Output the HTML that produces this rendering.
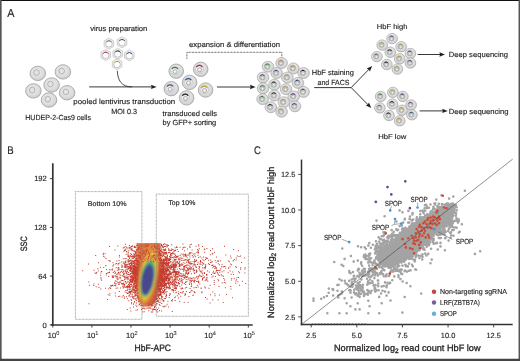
<!DOCTYPE html><html><head><meta charset="utf-8"><style>html,body{margin:0;padding:0;background:#fff;}svg{display:block;} text{stroke:#231f20;stroke-width:0.15px;paint-order:stroke;} text.big{stroke-width:0.3px;} svg{will-change:transform;text-rendering:geometricPrecision;}</style></head><body><svg width="520" height="361" viewBox="0 0 520 361" font-family='"Liberation Sans", sans-serif'>
<defs><radialGradient id="ng" cx="0.5" cy="0.4" r="0.6"><stop offset="0" stop-color="#ffffff"/><stop offset="1" stop-color="#cfcfcf"/></radialGradient><radialGradient id="cg" cx="0.45" cy="0.4" r="0.6"><stop offset="0" stop-color="#ececec"/><stop offset="0.7" stop-color="#dcdcdc"/><stop offset="1" stop-color="#cbcbcb"/></radialGradient><filter id="bl" x="-50%" y="-50%" width="200%" height="200%"><feGaussianBlur stdDeviation="0.9"/></filter></defs>
<rect width="520" height="361" fill="#fff"/>
<text x="7.30" y="17.20" font-size="11.6" fill="#231f20" text-anchor="start" textLength="7.20" lengthAdjust="spacingAndGlyphs" >A</text>
<text x="90.20" y="30.80" font-size="7.4" fill="#231f20" text-anchor="start" textLength="57.20" lengthAdjust="spacingAndGlyphs" >virus preparation</text>
<text x="189.00" y="47.00" font-size="7.4" fill="#231f20" text-anchor="start" textLength="91.00" lengthAdjust="spacingAndGlyphs" >expansion &amp; differentiation</text>
<text x="25.30" y="119.70" font-size="7.4" fill="#231f20" text-anchor="start" textLength="65.60" lengthAdjust="spacingAndGlyphs" >HUDEP-2-Cas9 cells</text>
<text x="73.30" y="103.50" font-size="7.4" fill="#231f20" text-anchor="start" textLength="101.90" lengthAdjust="spacingAndGlyphs" >pooled lentivirus transduction</text>
<text x="111.20" y="113.50" font-size="7.4" fill="#231f20" text-anchor="start" textLength="25.80" lengthAdjust="spacingAndGlyphs" >MOI 0.3</text>
<text x="162.60" y="116.30" font-size="7.4" fill="#231f20" text-anchor="start" textLength="54.50" lengthAdjust="spacingAndGlyphs" >transduced cells</text>
<text x="162.60" y="125.00" font-size="7.4" fill="#231f20" text-anchor="start" textLength="53.60" lengthAdjust="spacingAndGlyphs" >by GFP+ sorting</text>
<text x="311.80" y="75.10" font-size="7.4" fill="#231f20" text-anchor="start" textLength="42.00" lengthAdjust="spacingAndGlyphs" >HbF staining</text>
<text x="317.60" y="84.90" font-size="7.4" fill="#231f20" text-anchor="start" textLength="31.70" lengthAdjust="spacingAndGlyphs" >and FACS</text>
<text x="376.70" y="29.40" font-size="7.0" fill="#231f20" text-anchor="start" textLength="30.80" lengthAdjust="spacingAndGlyphs" >HbF high</text>
<text x="448.80" y="57.20" font-size="7.4" fill="#231f20" text-anchor="start" textLength="59.30" lengthAdjust="spacingAndGlyphs" >Deep sequencing</text>
<text x="448.80" y="114.00" font-size="7.4" fill="#231f20" text-anchor="start" textLength="59.80" lengthAdjust="spacingAndGlyphs" >Deep sequencing</text>
<text x="378.20" y="138.80" font-size="7.0" fill="#231f20" text-anchor="start" textLength="28.20" lengthAdjust="spacingAndGlyphs" >HbF low</text>
<line x1="89.20" y1="86.90" x2="153.00" y2="86.90" stroke="#231f20" stroke-width="0.9" />
<path d="M156.60 86.90L151.00 89.10L151.67 86.90L151.00 84.70z" fill="#231f20"/>
<path d="M117.3 70.8C117.8 80 121 86.9 132 86.9" fill="none" stroke="#231f20" stroke-width="0.8"/>
<line x1="217.00" y1="87.00" x2="252.00" y2="87.00" stroke="#231f20" stroke-width="0.9" />
<path d="M255.60 87.00L250.00 89.20L250.67 87.00L250.00 84.80z" fill="#231f20"/>
<line x1="314.20" y1="87.60" x2="351.20" y2="87.60" stroke="#231f20" stroke-width="0.9" />
<line x1="351.20" y1="87.60" x2="369.50" y2="68.70" stroke="#231f20" stroke-width="0.9" />
<path d="M372.20 66.00L369.87 71.55L368.76 69.53L366.72 68.48z" fill="#231f20"/>
<line x1="351.20" y1="87.60" x2="368.60" y2="105.30" stroke="#231f20" stroke-width="0.9" />
<path d="M371.30 108.00L365.80 105.56L367.84 104.49L368.94 102.47z" fill="#231f20"/>
<line x1="417.70" y1="54.50" x2="441.50" y2="54.50" stroke="#231f20" stroke-width="0.9" />
<path d="M445.00 54.50L439.40 56.70L440.07 54.50L439.40 52.30z" fill="#231f20"/>
<line x1="419.60" y1="110.90" x2="444.30" y2="110.90" stroke="#231f20" stroke-width="0.9" />
<path d="M447.80 110.90L442.20 113.10L442.87 110.90L442.20 108.70z" fill="#231f20"/>
<path d="M186.9 58.8V52.3H281.8V57.6" fill="none" stroke="#222" stroke-width="0.9" stroke-dasharray="0.7 0.75"/>
<ellipse cx="37.80" cy="73.40" rx="7.80" ry="7.20" fill="url(#cg)" stroke="#9a9a9a" stroke-width="0.75"/>
<circle cx="36.63" cy="72.54" r="2.78" fill="#e4e4e4" stroke="#a0a0a0" stroke-width="0.70"/>
<ellipse cx="62.90" cy="71.90" rx="7.80" ry="7.20" fill="url(#cg)" stroke="#9a9a9a" stroke-width="0.75"/>
<circle cx="61.73" cy="71.04" r="2.78" fill="#e4e4e4" stroke="#a0a0a0" stroke-width="0.70"/>
<ellipse cx="51.60" cy="85.00" rx="7.80" ry="7.20" fill="url(#cg)" stroke="#9a9a9a" stroke-width="0.75"/>
<circle cx="50.43" cy="84.14" r="2.78" fill="#e4e4e4" stroke="#a0a0a0" stroke-width="0.70"/>
<ellipse cx="33.40" cy="90.90" rx="7.80" ry="7.20" fill="url(#cg)" stroke="#9a9a9a" stroke-width="0.75"/>
<circle cx="32.23" cy="90.04" r="2.78" fill="#e4e4e4" stroke="#a0a0a0" stroke-width="0.70"/>
<ellipse cx="67.10" cy="92.75" rx="7.80" ry="7.20" fill="url(#cg)" stroke="#9a9a9a" stroke-width="0.75"/>
<circle cx="65.93" cy="91.89" r="2.78" fill="#e4e4e4" stroke="#a0a0a0" stroke-width="0.70"/>
<ellipse cx="49.00" cy="100.00" rx="7.80" ry="7.20" fill="url(#cg)" stroke="#9a9a9a" stroke-width="0.75"/>
<circle cx="47.83" cy="99.14" r="2.78" fill="#e4e4e4" stroke="#a0a0a0" stroke-width="0.70"/>
<polygon points="108.90,38.10 113.66,40.85 113.66,46.35 108.90,49.10 104.14,46.35 104.14,40.85" fill="#fcfcfc" stroke="#a0a0a0" stroke-width="0.5"/>
<polygon points="108.90,38.98 112.90,41.29 112.90,45.91 108.90,48.22 104.90,45.91 104.90,41.29" fill="none" stroke="#cfcfcf" stroke-width="0.4"/>
<circle cx="108.90" cy="43.80" r="3.3" fill="#ffffff" stroke="#8e8e8e" stroke-width="0.5"/>
<path d="M106.30 42.30A3.0 3.0 0 0 1 111.50 42.30" fill="none" stroke="#3d7d35" stroke-width="0.95"/>
<polygon points="122.00,36.80 126.76,39.55 126.76,45.05 122.00,47.80 117.24,45.05 117.24,39.55" fill="#fcfcfc" stroke="#a0a0a0" stroke-width="0.5"/>
<polygon points="122.00,37.68 126.00,39.99 126.00,44.61 122.00,46.92 118.00,44.61 118.00,39.99" fill="none" stroke="#cfcfcf" stroke-width="0.4"/>
<circle cx="122.00" cy="42.50" r="3.3" fill="#ffffff" stroke="#8e8e8e" stroke-width="0.5"/>
<path d="M119.40 41.00A3.0 3.0 0 0 1 124.60 41.00" fill="none" stroke="#5f3776" stroke-width="0.95"/>
<polygon points="105.70,49.50 110.46,52.25 110.46,57.75 105.70,60.50 100.94,57.75 100.94,52.25" fill="#fcfcfc" stroke="#a0a0a0" stroke-width="0.5"/>
<polygon points="105.70,50.38 109.70,52.69 109.70,57.31 105.70,59.62 101.70,57.31 101.70,52.69" fill="none" stroke="#cfcfcf" stroke-width="0.4"/>
<circle cx="105.70" cy="55.20" r="3.3" fill="#ffffff" stroke="#8e8e8e" stroke-width="0.5"/>
<path d="M103.10 53.70A3.0 3.0 0 0 1 108.30 53.70" fill="none" stroke="#a52b3b" stroke-width="0.95"/>
<polygon points="117.70,48.20 122.46,50.95 122.46,56.45 117.70,59.20 112.94,56.45 112.94,50.95" fill="#fcfcfc" stroke="#a0a0a0" stroke-width="0.5"/>
<polygon points="117.70,49.08 121.70,51.39 121.70,56.01 117.70,58.32 113.70,56.01 113.70,51.39" fill="none" stroke="#cfcfcf" stroke-width="0.4"/>
<circle cx="117.70" cy="53.90" r="3.3" fill="#ffffff" stroke="#8e8e8e" stroke-width="0.5"/>
<path d="M115.10 52.40A3.0 3.0 0 0 1 120.30 52.40" fill="none" stroke="#1a1a1a" stroke-width="0.95"/>
<polygon points="129.30,49.90 134.06,52.65 134.06,58.15 129.30,60.90 124.54,58.15 124.54,52.65" fill="#fcfcfc" stroke="#a0a0a0" stroke-width="0.5"/>
<polygon points="129.30,50.78 133.30,53.09 133.30,57.71 129.30,60.02 125.30,57.71 125.30,53.09" fill="none" stroke="#cfcfcf" stroke-width="0.4"/>
<circle cx="129.30" cy="55.60" r="3.3" fill="#ffffff" stroke="#8e8e8e" stroke-width="0.5"/>
<path d="M126.70 54.10A3.0 3.0 0 0 1 131.90 54.10" fill="none" stroke="#26457f" stroke-width="0.95"/>
<polygon points="117.10,58.70 121.86,61.45 121.86,66.95 117.10,69.70 112.34,66.95 112.34,61.45" fill="#fcfcfc" stroke="#a0a0a0" stroke-width="0.5"/>
<polygon points="117.10,59.58 121.10,61.89 121.10,66.51 117.10,68.82 113.10,66.51 113.10,61.89" fill="none" stroke="#cfcfcf" stroke-width="0.4"/>
<circle cx="117.10" cy="64.40" r="3.3" fill="#ffffff" stroke="#8e8e8e" stroke-width="0.5"/>
<path d="M114.50 62.90A3.0 3.0 0 0 1 119.70 62.90" fill="none" stroke="#c29d2b" stroke-width="0.95"/>
<ellipse cx="176.20" cy="71.20" rx="7.30" ry="7.20" fill="url(#cg)" stroke="#9a9a9a" stroke-width="0.75"/>
<circle cx="174.89" cy="70.77" r="4.23" fill="#e9e9e9" stroke="#b0b0b0" stroke-width="0.50"/>
<circle cx="175.10" cy="71.79" r="2.04" fill="url(#ng)" stroke="#8c8c8c" stroke-width="0.50"/>
<path d="M171.91 69.05A3.43 3.43 0 0 1 177.86 69.05" fill="none" stroke="#3d7d35" stroke-width="1.25"/>
<ellipse cx="200.70" cy="69.30" rx="7.30" ry="7.20" fill="url(#cg)" stroke="#9a9a9a" stroke-width="0.75"/>
<circle cx="199.39" cy="68.87" r="4.23" fill="#e9e9e9" stroke="#b0b0b0" stroke-width="0.50"/>
<circle cx="199.60" cy="69.89" r="2.04" fill="url(#ng)" stroke="#8c8c8c" stroke-width="0.50"/>
<path d="M196.41 67.15A3.43 3.43 0 0 1 202.36 67.15" fill="none" stroke="#a52b3b" stroke-width="1.25"/>
<ellipse cx="189.60" cy="82.40" rx="7.30" ry="7.20" fill="url(#cg)" stroke="#9a9a9a" stroke-width="0.75"/>
<circle cx="188.29" cy="81.97" r="4.23" fill="#e9e9e9" stroke="#b0b0b0" stroke-width="0.50"/>
<circle cx="188.50" cy="82.99" r="2.04" fill="url(#ng)" stroke="#8c8c8c" stroke-width="0.50"/>
<path d="M185.31 80.25A3.43 3.43 0 0 1 191.26 80.25" fill="none" stroke="#26457f" stroke-width="1.25"/>
<ellipse cx="171.30" cy="88.70" rx="7.30" ry="7.20" fill="url(#cg)" stroke="#9a9a9a" stroke-width="0.75"/>
<circle cx="169.99" cy="88.27" r="4.23" fill="#e9e9e9" stroke="#b0b0b0" stroke-width="0.50"/>
<circle cx="170.21" cy="89.29" r="2.04" fill="url(#ng)" stroke="#8c8c8c" stroke-width="0.50"/>
<path d="M167.01 86.55A3.43 3.43 0 0 1 172.96 86.55" fill="none" stroke="#5f3776" stroke-width="1.25"/>
<ellipse cx="205.60" cy="90.00" rx="7.30" ry="7.20" fill="url(#cg)" stroke="#9a9a9a" stroke-width="0.75"/>
<circle cx="204.29" cy="89.57" r="4.23" fill="#e9e9e9" stroke="#b0b0b0" stroke-width="0.50"/>
<circle cx="204.50" cy="90.59" r="2.04" fill="url(#ng)" stroke="#8c8c8c" stroke-width="0.50"/>
<path d="M201.31 87.85A3.43 3.43 0 0 1 207.26 87.85" fill="none" stroke="#c29d2b" stroke-width="1.25"/>
<ellipse cx="186.60" cy="97.90" rx="7.30" ry="7.20" fill="url(#cg)" stroke="#9a9a9a" stroke-width="0.75"/>
<circle cx="185.29" cy="97.47" r="4.23" fill="#e9e9e9" stroke="#b0b0b0" stroke-width="0.50"/>
<circle cx="185.50" cy="98.49" r="2.04" fill="url(#ng)" stroke="#8c8c8c" stroke-width="0.50"/>
<path d="M182.31 95.75A3.43 3.43 0 0 1 188.26 95.75" fill="none" stroke="#1a1a1a" stroke-width="1.25"/>
<ellipse cx="268.00" cy="66.70" rx="5.80" ry="5.50" fill="url(#cg)" stroke="#9a9a9a" stroke-width="0.60"/>
<circle cx="267.30" cy="66.37" r="2.90" fill="#c2c2c2" stroke="#8c8c8c" stroke-width="0.40"/>
<circle cx="267.48" cy="67.18" r="1.39" fill="url(#ng)" stroke="#b0b0b0" stroke-width="0.40"/>
<path d="M265.29 65.21A2.32 2.32 0 0 1 269.31 65.21" fill="none" stroke="#3d7d35" stroke-width="1.00"/>
<ellipse cx="281.60" cy="63.10" rx="5.80" ry="5.50" fill="url(#cg)" stroke="#9a9a9a" stroke-width="0.60"/>
<circle cx="280.90" cy="62.77" r="2.90" fill="#c2c2c2" stroke="#8c8c8c" stroke-width="0.40"/>
<circle cx="281.08" cy="63.58" r="1.39" fill="url(#ng)" stroke="#b0b0b0" stroke-width="0.40"/>
<path d="M278.89 61.61A2.32 2.32 0 0 1 282.91 61.61" fill="none" stroke="#c0862a" stroke-width="1.00"/>
<ellipse cx="293.40" cy="68.50" rx="5.80" ry="5.50" fill="url(#cg)" stroke="#9a9a9a" stroke-width="0.60"/>
<circle cx="292.70" cy="68.17" r="2.90" fill="#c2c2c2" stroke="#8c8c8c" stroke-width="0.40"/>
<circle cx="292.88" cy="68.98" r="1.39" fill="url(#ng)" stroke="#b0b0b0" stroke-width="0.40"/>
<path d="M290.69 67.01A2.32 2.32 0 0 1 294.71 67.01" fill="none" stroke="#c0862a" stroke-width="1.00"/>
<ellipse cx="303.60" cy="73.00" rx="5.80" ry="5.50" fill="url(#cg)" stroke="#9a9a9a" stroke-width="0.60"/>
<circle cx="302.90" cy="72.67" r="2.90" fill="#c2c2c2" stroke="#8c8c8c" stroke-width="0.40"/>
<circle cx="303.08" cy="73.48" r="1.39" fill="url(#ng)" stroke="#b0b0b0" stroke-width="0.40"/>
<path d="M300.89 71.51A2.32 2.32 0 0 1 304.91 71.51" fill="none" stroke="#1a1a1a" stroke-width="1.00"/>
<ellipse cx="276.60" cy="73.00" rx="5.80" ry="5.50" fill="url(#cg)" stroke="#9a9a9a" stroke-width="0.60"/>
<circle cx="275.90" cy="72.67" r="2.90" fill="#c2c2c2" stroke="#8c8c8c" stroke-width="0.40"/>
<circle cx="276.08" cy="73.48" r="1.39" fill="url(#ng)" stroke="#b0b0b0" stroke-width="0.40"/>
<path d="M273.89 71.51A2.32 2.32 0 0 1 277.91 71.51" fill="none" stroke="#26457f" stroke-width="1.00"/>
<ellipse cx="287.40" cy="77.50" rx="5.80" ry="5.50" fill="url(#cg)" stroke="#9a9a9a" stroke-width="0.60"/>
<circle cx="286.70" cy="77.17" r="2.90" fill="#c2c2c2" stroke="#8c8c8c" stroke-width="0.40"/>
<circle cx="286.88" cy="77.98" r="1.39" fill="url(#ng)" stroke="#b0b0b0" stroke-width="0.40"/>
<path d="M284.69 76.01A2.32 2.32 0 0 1 288.71 76.01" fill="none" stroke="#c29d2b" stroke-width="1.00"/>
<ellipse cx="263.10" cy="77.50" rx="5.80" ry="5.50" fill="url(#cg)" stroke="#9a9a9a" stroke-width="0.60"/>
<circle cx="262.40" cy="77.17" r="2.90" fill="#c2c2c2" stroke="#8c8c8c" stroke-width="0.40"/>
<circle cx="262.58" cy="77.98" r="1.39" fill="url(#ng)" stroke="#b0b0b0" stroke-width="0.40"/>
<path d="M260.39 76.01A2.32 2.32 0 0 1 264.41 76.01" fill="none" stroke="#5f3776" stroke-width="1.00"/>
<ellipse cx="297.90" cy="82.90" rx="5.80" ry="5.50" fill="url(#cg)" stroke="#9a9a9a" stroke-width="0.60"/>
<circle cx="297.20" cy="82.57" r="2.90" fill="#c2c2c2" stroke="#8c8c8c" stroke-width="0.40"/>
<circle cx="297.38" cy="83.38" r="1.39" fill="url(#ng)" stroke="#b0b0b0" stroke-width="0.40"/>
<path d="M295.19 81.41A2.32 2.32 0 0 1 299.21 81.41" fill="none" stroke="#26457f" stroke-width="1.00"/>
<ellipse cx="274.40" cy="84.70" rx="5.80" ry="5.50" fill="url(#cg)" stroke="#9a9a9a" stroke-width="0.60"/>
<circle cx="273.70" cy="84.37" r="2.90" fill="#c2c2c2" stroke="#8c8c8c" stroke-width="0.40"/>
<circle cx="273.88" cy="85.18" r="1.39" fill="url(#ng)" stroke="#b0b0b0" stroke-width="0.40"/>
<path d="M271.69 83.21A2.32 2.32 0 0 1 275.71 83.21" fill="none" stroke="#1a1a1a" stroke-width="1.00"/>
<ellipse cx="263.10" cy="88.30" rx="5.80" ry="5.50" fill="url(#cg)" stroke="#9a9a9a" stroke-width="0.60"/>
<circle cx="262.40" cy="87.97" r="2.90" fill="#c2c2c2" stroke="#8c8c8c" stroke-width="0.40"/>
<circle cx="262.58" cy="88.78" r="1.39" fill="url(#ng)" stroke="#b0b0b0" stroke-width="0.40"/>
<path d="M260.39 86.81A2.32 2.32 0 0 1 264.41 86.81" fill="none" stroke="#3d7d35" stroke-width="1.00"/>
<ellipse cx="286.00" cy="89.20" rx="5.80" ry="5.50" fill="url(#cg)" stroke="#9a9a9a" stroke-width="0.60"/>
<circle cx="285.30" cy="88.87" r="2.90" fill="#c2c2c2" stroke="#8c8c8c" stroke-width="0.40"/>
<circle cx="285.48" cy="89.68" r="1.39" fill="url(#ng)" stroke="#b0b0b0" stroke-width="0.40"/>
<path d="M283.29 87.71A2.32 2.32 0 0 1 287.31 87.71" fill="none" stroke="#c29d2b" stroke-width="1.00"/>
<ellipse cx="303.60" cy="91.90" rx="5.80" ry="5.50" fill="url(#cg)" stroke="#9a9a9a" stroke-width="0.60"/>
<circle cx="302.90" cy="91.57" r="2.90" fill="#c2c2c2" stroke="#8c8c8c" stroke-width="0.40"/>
<circle cx="303.08" cy="92.38" r="1.39" fill="url(#ng)" stroke="#b0b0b0" stroke-width="0.40"/>
<path d="M300.89 90.41A2.32 2.32 0 0 1 304.91 90.41" fill="none" stroke="#5f3776" stroke-width="1.00"/>
<ellipse cx="274.40" cy="95.50" rx="5.80" ry="5.50" fill="url(#cg)" stroke="#9a9a9a" stroke-width="0.60"/>
<circle cx="273.70" cy="95.17" r="2.90" fill="#c2c2c2" stroke="#8c8c8c" stroke-width="0.40"/>
<circle cx="273.88" cy="95.98" r="1.39" fill="url(#ng)" stroke="#b0b0b0" stroke-width="0.40"/>
<path d="M271.69 94.01A2.32 2.32 0 0 1 275.71 94.01" fill="none" stroke="#1a1a1a" stroke-width="1.00"/>
<ellipse cx="293.70" cy="96.40" rx="5.80" ry="5.50" fill="url(#cg)" stroke="#9a9a9a" stroke-width="0.60"/>
<circle cx="293.00" cy="96.07" r="2.90" fill="#c2c2c2" stroke="#8c8c8c" stroke-width="0.40"/>
<circle cx="293.18" cy="96.88" r="1.39" fill="url(#ng)" stroke="#b0b0b0" stroke-width="0.40"/>
<path d="M290.99 94.91A2.32 2.32 0 0 1 295.01 94.91" fill="none" stroke="#5f3776" stroke-width="1.00"/>
<ellipse cx="262.60" cy="99.10" rx="5.80" ry="5.50" fill="url(#cg)" stroke="#9a9a9a" stroke-width="0.60"/>
<circle cx="261.90" cy="98.77" r="2.90" fill="#c2c2c2" stroke="#8c8c8c" stroke-width="0.40"/>
<circle cx="262.08" cy="99.58" r="1.39" fill="url(#ng)" stroke="#b0b0b0" stroke-width="0.40"/>
<path d="M259.89 97.61A2.32 2.32 0 0 1 263.91 97.61" fill="none" stroke="#3d7d35" stroke-width="1.00"/>
<ellipse cx="283.80" cy="102.20" rx="5.80" ry="5.50" fill="url(#cg)" stroke="#9a9a9a" stroke-width="0.60"/>
<circle cx="283.10" cy="101.87" r="2.90" fill="#c2c2c2" stroke="#8c8c8c" stroke-width="0.40"/>
<circle cx="283.28" cy="102.68" r="1.39" fill="url(#ng)" stroke="#b0b0b0" stroke-width="0.40"/>
<path d="M281.09 100.71A2.32 2.32 0 0 1 285.11 100.71" fill="none" stroke="#c29d2b" stroke-width="1.00"/>
<ellipse cx="270.80" cy="107.20" rx="5.80" ry="5.50" fill="url(#cg)" stroke="#9a9a9a" stroke-width="0.60"/>
<circle cx="270.10" cy="106.87" r="2.90" fill="#c2c2c2" stroke="#8c8c8c" stroke-width="0.40"/>
<circle cx="270.28" cy="107.68" r="1.39" fill="url(#ng)" stroke="#b0b0b0" stroke-width="0.40"/>
<path d="M268.09 105.71A2.32 2.32 0 0 1 272.11 105.71" fill="none" stroke="#1a1a1a" stroke-width="1.00"/>
<ellipse cx="295.00" cy="106.30" rx="5.80" ry="5.50" fill="url(#cg)" stroke="#9a9a9a" stroke-width="0.60"/>
<circle cx="294.30" cy="105.97" r="2.90" fill="#c2c2c2" stroke="#8c8c8c" stroke-width="0.40"/>
<circle cx="294.48" cy="106.78" r="1.39" fill="url(#ng)" stroke="#b0b0b0" stroke-width="0.40"/>
<path d="M292.29 104.81A2.32 2.32 0 0 1 296.31 104.81" fill="none" stroke="#26457f" stroke-width="1.00"/>
<ellipse cx="281.60" cy="111.70" rx="5.80" ry="5.50" fill="url(#cg)" stroke="#9a9a9a" stroke-width="0.60"/>
<circle cx="280.90" cy="111.37" r="2.90" fill="#c2c2c2" stroke="#8c8c8c" stroke-width="0.40"/>
<circle cx="281.08" cy="112.18" r="1.39" fill="url(#ng)" stroke="#b0b0b0" stroke-width="0.40"/>
<path d="M278.89 110.21A2.32 2.32 0 0 1 282.91 110.21" fill="none" stroke="#c29d2b" stroke-width="1.00"/>
<ellipse cx="392.10" cy="38.60" rx="5.40" ry="5.20" fill="url(#cg)" stroke="#9a9a9a" stroke-width="0.60"/>
<circle cx="391.45" cy="38.29" r="2.70" fill="#c2c2c2" stroke="#8c8c8c" stroke-width="0.40"/>
<circle cx="391.61" cy="39.04" r="1.30" fill="url(#ng)" stroke="#b0b0b0" stroke-width="0.40"/>
<path d="M389.58 37.21A2.16 2.16 0 0 1 393.32 37.21" fill="none" stroke="#5f3776" stroke-width="1.00"/>
<ellipse cx="382.20" cy="45.10" rx="5.40" ry="5.20" fill="url(#cg)" stroke="#9a9a9a" stroke-width="0.60"/>
<circle cx="381.55" cy="44.79" r="2.70" fill="#c2c2c2" stroke="#8c8c8c" stroke-width="0.40"/>
<circle cx="381.71" cy="45.54" r="1.30" fill="url(#ng)" stroke="#b0b0b0" stroke-width="0.40"/>
<path d="M379.68 43.71A2.16 2.16 0 0 1 383.42 43.71" fill="none" stroke="#c29d2b" stroke-width="1.00"/>
<ellipse cx="401.20" cy="46.70" rx="5.40" ry="5.20" fill="url(#cg)" stroke="#9a9a9a" stroke-width="0.60"/>
<circle cx="400.55" cy="46.39" r="2.70" fill="#c2c2c2" stroke="#8c8c8c" stroke-width="0.40"/>
<circle cx="400.71" cy="47.14" r="1.30" fill="url(#ng)" stroke="#b0b0b0" stroke-width="0.40"/>
<path d="M398.68 45.31A2.16 2.16 0 0 1 402.42 45.31" fill="none" stroke="#c29d2b" stroke-width="1.00"/>
<ellipse cx="390.30" cy="52.30" rx="5.40" ry="5.20" fill="url(#cg)" stroke="#9a9a9a" stroke-width="0.60"/>
<circle cx="389.65" cy="51.99" r="2.70" fill="#c2c2c2" stroke="#8c8c8c" stroke-width="0.40"/>
<circle cx="389.81" cy="52.74" r="1.30" fill="url(#ng)" stroke="#b0b0b0" stroke-width="0.40"/>
<path d="M387.78 50.91A2.16 2.16 0 0 1 391.52 50.91" fill="none" stroke="#1a1a1a" stroke-width="1.00"/>
<ellipse cx="410.40" cy="53.50" rx="5.40" ry="5.20" fill="url(#cg)" stroke="#9a9a9a" stroke-width="0.60"/>
<circle cx="409.75" cy="53.19" r="2.70" fill="#c2c2c2" stroke="#8c8c8c" stroke-width="0.40"/>
<circle cx="409.91" cy="53.94" r="1.30" fill="url(#ng)" stroke="#b0b0b0" stroke-width="0.40"/>
<path d="M407.88 52.11A2.16 2.16 0 0 1 411.62 52.11" fill="none" stroke="#5f3776" stroke-width="1.00"/>
<ellipse cx="376.90" cy="56.60" rx="5.40" ry="5.20" fill="url(#cg)" stroke="#9a9a9a" stroke-width="0.60"/>
<circle cx="376.25" cy="56.29" r="2.70" fill="#c2c2c2" stroke="#8c8c8c" stroke-width="0.40"/>
<circle cx="376.41" cy="57.04" r="1.30" fill="url(#ng)" stroke="#b0b0b0" stroke-width="0.40"/>
<path d="M374.38 55.21A2.16 2.16 0 0 1 378.12 55.21" fill="none" stroke="#3d7d35" stroke-width="1.00"/>
<ellipse cx="399.70" cy="58.80" rx="5.40" ry="5.20" fill="url(#cg)" stroke="#9a9a9a" stroke-width="0.60"/>
<circle cx="399.05" cy="58.49" r="2.70" fill="#c2c2c2" stroke="#8c8c8c" stroke-width="0.40"/>
<circle cx="399.21" cy="59.24" r="1.30" fill="url(#ng)" stroke="#b0b0b0" stroke-width="0.40"/>
<path d="M397.18 57.41A2.16 2.16 0 0 1 400.92 57.41" fill="none" stroke="#c29d2b" stroke-width="1.00"/>
<ellipse cx="386.80" cy="64.50" rx="5.40" ry="5.20" fill="url(#cg)" stroke="#9a9a9a" stroke-width="0.60"/>
<circle cx="386.15" cy="64.19" r="2.70" fill="#c2c2c2" stroke="#8c8c8c" stroke-width="0.40"/>
<circle cx="386.31" cy="64.94" r="1.30" fill="url(#ng)" stroke="#b0b0b0" stroke-width="0.40"/>
<path d="M384.28 63.11A2.16 2.16 0 0 1 388.02 63.11" fill="none" stroke="#1a1a1a" stroke-width="1.00"/>
<ellipse cx="410.40" cy="63.00" rx="5.40" ry="5.20" fill="url(#cg)" stroke="#9a9a9a" stroke-width="0.60"/>
<circle cx="409.75" cy="62.69" r="2.70" fill="#c2c2c2" stroke="#8c8c8c" stroke-width="0.40"/>
<circle cx="409.91" cy="63.44" r="1.30" fill="url(#ng)" stroke="#b0b0b0" stroke-width="0.40"/>
<path d="M407.88 61.61A2.16 2.16 0 0 1 411.62 61.61" fill="none" stroke="#26457f" stroke-width="1.00"/>
<ellipse cx="397.40" cy="69.10" rx="5.40" ry="5.20" fill="url(#cg)" stroke="#9a9a9a" stroke-width="0.60"/>
<circle cx="396.75" cy="68.79" r="2.70" fill="#c2c2c2" stroke="#8c8c8c" stroke-width="0.40"/>
<circle cx="396.91" cy="69.54" r="1.30" fill="url(#ng)" stroke="#b0b0b0" stroke-width="0.40"/>
<path d="M394.88 67.71A2.16 2.16 0 0 1 398.62 67.71" fill="none" stroke="#c29d2b" stroke-width="1.00"/>
<ellipse cx="392.90" cy="92.40" rx="5.40" ry="5.20" fill="url(#cg)" stroke="#9a9a9a" stroke-width="0.60"/>
<circle cx="392.25" cy="92.09" r="2.70" fill="#c2c2c2" stroke="#8c8c8c" stroke-width="0.40"/>
<circle cx="392.41" cy="92.84" r="1.30" fill="url(#ng)" stroke="#b0b0b0" stroke-width="0.40"/>
<path d="M390.38 91.01A2.16 2.16 0 0 1 394.12 91.01" fill="none" stroke="#c29d2b" stroke-width="1.00"/>
<ellipse cx="380.70" cy="96.50" rx="5.40" ry="5.20" fill="url(#cg)" stroke="#9a9a9a" stroke-width="0.60"/>
<circle cx="380.05" cy="96.19" r="2.70" fill="#c2c2c2" stroke="#8c8c8c" stroke-width="0.40"/>
<circle cx="380.21" cy="96.94" r="1.30" fill="url(#ng)" stroke="#b0b0b0" stroke-width="0.40"/>
<path d="M378.18 95.11A2.16 2.16 0 0 1 381.92 95.11" fill="none" stroke="#3d7d35" stroke-width="1.00"/>
<ellipse cx="402.80" cy="96.50" rx="5.40" ry="5.20" fill="url(#cg)" stroke="#9a9a9a" stroke-width="0.60"/>
<circle cx="402.15" cy="96.19" r="2.70" fill="#c2c2c2" stroke="#8c8c8c" stroke-width="0.40"/>
<circle cx="402.31" cy="96.94" r="1.30" fill="url(#ng)" stroke="#b0b0b0" stroke-width="0.40"/>
<path d="M400.28 95.11A2.16 2.16 0 0 1 404.02 95.11" fill="none" stroke="#5f3776" stroke-width="1.00"/>
<ellipse cx="392.50" cy="104.10" rx="5.40" ry="5.20" fill="url(#cg)" stroke="#9a9a9a" stroke-width="0.60"/>
<circle cx="391.85" cy="103.79" r="2.70" fill="#c2c2c2" stroke="#8c8c8c" stroke-width="0.40"/>
<circle cx="392.01" cy="104.54" r="1.30" fill="url(#ng)" stroke="#b0b0b0" stroke-width="0.40"/>
<path d="M389.98 102.71A2.16 2.16 0 0 1 393.72 102.71" fill="none" stroke="#1a1a1a" stroke-width="1.00"/>
<ellipse cx="411.10" cy="104.90" rx="5.40" ry="5.20" fill="url(#cg)" stroke="#9a9a9a" stroke-width="0.60"/>
<circle cx="410.45" cy="104.59" r="2.70" fill="#c2c2c2" stroke="#8c8c8c" stroke-width="0.40"/>
<circle cx="410.61" cy="105.34" r="1.30" fill="url(#ng)" stroke="#b0b0b0" stroke-width="0.40"/>
<path d="M408.58 103.51A2.16 2.16 0 0 1 412.32 103.51" fill="none" stroke="#5f3776" stroke-width="1.00"/>
<ellipse cx="379.90" cy="107.90" rx="5.40" ry="5.20" fill="url(#cg)" stroke="#9a9a9a" stroke-width="0.60"/>
<circle cx="379.25" cy="107.59" r="2.70" fill="#c2c2c2" stroke="#8c8c8c" stroke-width="0.40"/>
<circle cx="379.41" cy="108.34" r="1.30" fill="url(#ng)" stroke="#b0b0b0" stroke-width="0.40"/>
<path d="M377.38 106.51A2.16 2.16 0 0 1 381.12 106.51" fill="none" stroke="#3d7d35" stroke-width="1.00"/>
<ellipse cx="402.00" cy="110.20" rx="5.40" ry="5.20" fill="url(#cg)" stroke="#9a9a9a" stroke-width="0.60"/>
<circle cx="401.35" cy="109.89" r="2.70" fill="#c2c2c2" stroke="#8c8c8c" stroke-width="0.40"/>
<circle cx="401.51" cy="110.64" r="1.30" fill="url(#ng)" stroke="#b0b0b0" stroke-width="0.40"/>
<path d="M399.48 108.81A2.16 2.16 0 0 1 403.22 108.81" fill="none" stroke="#c29d2b" stroke-width="1.00"/>
<ellipse cx="389.00" cy="115.50" rx="5.40" ry="5.20" fill="url(#cg)" stroke="#9a9a9a" stroke-width="0.60"/>
<circle cx="388.35" cy="115.19" r="2.70" fill="#c2c2c2" stroke="#8c8c8c" stroke-width="0.40"/>
<circle cx="388.51" cy="115.94" r="1.30" fill="url(#ng)" stroke="#b0b0b0" stroke-width="0.40"/>
<path d="M386.48 114.11A2.16 2.16 0 0 1 390.22 114.11" fill="none" stroke="#1a1a1a" stroke-width="1.00"/>
<ellipse cx="411.90" cy="114.80" rx="5.40" ry="5.20" fill="url(#cg)" stroke="#9a9a9a" stroke-width="0.60"/>
<circle cx="411.25" cy="114.49" r="2.70" fill="#c2c2c2" stroke="#8c8c8c" stroke-width="0.40"/>
<circle cx="411.41" cy="115.24" r="1.30" fill="url(#ng)" stroke="#b0b0b0" stroke-width="0.40"/>
<path d="M409.38 113.41A2.16 2.16 0 0 1 413.12 113.41" fill="none" stroke="#26457f" stroke-width="1.00"/>
<ellipse cx="399.70" cy="120.80" rx="5.40" ry="5.20" fill="url(#cg)" stroke="#9a9a9a" stroke-width="0.60"/>
<circle cx="399.05" cy="120.49" r="2.70" fill="#c2c2c2" stroke="#8c8c8c" stroke-width="0.40"/>
<circle cx="399.21" cy="121.24" r="1.30" fill="url(#ng)" stroke="#b0b0b0" stroke-width="0.40"/>
<path d="M397.18 119.41A2.16 2.16 0 0 1 400.92 119.41" fill="none" stroke="#c29d2b" stroke-width="1.00"/>
<text x="7.30" y="153.60" font-size="11.0" fill="#231f20" text-anchor="start" textLength="6.40" lengthAdjust="spacingAndGlyphs" >B</text>
<text x="87.80" y="206.00" font-size="6.8" fill="#231f20" text-anchor="start" textLength="38.80" lengthAdjust="spacingAndGlyphs" >Bottom 10%</text>
<text x="168.40" y="205.20" font-size="6.8" fill="#231f20" text-anchor="start" textLength="27.00" lengthAdjust="spacingAndGlyphs" >Top 10%</text>
<path d="M148.0 256.1h1.0v1.0h-1.0zM149.9 255.8h1.0v1.0h-1.0zM146.2 282.1h1.0v1.0h-1.0zM142.2 311.5h1.0v1.0h-1.0zM145.0 261.6h1.0v1.0h-1.0zM141.6 288.8h1.0v1.0h-1.0zM148.4 279.0h1.0v1.0h-1.0zM156.7 260.1h1.0v1.0h-1.0zM144.8 271.6h1.0v1.0h-1.0zM144.0 272.2h1.0v1.0h-1.0zM151.2 265.8h1.0v1.0h-1.0zM150.3 302.5h1.0v1.0h-1.0zM148.7 248.8h1.0v1.0h-1.0zM142.0 280.8h1.0v1.0h-1.0zM147.8 280.1h1.0v1.0h-1.0zM152.5 267.4h1.0v1.0h-1.0zM139.3 277.6h1.0v1.0h-1.0zM145.0 287.8h1.0v1.0h-1.0zM135.6 277.6h1.0v1.0h-1.0zM139.6 281.3h1.0v1.0h-1.0zM136.0 285.2h1.0v1.0h-1.0zM146.5 247.1h1.0v1.0h-1.0zM139.8 296.2h1.0v1.0h-1.0zM149.8 307.4h1.0v1.0h-1.0zM149.0 289.2h1.0v1.0h-1.0zM146.8 289.7h1.0v1.0h-1.0zM131.6 255.8h1.0v1.0h-1.0zM144.5 273.8h1.0v1.0h-1.0zM147.7 264.1h1.0v1.0h-1.0zM148.7 267.3h1.0v1.0h-1.0zM138.1 289.0h1.0v1.0h-1.0zM144.9 264.2h1.0v1.0h-1.0zM141.6 273.7h1.0v1.0h-1.0zM142.7 248.8h1.0v1.0h-1.0zM154.9 273.3h1.0v1.0h-1.0zM142.8 276.8h1.0v1.0h-1.0zM147.8 265.6h1.0v1.0h-1.0zM153.7 265.4h1.0v1.0h-1.0zM144.2 301.9h1.0v1.0h-1.0zM147.3 258.6h1.0v1.0h-1.0zM148.7 260.8h1.0v1.0h-1.0zM148.4 264.2h1.0v1.0h-1.0zM140.0 292.3h1.0v1.0h-1.0zM148.5 304.9h1.0v1.0h-1.0zM156.8 280.2h1.0v1.0h-1.0zM137.9 265.5h1.0v1.0h-1.0zM153.6 269.5h1.0v1.0h-1.0zM148.8 290.4h1.0v1.0h-1.0zM143.8 262.7h1.0v1.0h-1.0zM161.0 295.8h1.0v1.0h-1.0zM153.0 295.3h1.0v1.0h-1.0zM140.2 276.5h1.0v1.0h-1.0zM148.5 284.5h1.0v1.0h-1.0zM151.7 286.0h1.0v1.0h-1.0zM146.8 297.3h1.0v1.0h-1.0zM152.4 260.8h1.0v1.0h-1.0zM147.6 292.0h1.0v1.0h-1.0zM152.3 270.2h1.0v1.0h-1.0zM157.4 264.8h1.0v1.0h-1.0zM143.6 276.9h1.0v1.0h-1.0zM149.3 272.5h1.0v1.0h-1.0zM145.0 261.7h1.0v1.0h-1.0zM148.8 253.1h1.0v1.0h-1.0zM140.3 262.3h1.0v1.0h-1.0zM144.2 295.8h1.0v1.0h-1.0zM146.7 303.0h1.0v1.0h-1.0zM153.8 284.6h1.0v1.0h-1.0zM155.4 292.1h1.0v1.0h-1.0zM139.4 268.3h1.0v1.0h-1.0zM142.8 274.4h1.0v1.0h-1.0zM152.2 279.5h1.0v1.0h-1.0zM135.0 260.4h1.0v1.0h-1.0zM145.0 261.6h1.0v1.0h-1.0zM147.4 276.9h1.0v1.0h-1.0zM156.2 271.0h1.0v1.0h-1.0zM152.5 260.6h1.0v1.0h-1.0zM145.9 280.9h1.0v1.0h-1.0zM145.6 271.8h1.0v1.0h-1.0zM146.4 289.8h1.0v1.0h-1.0zM157.9 275.4h1.0v1.0h-1.0zM145.2 271.3h1.0v1.0h-1.0zM146.0 277.3h1.0v1.0h-1.0zM150.3 273.1h1.0v1.0h-1.0zM147.2 266.1h1.0v1.0h-1.0zM146.7 269.9h1.0v1.0h-1.0zM140.8 286.0h1.0v1.0h-1.0zM147.9 284.6h1.0v1.0h-1.0zM145.1 293.5h1.0v1.0h-1.0zM155.6 251.8h1.0v1.0h-1.0zM152.2 270.0h1.0v1.0h-1.0zM147.8 269.7h1.0v1.0h-1.0zM152.3 277.9h1.0v1.0h-1.0zM145.8 269.2h1.0v1.0h-1.0zM154.8 268.3h1.0v1.0h-1.0zM148.0 286.5h1.0v1.0h-1.0zM151.8 278.0h1.0v1.0h-1.0zM139.6 259.2h1.0v1.0h-1.0zM150.3 294.2h1.0v1.0h-1.0zM137.0 289.5h1.0v1.0h-1.0zM134.8 267.5h1.0v1.0h-1.0zM146.0 287.1h1.0v1.0h-1.0zM142.2 265.2h1.0v1.0h-1.0zM149.1 291.3h1.0v1.0h-1.0zM162.6 272.5h1.0v1.0h-1.0zM142.6 264.3h1.0v1.0h-1.0zM143.9 270.3h1.0v1.0h-1.0zM149.3 264.8h1.0v1.0h-1.0zM151.2 278.2h1.0v1.0h-1.0zM146.9 278.0h1.0v1.0h-1.0zM146.7 276.0h1.0v1.0h-1.0zM152.6 267.7h1.0v1.0h-1.0zM141.3 276.8h1.0v1.0h-1.0zM147.5 249.0h1.0v1.0h-1.0zM148.2 278.9h1.0v1.0h-1.0zM141.1 291.3h1.0v1.0h-1.0zM149.7 279.3h1.0v1.0h-1.0zM142.4 270.0h1.0v1.0h-1.0zM154.3 273.0h1.0v1.0h-1.0zM149.3 273.6h1.0v1.0h-1.0zM148.6 267.8h1.0v1.0h-1.0zM144.2 267.3h1.0v1.0h-1.0zM147.2 262.6h1.0v1.0h-1.0zM135.0 292.1h1.0v1.0h-1.0zM140.6 275.3h1.0v1.0h-1.0zM150.4 288.9h1.0v1.0h-1.0zM134.2 272.0h1.0v1.0h-1.0zM153.5 276.5h1.0v1.0h-1.0zM136.7 273.1h1.0v1.0h-1.0zM152.9 282.0h1.0v1.0h-1.0zM142.5 287.1h1.0v1.0h-1.0zM153.1 278.9h1.0v1.0h-1.0zM148.9 266.1h1.0v1.0h-1.0zM138.0 264.6h1.0v1.0h-1.0zM156.1 298.7h1.0v1.0h-1.0zM157.4 271.6h1.0v1.0h-1.0zM147.6 271.4h1.0v1.0h-1.0zM146.2 296.0h1.0v1.0h-1.0zM147.0 290.7h1.0v1.0h-1.0zM141.7 283.0h1.0v1.0h-1.0zM155.1 269.9h1.0v1.0h-1.0zM144.5 308.4h1.0v1.0h-1.0zM147.7 281.0h1.0v1.0h-1.0zM142.8 283.2h1.0v1.0h-1.0zM143.9 273.1h1.0v1.0h-1.0zM139.7 255.7h1.0v1.0h-1.0zM156.2 256.8h1.0v1.0h-1.0zM147.0 281.2h1.0v1.0h-1.0zM154.3 281.0h1.0v1.0h-1.0zM148.1 272.1h1.0v1.0h-1.0zM143.5 259.1h1.0v1.0h-1.0zM145.9 255.3h1.0v1.0h-1.0zM144.4 270.9h1.0v1.0h-1.0zM148.1 255.1h1.0v1.0h-1.0zM145.6 288.1h1.0v1.0h-1.0zM146.1 291.6h1.0v1.0h-1.0zM142.8 287.8h1.0v1.0h-1.0zM158.8 267.2h1.0v1.0h-1.0zM143.6 263.3h1.0v1.0h-1.0zM150.2 267.2h1.0v1.0h-1.0zM157.1 273.0h1.0v1.0h-1.0zM138.5 289.0h1.0v1.0h-1.0zM146.6 284.1h1.0v1.0h-1.0zM143.9 283.7h1.0v1.0h-1.0zM136.6 278.5h1.0v1.0h-1.0zM152.8 284.8h1.0v1.0h-1.0zM147.8 295.8h1.0v1.0h-1.0zM148.5 260.6h1.0v1.0h-1.0zM143.1 269.1h1.0v1.0h-1.0zM151.0 256.1h1.0v1.0h-1.0zM144.5 298.2h1.0v1.0h-1.0zM147.1 293.7h1.0v1.0h-1.0zM140.8 286.0h1.0v1.0h-1.0zM140.1 258.7h1.0v1.0h-1.0zM156.7 277.9h1.0v1.0h-1.0zM144.7 272.2h1.0v1.0h-1.0zM149.9 276.6h1.0v1.0h-1.0zM147.8 272.9h1.0v1.0h-1.0zM145.1 282.8h1.0v1.0h-1.0zM144.7 270.0h1.0v1.0h-1.0zM152.1 287.5h1.0v1.0h-1.0zM146.0 278.9h1.0v1.0h-1.0zM147.0 271.4h1.0v1.0h-1.0zM148.1 273.9h1.0v1.0h-1.0zM155.6 269.3h1.0v1.0h-1.0zM152.4 286.9h1.0v1.0h-1.0zM150.5 271.7h1.0v1.0h-1.0zM144.3 279.6h1.0v1.0h-1.0zM139.0 270.0h1.0v1.0h-1.0zM154.2 254.7h1.0v1.0h-1.0zM154.3 288.2h1.0v1.0h-1.0zM147.1 260.7h1.0v1.0h-1.0zM151.5 285.0h1.0v1.0h-1.0zM153.1 281.4h1.0v1.0h-1.0zM153.4 252.3h1.0v1.0h-1.0zM154.0 262.3h1.0v1.0h-1.0zM145.0 268.3h1.0v1.0h-1.0zM157.8 264.0h1.0v1.0h-1.0zM139.9 259.0h1.0v1.0h-1.0zM153.6 285.9h1.0v1.0h-1.0zM151.2 272.1h1.0v1.0h-1.0zM153.7 280.9h1.0v1.0h-1.0zM160.2 269.5h1.0v1.0h-1.0zM157.6 279.8h1.0v1.0h-1.0zM140.6 265.0h1.0v1.0h-1.0zM137.0 275.1h1.0v1.0h-1.0zM153.3 283.6h1.0v1.0h-1.0zM141.4 276.1h1.0v1.0h-1.0zM147.9 269.1h1.0v1.0h-1.0zM153.5 260.3h1.0v1.0h-1.0zM137.3 277.8h1.0v1.0h-1.0zM134.3 280.3h1.0v1.0h-1.0zM149.7 271.9h1.0v1.0h-1.0zM148.3 264.7h1.0v1.0h-1.0zM146.4 283.1h1.0v1.0h-1.0zM148.3 310.2h1.0v1.0h-1.0zM142.4 271.3h1.0v1.0h-1.0zM138.2 280.2h1.0v1.0h-1.0zM146.9 280.8h1.0v1.0h-1.0zM137.3 277.2h1.0v1.0h-1.0zM151.3 265.6h1.0v1.0h-1.0zM147.6 294.9h1.0v1.0h-1.0zM150.6 271.9h1.0v1.0h-1.0zM141.6 264.6h1.0v1.0h-1.0zM143.7 272.4h1.0v1.0h-1.0zM141.5 277.8h1.0v1.0h-1.0zM142.2 267.7h1.0v1.0h-1.0zM149.3 274.8h1.0v1.0h-1.0zM142.9 256.5h1.0v1.0h-1.0zM150.3 272.3h1.0v1.0h-1.0zM150.2 286.4h1.0v1.0h-1.0zM161.2 303.1h1.0v1.0h-1.0zM138.9 285.4h1.0v1.0h-1.0zM153.8 279.3h1.0v1.0h-1.0zM147.4 292.1h1.0v1.0h-1.0zM147.9 289.8h1.0v1.0h-1.0zM138.6 298.8h1.0v1.0h-1.0zM145.0 290.7h1.0v1.0h-1.0zM152.8 273.8h1.0v1.0h-1.0zM147.5 279.1h1.0v1.0h-1.0zM148.5 278.0h1.0v1.0h-1.0zM146.1 279.7h1.0v1.0h-1.0zM155.5 278.3h1.0v1.0h-1.0zM147.9 264.5h1.0v1.0h-1.0zM133.7 246.0h1.0v1.0h-1.0zM143.5 266.1h1.0v1.0h-1.0zM135.2 247.1h1.0v1.0h-1.0zM126.9 276.5h1.0v1.0h-1.0zM144.6 275.6h1.0v1.0h-1.0zM156.7 252.0h1.0v1.0h-1.0zM148.3 285.1h1.0v1.0h-1.0zM140.4 287.6h1.0v1.0h-1.0zM141.9 276.8h1.0v1.0h-1.0zM155.3 298.8h1.0v1.0h-1.0zM149.0 301.7h1.0v1.0h-1.0zM148.3 258.6h1.0v1.0h-1.0zM147.7 290.0h1.0v1.0h-1.0zM148.2 281.7h1.0v1.0h-1.0zM153.2 281.4h1.0v1.0h-1.0zM151.6 288.6h1.0v1.0h-1.0zM149.4 265.4h1.0v1.0h-1.0zM141.2 267.2h1.0v1.0h-1.0zM151.3 263.9h1.0v1.0h-1.0zM143.6 264.9h1.0v1.0h-1.0zM155.1 274.1h1.0v1.0h-1.0zM139.7 255.2h1.0v1.0h-1.0zM147.1 260.9h1.0v1.0h-1.0zM148.0 283.6h1.0v1.0h-1.0zM139.4 274.5h1.0v1.0h-1.0zM159.2 280.9h1.0v1.0h-1.0zM157.5 249.1h1.0v1.0h-1.0zM145.0 264.5h1.0v1.0h-1.0zM153.0 267.7h1.0v1.0h-1.0zM150.5 276.0h1.0v1.0h-1.0zM131.0 267.3h1.0v1.0h-1.0zM149.6 288.6h1.0v1.0h-1.0zM147.6 274.7h1.0v1.0h-1.0zM148.5 275.7h1.0v1.0h-1.0zM141.0 275.7h1.0v1.0h-1.0zM146.2 285.4h1.0v1.0h-1.0zM146.8 268.9h1.0v1.0h-1.0zM155.7 291.2h1.0v1.0h-1.0zM150.2 281.9h1.0v1.0h-1.0zM148.0 277.7h1.0v1.0h-1.0zM157.9 276.1h1.0v1.0h-1.0zM144.4 282.8h1.0v1.0h-1.0zM145.5 289.7h1.0v1.0h-1.0zM136.2 288.7h1.0v1.0h-1.0zM158.2 280.8h1.0v1.0h-1.0zM154.3 287.8h1.0v1.0h-1.0zM154.0 277.2h1.0v1.0h-1.0zM152.3 293.0h1.0v1.0h-1.0zM148.7 275.1h1.0v1.0h-1.0zM149.4 246.4h1.0v1.0h-1.0zM146.4 294.2h1.0v1.0h-1.0zM146.7 277.0h1.0v1.0h-1.0zM148.4 259.1h1.0v1.0h-1.0zM157.8 272.7h1.0v1.0h-1.0zM151.6 263.1h1.0v1.0h-1.0zM147.6 304.9h1.0v1.0h-1.0zM144.2 282.5h1.0v1.0h-1.0zM143.9 253.5h1.0v1.0h-1.0zM158.4 283.1h1.0v1.0h-1.0zM151.3 269.9h1.0v1.0h-1.0zM148.4 302.3h1.0v1.0h-1.0zM145.7 260.8h1.0v1.0h-1.0zM140.8 244.0h1.0v1.0h-1.0zM147.6 276.4h1.0v1.0h-1.0zM153.7 270.6h1.0v1.0h-1.0zM145.4 269.7h1.0v1.0h-1.0zM146.5 245.5h1.0v1.0h-1.0zM146.6 281.5h1.0v1.0h-1.0zM148.7 298.9h1.0v1.0h-1.0zM137.6 248.8h1.0v1.0h-1.0zM146.5 291.9h1.0v1.0h-1.0zM142.4 267.5h1.0v1.0h-1.0zM153.7 308.4h1.0v1.0h-1.0zM143.0 281.6h1.0v1.0h-1.0zM151.8 272.9h1.0v1.0h-1.0zM157.9 291.0h1.0v1.0h-1.0zM146.0 282.9h1.0v1.0h-1.0zM144.1 267.2h1.0v1.0h-1.0zM149.2 285.4h1.0v1.0h-1.0zM148.0 268.4h1.0v1.0h-1.0zM141.5 250.5h1.0v1.0h-1.0zM151.0 303.9h1.0v1.0h-1.0zM161.1 270.6h1.0v1.0h-1.0zM146.3 267.0h1.0v1.0h-1.0zM146.7 280.2h1.0v1.0h-1.0zM141.2 253.7h1.0v1.0h-1.0zM150.1 256.5h1.0v1.0h-1.0zM139.9 268.5h1.0v1.0h-1.0zM140.8 268.2h1.0v1.0h-1.0zM156.3 276.5h1.0v1.0h-1.0zM142.1 291.2h1.0v1.0h-1.0zM155.0 268.9h1.0v1.0h-1.0zM157.9 282.4h1.0v1.0h-1.0zM149.7 283.9h1.0v1.0h-1.0zM151.6 260.3h1.0v1.0h-1.0zM160.7 278.7h1.0v1.0h-1.0zM146.7 262.3h1.0v1.0h-1.0zM144.1 290.4h1.0v1.0h-1.0zM139.2 281.9h1.0v1.0h-1.0zM148.3 275.7h1.0v1.0h-1.0zM157.6 256.7h1.0v1.0h-1.0zM154.2 277.1h1.0v1.0h-1.0zM141.9 264.8h1.0v1.0h-1.0zM142.4 285.4h1.0v1.0h-1.0zM144.7 273.8h1.0v1.0h-1.0zM149.9 264.1h1.0v1.0h-1.0zM146.7 288.5h1.0v1.0h-1.0zM149.4 285.6h1.0v1.0h-1.0zM149.9 267.2h1.0v1.0h-1.0zM146.1 291.8h1.0v1.0h-1.0zM147.7 271.3h1.0v1.0h-1.0zM149.3 271.2h1.0v1.0h-1.0zM147.5 277.2h1.0v1.0h-1.0zM151.3 265.0h1.0v1.0h-1.0zM160.2 269.3h1.0v1.0h-1.0zM151.8 273.3h1.0v1.0h-1.0zM148.4 296.9h1.0v1.0h-1.0zM137.0 296.5h1.0v1.0h-1.0zM150.5 271.9h1.0v1.0h-1.0zM135.3 298.0h1.0v1.0h-1.0zM138.8 274.9h1.0v1.0h-1.0zM153.6 280.8h1.0v1.0h-1.0zM152.6 287.9h1.0v1.0h-1.0zM147.0 279.6h1.0v1.0h-1.0zM136.9 309.3h1.0v1.0h-1.0zM145.6 278.9h1.0v1.0h-1.0zM143.6 258.7h1.0v1.0h-1.0zM152.1 293.8h1.0v1.0h-1.0zM162.7 269.7h1.0v1.0h-1.0zM149.4 271.2h1.0v1.0h-1.0zM140.4 289.5h1.0v1.0h-1.0zM147.6 287.0h1.0v1.0h-1.0zM146.9 286.7h1.0v1.0h-1.0zM140.5 289.2h1.0v1.0h-1.0zM148.8 299.2h1.0v1.0h-1.0zM140.5 274.9h1.0v1.0h-1.0zM155.2 288.6h1.0v1.0h-1.0zM154.9 265.1h1.0v1.0h-1.0zM155.1 270.5h1.0v1.0h-1.0zM144.9 290.3h1.0v1.0h-1.0zM151.3 281.0h1.0v1.0h-1.0zM147.1 256.8h1.0v1.0h-1.0zM145.5 280.6h1.0v1.0h-1.0zM145.8 272.9h1.0v1.0h-1.0zM139.6 264.0h1.0v1.0h-1.0zM138.6 281.6h1.0v1.0h-1.0zM153.2 269.8h1.0v1.0h-1.0zM146.8 253.5h1.0v1.0h-1.0zM149.4 259.9h1.0v1.0h-1.0zM154.5 300.3h1.0v1.0h-1.0zM136.7 254.3h1.0v1.0h-1.0zM142.9 278.6h1.0v1.0h-1.0zM149.1 284.0h1.0v1.0h-1.0zM150.5 284.4h1.0v1.0h-1.0zM145.5 258.3h1.0v1.0h-1.0zM154.7 271.0h1.0v1.0h-1.0zM149.4 277.5h1.0v1.0h-1.0zM140.1 286.7h1.0v1.0h-1.0zM142.0 266.5h1.0v1.0h-1.0zM153.2 259.2h1.0v1.0h-1.0zM151.0 289.5h1.0v1.0h-1.0zM135.7 291.0h1.0v1.0h-1.0zM156.8 280.7h1.0v1.0h-1.0zM151.9 267.0h1.0v1.0h-1.0zM156.7 281.2h1.0v1.0h-1.0zM145.5 277.0h1.0v1.0h-1.0zM146.1 287.2h1.0v1.0h-1.0zM140.7 258.0h1.0v1.0h-1.0zM164.5 277.1h1.0v1.0h-1.0zM146.9 273.3h1.0v1.0h-1.0zM158.3 260.0h1.0v1.0h-1.0zM143.8 278.5h1.0v1.0h-1.0zM149.1 276.0h1.0v1.0h-1.0zM137.1 269.8h1.0v1.0h-1.0zM145.5 281.0h1.0v1.0h-1.0zM154.4 255.6h1.0v1.0h-1.0zM139.9 274.7h1.0v1.0h-1.0zM155.0 281.5h1.0v1.0h-1.0zM150.2 279.5h1.0v1.0h-1.0zM141.2 290.6h1.0v1.0h-1.0zM144.7 258.7h1.0v1.0h-1.0zM145.0 254.4h1.0v1.0h-1.0zM147.7 278.8h1.0v1.0h-1.0zM144.5 281.9h1.0v1.0h-1.0zM142.6 305.2h1.0v1.0h-1.0zM146.0 284.1h1.0v1.0h-1.0zM141.3 263.3h1.0v1.0h-1.0zM139.6 286.8h1.0v1.0h-1.0zM147.7 263.7h1.0v1.0h-1.0zM153.7 254.7h1.0v1.0h-1.0zM148.0 280.1h1.0v1.0h-1.0zM143.8 285.5h1.0v1.0h-1.0zM141.6 283.4h1.0v1.0h-1.0zM153.5 300.9h1.0v1.0h-1.0zM144.6 279.5h1.0v1.0h-1.0zM157.7 292.5h1.0v1.0h-1.0zM142.9 261.1h1.0v1.0h-1.0zM150.5 256.0h1.0v1.0h-1.0zM146.5 295.5h1.0v1.0h-1.0zM143.1 296.1h1.0v1.0h-1.0zM151.8 282.7h1.0v1.0h-1.0zM147.0 278.7h1.0v1.0h-1.0zM151.9 277.8h1.0v1.0h-1.0zM147.7 265.9h1.0v1.0h-1.0zM140.9 297.0h1.0v1.0h-1.0zM147.3 284.7h1.0v1.0h-1.0zM148.3 282.6h1.0v1.0h-1.0zM154.2 280.8h1.0v1.0h-1.0zM142.1 290.2h1.0v1.0h-1.0zM147.7 282.6h1.0v1.0h-1.0zM136.8 285.9h1.0v1.0h-1.0zM152.2 259.1h1.0v1.0h-1.0zM141.0 282.6h1.0v1.0h-1.0zM136.3 306.1h1.0v1.0h-1.0zM147.6 268.2h1.0v1.0h-1.0zM155.2 273.7h1.0v1.0h-1.0zM138.1 288.0h1.0v1.0h-1.0zM140.9 288.9h1.0v1.0h-1.0zM143.2 284.2h1.0v1.0h-1.0zM140.7 252.9h1.0v1.0h-1.0zM150.5 282.5h1.0v1.0h-1.0zM142.8 258.9h1.0v1.0h-1.0zM143.3 264.0h1.0v1.0h-1.0zM151.8 283.2h1.0v1.0h-1.0zM143.1 271.4h1.0v1.0h-1.0zM150.8 286.8h1.0v1.0h-1.0zM140.1 286.4h1.0v1.0h-1.0zM136.1 285.6h1.0v1.0h-1.0zM160.1 263.0h1.0v1.0h-1.0zM145.9 266.5h1.0v1.0h-1.0zM149.6 260.6h1.0v1.0h-1.0zM147.8 268.0h1.0v1.0h-1.0zM149.0 260.2h1.0v1.0h-1.0zM148.3 266.3h1.0v1.0h-1.0zM160.4 272.6h1.0v1.0h-1.0zM141.2 261.5h1.0v1.0h-1.0zM137.9 255.6h1.0v1.0h-1.0zM141.4 256.4h1.0v1.0h-1.0zM139.3 281.9h1.0v1.0h-1.0zM152.9 276.3h1.0v1.0h-1.0zM153.3 289.9h1.0v1.0h-1.0zM141.8 290.1h1.0v1.0h-1.0zM139.0 270.7h1.0v1.0h-1.0zM145.7 284.9h1.0v1.0h-1.0zM157.0 255.3h1.0v1.0h-1.0zM129.7 307.5h1.0v1.0h-1.0zM151.4 292.2h1.0v1.0h-1.0zM141.0 272.5h1.0v1.0h-1.0zM154.8 259.2h1.0v1.0h-1.0zM141.0 280.8h1.0v1.0h-1.0zM146.1 249.3h1.0v1.0h-1.0zM138.2 264.6h1.0v1.0h-1.0zM141.6 286.0h1.0v1.0h-1.0zM157.0 276.6h1.0v1.0h-1.0zM153.3 268.6h1.0v1.0h-1.0zM145.4 288.8h1.0v1.0h-1.0zM142.3 261.0h1.0v1.0h-1.0zM135.7 279.5h1.0v1.0h-1.0zM145.4 268.5h1.0v1.0h-1.0zM147.8 263.6h1.0v1.0h-1.0zM147.5 282.0h1.0v1.0h-1.0zM147.4 261.6h1.0v1.0h-1.0zM140.7 302.1h1.0v1.0h-1.0zM147.6 267.3h1.0v1.0h-1.0zM147.7 303.4h1.0v1.0h-1.0zM156.4 260.2h1.0v1.0h-1.0zM160.1 284.0h1.0v1.0h-1.0zM147.1 258.7h1.0v1.0h-1.0zM143.0 256.7h1.0v1.0h-1.0zM147.6 277.7h1.0v1.0h-1.0zM144.1 285.0h1.0v1.0h-1.0zM143.2 257.7h1.0v1.0h-1.0zM147.6 292.1h1.0v1.0h-1.0zM141.2 264.3h1.0v1.0h-1.0zM151.9 277.3h1.0v1.0h-1.0zM147.3 280.8h1.0v1.0h-1.0zM149.6 283.8h1.0v1.0h-1.0zM146.8 250.3h1.0v1.0h-1.0zM143.3 298.2h1.0v1.0h-1.0zM141.8 283.4h1.0v1.0h-1.0zM146.5 269.5h1.0v1.0h-1.0zM144.4 261.2h1.0v1.0h-1.0zM149.5 251.8h1.0v1.0h-1.0zM148.0 256.4h1.0v1.0h-1.0zM139.1 283.1h1.0v1.0h-1.0zM148.4 270.7h1.0v1.0h-1.0zM139.3 259.7h1.0v1.0h-1.0zM144.0 268.1h1.0v1.0h-1.0zM146.1 297.4h1.0v1.0h-1.0zM134.5 270.9h1.0v1.0h-1.0zM148.6 267.3h1.0v1.0h-1.0zM149.0 294.4h1.0v1.0h-1.0zM147.0 282.0h1.0v1.0h-1.0zM145.2 276.1h1.0v1.0h-1.0zM145.6 267.0h1.0v1.0h-1.0zM141.7 253.8h1.0v1.0h-1.0zM146.2 259.1h1.0v1.0h-1.0zM144.4 268.8h1.0v1.0h-1.0zM148.6 272.4h1.0v1.0h-1.0zM140.2 280.5h1.0v1.0h-1.0zM149.5 283.2h1.0v1.0h-1.0zM148.9 278.6h1.0v1.0h-1.0zM147.1 278.6h1.0v1.0h-1.0zM145.1 261.4h1.0v1.0h-1.0zM151.6 245.3h1.0v1.0h-1.0zM137.2 268.2h1.0v1.0h-1.0zM151.0 262.1h1.0v1.0h-1.0zM149.6 266.4h1.0v1.0h-1.0zM149.8 271.7h1.0v1.0h-1.0zM150.5 258.1h1.0v1.0h-1.0zM143.8 260.0h1.0v1.0h-1.0zM146.3 274.1h1.0v1.0h-1.0zM152.1 277.1h1.0v1.0h-1.0zM150.8 266.3h1.0v1.0h-1.0zM149.3 282.5h1.0v1.0h-1.0zM138.2 272.4h1.0v1.0h-1.0zM151.5 261.2h1.0v1.0h-1.0zM155.6 276.1h1.0v1.0h-1.0zM154.6 301.9h1.0v1.0h-1.0zM149.5 266.1h1.0v1.0h-1.0zM137.9 291.8h1.0v1.0h-1.0zM154.1 294.8h1.0v1.0h-1.0zM147.0 296.5h1.0v1.0h-1.0zM131.5 264.0h1.0v1.0h-1.0zM150.5 303.7h1.0v1.0h-1.0zM138.3 277.1h1.0v1.0h-1.0zM139.6 271.9h1.0v1.0h-1.0zM143.9 272.3h1.0v1.0h-1.0zM156.3 283.9h1.0v1.0h-1.0zM145.6 276.2h1.0v1.0h-1.0zM149.8 273.0h1.0v1.0h-1.0zM159.4 293.5h1.0v1.0h-1.0zM158.4 265.4h1.0v1.0h-1.0zM147.3 260.9h1.0v1.0h-1.0zM146.4 286.6h1.0v1.0h-1.0zM139.8 285.4h1.0v1.0h-1.0zM143.5 290.8h1.0v1.0h-1.0zM150.8 260.5h1.0v1.0h-1.0zM150.6 290.6h1.0v1.0h-1.0zM148.7 282.2h1.0v1.0h-1.0zM154.5 300.2h1.0v1.0h-1.0zM143.0 258.0h1.0v1.0h-1.0zM147.6 278.6h1.0v1.0h-1.0zM152.8 271.6h1.0v1.0h-1.0zM151.8 253.2h1.0v1.0h-1.0zM155.0 265.5h1.0v1.0h-1.0zM150.6 291.3h1.0v1.0h-1.0zM146.0 268.9h1.0v1.0h-1.0zM150.4 265.4h1.0v1.0h-1.0zM141.5 287.7h1.0v1.0h-1.0zM137.3 289.3h1.0v1.0h-1.0zM151.8 289.3h1.0v1.0h-1.0zM147.6 264.4h1.0v1.0h-1.0zM150.0 274.7h1.0v1.0h-1.0zM137.0 289.9h1.0v1.0h-1.0zM145.6 266.3h1.0v1.0h-1.0zM144.1 265.0h1.0v1.0h-1.0zM142.4 287.1h1.0v1.0h-1.0zM133.3 297.4h1.0v1.0h-1.0zM145.8 259.4h1.0v1.0h-1.0zM150.5 255.2h1.0v1.0h-1.0zM144.1 261.3h1.0v1.0h-1.0zM147.9 273.6h1.0v1.0h-1.0zM152.9 284.1h1.0v1.0h-1.0zM130.1 273.4h1.0v1.0h-1.0zM147.2 265.7h1.0v1.0h-1.0zM151.5 277.6h1.0v1.0h-1.0zM152.4 262.0h1.0v1.0h-1.0zM159.1 274.8h1.0v1.0h-1.0zM155.4 266.5h1.0v1.0h-1.0zM150.0 286.9h1.0v1.0h-1.0zM153.1 263.8h1.0v1.0h-1.0zM144.5 261.5h1.0v1.0h-1.0zM147.7 269.4h1.0v1.0h-1.0zM153.9 252.5h1.0v1.0h-1.0zM160.7 265.3h1.0v1.0h-1.0zM147.0 265.2h1.0v1.0h-1.0zM147.7 287.9h1.0v1.0h-1.0zM149.3 269.5h1.0v1.0h-1.0zM156.7 264.4h1.0v1.0h-1.0zM147.8 256.7h1.0v1.0h-1.0zM157.6 259.0h1.0v1.0h-1.0zM141.7 274.6h1.0v1.0h-1.0zM146.8 272.5h1.0v1.0h-1.0zM146.7 291.4h1.0v1.0h-1.0zM153.1 266.7h1.0v1.0h-1.0zM154.8 290.3h1.0v1.0h-1.0zM138.2 279.1h1.0v1.0h-1.0zM142.1 275.4h1.0v1.0h-1.0zM150.2 247.4h1.0v1.0h-1.0zM143.7 257.4h1.0v1.0h-1.0zM138.1 285.9h1.0v1.0h-1.0zM154.8 295.1h1.0v1.0h-1.0zM151.2 278.4h1.0v1.0h-1.0zM151.2 286.2h1.0v1.0h-1.0zM144.9 269.8h1.0v1.0h-1.0zM154.7 270.3h1.0v1.0h-1.0zM146.4 266.2h1.0v1.0h-1.0zM155.1 289.1h1.0v1.0h-1.0zM142.1 280.3h1.0v1.0h-1.0zM142.4 272.2h1.0v1.0h-1.0zM149.3 270.9h1.0v1.0h-1.0zM143.4 283.3h1.0v1.0h-1.0zM152.4 280.0h1.0v1.0h-1.0zM149.7 263.9h1.0v1.0h-1.0zM142.0 299.5h1.0v1.0h-1.0zM148.5 279.1h1.0v1.0h-1.0zM145.7 275.6h1.0v1.0h-1.0zM154.0 296.2h1.0v1.0h-1.0zM143.9 289.8h1.0v1.0h-1.0zM145.1 274.3h1.0v1.0h-1.0zM155.9 283.0h1.0v1.0h-1.0zM162.6 260.5h1.0v1.0h-1.0zM161.0 266.5h1.0v1.0h-1.0zM148.4 243.9h1.0v1.0h-1.0zM149.4 292.6h1.0v1.0h-1.0zM158.0 248.9h1.0v1.0h-1.0zM147.2 285.0h1.0v1.0h-1.0zM141.7 263.9h1.0v1.0h-1.0zM148.8 261.8h1.0v1.0h-1.0zM150.9 272.8h1.0v1.0h-1.0zM142.6 279.2h1.0v1.0h-1.0zM137.3 284.1h1.0v1.0h-1.0zM138.7 300.3h1.0v1.0h-1.0zM152.3 280.5h1.0v1.0h-1.0zM143.1 287.8h1.0v1.0h-1.0zM147.1 267.1h1.0v1.0h-1.0zM149.4 285.5h1.0v1.0h-1.0zM152.0 277.6h1.0v1.0h-1.0zM145.8 269.0h1.0v1.0h-1.0zM151.2 274.2h1.0v1.0h-1.0zM142.2 274.6h1.0v1.0h-1.0zM145.6 278.2h1.0v1.0h-1.0zM141.3 281.1h1.0v1.0h-1.0zM155.4 268.4h1.0v1.0h-1.0zM147.8 265.1h1.0v1.0h-1.0zM143.2 286.0h1.0v1.0h-1.0zM145.7 251.7h1.0v1.0h-1.0zM146.6 266.8h1.0v1.0h-1.0zM152.6 297.2h1.0v1.0h-1.0zM141.3 265.8h1.0v1.0h-1.0zM145.5 285.1h1.0v1.0h-1.0zM164.5 252.4h1.0v1.0h-1.0zM152.6 295.6h1.0v1.0h-1.0zM161.4 297.3h1.0v1.0h-1.0zM146.5 288.3h1.0v1.0h-1.0zM145.6 272.4h1.0v1.0h-1.0zM155.9 280.5h1.0v1.0h-1.0zM151.2 262.9h1.0v1.0h-1.0zM152.4 286.8h1.0v1.0h-1.0zM144.7 259.8h1.0v1.0h-1.0zM160.5 271.7h1.0v1.0h-1.0zM159.1 289.4h1.0v1.0h-1.0zM151.7 259.9h1.0v1.0h-1.0zM152.4 270.4h1.0v1.0h-1.0zM134.8 277.8h1.0v1.0h-1.0zM152.1 256.7h1.0v1.0h-1.0zM146.7 291.8h1.0v1.0h-1.0zM150.8 280.3h1.0v1.0h-1.0zM152.4 254.3h1.0v1.0h-1.0zM145.8 274.8h1.0v1.0h-1.0zM137.0 264.6h1.0v1.0h-1.0zM150.4 266.3h1.0v1.0h-1.0zM143.2 276.6h1.0v1.0h-1.0zM145.9 265.6h1.0v1.0h-1.0zM144.1 289.0h1.0v1.0h-1.0zM145.8 265.6h1.0v1.0h-1.0zM133.0 289.2h1.0v1.0h-1.0zM155.9 274.9h1.0v1.0h-1.0zM149.6 287.5h1.0v1.0h-1.0zM155.2 267.9h1.0v1.0h-1.0zM160.9 268.4h1.0v1.0h-1.0zM148.1 259.4h1.0v1.0h-1.0zM136.3 283.6h1.0v1.0h-1.0zM142.2 288.6h1.0v1.0h-1.0zM140.2 305.2h1.0v1.0h-1.0zM144.7 293.6h1.0v1.0h-1.0zM148.5 279.0h1.0v1.0h-1.0zM135.0 272.5h1.0v1.0h-1.0zM150.2 280.9h1.0v1.0h-1.0zM138.2 275.1h1.0v1.0h-1.0zM149.9 296.0h1.0v1.0h-1.0zM147.3 288.7h1.0v1.0h-1.0zM146.0 263.8h1.0v1.0h-1.0zM147.5 265.9h1.0v1.0h-1.0zM144.5 294.6h1.0v1.0h-1.0zM144.0 279.8h1.0v1.0h-1.0zM137.1 272.3h1.0v1.0h-1.0zM147.8 292.1h1.0v1.0h-1.0zM160.0 270.1h1.0v1.0h-1.0zM160.9 271.6h1.0v1.0h-1.0zM156.6 269.0h1.0v1.0h-1.0zM152.6 248.0h1.0v1.0h-1.0zM143.6 287.6h1.0v1.0h-1.0zM157.4 258.6h1.0v1.0h-1.0zM147.6 267.5h1.0v1.0h-1.0zM147.6 265.1h1.0v1.0h-1.0zM146.1 285.7h1.0v1.0h-1.0zM148.6 274.5h1.0v1.0h-1.0zM145.2 275.7h1.0v1.0h-1.0zM147.5 252.0h1.0v1.0h-1.0zM141.0 274.3h1.0v1.0h-1.0zM145.6 254.8h1.0v1.0h-1.0zM162.8 279.8h1.0v1.0h-1.0zM147.5 280.6h1.0v1.0h-1.0zM146.4 275.3h1.0v1.0h-1.0zM151.5 304.1h1.0v1.0h-1.0zM152.6 282.9h1.0v1.0h-1.0zM140.8 283.8h1.0v1.0h-1.0zM146.7 277.5h1.0v1.0h-1.0zM154.0 272.8h1.0v1.0h-1.0zM149.8 289.0h1.0v1.0h-1.0zM148.8 290.9h1.0v1.0h-1.0zM158.1 257.3h1.0v1.0h-1.0zM143.6 290.3h1.0v1.0h-1.0zM148.5 282.7h1.0v1.0h-1.0zM144.6 288.9h1.0v1.0h-1.0zM157.7 282.0h1.0v1.0h-1.0zM135.3 258.1h1.0v1.0h-1.0zM143.6 259.1h1.0v1.0h-1.0zM144.6 301.0h1.0v1.0h-1.0zM152.3 279.0h1.0v1.0h-1.0zM151.9 255.7h1.0v1.0h-1.0zM157.1 280.4h1.0v1.0h-1.0zM137.8 270.4h1.0v1.0h-1.0zM152.9 249.7h1.0v1.0h-1.0zM146.1 243.4h1.0v1.0h-1.0zM143.7 253.1h1.0v1.0h-1.0zM151.5 279.3h1.0v1.0h-1.0zM142.0 274.8h1.0v1.0h-1.0zM134.5 272.0h1.0v1.0h-1.0zM145.6 279.5h1.0v1.0h-1.0zM138.3 283.9h1.0v1.0h-1.0zM143.8 246.1h1.0v1.0h-1.0zM150.4 271.3h1.0v1.0h-1.0zM150.0 263.9h1.0v1.0h-1.0zM158.3 258.2h1.0v1.0h-1.0zM146.7 267.8h1.0v1.0h-1.0zM138.0 273.8h1.0v1.0h-1.0zM143.1 271.8h1.0v1.0h-1.0zM142.0 255.1h1.0v1.0h-1.0zM140.1 268.7h1.0v1.0h-1.0zM150.8 303.7h1.0v1.0h-1.0zM143.8 260.7h1.0v1.0h-1.0zM135.1 251.9h1.0v1.0h-1.0zM152.5 279.4h1.0v1.0h-1.0zM147.3 283.9h1.0v1.0h-1.0zM150.3 282.0h1.0v1.0h-1.0zM148.7 259.8h1.0v1.0h-1.0zM152.1 289.5h1.0v1.0h-1.0zM148.2 264.5h1.0v1.0h-1.0zM156.0 259.6h1.0v1.0h-1.0zM150.8 267.0h1.0v1.0h-1.0zM150.5 274.0h1.0v1.0h-1.0zM150.7 285.5h1.0v1.0h-1.0zM138.5 284.2h1.0v1.0h-1.0zM146.9 275.2h1.0v1.0h-1.0zM146.3 288.6h1.0v1.0h-1.0zM149.3 276.6h1.0v1.0h-1.0zM139.2 288.0h1.0v1.0h-1.0zM158.6 255.8h1.0v1.0h-1.0zM148.7 253.5h1.0v1.0h-1.0zM140.1 286.4h1.0v1.0h-1.0zM136.9 256.0h1.0v1.0h-1.0zM146.2 271.3h1.0v1.0h-1.0zM147.4 274.1h1.0v1.0h-1.0zM143.3 268.7h1.0v1.0h-1.0zM148.6 269.2h1.0v1.0h-1.0zM143.8 295.0h1.0v1.0h-1.0zM143.3 287.9h1.0v1.0h-1.0zM147.7 307.6h1.0v1.0h-1.0zM154.4 275.8h1.0v1.0h-1.0zM164.7 275.2h1.0v1.0h-1.0zM141.5 285.7h1.0v1.0h-1.0zM145.0 301.1h1.0v1.0h-1.0zM142.5 258.9h1.0v1.0h-1.0zM153.1 276.7h1.0v1.0h-1.0zM140.5 272.9h1.0v1.0h-1.0zM144.9 283.3h1.0v1.0h-1.0zM147.8 277.7h1.0v1.0h-1.0zM141.6 284.7h1.0v1.0h-1.0zM141.8 269.6h1.0v1.0h-1.0zM144.9 276.2h1.0v1.0h-1.0zM134.3 266.1h1.0v1.0h-1.0zM138.6 266.2h1.0v1.0h-1.0zM145.3 273.5h1.0v1.0h-1.0zM149.0 273.5h1.0v1.0h-1.0zM146.8 259.1h1.0v1.0h-1.0zM136.5 297.5h1.0v1.0h-1.0zM145.0 273.6h1.0v1.0h-1.0zM153.2 256.1h1.0v1.0h-1.0zM151.6 290.9h1.0v1.0h-1.0zM147.5 265.0h1.0v1.0h-1.0zM142.2 282.6h1.0v1.0h-1.0zM152.1 275.3h1.0v1.0h-1.0zM144.2 279.0h1.0v1.0h-1.0zM140.4 277.9h1.0v1.0h-1.0zM142.8 267.4h1.0v1.0h-1.0zM157.4 276.1h1.0v1.0h-1.0zM149.4 304.0h1.0v1.0h-1.0zM155.5 244.2h1.0v1.0h-1.0zM144.9 276.4h1.0v1.0h-1.0zM154.1 281.6h1.0v1.0h-1.0zM144.1 260.8h1.0v1.0h-1.0zM147.0 256.3h1.0v1.0h-1.0zM164.2 305.7h1.0v1.0h-1.0zM153.0 270.3h1.0v1.0h-1.0zM144.7 304.6h1.0v1.0h-1.0zM147.4 283.0h1.0v1.0h-1.0zM150.1 276.6h1.0v1.0h-1.0zM155.9 282.2h1.0v1.0h-1.0zM144.8 284.4h1.0v1.0h-1.0zM136.7 292.0h1.0v1.0h-1.0zM146.2 281.6h1.0v1.0h-1.0zM148.1 277.5h1.0v1.0h-1.0zM148.7 278.0h1.0v1.0h-1.0zM156.6 294.4h1.0v1.0h-1.0zM150.1 286.9h1.0v1.0h-1.0zM153.3 261.5h1.0v1.0h-1.0zM140.8 266.6h1.0v1.0h-1.0zM153.6 280.1h1.0v1.0h-1.0zM161.6 266.8h1.0v1.0h-1.0zM153.0 270.2h1.0v1.0h-1.0zM149.6 262.1h1.0v1.0h-1.0zM149.0 271.8h1.0v1.0h-1.0zM159.6 281.4h1.0v1.0h-1.0zM142.0 289.4h1.0v1.0h-1.0zM147.3 275.6h1.0v1.0h-1.0zM151.0 304.5h1.0v1.0h-1.0zM152.8 274.4h1.0v1.0h-1.0zM150.0 289.5h1.0v1.0h-1.0zM146.2 282.5h1.0v1.0h-1.0zM148.8 268.5h1.0v1.0h-1.0zM140.6 273.3h1.0v1.0h-1.0zM147.9 278.0h1.0v1.0h-1.0zM153.7 302.4h1.0v1.0h-1.0zM141.7 256.2h1.0v1.0h-1.0zM146.4 302.2h1.0v1.0h-1.0zM152.3 272.0h1.0v1.0h-1.0zM141.0 285.6h1.0v1.0h-1.0zM141.1 277.4h1.0v1.0h-1.0zM155.4 270.7h1.0v1.0h-1.0zM163.0 285.1h1.0v1.0h-1.0zM161.1 276.8h1.0v1.0h-1.0zM146.6 259.5h1.0v1.0h-1.0zM152.8 288.8h1.0v1.0h-1.0zM148.8 285.2h1.0v1.0h-1.0zM148.7 283.9h1.0v1.0h-1.0zM158.1 289.6h1.0v1.0h-1.0zM139.4 290.9h1.0v1.0h-1.0zM154.9 275.2h1.0v1.0h-1.0zM147.7 256.5h1.0v1.0h-1.0zM157.2 256.1h1.0v1.0h-1.0zM149.2 294.4h1.0v1.0h-1.0zM143.6 285.4h1.0v1.0h-1.0zM149.8 276.9h1.0v1.0h-1.0zM152.8 269.4h1.0v1.0h-1.0zM148.2 275.9h1.0v1.0h-1.0zM151.2 275.8h1.0v1.0h-1.0zM144.6 270.8h1.0v1.0h-1.0zM134.1 265.7h1.0v1.0h-1.0zM153.9 305.8h1.0v1.0h-1.0zM152.5 278.7h1.0v1.0h-1.0zM149.0 267.0h1.0v1.0h-1.0zM148.4 257.3h1.0v1.0h-1.0zM154.7 265.3h1.0v1.0h-1.0zM145.0 285.6h1.0v1.0h-1.0zM143.4 286.1h1.0v1.0h-1.0zM146.8 272.4h1.0v1.0h-1.0zM155.7 276.2h1.0v1.0h-1.0zM139.0 271.2h1.0v1.0h-1.0zM155.7 260.0h1.0v1.0h-1.0zM143.8 293.7h1.0v1.0h-1.0zM140.8 280.7h1.0v1.0h-1.0zM156.2 310.2h1.0v1.0h-1.0zM147.4 264.9h1.0v1.0h-1.0zM139.5 273.6h1.0v1.0h-1.0zM145.7 287.9h1.0v1.0h-1.0zM154.1 272.1h1.0v1.0h-1.0zM155.7 256.1h1.0v1.0h-1.0zM145.2 262.2h1.0v1.0h-1.0zM150.6 276.9h1.0v1.0h-1.0zM152.6 280.3h1.0v1.0h-1.0zM143.8 274.2h1.0v1.0h-1.0zM150.3 289.5h1.0v1.0h-1.0zM147.8 289.4h1.0v1.0h-1.0zM144.5 280.0h1.0v1.0h-1.0zM144.8 275.9h1.0v1.0h-1.0zM148.4 272.0h1.0v1.0h-1.0zM148.2 283.2h1.0v1.0h-1.0zM144.3 288.4h1.0v1.0h-1.0zM145.2 276.3h1.0v1.0h-1.0zM155.2 281.8h1.0v1.0h-1.0zM149.4 271.0h1.0v1.0h-1.0zM153.8 255.7h1.0v1.0h-1.0zM155.8 261.5h1.0v1.0h-1.0zM151.8 286.2h1.0v1.0h-1.0zM162.8 281.8h1.0v1.0h-1.0zM142.6 297.8h1.0v1.0h-1.0zM153.3 276.3h1.0v1.0h-1.0zM145.9 287.6h1.0v1.0h-1.0zM160.1 294.0h1.0v1.0h-1.0zM159.1 289.4h1.0v1.0h-1.0zM135.3 267.0h1.0v1.0h-1.0zM141.7 272.9h1.0v1.0h-1.0zM152.3 277.3h1.0v1.0h-1.0zM153.1 261.7h1.0v1.0h-1.0zM152.8 282.1h1.0v1.0h-1.0zM147.5 289.8h1.0v1.0h-1.0zM151.0 268.8h1.0v1.0h-1.0zM152.2 303.1h1.0v1.0h-1.0zM147.5 271.4h1.0v1.0h-1.0zM154.7 272.7h1.0v1.0h-1.0zM133.3 272.2h1.0v1.0h-1.0zM152.1 265.6h1.0v1.0h-1.0zM141.3 281.4h1.0v1.0h-1.0zM154.2 275.8h1.0v1.0h-1.0zM146.5 298.8h1.0v1.0h-1.0zM142.2 284.0h1.0v1.0h-1.0zM150.4 283.0h1.0v1.0h-1.0zM142.1 272.4h1.0v1.0h-1.0zM142.1 255.7h1.0v1.0h-1.0zM137.8 274.2h1.0v1.0h-1.0zM147.8 263.6h1.0v1.0h-1.0zM151.2 288.8h1.0v1.0h-1.0zM154.6 275.1h1.0v1.0h-1.0zM147.1 298.8h1.0v1.0h-1.0zM154.8 285.8h1.0v1.0h-1.0zM148.1 287.2h1.0v1.0h-1.0zM147.4 278.7h1.0v1.0h-1.0zM151.7 278.4h1.0v1.0h-1.0zM154.9 284.6h1.0v1.0h-1.0zM145.8 288.4h1.0v1.0h-1.0zM146.4 265.6h1.0v1.0h-1.0zM147.0 282.4h1.0v1.0h-1.0zM142.1 274.2h1.0v1.0h-1.0zM154.7 271.9h1.0v1.0h-1.0zM145.4 265.8h1.0v1.0h-1.0zM151.0 255.2h1.0v1.0h-1.0zM142.6 292.1h1.0v1.0h-1.0zM150.3 276.4h1.0v1.0h-1.0zM150.5 279.7h1.0v1.0h-1.0zM145.3 301.3h1.0v1.0h-1.0zM161.1 310.6h1.0v1.0h-1.0zM150.4 263.1h1.0v1.0h-1.0zM159.6 290.3h1.0v1.0h-1.0zM154.2 284.2h1.0v1.0h-1.0zM143.7 281.1h1.0v1.0h-1.0zM145.5 282.2h1.0v1.0h-1.0zM150.8 275.2h1.0v1.0h-1.0zM148.4 297.8h1.0v1.0h-1.0zM148.3 284.1h1.0v1.0h-1.0zM146.1 280.4h1.0v1.0h-1.0zM136.2 293.0h1.0v1.0h-1.0zM146.5 288.1h1.0v1.0h-1.0zM133.6 282.0h1.0v1.0h-1.0zM150.4 280.1h1.0v1.0h-1.0zM143.3 300.1h1.0v1.0h-1.0zM143.3 282.7h1.0v1.0h-1.0zM146.6 274.3h1.0v1.0h-1.0zM149.8 263.5h1.0v1.0h-1.0zM138.7 270.7h1.0v1.0h-1.0zM136.6 260.8h1.0v1.0h-1.0zM141.1 277.0h1.0v1.0h-1.0zM134.7 279.1h1.0v1.0h-1.0zM141.7 246.8h1.0v1.0h-1.0zM158.3 275.8h1.0v1.0h-1.0zM141.1 284.6h1.0v1.0h-1.0zM152.2 277.9h1.0v1.0h-1.0zM139.1 262.2h1.0v1.0h-1.0zM149.9 293.3h1.0v1.0h-1.0zM145.9 265.8h1.0v1.0h-1.0zM147.6 258.3h1.0v1.0h-1.0zM151.7 260.4h1.0v1.0h-1.0zM159.4 275.3h1.0v1.0h-1.0zM149.3 289.3h1.0v1.0h-1.0zM148.8 291.9h1.0v1.0h-1.0zM141.7 278.5h1.0v1.0h-1.0zM151.8 258.8h1.0v1.0h-1.0zM146.4 266.3h1.0v1.0h-1.0zM153.4 263.0h1.0v1.0h-1.0zM147.7 273.0h1.0v1.0h-1.0zM159.3 250.7h1.0v1.0h-1.0zM135.1 277.1h1.0v1.0h-1.0zM146.1 284.6h1.0v1.0h-1.0zM153.7 273.4h1.0v1.0h-1.0zM145.7 282.0h1.0v1.0h-1.0zM142.9 262.4h1.0v1.0h-1.0zM146.3 255.1h1.0v1.0h-1.0zM139.0 266.6h1.0v1.0h-1.0zM148.8 291.7h1.0v1.0h-1.0zM163.9 289.9h1.0v1.0h-1.0zM155.4 269.1h1.0v1.0h-1.0zM140.8 292.4h1.0v1.0h-1.0zM142.3 271.0h1.0v1.0h-1.0zM145.4 296.7h1.0v1.0h-1.0zM154.5 282.3h1.0v1.0h-1.0zM142.7 269.2h1.0v1.0h-1.0zM143.5 286.6h1.0v1.0h-1.0zM153.8 264.7h1.0v1.0h-1.0zM153.6 262.4h1.0v1.0h-1.0zM145.6 255.2h1.0v1.0h-1.0zM140.7 279.1h1.0v1.0h-1.0zM137.9 274.8h1.0v1.0h-1.0zM143.5 274.4h1.0v1.0h-1.0zM133.5 269.8h1.0v1.0h-1.0zM152.9 295.6h1.0v1.0h-1.0zM143.9 269.6h1.0v1.0h-1.0zM151.1 265.4h1.0v1.0h-1.0zM160.1 292.9h1.0v1.0h-1.0zM155.6 295.4h1.0v1.0h-1.0zM140.5 280.2h1.0v1.0h-1.0zM153.7 251.1h1.0v1.0h-1.0zM155.5 267.1h1.0v1.0h-1.0zM143.1 284.1h1.0v1.0h-1.0zM141.8 275.7h1.0v1.0h-1.0zM147.3 297.3h1.0v1.0h-1.0zM137.6 256.4h1.0v1.0h-1.0zM157.6 285.0h1.0v1.0h-1.0zM132.4 266.7h1.0v1.0h-1.0zM140.8 294.0h1.0v1.0h-1.0zM146.2 274.4h1.0v1.0h-1.0zM146.5 289.9h1.0v1.0h-1.0zM149.1 266.4h1.0v1.0h-1.0zM149.8 255.8h1.0v1.0h-1.0zM146.6 260.0h1.0v1.0h-1.0zM155.4 267.0h1.0v1.0h-1.0zM134.1 261.2h1.0v1.0h-1.0zM148.0 292.3h1.0v1.0h-1.0zM143.4 294.2h1.0v1.0h-1.0zM148.9 279.3h1.0v1.0h-1.0zM149.4 261.0h1.0v1.0h-1.0zM142.1 273.8h1.0v1.0h-1.0zM143.8 265.9h1.0v1.0h-1.0zM153.2 295.9h1.0v1.0h-1.0zM150.3 279.9h1.0v1.0h-1.0zM143.6 282.4h1.0v1.0h-1.0zM161.3 269.9h1.0v1.0h-1.0zM163.0 247.3h1.0v1.0h-1.0zM138.5 264.7h1.0v1.0h-1.0zM150.0 259.9h1.0v1.0h-1.0zM164.3 280.7h1.0v1.0h-1.0zM153.1 276.9h1.0v1.0h-1.0zM149.4 264.3h1.0v1.0h-1.0zM146.6 270.1h1.0v1.0h-1.0zM144.5 297.4h1.0v1.0h-1.0zM146.6 262.1h1.0v1.0h-1.0zM144.4 262.6h1.0v1.0h-1.0zM152.8 272.3h1.0v1.0h-1.0zM145.4 265.7h1.0v1.0h-1.0zM145.1 269.5h1.0v1.0h-1.0zM140.2 282.9h1.0v1.0h-1.0zM147.7 299.8h1.0v1.0h-1.0zM142.2 250.6h1.0v1.0h-1.0zM146.8 275.2h1.0v1.0h-1.0zM154.8 276.1h1.0v1.0h-1.0zM150.4 274.3h1.0v1.0h-1.0zM151.3 272.9h1.0v1.0h-1.0zM150.3 270.7h1.0v1.0h-1.0zM148.4 289.6h1.0v1.0h-1.0zM147.2 269.0h1.0v1.0h-1.0zM146.0 273.7h1.0v1.0h-1.0zM152.9 275.5h1.0v1.0h-1.0zM141.0 277.0h1.0v1.0h-1.0zM156.7 273.1h1.0v1.0h-1.0zM148.2 289.5h1.0v1.0h-1.0zM143.1 275.4h1.0v1.0h-1.0zM144.8 277.9h1.0v1.0h-1.0zM143.6 274.8h1.0v1.0h-1.0zM149.0 261.5h1.0v1.0h-1.0zM143.3 263.9h1.0v1.0h-1.0zM155.4 260.8h1.0v1.0h-1.0zM142.9 278.2h1.0v1.0h-1.0zM133.2 265.5h1.0v1.0h-1.0zM143.2 260.6h1.0v1.0h-1.0zM134.9 278.8h1.0v1.0h-1.0zM147.7 282.9h1.0v1.0h-1.0zM154.9 250.8h1.0v1.0h-1.0zM152.2 299.2h1.0v1.0h-1.0zM139.3 276.0h1.0v1.0h-1.0zM143.0 274.0h1.0v1.0h-1.0zM159.6 290.4h1.0v1.0h-1.0zM150.1 276.5h1.0v1.0h-1.0zM148.0 267.0h1.0v1.0h-1.0zM154.9 306.2h1.0v1.0h-1.0zM163.9 260.5h1.0v1.0h-1.0zM156.4 274.1h1.0v1.0h-1.0zM148.9 287.4h1.0v1.0h-1.0zM150.3 260.5h1.0v1.0h-1.0zM152.0 274.1h1.0v1.0h-1.0zM144.0 280.9h1.0v1.0h-1.0zM141.1 309.1h1.0v1.0h-1.0zM148.3 263.0h1.0v1.0h-1.0zM141.8 274.8h1.0v1.0h-1.0zM147.6 284.7h1.0v1.0h-1.0zM148.6 276.6h1.0v1.0h-1.0zM163.2 258.7h1.0v1.0h-1.0zM142.5 281.2h1.0v1.0h-1.0zM147.2 277.0h1.0v1.0h-1.0zM146.9 281.7h1.0v1.0h-1.0zM150.8 291.3h1.0v1.0h-1.0zM154.8 289.7h1.0v1.0h-1.0zM144.8 281.2h1.0v1.0h-1.0zM142.7 279.8h1.0v1.0h-1.0zM137.3 260.1h1.0v1.0h-1.0zM142.0 273.6h1.0v1.0h-1.0zM151.5 278.6h1.0v1.0h-1.0zM148.3 269.9h1.0v1.0h-1.0zM141.4 276.9h1.0v1.0h-1.0zM145.6 263.9h1.0v1.0h-1.0zM148.2 297.0h1.0v1.0h-1.0zM151.3 305.6h1.0v1.0h-1.0zM144.1 270.0h1.0v1.0h-1.0zM146.4 281.1h1.0v1.0h-1.0zM136.2 272.2h1.0v1.0h-1.0zM140.5 293.2h1.0v1.0h-1.0zM158.5 281.6h1.0v1.0h-1.0zM133.8 276.6h1.0v1.0h-1.0zM145.8 272.4h1.0v1.0h-1.0zM149.4 277.3h1.0v1.0h-1.0zM145.6 261.5h1.0v1.0h-1.0zM142.7 285.0h1.0v1.0h-1.0zM147.6 265.5h1.0v1.0h-1.0zM148.0 283.0h1.0v1.0h-1.0zM147.5 277.3h1.0v1.0h-1.0zM135.8 290.8h1.0v1.0h-1.0zM147.0 275.3h1.0v1.0h-1.0zM142.4 289.8h1.0v1.0h-1.0zM144.4 262.6h1.0v1.0h-1.0zM149.5 284.0h1.0v1.0h-1.0zM152.2 272.4h1.0v1.0h-1.0zM153.8 278.2h1.0v1.0h-1.0zM144.8 276.5h1.0v1.0h-1.0zM154.0 288.6h1.0v1.0h-1.0zM155.6 247.2h1.0v1.0h-1.0zM155.4 280.0h1.0v1.0h-1.0zM157.0 254.6h1.0v1.0h-1.0zM147.1 292.4h1.0v1.0h-1.0zM146.9 247.9h1.0v1.0h-1.0zM153.4 261.4h1.0v1.0h-1.0zM139.1 252.1h1.0v1.0h-1.0zM149.4 298.4h1.0v1.0h-1.0zM144.6 257.5h1.0v1.0h-1.0zM145.6 277.1h1.0v1.0h-1.0zM136.7 268.0h1.0v1.0h-1.0zM142.2 250.3h1.0v1.0h-1.0zM147.9 270.8h1.0v1.0h-1.0zM153.8 284.8h1.0v1.0h-1.0zM154.4 272.9h1.0v1.0h-1.0zM147.5 288.7h1.0v1.0h-1.0zM146.8 270.4h1.0v1.0h-1.0zM142.6 275.6h1.0v1.0h-1.0zM150.6 270.1h1.0v1.0h-1.0zM146.4 280.3h1.0v1.0h-1.0zM151.9 302.1h1.0v1.0h-1.0zM159.4 280.6h1.0v1.0h-1.0zM147.8 278.2h1.0v1.0h-1.0zM138.3 266.8h1.0v1.0h-1.0zM142.4 264.9h1.0v1.0h-1.0zM138.5 296.0h1.0v1.0h-1.0zM140.2 259.9h1.0v1.0h-1.0zM156.5 262.7h1.0v1.0h-1.0zM149.5 274.1h1.0v1.0h-1.0zM138.1 269.5h1.0v1.0h-1.0zM152.2 302.9h1.0v1.0h-1.0zM145.7 280.6h1.0v1.0h-1.0zM143.6 285.5h1.0v1.0h-1.0zM145.8 259.8h1.0v1.0h-1.0zM149.8 266.5h1.0v1.0h-1.0zM152.2 281.6h1.0v1.0h-1.0zM155.7 298.3h1.0v1.0h-1.0zM155.9 262.6h1.0v1.0h-1.0zM155.7 253.4h1.0v1.0h-1.0zM156.9 289.1h1.0v1.0h-1.0zM152.3 296.8h1.0v1.0h-1.0zM138.0 270.8h1.0v1.0h-1.0zM147.1 244.5h1.0v1.0h-1.0zM150.0 295.8h1.0v1.0h-1.0zM145.5 272.7h1.0v1.0h-1.0zM153.9 291.2h1.0v1.0h-1.0zM145.7 274.9h1.0v1.0h-1.0zM142.0 270.2h1.0v1.0h-1.0zM157.4 269.2h1.0v1.0h-1.0zM152.3 296.1h1.0v1.0h-1.0zM149.4 295.6h1.0v1.0h-1.0zM154.0 245.6h1.0v1.0h-1.0zM154.9 262.4h1.0v1.0h-1.0zM150.2 300.4h1.0v1.0h-1.0zM132.0 270.4h1.0v1.0h-1.0zM143.6 256.5h1.0v1.0h-1.0zM145.0 275.6h1.0v1.0h-1.0zM141.6 274.0h1.0v1.0h-1.0zM149.3 274.1h1.0v1.0h-1.0zM155.7 268.8h1.0v1.0h-1.0zM144.8 271.2h1.0v1.0h-1.0zM140.6 269.1h1.0v1.0h-1.0zM161.2 280.2h1.0v1.0h-1.0zM145.1 264.1h1.0v1.0h-1.0zM140.0 271.4h1.0v1.0h-1.0zM149.5 273.5h1.0v1.0h-1.0zM150.8 293.8h1.0v1.0h-1.0zM143.4 280.7h1.0v1.0h-1.0zM153.1 274.0h1.0v1.0h-1.0zM144.8 283.0h1.0v1.0h-1.0zM142.0 281.2h1.0v1.0h-1.0zM149.2 290.7h1.0v1.0h-1.0zM153.0 282.6h1.0v1.0h-1.0zM143.9 300.6h1.0v1.0h-1.0zM150.1 294.3h1.0v1.0h-1.0zM147.4 274.9h1.0v1.0h-1.0zM166.4 269.7h1.0v1.0h-1.0zM143.4 287.9h1.0v1.0h-1.0zM157.0 282.7h1.0v1.0h-1.0zM147.7 274.2h1.0v1.0h-1.0zM147.2 254.8h1.0v1.0h-1.0zM152.7 249.8h1.0v1.0h-1.0zM153.8 280.4h1.0v1.0h-1.0zM156.2 286.3h1.0v1.0h-1.0zM150.1 286.7h1.0v1.0h-1.0zM144.1 257.5h1.0v1.0h-1.0zM144.5 290.0h1.0v1.0h-1.0zM151.3 268.0h1.0v1.0h-1.0zM151.8 280.9h1.0v1.0h-1.0zM157.1 281.3h1.0v1.0h-1.0zM150.7 264.3h1.0v1.0h-1.0zM154.9 267.2h1.0v1.0h-1.0zM157.9 246.5h1.0v1.0h-1.0zM149.1 262.7h1.0v1.0h-1.0zM138.3 250.3h1.0v1.0h-1.0zM140.3 281.6h1.0v1.0h-1.0zM138.7 276.4h1.0v1.0h-1.0zM158.3 288.3h1.0v1.0h-1.0zM142.5 280.5h1.0v1.0h-1.0zM156.0 266.6h1.0v1.0h-1.0zM151.8 280.3h1.0v1.0h-1.0zM159.1 270.0h1.0v1.0h-1.0zM154.5 284.0h1.0v1.0h-1.0zM147.3 279.9h1.0v1.0h-1.0zM146.7 261.7h1.0v1.0h-1.0zM148.6 275.5h1.0v1.0h-1.0zM149.1 276.3h1.0v1.0h-1.0zM144.6 271.2h1.0v1.0h-1.0zM147.8 288.0h1.0v1.0h-1.0zM158.5 299.5h1.0v1.0h-1.0zM136.9 270.4h1.0v1.0h-1.0zM149.7 270.6h1.0v1.0h-1.0zM142.1 244.0h1.0v1.0h-1.0zM149.2 273.7h1.0v1.0h-1.0zM153.5 269.4h1.0v1.0h-1.0zM147.6 245.2h1.0v1.0h-1.0zM153.0 279.5h1.0v1.0h-1.0zM137.7 283.8h1.0v1.0h-1.0zM155.2 265.2h1.0v1.0h-1.0zM144.1 270.3h1.0v1.0h-1.0zM152.0 262.0h1.0v1.0h-1.0zM149.2 286.2h1.0v1.0h-1.0zM131.2 254.3h1.0v1.0h-1.0zM143.1 271.1h1.0v1.0h-1.0zM149.4 302.8h1.0v1.0h-1.0zM158.1 276.2h1.0v1.0h-1.0zM149.9 282.1h1.0v1.0h-1.0zM149.7 273.4h1.0v1.0h-1.0zM138.8 259.1h1.0v1.0h-1.0zM157.3 275.0h1.0v1.0h-1.0zM159.7 281.2h1.0v1.0h-1.0zM148.2 261.2h1.0v1.0h-1.0zM146.6 280.3h1.0v1.0h-1.0zM137.5 292.9h1.0v1.0h-1.0zM153.7 290.5h1.0v1.0h-1.0zM165.6 253.3h1.0v1.0h-1.0zM152.7 261.8h1.0v1.0h-1.0zM156.2 252.9h1.0v1.0h-1.0zM151.5 290.5h1.0v1.0h-1.0zM141.6 284.0h1.0v1.0h-1.0zM156.7 285.3h1.0v1.0h-1.0zM140.0 263.2h1.0v1.0h-1.0zM146.6 259.2h1.0v1.0h-1.0zM149.8 276.6h1.0v1.0h-1.0zM153.7 276.9h1.0v1.0h-1.0zM150.7 263.5h1.0v1.0h-1.0zM150.5 277.5h1.0v1.0h-1.0zM143.1 284.5h1.0v1.0h-1.0zM139.6 278.7h1.0v1.0h-1.0zM148.4 260.9h1.0v1.0h-1.0zM143.4 245.9h1.0v1.0h-1.0zM139.5 271.9h1.0v1.0h-1.0zM139.8 277.8h1.0v1.0h-1.0zM144.8 271.9h1.0v1.0h-1.0zM136.0 269.5h1.0v1.0h-1.0zM139.2 265.8h1.0v1.0h-1.0zM137.4 285.5h1.0v1.0h-1.0zM149.2 274.8h1.0v1.0h-1.0zM150.7 277.2h1.0v1.0h-1.0zM161.0 261.9h1.0v1.0h-1.0zM138.3 266.8h1.0v1.0h-1.0zM143.6 277.8h1.0v1.0h-1.0zM153.9 261.4h1.0v1.0h-1.0zM146.6 257.9h1.0v1.0h-1.0zM145.9 270.9h1.0v1.0h-1.0zM159.1 292.3h1.0v1.0h-1.0zM145.8 278.2h1.0v1.0h-1.0zM140.5 295.9h1.0v1.0h-1.0zM139.4 273.7h1.0v1.0h-1.0zM150.2 271.2h1.0v1.0h-1.0zM150.0 256.0h1.0v1.0h-1.0zM139.1 267.4h1.0v1.0h-1.0zM141.6 295.6h1.0v1.0h-1.0zM151.5 280.1h1.0v1.0h-1.0zM151.8 285.8h1.0v1.0h-1.0zM143.8 285.4h1.0v1.0h-1.0zM152.0 275.4h1.0v1.0h-1.0zM151.7 272.6h1.0v1.0h-1.0zM136.4 277.2h1.0v1.0h-1.0zM146.0 284.9h1.0v1.0h-1.0zM150.7 281.9h1.0v1.0h-1.0zM144.3 282.4h1.0v1.0h-1.0zM134.1 277.7h1.0v1.0h-1.0zM146.2 264.7h1.0v1.0h-1.0zM152.9 271.8h1.0v1.0h-1.0zM158.3 262.3h1.0v1.0h-1.0zM133.8 289.6h1.0v1.0h-1.0zM165.0 246.1h1.0v1.0h-1.0zM140.7 272.4h1.0v1.0h-1.0zM154.2 308.9h1.0v1.0h-1.0zM156.0 270.7h1.0v1.0h-1.0zM154.4 259.6h1.0v1.0h-1.0zM149.0 275.2h1.0v1.0h-1.0zM140.5 293.6h1.0v1.0h-1.0zM152.1 273.3h1.0v1.0h-1.0zM143.4 284.1h1.0v1.0h-1.0zM131.6 276.9h1.0v1.0h-1.0zM166.4 270.3h1.0v1.0h-1.0zM159.8 276.5h1.0v1.0h-1.0zM142.1 268.0h1.0v1.0h-1.0zM157.5 268.6h1.0v1.0h-1.0zM158.3 280.8h1.0v1.0h-1.0zM158.1 281.2h1.0v1.0h-1.0zM147.9 286.3h1.0v1.0h-1.0zM140.2 277.5h1.0v1.0h-1.0zM146.8 255.5h1.0v1.0h-1.0zM133.7 282.9h1.0v1.0h-1.0zM136.9 271.2h1.0v1.0h-1.0zM148.6 271.5h1.0v1.0h-1.0zM141.6 254.7h1.0v1.0h-1.0zM146.9 267.5h1.0v1.0h-1.0zM147.3 265.3h1.0v1.0h-1.0zM160.5 275.0h1.0v1.0h-1.0zM156.4 255.2h1.0v1.0h-1.0zM147.7 276.2h1.0v1.0h-1.0zM155.9 277.2h1.0v1.0h-1.0zM142.9 259.8h1.0v1.0h-1.0zM145.8 266.8h1.0v1.0h-1.0zM153.9 263.5h1.0v1.0h-1.0zM139.9 288.2h1.0v1.0h-1.0zM139.4 270.7h1.0v1.0h-1.0zM148.8 252.3h1.0v1.0h-1.0zM158.6 269.5h1.0v1.0h-1.0zM143.1 287.4h1.0v1.0h-1.0zM149.5 266.7h1.0v1.0h-1.0zM142.2 277.4h1.0v1.0h-1.0zM140.5 263.7h1.0v1.0h-1.0zM140.0 302.7h1.0v1.0h-1.0zM157.5 288.3h1.0v1.0h-1.0zM163.4 291.3h1.0v1.0h-1.0zM151.1 256.9h1.0v1.0h-1.0zM143.3 260.1h1.0v1.0h-1.0zM152.6 290.6h1.0v1.0h-1.0zM145.8 272.8h1.0v1.0h-1.0zM153.2 271.9h1.0v1.0h-1.0zM149.9 280.2h1.0v1.0h-1.0zM149.8 257.9h1.0v1.0h-1.0zM151.9 286.3h1.0v1.0h-1.0zM144.2 275.8h1.0v1.0h-1.0zM145.4 282.2h1.0v1.0h-1.0zM136.8 266.1h1.0v1.0h-1.0zM145.1 282.7h1.0v1.0h-1.0zM138.8 265.6h1.0v1.0h-1.0zM147.1 288.9h1.0v1.0h-1.0zM141.8 291.3h1.0v1.0h-1.0zM148.7 288.3h1.0v1.0h-1.0zM150.9 282.7h1.0v1.0h-1.0zM138.8 284.4h1.0v1.0h-1.0zM141.9 287.2h1.0v1.0h-1.0zM152.9 271.7h1.0v1.0h-1.0zM159.1 276.8h1.0v1.0h-1.0zM153.5 271.5h1.0v1.0h-1.0zM145.7 256.0h1.0v1.0h-1.0zM157.5 268.0h1.0v1.0h-1.0zM138.2 284.7h1.0v1.0h-1.0zM157.7 295.3h1.0v1.0h-1.0zM143.7 266.8h1.0v1.0h-1.0zM129.9 262.8h1.0v1.0h-1.0zM165.2 295.8h1.0v1.0h-1.0zM158.3 263.1h1.0v1.0h-1.0zM141.3 304.5h1.0v1.0h-1.0zM149.1 276.2h1.0v1.0h-1.0zM146.6 263.1h1.0v1.0h-1.0zM148.7 289.3h1.0v1.0h-1.0zM138.4 299.2h1.0v1.0h-1.0zM143.6 255.4h1.0v1.0h-1.0zM151.0 297.3h1.0v1.0h-1.0zM149.4 271.6h1.0v1.0h-1.0zM155.8 296.3h1.0v1.0h-1.0zM148.5 270.2h1.0v1.0h-1.0zM163.3 253.4h1.0v1.0h-1.0zM143.3 282.5h1.0v1.0h-1.0zM149.7 288.5h1.0v1.0h-1.0zM135.5 304.8h1.0v1.0h-1.0zM139.9 299.6h1.0v1.0h-1.0zM156.6 285.2h1.0v1.0h-1.0zM141.9 272.2h1.0v1.0h-1.0zM151.4 268.2h1.0v1.0h-1.0zM147.6 271.4h1.0v1.0h-1.0zM141.2 263.9h1.0v1.0h-1.0zM145.7 271.7h1.0v1.0h-1.0zM144.8 278.0h1.0v1.0h-1.0zM152.9 275.1h1.0v1.0h-1.0zM152.2 311.4h1.0v1.0h-1.0zM144.2 286.1h1.0v1.0h-1.0zM142.1 268.8h1.0v1.0h-1.0zM149.8 283.4h1.0v1.0h-1.0zM147.3 258.3h1.0v1.0h-1.0zM154.7 267.1h1.0v1.0h-1.0zM165.3 249.4h1.0v1.0h-1.0zM153.5 295.6h1.0v1.0h-1.0zM147.8 283.8h1.0v1.0h-1.0zM146.9 259.0h1.0v1.0h-1.0zM142.4 274.7h1.0v1.0h-1.0zM142.1 288.8h1.0v1.0h-1.0zM141.5 282.4h1.0v1.0h-1.0zM145.4 280.9h1.0v1.0h-1.0zM145.2 263.5h1.0v1.0h-1.0zM152.8 266.6h1.0v1.0h-1.0zM145.4 276.8h1.0v1.0h-1.0zM146.7 288.4h1.0v1.0h-1.0zM140.1 263.9h1.0v1.0h-1.0zM158.7 259.8h1.0v1.0h-1.0zM151.3 291.5h1.0v1.0h-1.0zM159.6 262.5h1.0v1.0h-1.0zM153.2 290.6h1.0v1.0h-1.0zM157.7 278.9h1.0v1.0h-1.0zM146.4 287.8h1.0v1.0h-1.0zM152.7 299.9h1.0v1.0h-1.0zM165.6 285.1h1.0v1.0h-1.0zM140.0 286.4h1.0v1.0h-1.0zM155.6 262.7h1.0v1.0h-1.0zM159.0 265.8h1.0v1.0h-1.0zM150.7 284.5h1.0v1.0h-1.0zM153.0 297.0h1.0v1.0h-1.0zM156.3 295.0h1.0v1.0h-1.0zM143.6 307.9h1.0v1.0h-1.0zM150.7 279.9h1.0v1.0h-1.0zM142.2 278.3h1.0v1.0h-1.0zM143.5 289.6h1.0v1.0h-1.0zM143.9 275.8h1.0v1.0h-1.0zM147.0 274.6h1.0v1.0h-1.0zM149.0 260.8h1.0v1.0h-1.0zM151.0 289.4h1.0v1.0h-1.0zM138.6 260.5h1.0v1.0h-1.0zM161.2 282.7h1.0v1.0h-1.0zM155.7 255.6h1.0v1.0h-1.0zM152.8 290.8h1.0v1.0h-1.0zM145.6 261.1h1.0v1.0h-1.0zM147.4 287.3h1.0v1.0h-1.0zM151.6 253.2h1.0v1.0h-1.0zM150.7 269.3h1.0v1.0h-1.0zM136.8 292.0h1.0v1.0h-1.0zM152.9 264.2h1.0v1.0h-1.0zM167.4 276.4h1.0v1.0h-1.0zM135.7 268.8h1.0v1.0h-1.0zM154.6 243.2h1.0v1.0h-1.0zM150.5 279.8h1.0v1.0h-1.0zM147.3 281.6h1.0v1.0h-1.0zM157.1 260.0h1.0v1.0h-1.0zM140.1 283.5h1.0v1.0h-1.0zM149.1 264.4h1.0v1.0h-1.0zM157.8 261.5h1.0v1.0h-1.0zM146.7 275.6h1.0v1.0h-1.0zM145.2 266.0h1.0v1.0h-1.0zM148.8 307.6h1.0v1.0h-1.0zM145.0 253.7h1.0v1.0h-1.0zM158.3 285.8h1.0v1.0h-1.0zM141.9 289.3h1.0v1.0h-1.0zM153.8 247.8h1.0v1.0h-1.0zM139.6 251.2h1.0v1.0h-1.0zM152.5 283.4h1.0v1.0h-1.0zM147.3 268.8h1.0v1.0h-1.0zM130.7 280.9h1.0v1.0h-1.0zM148.0 291.5h1.0v1.0h-1.0zM140.9 270.3h1.0v1.0h-1.0zM145.0 260.6h1.0v1.0h-1.0zM140.5 278.4h1.0v1.0h-1.0zM140.9 262.5h1.0v1.0h-1.0zM157.6 279.9h1.0v1.0h-1.0zM148.8 278.7h1.0v1.0h-1.0zM158.3 256.1h1.0v1.0h-1.0zM150.2 299.6h1.0v1.0h-1.0zM142.1 290.7h1.0v1.0h-1.0zM147.6 287.4h1.0v1.0h-1.0zM156.2 258.9h1.0v1.0h-1.0zM154.3 269.8h1.0v1.0h-1.0zM148.0 267.8h1.0v1.0h-1.0zM148.3 269.7h1.0v1.0h-1.0zM147.2 259.8h1.0v1.0h-1.0zM144.1 281.6h1.0v1.0h-1.0zM160.9 278.7h1.0v1.0h-1.0zM148.0 280.6h1.0v1.0h-1.0zM140.4 268.4h1.0v1.0h-1.0zM144.8 293.6h1.0v1.0h-1.0zM152.9 278.1h1.0v1.0h-1.0zM147.1 266.5h1.0v1.0h-1.0zM143.5 274.7h1.0v1.0h-1.0zM148.2 289.0h1.0v1.0h-1.0zM136.8 271.3h1.0v1.0h-1.0zM139.3 272.0h1.0v1.0h-1.0zM153.3 266.2h1.0v1.0h-1.0zM144.8 284.8h1.0v1.0h-1.0zM150.5 269.2h1.0v1.0h-1.0zM156.1 267.1h1.0v1.0h-1.0zM152.3 265.1h1.0v1.0h-1.0zM148.1 283.3h1.0v1.0h-1.0zM162.2 268.0h1.0v1.0h-1.0zM152.5 252.0h1.0v1.0h-1.0zM145.6 284.2h1.0v1.0h-1.0zM152.9 265.7h1.0v1.0h-1.0zM150.7 280.5h1.0v1.0h-1.0zM142.3 280.7h1.0v1.0h-1.0zM148.5 292.4h1.0v1.0h-1.0zM146.9 290.1h1.0v1.0h-1.0zM134.9 267.4h1.0v1.0h-1.0zM146.8 273.2h1.0v1.0h-1.0zM146.1 257.4h1.0v1.0h-1.0zM145.1 299.0h1.0v1.0h-1.0zM137.0 281.7h1.0v1.0h-1.0zM145.6 295.0h1.0v1.0h-1.0zM147.7 271.0h1.0v1.0h-1.0zM148.7 246.8h1.0v1.0h-1.0zM140.4 296.9h1.0v1.0h-1.0zM152.2 276.8h1.0v1.0h-1.0zM139.9 277.4h1.0v1.0h-1.0zM146.5 276.3h1.0v1.0h-1.0zM156.7 284.5h1.0v1.0h-1.0zM143.4 283.0h1.0v1.0h-1.0zM144.6 253.2h1.0v1.0h-1.0zM155.2 290.7h1.0v1.0h-1.0zM145.4 268.1h1.0v1.0h-1.0zM146.0 269.0h1.0v1.0h-1.0zM149.5 299.7h1.0v1.0h-1.0zM155.0 288.4h1.0v1.0h-1.0zM133.3 270.8h1.0v1.0h-1.0zM142.5 249.5h1.0v1.0h-1.0zM141.3 277.8h1.0v1.0h-1.0zM140.8 283.0h1.0v1.0h-1.0zM142.3 274.4h1.0v1.0h-1.0zM142.4 258.1h1.0v1.0h-1.0zM150.0 264.4h1.0v1.0h-1.0zM142.1 257.9h1.0v1.0h-1.0zM148.8 278.5h1.0v1.0h-1.0zM150.7 287.0h1.0v1.0h-1.0zM143.1 289.9h1.0v1.0h-1.0zM148.9 265.2h1.0v1.0h-1.0zM158.9 278.8h1.0v1.0h-1.0zM150.1 283.3h1.0v1.0h-1.0zM143.8 268.3h1.0v1.0h-1.0zM147.6 273.4h1.0v1.0h-1.0zM141.9 305.2h1.0v1.0h-1.0zM149.8 278.4h1.0v1.0h-1.0zM153.7 287.9h1.0v1.0h-1.0zM142.6 269.4h1.0v1.0h-1.0zM146.6 276.1h1.0v1.0h-1.0zM155.4 251.5h1.0v1.0h-1.0zM144.7 275.1h1.0v1.0h-1.0zM149.2 292.2h1.0v1.0h-1.0zM141.2 304.9h1.0v1.0h-1.0zM142.6 292.3h1.0v1.0h-1.0zM144.6 285.1h1.0v1.0h-1.0zM162.1 276.2h1.0v1.0h-1.0zM145.3 267.1h1.0v1.0h-1.0zM144.6 273.3h1.0v1.0h-1.0zM144.3 284.1h1.0v1.0h-1.0zM146.9 264.5h1.0v1.0h-1.0zM152.3 288.6h1.0v1.0h-1.0zM149.2 261.7h1.0v1.0h-1.0zM161.4 250.6h1.0v1.0h-1.0zM149.4 261.3h1.0v1.0h-1.0zM157.4 252.2h1.0v1.0h-1.0zM149.8 256.3h1.0v1.0h-1.0zM151.9 291.3h1.0v1.0h-1.0zM138.6 272.7h1.0v1.0h-1.0zM147.2 278.6h1.0v1.0h-1.0zM147.6 291.7h1.0v1.0h-1.0zM146.4 293.1h1.0v1.0h-1.0zM134.0 268.4h1.0v1.0h-1.0zM153.7 294.1h1.0v1.0h-1.0zM145.5 280.9h1.0v1.0h-1.0zM145.2 275.5h1.0v1.0h-1.0zM146.3 281.7h1.0v1.0h-1.0zM146.5 255.5h1.0v1.0h-1.0zM150.6 264.5h1.0v1.0h-1.0zM139.7 274.0h1.0v1.0h-1.0zM141.9 284.0h1.0v1.0h-1.0zM149.9 270.3h1.0v1.0h-1.0zM148.9 273.7h1.0v1.0h-1.0zM145.6 289.1h1.0v1.0h-1.0zM144.3 295.3h1.0v1.0h-1.0zM142.6 286.2h1.0v1.0h-1.0zM147.6 293.3h1.0v1.0h-1.0zM155.7 269.8h1.0v1.0h-1.0zM141.1 271.2h1.0v1.0h-1.0zM157.9 280.0h1.0v1.0h-1.0zM153.5 271.3h1.0v1.0h-1.0zM145.1 268.4h1.0v1.0h-1.0zM153.1 298.6h1.0v1.0h-1.0zM138.5 272.7h1.0v1.0h-1.0zM136.7 262.0h1.0v1.0h-1.0zM139.6 282.3h1.0v1.0h-1.0zM145.3 301.2h1.0v1.0h-1.0zM145.9 276.6h1.0v1.0h-1.0zM144.7 292.7h1.0v1.0h-1.0zM148.6 269.4h1.0v1.0h-1.0zM134.1 268.6h1.0v1.0h-1.0zM151.2 265.8h1.0v1.0h-1.0zM138.8 273.5h1.0v1.0h-1.0zM143.7 301.2h1.0v1.0h-1.0zM145.3 259.3h1.0v1.0h-1.0zM140.5 298.4h1.0v1.0h-1.0zM139.1 261.4h1.0v1.0h-1.0zM141.5 272.2h1.0v1.0h-1.0zM147.9 287.2h1.0v1.0h-1.0zM151.8 284.3h1.0v1.0h-1.0zM151.7 279.4h1.0v1.0h-1.0zM141.5 252.4h1.0v1.0h-1.0zM142.9 280.6h1.0v1.0h-1.0zM142.0 261.2h1.0v1.0h-1.0zM150.9 311.5h1.0v1.0h-1.0zM134.8 272.5h1.0v1.0h-1.0zM156.0 278.1h1.0v1.0h-1.0zM144.8 259.4h1.0v1.0h-1.0zM142.9 268.8h1.0v1.0h-1.0zM150.2 257.4h1.0v1.0h-1.0zM154.7 289.2h1.0v1.0h-1.0zM150.2 271.8h1.0v1.0h-1.0zM154.8 283.4h1.0v1.0h-1.0zM148.9 265.9h1.0v1.0h-1.0zM156.0 268.5h1.0v1.0h-1.0zM156.1 293.5h1.0v1.0h-1.0zM147.4 261.9h1.0v1.0h-1.0zM157.4 250.3h1.0v1.0h-1.0zM149.1 281.2h1.0v1.0h-1.0zM148.6 259.5h1.0v1.0h-1.0zM142.0 269.3h1.0v1.0h-1.0zM146.1 288.3h1.0v1.0h-1.0zM153.1 264.0h1.0v1.0h-1.0zM139.5 287.8h1.0v1.0h-1.0zM152.2 266.0h1.0v1.0h-1.0zM150.3 296.4h1.0v1.0h-1.0zM149.8 294.1h1.0v1.0h-1.0zM133.7 268.9h1.0v1.0h-1.0zM147.3 272.5h1.0v1.0h-1.0zM152.2 263.9h1.0v1.0h-1.0zM143.0 278.3h1.0v1.0h-1.0zM148.6 291.6h1.0v1.0h-1.0zM132.5 255.2h1.0v1.0h-1.0zM152.4 288.3h1.0v1.0h-1.0zM143.7 257.0h1.0v1.0h-1.0zM153.7 263.5h1.0v1.0h-1.0zM136.0 250.5h1.0v1.0h-1.0zM152.5 305.0h1.0v1.0h-1.0zM146.5 276.3h1.0v1.0h-1.0zM153.2 278.9h1.0v1.0h-1.0zM142.0 266.0h1.0v1.0h-1.0zM144.0 290.4h1.0v1.0h-1.0zM162.6 246.1h1.0v1.0h-1.0zM142.6 275.9h1.0v1.0h-1.0zM143.4 306.4h1.0v1.0h-1.0zM146.2 270.2h1.0v1.0h-1.0zM141.4 275.7h1.0v1.0h-1.0zM155.7 284.9h1.0v1.0h-1.0zM159.2 264.1h1.0v1.0h-1.0zM143.4 275.8h1.0v1.0h-1.0zM136.8 289.0h1.0v1.0h-1.0zM155.6 278.2h1.0v1.0h-1.0zM155.2 280.7h1.0v1.0h-1.0zM153.3 270.6h1.0v1.0h-1.0zM155.5 279.9h1.0v1.0h-1.0zM142.4 276.3h1.0v1.0h-1.0zM146.9 295.9h1.0v1.0h-1.0zM139.0 285.6h1.0v1.0h-1.0zM138.8 272.1h1.0v1.0h-1.0zM143.6 285.5h1.0v1.0h-1.0zM162.8 286.1h1.0v1.0h-1.0zM148.5 262.7h1.0v1.0h-1.0zM143.8 247.5h1.0v1.0h-1.0zM153.2 259.5h1.0v1.0h-1.0zM159.7 288.5h1.0v1.0h-1.0zM151.2 260.6h1.0v1.0h-1.0zM140.1 269.1h1.0v1.0h-1.0zM150.4 278.6h1.0v1.0h-1.0zM156.9 292.6h1.0v1.0h-1.0zM144.8 275.2h1.0v1.0h-1.0zM143.0 274.1h1.0v1.0h-1.0zM154.6 267.8h1.0v1.0h-1.0zM148.9 298.3h1.0v1.0h-1.0zM140.8 290.4h1.0v1.0h-1.0zM145.5 274.2h1.0v1.0h-1.0zM143.1 255.9h1.0v1.0h-1.0zM149.9 264.4h1.0v1.0h-1.0zM148.7 283.6h1.0v1.0h-1.0zM155.5 265.4h1.0v1.0h-1.0zM152.6 288.0h1.0v1.0h-1.0zM137.8 280.6h1.0v1.0h-1.0zM150.6 279.6h1.0v1.0h-1.0zM153.8 284.6h1.0v1.0h-1.0zM151.0 282.5h1.0v1.0h-1.0zM154.7 263.5h1.0v1.0h-1.0zM144.4 270.9h1.0v1.0h-1.0zM141.8 308.3h1.0v1.0h-1.0zM154.0 258.6h1.0v1.0h-1.0zM141.1 268.9h1.0v1.0h-1.0zM134.0 290.4h1.0v1.0h-1.0zM154.7 273.3h1.0v1.0h-1.0zM143.3 264.1h1.0v1.0h-1.0zM146.0 257.0h1.0v1.0h-1.0zM138.9 283.0h1.0v1.0h-1.0zM139.4 289.8h1.0v1.0h-1.0zM140.5 295.1h1.0v1.0h-1.0zM145.7 276.3h1.0v1.0h-1.0zM150.4 290.1h1.0v1.0h-1.0zM133.1 261.0h1.0v1.0h-1.0zM152.9 277.9h1.0v1.0h-1.0zM140.3 266.0h1.0v1.0h-1.0zM141.1 277.9h1.0v1.0h-1.0zM152.4 286.0h1.0v1.0h-1.0zM147.5 290.5h1.0v1.0h-1.0zM138.0 261.6h1.0v1.0h-1.0zM160.0 293.2h1.0v1.0h-1.0zM142.4 268.9h1.0v1.0h-1.0zM149.6 261.1h1.0v1.0h-1.0zM149.3 273.1h1.0v1.0h-1.0zM157.2 255.0h1.0v1.0h-1.0zM145.0 275.6h1.0v1.0h-1.0zM154.6 279.6h1.0v1.0h-1.0zM143.2 272.7h1.0v1.0h-1.0zM155.3 283.0h1.0v1.0h-1.0zM143.0 271.1h1.0v1.0h-1.0zM145.6 275.6h1.0v1.0h-1.0zM160.3 255.3h1.0v1.0h-1.0zM150.1 276.1h1.0v1.0h-1.0zM148.7 263.6h1.0v1.0h-1.0zM162.6 269.2h1.0v1.0h-1.0zM150.3 274.2h1.0v1.0h-1.0zM142.7 278.2h1.0v1.0h-1.0zM152.8 252.4h1.0v1.0h-1.0zM140.3 253.6h1.0v1.0h-1.0zM155.3 271.3h1.0v1.0h-1.0zM155.8 282.1h1.0v1.0h-1.0zM144.3 280.5h1.0v1.0h-1.0zM143.9 288.0h1.0v1.0h-1.0zM149.1 293.7h1.0v1.0h-1.0zM148.1 282.5h1.0v1.0h-1.0zM141.6 275.2h1.0v1.0h-1.0zM151.7 261.1h1.0v1.0h-1.0zM134.7 262.3h1.0v1.0h-1.0zM145.2 269.0h1.0v1.0h-1.0zM145.4 279.2h1.0v1.0h-1.0zM146.2 278.6h1.0v1.0h-1.0zM150.0 275.6h1.0v1.0h-1.0zM140.0 273.4h1.0v1.0h-1.0zM151.8 284.3h1.0v1.0h-1.0zM146.8 278.4h1.0v1.0h-1.0zM143.8 279.7h1.0v1.0h-1.0zM139.1 279.8h1.0v1.0h-1.0zM140.3 267.9h1.0v1.0h-1.0zM150.3 261.1h1.0v1.0h-1.0zM141.7 282.4h1.0v1.0h-1.0zM148.4 281.3h1.0v1.0h-1.0zM154.9 272.4h1.0v1.0h-1.0zM154.7 269.7h1.0v1.0h-1.0zM158.1 307.4h1.0v1.0h-1.0zM146.1 264.9h1.0v1.0h-1.0zM140.9 272.5h1.0v1.0h-1.0zM154.6 279.2h1.0v1.0h-1.0zM150.0 259.3h1.0v1.0h-1.0zM155.3 277.1h1.0v1.0h-1.0zM148.1 300.7h1.0v1.0h-1.0zM155.8 288.6h1.0v1.0h-1.0zM153.5 284.4h1.0v1.0h-1.0zM152.7 283.8h1.0v1.0h-1.0zM151.3 277.1h1.0v1.0h-1.0zM150.6 288.9h1.0v1.0h-1.0zM149.5 273.3h1.0v1.0h-1.0zM149.5 269.6h1.0v1.0h-1.0zM154.4 276.9h1.0v1.0h-1.0zM144.7 288.2h1.0v1.0h-1.0zM159.3 280.1h1.0v1.0h-1.0zM147.3 284.9h1.0v1.0h-1.0zM154.4 247.2h1.0v1.0h-1.0zM147.4 292.2h1.0v1.0h-1.0zM146.4 308.3h1.0v1.0h-1.0zM161.2 294.2h1.0v1.0h-1.0zM146.0 271.1h1.0v1.0h-1.0zM139.7 263.6h1.0v1.0h-1.0zM143.4 279.4h1.0v1.0h-1.0zM145.9 261.7h1.0v1.0h-1.0zM162.0 285.7h1.0v1.0h-1.0zM149.3 268.1h1.0v1.0h-1.0zM154.1 288.9h1.0v1.0h-1.0zM141.5 294.6h1.0v1.0h-1.0zM150.3 247.0h1.0v1.0h-1.0zM152.4 279.6h1.0v1.0h-1.0zM159.7 265.7h1.0v1.0h-1.0zM143.5 255.8h1.0v1.0h-1.0zM151.9 266.9h1.0v1.0h-1.0zM150.0 272.4h1.0v1.0h-1.0zM141.4 290.0h1.0v1.0h-1.0zM147.9 254.2h1.0v1.0h-1.0zM146.3 290.2h1.0v1.0h-1.0zM132.9 303.8h1.0v1.0h-1.0zM151.9 283.9h1.0v1.0h-1.0zM151.5 283.1h1.0v1.0h-1.0zM145.1 275.3h1.0v1.0h-1.0zM139.3 259.0h1.0v1.0h-1.0zM157.6 283.0h1.0v1.0h-1.0zM149.7 280.9h1.0v1.0h-1.0zM154.6 285.7h1.0v1.0h-1.0zM157.2 311.5h1.0v1.0h-1.0zM144.6 285.7h1.0v1.0h-1.0zM153.3 281.5h1.0v1.0h-1.0zM146.4 297.4h1.0v1.0h-1.0zM147.6 256.7h1.0v1.0h-1.0zM147.4 259.5h1.0v1.0h-1.0zM148.0 270.2h1.0v1.0h-1.0zM155.2 266.3h1.0v1.0h-1.0zM148.8 285.2h1.0v1.0h-1.0zM147.0 271.1h1.0v1.0h-1.0zM146.2 299.9h1.0v1.0h-1.0zM150.2 296.8h1.0v1.0h-1.0zM142.2 286.3h1.0v1.0h-1.0zM144.7 270.1h1.0v1.0h-1.0zM147.7 284.1h1.0v1.0h-1.0zM144.3 286.9h1.0v1.0h-1.0zM147.2 260.6h1.0v1.0h-1.0zM144.0 280.4h1.0v1.0h-1.0zM161.0 285.4h1.0v1.0h-1.0zM156.6 278.5h1.0v1.0h-1.0zM150.9 297.5h1.0v1.0h-1.0zM147.7 292.5h1.0v1.0h-1.0zM162.2 263.9h1.0v1.0h-1.0zM150.1 277.2h1.0v1.0h-1.0zM147.4 263.8h1.0v1.0h-1.0zM150.0 283.6h1.0v1.0h-1.0zM150.0 263.4h1.0v1.0h-1.0zM157.2 288.4h1.0v1.0h-1.0zM147.9 280.9h1.0v1.0h-1.0zM161.6 289.1h1.0v1.0h-1.0zM142.3 273.5h1.0v1.0h-1.0zM152.5 255.1h1.0v1.0h-1.0zM141.5 300.2h1.0v1.0h-1.0zM159.8 273.1h1.0v1.0h-1.0zM145.9 294.8h1.0v1.0h-1.0zM147.6 281.5h1.0v1.0h-1.0zM154.0 284.9h1.0v1.0h-1.0zM156.2 301.1h1.0v1.0h-1.0zM140.8 280.3h1.0v1.0h-1.0zM145.7 295.1h1.0v1.0h-1.0zM138.9 254.7h1.0v1.0h-1.0zM148.9 287.7h1.0v1.0h-1.0zM147.3 272.1h1.0v1.0h-1.0zM145.7 273.6h1.0v1.0h-1.0zM143.6 275.6h1.0v1.0h-1.0zM145.5 280.4h1.0v1.0h-1.0zM143.1 298.7h1.0v1.0h-1.0zM151.4 249.5h1.0v1.0h-1.0zM157.9 276.1h1.0v1.0h-1.0zM135.5 265.5h1.0v1.0h-1.0zM147.2 291.8h1.0v1.0h-1.0zM145.3 269.6h1.0v1.0h-1.0zM151.2 281.9h1.0v1.0h-1.0zM141.8 269.9h1.0v1.0h-1.0zM147.0 284.9h1.0v1.0h-1.0zM141.2 289.7h1.0v1.0h-1.0zM152.5 269.9h1.0v1.0h-1.0zM148.6 276.2h1.0v1.0h-1.0zM147.0 255.6h1.0v1.0h-1.0zM150.4 279.8h1.0v1.0h-1.0zM146.4 287.5h1.0v1.0h-1.0zM137.9 267.7h1.0v1.0h-1.0zM151.9 291.2h1.0v1.0h-1.0zM149.9 246.5h1.0v1.0h-1.0zM147.0 249.6h1.0v1.0h-1.0zM154.4 256.1h1.0v1.0h-1.0zM155.9 268.7h1.0v1.0h-1.0zM140.9 275.8h1.0v1.0h-1.0zM142.9 274.4h1.0v1.0h-1.0zM158.1 274.6h1.0v1.0h-1.0zM157.2 285.6h1.0v1.0h-1.0zM143.2 268.9h1.0v1.0h-1.0zM140.3 257.8h1.0v1.0h-1.0zM143.9 258.1h1.0v1.0h-1.0zM144.8 305.1h1.0v1.0h-1.0zM148.2 273.0h1.0v1.0h-1.0zM139.7 295.9h1.0v1.0h-1.0zM140.1 282.3h1.0v1.0h-1.0zM154.0 263.9h1.0v1.0h-1.0zM143.6 275.5h1.0v1.0h-1.0zM147.5 287.6h1.0v1.0h-1.0zM152.1 292.4h1.0v1.0h-1.0zM153.3 262.9h1.0v1.0h-1.0zM145.8 286.1h1.0v1.0h-1.0zM148.3 279.0h1.0v1.0h-1.0zM142.6 291.0h1.0v1.0h-1.0zM159.4 295.0h1.0v1.0h-1.0zM152.2 270.7h1.0v1.0h-1.0zM140.8 255.2h1.0v1.0h-1.0zM148.0 281.0h1.0v1.0h-1.0zM152.6 300.4h1.0v1.0h-1.0zM151.1 285.1h1.0v1.0h-1.0zM159.9 278.7h1.0v1.0h-1.0zM156.9 309.1h1.0v1.0h-1.0zM144.5 260.9h1.0v1.0h-1.0zM147.4 288.1h1.0v1.0h-1.0zM139.7 267.5h1.0v1.0h-1.0zM149.6 276.2h1.0v1.0h-1.0zM149.0 276.8h1.0v1.0h-1.0zM165.6 296.7h1.0v1.0h-1.0zM148.6 262.4h1.0v1.0h-1.0zM134.4 268.0h1.0v1.0h-1.0zM143.6 253.2h1.0v1.0h-1.0zM148.7 282.3h1.0v1.0h-1.0zM139.8 269.1h1.0v1.0h-1.0zM142.4 281.4h1.0v1.0h-1.0zM145.6 260.5h1.0v1.0h-1.0zM150.2 270.5h1.0v1.0h-1.0zM146.9 290.0h1.0v1.0h-1.0zM142.2 273.1h1.0v1.0h-1.0zM153.1 284.3h1.0v1.0h-1.0zM144.5 282.9h1.0v1.0h-1.0zM144.8 270.6h1.0v1.0h-1.0zM139.0 253.7h1.0v1.0h-1.0zM142.9 289.3h1.0v1.0h-1.0zM152.2 277.9h1.0v1.0h-1.0zM137.5 289.3h1.0v1.0h-1.0zM147.5 247.3h1.0v1.0h-1.0zM152.7 252.3h1.0v1.0h-1.0zM145.5 245.5h1.0v1.0h-1.0zM149.6 263.2h1.0v1.0h-1.0zM140.7 290.1h1.0v1.0h-1.0zM156.5 283.4h1.0v1.0h-1.0zM155.2 275.0h1.0v1.0h-1.0zM149.5 277.3h1.0v1.0h-1.0zM136.6 286.2h1.0v1.0h-1.0zM141.2 271.3h1.0v1.0h-1.0zM154.3 281.0h1.0v1.0h-1.0zM159.1 277.5h1.0v1.0h-1.0zM149.9 244.9h1.0v1.0h-1.0zM156.1 270.1h1.0v1.0h-1.0zM144.0 294.5h1.0v1.0h-1.0zM146.8 270.0h1.0v1.0h-1.0zM148.0 273.5h1.0v1.0h-1.0zM150.8 267.0h1.0v1.0h-1.0zM138.1 268.7h1.0v1.0h-1.0zM154.1 291.2h1.0v1.0h-1.0zM156.6 271.7h1.0v1.0h-1.0zM140.5 261.2h1.0v1.0h-1.0zM150.3 267.5h1.0v1.0h-1.0zM143.7 248.0h1.0v1.0h-1.0zM132.6 250.0h1.0v1.0h-1.0zM153.3 286.6h1.0v1.0h-1.0zM149.0 285.4h1.0v1.0h-1.0zM144.9 248.7h1.0v1.0h-1.0zM161.7 287.4h1.0v1.0h-1.0zM148.9 281.9h1.0v1.0h-1.0zM143.1 264.5h1.0v1.0h-1.0zM148.7 285.8h1.0v1.0h-1.0zM141.2 252.7h1.0v1.0h-1.0zM143.0 258.6h1.0v1.0h-1.0zM150.5 255.3h1.0v1.0h-1.0zM144.4 259.9h1.0v1.0h-1.0zM145.1 287.8h1.0v1.0h-1.0zM158.8 256.8h1.0v1.0h-1.0zM153.6 259.4h1.0v1.0h-1.0zM153.2 262.2h1.0v1.0h-1.0zM151.4 278.2h1.0v1.0h-1.0zM151.1 270.7h1.0v1.0h-1.0zM157.5 287.6h1.0v1.0h-1.0zM147.9 265.5h1.0v1.0h-1.0zM160.1 257.4h1.0v1.0h-1.0zM141.8 268.4h1.0v1.0h-1.0zM146.3 276.0h1.0v1.0h-1.0zM139.0 262.4h1.0v1.0h-1.0zM145.8 279.3h1.0v1.0h-1.0zM151.4 300.9h1.0v1.0h-1.0zM157.4 267.3h1.0v1.0h-1.0zM143.7 276.0h1.0v1.0h-1.0zM148.0 294.3h1.0v1.0h-1.0zM145.7 266.3h1.0v1.0h-1.0zM143.2 263.5h1.0v1.0h-1.0zM140.3 260.0h1.0v1.0h-1.0zM148.4 280.9h1.0v1.0h-1.0zM136.7 282.5h1.0v1.0h-1.0zM148.7 273.2h1.0v1.0h-1.0zM148.1 275.9h1.0v1.0h-1.0zM143.7 293.1h1.0v1.0h-1.0zM141.4 287.4h1.0v1.0h-1.0zM139.0 255.6h1.0v1.0h-1.0zM160.2 275.1h1.0v1.0h-1.0zM139.3 276.7h1.0v1.0h-1.0zM158.1 285.3h1.0v1.0h-1.0zM151.9 272.0h1.0v1.0h-1.0zM145.6 266.1h1.0v1.0h-1.0zM140.5 268.7h1.0v1.0h-1.0zM154.8 250.2h1.0v1.0h-1.0zM159.2 274.8h1.0v1.0h-1.0zM141.9 266.8h1.0v1.0h-1.0zM146.1 281.6h1.0v1.0h-1.0zM154.8 260.7h1.0v1.0h-1.0zM150.2 269.0h1.0v1.0h-1.0zM161.0 261.4h1.0v1.0h-1.0zM144.3 260.1h1.0v1.0h-1.0zM151.5 284.8h1.0v1.0h-1.0zM139.9 268.5h1.0v1.0h-1.0zM161.6 281.2h1.0v1.0h-1.0zM143.3 259.3h1.0v1.0h-1.0zM133.6 276.4h1.0v1.0h-1.0zM147.2 251.3h1.0v1.0h-1.0zM147.1 268.3h1.0v1.0h-1.0zM160.5 267.9h1.0v1.0h-1.0zM145.8 283.1h1.0v1.0h-1.0zM147.9 277.5h1.0v1.0h-1.0zM151.9 272.5h1.0v1.0h-1.0zM158.3 286.7h1.0v1.0h-1.0zM147.6 277.6h1.0v1.0h-1.0zM154.8 282.4h1.0v1.0h-1.0zM151.4 285.6h1.0v1.0h-1.0zM146.1 274.0h1.0v1.0h-1.0zM148.5 270.8h1.0v1.0h-1.0zM148.2 279.5h1.0v1.0h-1.0zM142.0 269.1h1.0v1.0h-1.0zM155.9 280.3h1.0v1.0h-1.0zM139.0 290.4h1.0v1.0h-1.0zM155.6 286.8h1.0v1.0h-1.0zM154.2 269.5h1.0v1.0h-1.0zM147.4 256.9h1.0v1.0h-1.0zM143.0 274.1h1.0v1.0h-1.0zM146.5 273.1h1.0v1.0h-1.0zM151.1 290.3h1.0v1.0h-1.0zM152.8 269.5h1.0v1.0h-1.0zM149.9 271.9h1.0v1.0h-1.0zM154.4 285.1h1.0v1.0h-1.0zM144.4 268.2h1.0v1.0h-1.0zM149.5 272.6h1.0v1.0h-1.0zM137.8 298.8h1.0v1.0h-1.0zM153.0 295.7h1.0v1.0h-1.0zM149.0 283.6h1.0v1.0h-1.0zM145.3 278.6h1.0v1.0h-1.0zM155.6 261.3h1.0v1.0h-1.0zM152.5 282.6h1.0v1.0h-1.0zM129.7 275.7h1.0v1.0h-1.0zM148.3 277.9h1.0v1.0h-1.0zM138.5 267.6h1.0v1.0h-1.0zM154.9 274.7h1.0v1.0h-1.0zM164.2 272.3h1.0v1.0h-1.0zM144.6 279.2h1.0v1.0h-1.0zM148.5 294.8h1.0v1.0h-1.0zM146.4 279.9h1.0v1.0h-1.0zM150.3 251.7h1.0v1.0h-1.0zM152.2 261.3h1.0v1.0h-1.0zM156.4 252.7h1.0v1.0h-1.0zM141.6 263.8h1.0v1.0h-1.0zM158.2 282.6h1.0v1.0h-1.0zM141.9 280.4h1.0v1.0h-1.0zM149.8 266.5h1.0v1.0h-1.0zM155.5 278.6h1.0v1.0h-1.0zM152.6 264.3h1.0v1.0h-1.0zM141.9 255.0h1.0v1.0h-1.0zM143.4 255.2h1.0v1.0h-1.0zM145.0 262.8h1.0v1.0h-1.0zM147.7 294.7h1.0v1.0h-1.0zM155.5 256.1h1.0v1.0h-1.0zM139.6 292.2h1.0v1.0h-1.0zM151.0 293.4h1.0v1.0h-1.0zM152.0 272.3h1.0v1.0h-1.0zM151.6 274.1h1.0v1.0h-1.0zM151.0 266.2h1.0v1.0h-1.0zM157.9 274.5h1.0v1.0h-1.0zM151.2 284.0h1.0v1.0h-1.0zM153.6 274.9h1.0v1.0h-1.0zM151.7 288.7h1.0v1.0h-1.0zM159.7 291.4h1.0v1.0h-1.0zM135.7 279.6h1.0v1.0h-1.0zM156.3 279.4h1.0v1.0h-1.0zM146.3 273.9h1.0v1.0h-1.0zM146.2 279.6h1.0v1.0h-1.0zM141.7 259.2h1.0v1.0h-1.0zM135.9 280.4h1.0v1.0h-1.0zM145.5 277.6h1.0v1.0h-1.0zM143.5 262.7h1.0v1.0h-1.0zM151.2 304.8h1.0v1.0h-1.0zM138.4 261.2h1.0v1.0h-1.0zM157.3 262.6h1.0v1.0h-1.0zM149.8 278.7h1.0v1.0h-1.0zM146.4 247.7h1.0v1.0h-1.0zM143.4 263.7h1.0v1.0h-1.0zM142.9 253.5h1.0v1.0h-1.0zM140.7 261.3h1.0v1.0h-1.0zM144.5 272.9h1.0v1.0h-1.0zM148.0 279.2h1.0v1.0h-1.0zM146.8 290.2h1.0v1.0h-1.0zM138.8 286.0h1.0v1.0h-1.0zM146.3 291.3h1.0v1.0h-1.0zM142.2 283.0h1.0v1.0h-1.0zM149.0 268.2h1.0v1.0h-1.0zM160.1 290.3h1.0v1.0h-1.0zM152.1 267.9h1.0v1.0h-1.0zM146.0 266.2h1.0v1.0h-1.0zM137.4 296.1h1.0v1.0h-1.0zM138.8 285.8h1.0v1.0h-1.0zM137.0 277.8h1.0v1.0h-1.0zM152.7 285.3h1.0v1.0h-1.0zM143.0 287.0h1.0v1.0h-1.0zM148.4 255.7h1.0v1.0h-1.0zM144.0 273.4h1.0v1.0h-1.0zM148.6 258.2h1.0v1.0h-1.0zM157.1 276.4h1.0v1.0h-1.0zM143.5 265.3h1.0v1.0h-1.0zM145.8 293.7h1.0v1.0h-1.0zM142.8 282.0h1.0v1.0h-1.0zM153.7 263.4h1.0v1.0h-1.0zM141.3 274.5h1.0v1.0h-1.0zM140.6 257.8h1.0v1.0h-1.0zM149.3 265.4h1.0v1.0h-1.0zM154.9 260.1h1.0v1.0h-1.0zM151.8 247.7h1.0v1.0h-1.0zM127.7 251.6h1.0v1.0h-1.0zM145.2 278.8h1.0v1.0h-1.0zM154.5 267.8h1.0v1.0h-1.0zM152.2 276.8h1.0v1.0h-1.0zM161.6 258.5h1.0v1.0h-1.0zM134.8 268.7h1.0v1.0h-1.0zM154.6 269.4h1.0v1.0h-1.0zM141.7 251.9h1.0v1.0h-1.0zM151.0 250.3h1.0v1.0h-1.0zM153.3 279.1h1.0v1.0h-1.0zM156.4 275.1h1.0v1.0h-1.0zM142.5 260.3h1.0v1.0h-1.0zM150.9 271.7h1.0v1.0h-1.0zM136.0 282.2h1.0v1.0h-1.0zM133.4 298.2h1.0v1.0h-1.0zM155.0 260.9h1.0v1.0h-1.0zM148.3 281.6h1.0v1.0h-1.0zM131.1 302.1h1.0v1.0h-1.0zM139.5 274.0h1.0v1.0h-1.0zM149.1 293.2h1.0v1.0h-1.0zM160.4 293.0h1.0v1.0h-1.0zM157.6 273.0h1.0v1.0h-1.0zM129.2 247.3h1.0v1.0h-1.0zM147.8 283.8h1.0v1.0h-1.0zM154.1 287.5h1.0v1.0h-1.0zM153.2 289.7h1.0v1.0h-1.0zM153.4 289.5h1.0v1.0h-1.0zM146.3 272.7h1.0v1.0h-1.0zM168.2 262.8h1.0v1.0h-1.0zM165.1 266.8h1.0v1.0h-1.0zM147.8 272.6h1.0v1.0h-1.0zM138.1 278.7h1.0v1.0h-1.0zM171.4 266.5h1.0v1.0h-1.0zM142.8 273.8h1.0v1.0h-1.0zM162.0 285.1h1.0v1.0h-1.0zM169.9 277.6h1.0v1.0h-1.0zM138.5 304.6h1.0v1.0h-1.0zM152.1 302.7h1.0v1.0h-1.0zM145.0 257.3h1.0v1.0h-1.0zM154.5 265.3h1.0v1.0h-1.0zM152.4 255.1h1.0v1.0h-1.0zM170.3 257.1h1.0v1.0h-1.0zM155.3 280.6h1.0v1.0h-1.0zM148.8 259.5h1.0v1.0h-1.0zM161.2 258.7h1.0v1.0h-1.0zM145.9 269.4h1.0v1.0h-1.0zM144.8 284.1h1.0v1.0h-1.0zM173.5 268.2h1.0v1.0h-1.0zM139.8 268.2h1.0v1.0h-1.0zM143.5 285.7h1.0v1.0h-1.0zM149.3 279.6h1.0v1.0h-1.0zM137.2 279.4h1.0v1.0h-1.0zM125.7 286.1h1.0v1.0h-1.0zM160.5 259.2h1.0v1.0h-1.0zM140.2 276.1h1.0v1.0h-1.0zM142.9 264.4h1.0v1.0h-1.0zM144.8 287.2h1.0v1.0h-1.0zM138.1 284.3h1.0v1.0h-1.0zM137.0 258.7h1.0v1.0h-1.0zM150.6 291.5h1.0v1.0h-1.0zM175.2 257.0h1.0v1.0h-1.0zM157.0 289.2h1.0v1.0h-1.0zM157.1 275.9h1.0v1.0h-1.0zM132.3 261.1h1.0v1.0h-1.0zM148.6 257.7h1.0v1.0h-1.0zM135.8 268.9h1.0v1.0h-1.0zM157.3 272.8h1.0v1.0h-1.0zM146.3 263.3h1.0v1.0h-1.0zM149.3 280.8h1.0v1.0h-1.0zM147.9 253.8h1.0v1.0h-1.0zM142.4 273.0h1.0v1.0h-1.0zM132.1 273.1h1.0v1.0h-1.0zM155.2 247.3h1.0v1.0h-1.0zM133.6 277.3h1.0v1.0h-1.0zM135.9 255.7h1.0v1.0h-1.0zM141.1 264.6h1.0v1.0h-1.0zM151.7 269.9h1.0v1.0h-1.0zM160.0 285.5h1.0v1.0h-1.0zM151.6 266.4h1.0v1.0h-1.0zM151.0 293.4h1.0v1.0h-1.0zM149.1 292.9h1.0v1.0h-1.0zM158.3 288.1h1.0v1.0h-1.0zM128.5 291.3h1.0v1.0h-1.0zM152.9 277.9h1.0v1.0h-1.0zM138.6 265.4h1.0v1.0h-1.0zM135.3 282.0h1.0v1.0h-1.0zM148.9 286.4h1.0v1.0h-1.0zM144.6 276.4h1.0v1.0h-1.0zM155.3 269.7h1.0v1.0h-1.0zM161.0 251.5h1.0v1.0h-1.0zM123.3 282.4h1.0v1.0h-1.0zM148.1 277.9h1.0v1.0h-1.0zM170.4 255.1h1.0v1.0h-1.0zM158.4 274.5h1.0v1.0h-1.0zM164.8 283.0h1.0v1.0h-1.0zM150.0 271.6h1.0v1.0h-1.0zM133.1 283.9h1.0v1.0h-1.0zM136.5 283.5h1.0v1.0h-1.0zM156.7 252.7h1.0v1.0h-1.0zM159.4 268.9h1.0v1.0h-1.0zM140.8 279.8h1.0v1.0h-1.0zM145.9 285.7h1.0v1.0h-1.0zM151.7 292.5h1.0v1.0h-1.0zM129.6 246.6h1.0v1.0h-1.0zM145.0 272.2h1.0v1.0h-1.0zM166.7 283.0h1.0v1.0h-1.0zM172.9 290.0h1.0v1.0h-1.0zM147.7 296.4h1.0v1.0h-1.0zM169.0 260.2h1.0v1.0h-1.0zM143.1 267.9h1.0v1.0h-1.0zM139.9 258.5h1.0v1.0h-1.0zM124.2 284.4h1.0v1.0h-1.0zM159.4 254.8h1.0v1.0h-1.0zM144.7 289.4h1.0v1.0h-1.0zM174.6 286.0h1.0v1.0h-1.0zM152.5 279.8h1.0v1.0h-1.0zM150.9 243.1h1.0v1.0h-1.0zM129.0 263.7h1.0v1.0h-1.0zM165.4 283.4h1.0v1.0h-1.0zM144.9 253.5h1.0v1.0h-1.0zM147.1 269.8h1.0v1.0h-1.0zM124.6 271.6h1.0v1.0h-1.0zM159.1 285.4h1.0v1.0h-1.0zM159.7 277.0h1.0v1.0h-1.0zM142.2 276.9h1.0v1.0h-1.0zM149.9 267.0h1.0v1.0h-1.0zM153.2 273.1h1.0v1.0h-1.0zM159.5 271.2h1.0v1.0h-1.0zM150.0 283.1h1.0v1.0h-1.0zM167.8 270.6h1.0v1.0h-1.0zM146.2 287.4h1.0v1.0h-1.0zM142.2 249.6h1.0v1.0h-1.0zM143.7 289.7h1.0v1.0h-1.0zM121.0 270.7h1.0v1.0h-1.0zM140.0 288.7h1.0v1.0h-1.0zM160.0 274.2h1.0v1.0h-1.0zM151.8 284.9h1.0v1.0h-1.0zM139.9 293.7h1.0v1.0h-1.0zM152.7 265.4h1.0v1.0h-1.0zM126.7 274.2h1.0v1.0h-1.0zM145.8 270.7h1.0v1.0h-1.0zM154.7 275.9h1.0v1.0h-1.0zM156.6 250.7h1.0v1.0h-1.0zM140.4 270.7h1.0v1.0h-1.0zM158.9 269.6h1.0v1.0h-1.0zM169.5 262.2h1.0v1.0h-1.0zM144.2 270.4h1.0v1.0h-1.0zM157.1 251.7h1.0v1.0h-1.0zM131.8 292.4h1.0v1.0h-1.0zM127.3 279.2h1.0v1.0h-1.0zM155.6 299.1h1.0v1.0h-1.0zM149.4 261.0h1.0v1.0h-1.0zM151.1 256.9h1.0v1.0h-1.0zM142.5 276.9h1.0v1.0h-1.0zM145.7 250.0h1.0v1.0h-1.0zM157.8 276.2h1.0v1.0h-1.0zM167.8 263.3h1.0v1.0h-1.0zM146.5 268.4h1.0v1.0h-1.0zM130.8 276.5h1.0v1.0h-1.0zM162.9 273.7h1.0v1.0h-1.0zM155.6 298.8h1.0v1.0h-1.0zM156.4 281.8h1.0v1.0h-1.0zM150.9 255.2h1.0v1.0h-1.0zM174.5 286.6h1.0v1.0h-1.0zM149.8 254.5h1.0v1.0h-1.0zM154.6 274.2h1.0v1.0h-1.0zM128.5 255.8h1.0v1.0h-1.0zM142.6 261.6h1.0v1.0h-1.0zM141.4 291.2h1.0v1.0h-1.0zM148.6 265.3h1.0v1.0h-1.0zM152.8 264.1h1.0v1.0h-1.0zM140.7 265.2h1.0v1.0h-1.0zM168.0 268.7h1.0v1.0h-1.0zM137.2 292.9h1.0v1.0h-1.0zM144.0 256.7h1.0v1.0h-1.0zM151.6 255.9h1.0v1.0h-1.0zM135.2 281.0h1.0v1.0h-1.0zM155.2 250.9h1.0v1.0h-1.0zM155.9 267.9h1.0v1.0h-1.0zM145.7 288.6h1.0v1.0h-1.0zM169.9 273.0h1.0v1.0h-1.0zM149.8 266.3h1.0v1.0h-1.0zM152.0 263.1h1.0v1.0h-1.0zM138.4 260.3h1.0v1.0h-1.0zM130.5 264.8h1.0v1.0h-1.0zM142.0 274.8h1.0v1.0h-1.0zM145.4 290.1h1.0v1.0h-1.0zM143.9 286.3h1.0v1.0h-1.0zM157.4 265.1h1.0v1.0h-1.0zM122.7 262.8h1.0v1.0h-1.0zM136.5 282.5h1.0v1.0h-1.0zM128.8 247.8h1.0v1.0h-1.0zM163.7 266.8h1.0v1.0h-1.0zM142.7 268.4h1.0v1.0h-1.0zM143.3 257.5h1.0v1.0h-1.0zM136.8 259.1h1.0v1.0h-1.0zM158.8 277.6h1.0v1.0h-1.0zM144.4 250.0h1.0v1.0h-1.0zM151.4 260.2h1.0v1.0h-1.0zM126.5 263.8h1.0v1.0h-1.0zM161.8 273.9h1.0v1.0h-1.0zM153.3 253.8h1.0v1.0h-1.0zM155.0 287.8h1.0v1.0h-1.0zM162.6 268.5h1.0v1.0h-1.0zM146.8 269.1h1.0v1.0h-1.0zM147.1 267.7h1.0v1.0h-1.0zM156.9 263.4h1.0v1.0h-1.0zM153.6 259.1h1.0v1.0h-1.0zM146.3 288.6h1.0v1.0h-1.0zM149.4 275.5h1.0v1.0h-1.0zM143.4 271.1h1.0v1.0h-1.0zM156.8 286.4h1.0v1.0h-1.0zM159.2 262.8h1.0v1.0h-1.0zM149.0 281.3h1.0v1.0h-1.0zM169.7 272.9h1.0v1.0h-1.0zM132.0 260.3h1.0v1.0h-1.0zM146.4 283.1h1.0v1.0h-1.0zM167.8 251.9h1.0v1.0h-1.0zM144.3 281.6h1.0v1.0h-1.0zM131.3 260.4h1.0v1.0h-1.0zM164.3 278.2h1.0v1.0h-1.0zM155.0 291.6h1.0v1.0h-1.0zM135.8 280.4h1.0v1.0h-1.0zM157.5 264.2h1.0v1.0h-1.0zM137.7 272.1h1.0v1.0h-1.0zM134.2 267.4h1.0v1.0h-1.0zM147.3 256.3h1.0v1.0h-1.0zM143.7 257.2h1.0v1.0h-1.0zM136.9 273.1h1.0v1.0h-1.0zM144.9 279.9h1.0v1.0h-1.0zM137.9 248.1h1.0v1.0h-1.0zM149.6 271.4h1.0v1.0h-1.0zM148.7 279.4h1.0v1.0h-1.0zM157.2 273.9h1.0v1.0h-1.0zM144.0 258.6h1.0v1.0h-1.0zM134.3 286.7h1.0v1.0h-1.0zM134.4 255.6h1.0v1.0h-1.0zM146.3 281.3h1.0v1.0h-1.0zM165.9 294.4h1.0v1.0h-1.0zM158.3 244.2h1.0v1.0h-1.0zM141.9 275.9h1.0v1.0h-1.0zM159.4 276.6h1.0v1.0h-1.0zM136.2 275.4h1.0v1.0h-1.0zM160.2 261.7h1.0v1.0h-1.0zM144.8 268.0h1.0v1.0h-1.0zM157.5 253.1h1.0v1.0h-1.0zM155.8 274.1h1.0v1.0h-1.0zM145.9 279.7h1.0v1.0h-1.0zM152.6 263.1h1.0v1.0h-1.0zM137.2 259.5h1.0v1.0h-1.0zM148.2 265.7h1.0v1.0h-1.0zM160.9 272.1h1.0v1.0h-1.0zM194.2 273.1h1.0v1.0h-1.0zM156.7 270.8h1.0v1.0h-1.0zM150.0 273.2h1.0v1.0h-1.0zM137.8 254.2h1.0v1.0h-1.0zM130.7 280.7h1.0v1.0h-1.0zM140.1 291.7h1.0v1.0h-1.0zM152.9 252.7h1.0v1.0h-1.0zM135.7 263.0h1.0v1.0h-1.0zM166.0 276.3h1.0v1.0h-1.0zM161.0 285.3h1.0v1.0h-1.0zM142.7 281.1h1.0v1.0h-1.0zM142.9 289.7h1.0v1.0h-1.0zM134.4 271.4h1.0v1.0h-1.0zM133.5 277.8h1.0v1.0h-1.0zM153.9 277.8h1.0v1.0h-1.0zM155.9 266.2h1.0v1.0h-1.0zM152.9 288.7h1.0v1.0h-1.0zM151.9 280.7h1.0v1.0h-1.0zM142.8 285.6h1.0v1.0h-1.0zM153.0 266.8h1.0v1.0h-1.0zM132.7 286.3h1.0v1.0h-1.0zM149.1 257.7h1.0v1.0h-1.0zM165.3 277.5h1.0v1.0h-1.0zM143.9 258.3h1.0v1.0h-1.0zM145.3 282.2h1.0v1.0h-1.0zM164.2 265.9h1.0v1.0h-1.0zM168.7 274.5h1.0v1.0h-1.0zM132.5 249.9h1.0v1.0h-1.0zM144.3 293.3h1.0v1.0h-1.0zM151.6 280.3h1.0v1.0h-1.0zM162.4 271.8h1.0v1.0h-1.0zM139.7 277.8h1.0v1.0h-1.0zM156.1 276.6h1.0v1.0h-1.0zM145.7 291.5h1.0v1.0h-1.0zM175.2 275.0h1.0v1.0h-1.0zM153.7 251.9h1.0v1.0h-1.0zM147.5 268.6h1.0v1.0h-1.0zM145.3 289.7h1.0v1.0h-1.0zM160.7 279.9h1.0v1.0h-1.0zM156.5 266.3h1.0v1.0h-1.0zM137.0 280.5h1.0v1.0h-1.0zM151.4 273.7h1.0v1.0h-1.0zM134.2 280.5h1.0v1.0h-1.0zM140.7 250.4h1.0v1.0h-1.0zM134.7 259.8h1.0v1.0h-1.0zM134.4 281.2h1.0v1.0h-1.0zM141.4 269.1h1.0v1.0h-1.0zM138.2 276.9h1.0v1.0h-1.0zM154.8 298.9h1.0v1.0h-1.0zM157.8 267.8h1.0v1.0h-1.0zM146.4 275.4h1.0v1.0h-1.0zM136.6 264.5h1.0v1.0h-1.0zM157.9 263.5h1.0v1.0h-1.0zM126.6 271.1h1.0v1.0h-1.0zM127.7 252.2h1.0v1.0h-1.0zM157.0 243.3h1.0v1.0h-1.0zM156.3 290.8h1.0v1.0h-1.0zM159.8 270.7h1.0v1.0h-1.0zM146.6 287.5h1.0v1.0h-1.0zM135.1 273.8h1.0v1.0h-1.0zM143.4 274.1h1.0v1.0h-1.0zM155.3 281.3h1.0v1.0h-1.0zM140.5 281.9h1.0v1.0h-1.0zM141.3 255.6h1.0v1.0h-1.0zM133.6 288.6h1.0v1.0h-1.0zM136.2 258.8h1.0v1.0h-1.0zM158.3 274.9h1.0v1.0h-1.0zM154.0 307.1h1.0v1.0h-1.0zM136.2 273.2h1.0v1.0h-1.0zM137.1 294.9h1.0v1.0h-1.0zM142.8 267.4h1.0v1.0h-1.0zM155.1 280.5h1.0v1.0h-1.0zM136.1 272.8h1.0v1.0h-1.0zM147.1 277.8h1.0v1.0h-1.0zM125.3 260.4h1.0v1.0h-1.0zM135.1 259.6h1.0v1.0h-1.0zM153.7 276.7h1.0v1.0h-1.0zM158.9 250.7h1.0v1.0h-1.0zM136.2 260.6h1.0v1.0h-1.0zM140.5 280.9h1.0v1.0h-1.0zM157.8 263.7h1.0v1.0h-1.0zM144.7 260.0h1.0v1.0h-1.0zM143.0 257.0h1.0v1.0h-1.0zM154.7 274.1h1.0v1.0h-1.0zM151.2 267.1h1.0v1.0h-1.0zM161.3 274.2h1.0v1.0h-1.0zM157.8 269.6h1.0v1.0h-1.0zM142.7 297.4h1.0v1.0h-1.0zM147.7 266.2h1.0v1.0h-1.0zM148.4 245.4h1.0v1.0h-1.0zM134.0 273.7h1.0v1.0h-1.0zM138.3 272.2h1.0v1.0h-1.0zM159.8 274.3h1.0v1.0h-1.0zM131.5 250.2h1.0v1.0h-1.0zM160.0 287.6h1.0v1.0h-1.0zM152.2 271.7h1.0v1.0h-1.0zM147.5 271.5h1.0v1.0h-1.0zM155.0 250.5h1.0v1.0h-1.0zM154.3 278.6h1.0v1.0h-1.0zM162.4 271.2h1.0v1.0h-1.0zM144.6 290.6h1.0v1.0h-1.0zM146.5 266.5h1.0v1.0h-1.0zM146.3 255.3h1.0v1.0h-1.0zM169.8 273.9h1.0v1.0h-1.0zM159.5 259.7h1.0v1.0h-1.0zM138.8 277.8h1.0v1.0h-1.0zM145.4 257.4h1.0v1.0h-1.0zM141.2 270.4h1.0v1.0h-1.0zM149.2 269.0h1.0v1.0h-1.0zM151.4 271.7h1.0v1.0h-1.0zM174.4 265.1h1.0v1.0h-1.0zM128.9 261.1h1.0v1.0h-1.0zM160.4 271.3h1.0v1.0h-1.0zM153.9 264.2h1.0v1.0h-1.0zM141.3 274.2h1.0v1.0h-1.0zM147.4 268.4h1.0v1.0h-1.0zM149.6 271.3h1.0v1.0h-1.0zM160.2 291.0h1.0v1.0h-1.0zM132.3 276.3h1.0v1.0h-1.0zM163.6 280.3h1.0v1.0h-1.0zM144.9 278.3h1.0v1.0h-1.0zM165.7 265.8h1.0v1.0h-1.0zM153.6 254.0h1.0v1.0h-1.0zM162.7 283.1h1.0v1.0h-1.0zM155.3 286.5h1.0v1.0h-1.0zM161.1 279.8h1.0v1.0h-1.0zM149.7 277.9h1.0v1.0h-1.0zM139.9 277.5h1.0v1.0h-1.0zM156.5 271.8h1.0v1.0h-1.0zM156.9 275.8h1.0v1.0h-1.0zM172.3 272.3h1.0v1.0h-1.0zM127.0 276.6h1.0v1.0h-1.0zM146.9 259.3h1.0v1.0h-1.0zM160.8 263.6h1.0v1.0h-1.0zM135.3 279.8h1.0v1.0h-1.0zM146.6 267.5h1.0v1.0h-1.0zM164.7 273.8h1.0v1.0h-1.0zM164.9 298.0h1.0v1.0h-1.0zM162.2 281.9h1.0v1.0h-1.0zM157.7 281.2h1.0v1.0h-1.0zM153.3 263.2h1.0v1.0h-1.0zM151.8 256.9h1.0v1.0h-1.0zM139.6 269.3h1.0v1.0h-1.0zM143.5 272.4h1.0v1.0h-1.0zM157.2 261.8h1.0v1.0h-1.0zM150.7 274.3h1.0v1.0h-1.0zM169.5 281.4h1.0v1.0h-1.0zM145.5 280.3h1.0v1.0h-1.0zM122.7 258.2h1.0v1.0h-1.0zM145.5 243.0h1.0v1.0h-1.0zM152.2 272.2h1.0v1.0h-1.0zM153.4 263.3h1.0v1.0h-1.0zM149.9 278.2h1.0v1.0h-1.0zM140.1 294.3h1.0v1.0h-1.0zM165.7 294.3h1.0v1.0h-1.0zM141.9 276.1h1.0v1.0h-1.0zM157.0 287.1h1.0v1.0h-1.0zM146.0 294.3h1.0v1.0h-1.0zM136.0 272.9h1.0v1.0h-1.0zM164.8 275.9h1.0v1.0h-1.0zM121.6 283.7h1.0v1.0h-1.0zM139.8 271.8h1.0v1.0h-1.0zM154.0 265.6h1.0v1.0h-1.0zM145.3 262.2h1.0v1.0h-1.0zM157.5 272.4h1.0v1.0h-1.0zM148.1 264.0h1.0v1.0h-1.0zM144.2 283.0h1.0v1.0h-1.0zM173.0 267.8h1.0v1.0h-1.0zM146.8 291.9h1.0v1.0h-1.0zM147.5 288.5h1.0v1.0h-1.0zM137.3 255.7h1.0v1.0h-1.0zM141.0 286.8h1.0v1.0h-1.0zM156.4 267.0h1.0v1.0h-1.0zM155.5 290.7h1.0v1.0h-1.0zM149.3 279.2h1.0v1.0h-1.0zM141.6 271.8h1.0v1.0h-1.0zM156.8 281.4h1.0v1.0h-1.0zM130.5 264.9h1.0v1.0h-1.0zM145.5 276.8h1.0v1.0h-1.0zM146.5 277.6h1.0v1.0h-1.0zM140.0 270.5h1.0v1.0h-1.0zM151.0 277.6h1.0v1.0h-1.0zM141.9 259.1h1.0v1.0h-1.0zM140.5 279.9h1.0v1.0h-1.0zM169.1 256.3h1.0v1.0h-1.0zM157.5 280.8h1.0v1.0h-1.0zM162.5 278.8h1.0v1.0h-1.0zM149.9 281.9h1.0v1.0h-1.0zM160.0 265.1h1.0v1.0h-1.0zM162.7 269.5h1.0v1.0h-1.0zM175.4 274.6h1.0v1.0h-1.0zM146.9 262.5h1.0v1.0h-1.0zM152.2 291.6h1.0v1.0h-1.0zM148.8 266.3h1.0v1.0h-1.0zM110.7 285.8h1.0v1.0h-1.0zM134.0 260.0h1.0v1.0h-1.0zM149.6 276.8h1.0v1.0h-1.0zM156.4 267.7h1.0v1.0h-1.0zM143.1 285.0h1.0v1.0h-1.0zM161.9 268.8h1.0v1.0h-1.0zM163.5 261.2h1.0v1.0h-1.0zM144.9 278.7h1.0v1.0h-1.0zM165.1 256.8h1.0v1.0h-1.0zM168.7 260.0h1.0v1.0h-1.0zM154.5 282.9h1.0v1.0h-1.0zM138.6 247.8h1.0v1.0h-1.0zM165.6 282.8h1.0v1.0h-1.0zM147.7 267.4h1.0v1.0h-1.0zM145.3 260.6h1.0v1.0h-1.0zM150.7 276.0h1.0v1.0h-1.0zM143.6 281.2h1.0v1.0h-1.0zM161.3 265.0h1.0v1.0h-1.0zM158.0 270.5h1.0v1.0h-1.0zM162.9 283.4h1.0v1.0h-1.0zM155.9 282.8h1.0v1.0h-1.0zM140.8 272.2h1.0v1.0h-1.0zM147.7 262.6h1.0v1.0h-1.0zM159.1 260.3h1.0v1.0h-1.0zM145.0 265.0h1.0v1.0h-1.0zM181.6 281.9h1.0v1.0h-1.0zM146.8 280.5h1.0v1.0h-1.0zM143.0 276.9h1.0v1.0h-1.0zM162.1 291.4h1.0v1.0h-1.0zM157.7 269.0h1.0v1.0h-1.0zM149.2 267.9h1.0v1.0h-1.0zM147.0 267.9h1.0v1.0h-1.0zM154.2 298.3h1.0v1.0h-1.0zM158.7 245.7h1.0v1.0h-1.0zM157.9 276.8h1.0v1.0h-1.0zM146.2 278.9h1.0v1.0h-1.0zM154.3 273.8h1.0v1.0h-1.0zM158.8 303.9h1.0v1.0h-1.0zM157.9 288.5h1.0v1.0h-1.0zM115.6 283.2h1.0v1.0h-1.0zM139.7 261.2h1.0v1.0h-1.0zM141.0 279.7h1.0v1.0h-1.0zM147.0 268.2h1.0v1.0h-1.0zM151.5 273.7h1.0v1.0h-1.0zM159.6 275.8h1.0v1.0h-1.0zM156.3 266.8h1.0v1.0h-1.0zM148.1 281.5h1.0v1.0h-1.0zM149.8 294.7h1.0v1.0h-1.0zM168.9 286.8h1.0v1.0h-1.0zM142.8 276.0h1.0v1.0h-1.0zM152.8 247.7h1.0v1.0h-1.0zM166.7 287.5h1.0v1.0h-1.0zM153.3 287.4h1.0v1.0h-1.0zM127.0 270.7h1.0v1.0h-1.0zM153.6 266.9h1.0v1.0h-1.0zM145.2 281.9h1.0v1.0h-1.0zM148.3 262.6h1.0v1.0h-1.0zM161.1 283.7h1.0v1.0h-1.0zM154.7 259.0h1.0v1.0h-1.0zM146.6 261.1h1.0v1.0h-1.0zM159.3 273.5h1.0v1.0h-1.0zM154.3 254.1h1.0v1.0h-1.0zM150.7 273.3h1.0v1.0h-1.0zM152.8 280.3h1.0v1.0h-1.0zM152.3 256.0h1.0v1.0h-1.0zM145.8 285.5h1.0v1.0h-1.0zM144.4 265.9h1.0v1.0h-1.0zM149.8 280.5h1.0v1.0h-1.0zM139.0 276.1h1.0v1.0h-1.0zM135.7 267.3h1.0v1.0h-1.0zM163.8 266.5h1.0v1.0h-1.0zM146.9 250.9h1.0v1.0h-1.0zM149.2 264.2h1.0v1.0h-1.0zM148.0 263.2h1.0v1.0h-1.0zM149.8 295.0h1.0v1.0h-1.0zM149.7 286.8h1.0v1.0h-1.0zM150.2 255.4h1.0v1.0h-1.0zM140.6 283.9h1.0v1.0h-1.0zM159.8 276.3h1.0v1.0h-1.0zM141.9 268.4h1.0v1.0h-1.0zM160.9 279.5h1.0v1.0h-1.0zM128.4 283.8h1.0v1.0h-1.0zM137.8 265.9h1.0v1.0h-1.0zM160.4 269.8h1.0v1.0h-1.0zM147.9 275.6h1.0v1.0h-1.0zM142.1 260.5h1.0v1.0h-1.0zM153.6 275.8h1.0v1.0h-1.0zM138.0 272.4h1.0v1.0h-1.0zM150.3 264.5h1.0v1.0h-1.0zM125.1 262.4h1.0v1.0h-1.0zM144.5 277.4h1.0v1.0h-1.0zM142.4 284.9h1.0v1.0h-1.0zM155.4 277.8h1.0v1.0h-1.0zM159.1 262.2h1.0v1.0h-1.0zM140.1 283.3h1.0v1.0h-1.0zM167.2 275.7h1.0v1.0h-1.0zM143.0 281.2h1.0v1.0h-1.0zM126.9 288.7h1.0v1.0h-1.0zM123.3 261.6h1.0v1.0h-1.0zM166.4 271.6h1.0v1.0h-1.0zM148.5 265.6h1.0v1.0h-1.0zM142.4 262.0h1.0v1.0h-1.0zM141.3 299.7h1.0v1.0h-1.0zM137.5 285.8h1.0v1.0h-1.0zM164.4 250.3h1.0v1.0h-1.0zM148.6 279.0h1.0v1.0h-1.0zM169.2 266.2h1.0v1.0h-1.0zM147.3 288.5h1.0v1.0h-1.0zM123.6 274.6h1.0v1.0h-1.0zM158.8 271.2h1.0v1.0h-1.0zM145.4 275.3h1.0v1.0h-1.0zM146.9 278.5h1.0v1.0h-1.0zM166.7 273.9h1.0v1.0h-1.0zM146.6 270.6h1.0v1.0h-1.0zM162.3 271.7h1.0v1.0h-1.0zM149.4 280.2h1.0v1.0h-1.0zM141.2 258.7h1.0v1.0h-1.0zM155.1 273.5h1.0v1.0h-1.0zM142.9 271.9h1.0v1.0h-1.0zM163.0 267.1h1.0v1.0h-1.0zM160.1 283.1h1.0v1.0h-1.0zM150.2 256.6h1.0v1.0h-1.0zM156.2 268.7h1.0v1.0h-1.0zM155.7 262.3h1.0v1.0h-1.0zM146.5 280.6h1.0v1.0h-1.0zM159.3 267.4h1.0v1.0h-1.0zM147.0 274.1h1.0v1.0h-1.0zM156.3 278.5h1.0v1.0h-1.0zM139.0 252.6h1.0v1.0h-1.0zM150.6 279.4h1.0v1.0h-1.0zM154.1 263.7h1.0v1.0h-1.0zM140.8 270.2h1.0v1.0h-1.0zM144.9 272.0h1.0v1.0h-1.0zM143.7 284.1h1.0v1.0h-1.0zM157.5 283.1h1.0v1.0h-1.0zM141.6 296.6h1.0v1.0h-1.0zM154.4 275.8h1.0v1.0h-1.0zM166.3 267.3h1.0v1.0h-1.0zM153.5 266.9h1.0v1.0h-1.0zM131.8 282.0h1.0v1.0h-1.0zM150.9 294.5h1.0v1.0h-1.0zM161.0 278.0h1.0v1.0h-1.0zM146.4 266.0h1.0v1.0h-1.0zM161.8 277.1h1.0v1.0h-1.0zM156.4 276.8h1.0v1.0h-1.0zM154.2 273.9h1.0v1.0h-1.0zM146.7 263.8h1.0v1.0h-1.0zM146.8 266.5h1.0v1.0h-1.0zM150.3 287.3h1.0v1.0h-1.0zM155.4 276.3h1.0v1.0h-1.0zM154.2 244.6h1.0v1.0h-1.0zM146.3 273.6h1.0v1.0h-1.0zM150.3 249.3h1.0v1.0h-1.0zM153.9 299.5h1.0v1.0h-1.0zM131.7 276.0h1.0v1.0h-1.0zM141.2 257.8h1.0v1.0h-1.0zM140.8 283.9h1.0v1.0h-1.0zM147.4 263.3h1.0v1.0h-1.0zM146.6 280.8h1.0v1.0h-1.0zM146.8 273.8h1.0v1.0h-1.0zM140.0 258.1h1.0v1.0h-1.0zM157.0 282.2h1.0v1.0h-1.0zM152.7 256.0h1.0v1.0h-1.0zM131.6 291.0h1.0v1.0h-1.0zM149.8 274.3h1.0v1.0h-1.0zM137.3 260.0h1.0v1.0h-1.0zM168.4 249.8h1.0v1.0h-1.0zM144.7 294.6h1.0v1.0h-1.0zM145.3 292.5h1.0v1.0h-1.0zM150.6 257.1h1.0v1.0h-1.0zM147.5 295.0h1.0v1.0h-1.0zM149.0 275.7h1.0v1.0h-1.0zM166.7 270.6h1.0v1.0h-1.0zM152.2 272.4h1.0v1.0h-1.0zM158.9 270.0h1.0v1.0h-1.0zM162.1 292.2h1.0v1.0h-1.0zM139.0 275.5h1.0v1.0h-1.0zM168.3 249.4h1.0v1.0h-1.0zM157.3 300.9h1.0v1.0h-1.0zM160.2 285.0h1.0v1.0h-1.0zM140.2 259.3h1.0v1.0h-1.0zM158.7 268.8h1.0v1.0h-1.0zM154.2 261.7h1.0v1.0h-1.0zM143.8 274.1h1.0v1.0h-1.0zM174.8 278.7h1.0v1.0h-1.0zM155.9 276.6h1.0v1.0h-1.0zM147.1 265.7h1.0v1.0h-1.0zM151.8 263.0h1.0v1.0h-1.0zM159.7 284.6h1.0v1.0h-1.0zM162.1 272.2h1.0v1.0h-1.0zM156.1 302.9h1.0v1.0h-1.0zM163.1 262.9h1.0v1.0h-1.0zM165.9 283.8h1.0v1.0h-1.0zM136.1 274.1h1.0v1.0h-1.0zM144.4 263.6h1.0v1.0h-1.0zM139.4 291.3h1.0v1.0h-1.0zM150.8 275.1h1.0v1.0h-1.0zM165.6 261.8h1.0v1.0h-1.0zM156.9 269.3h1.0v1.0h-1.0zM138.2 286.8h1.0v1.0h-1.0zM146.5 257.5h1.0v1.0h-1.0zM161.0 291.5h1.0v1.0h-1.0zM143.9 282.5h1.0v1.0h-1.0zM148.7 269.9h1.0v1.0h-1.0zM153.1 291.2h1.0v1.0h-1.0zM129.7 296.4h1.0v1.0h-1.0zM158.3 281.3h1.0v1.0h-1.0zM153.5 275.7h1.0v1.0h-1.0zM156.0 297.7h1.0v1.0h-1.0zM139.0 293.1h1.0v1.0h-1.0zM141.3 261.4h1.0v1.0h-1.0zM143.2 270.8h1.0v1.0h-1.0zM152.5 270.7h1.0v1.0h-1.0zM150.5 268.1h1.0v1.0h-1.0zM151.1 253.9h1.0v1.0h-1.0zM169.4 285.3h1.0v1.0h-1.0zM164.1 274.6h1.0v1.0h-1.0zM141.8 274.8h1.0v1.0h-1.0zM142.5 292.0h1.0v1.0h-1.0zM168.6 266.1h1.0v1.0h-1.0zM146.2 272.8h1.0v1.0h-1.0zM164.9 277.1h1.0v1.0h-1.0zM167.3 267.8h1.0v1.0h-1.0zM143.8 272.0h1.0v1.0h-1.0zM146.8 283.6h1.0v1.0h-1.0zM150.6 273.4h1.0v1.0h-1.0zM140.2 291.0h1.0v1.0h-1.0zM139.0 263.6h1.0v1.0h-1.0zM145.3 276.2h1.0v1.0h-1.0zM159.1 254.8h1.0v1.0h-1.0zM144.8 271.9h1.0v1.0h-1.0zM147.5 264.3h1.0v1.0h-1.0zM144.6 291.4h1.0v1.0h-1.0zM134.7 283.3h1.0v1.0h-1.0zM166.0 280.2h1.0v1.0h-1.0zM124.0 297.8h1.0v1.0h-1.0zM142.5 292.5h1.0v1.0h-1.0zM155.9 283.0h1.0v1.0h-1.0zM134.4 264.4h1.0v1.0h-1.0zM156.4 254.5h1.0v1.0h-1.0zM163.5 273.1h1.0v1.0h-1.0zM140.3 268.8h1.0v1.0h-1.0zM152.0 265.0h1.0v1.0h-1.0zM137.5 269.7h1.0v1.0h-1.0zM155.3 251.7h1.0v1.0h-1.0zM150.7 293.1h1.0v1.0h-1.0zM152.1 258.5h1.0v1.0h-1.0zM164.7 264.6h1.0v1.0h-1.0zM154.9 281.0h1.0v1.0h-1.0zM164.5 252.0h1.0v1.0h-1.0zM156.7 285.7h1.0v1.0h-1.0zM136.5 285.9h1.0v1.0h-1.0zM152.6 269.4h1.0v1.0h-1.0zM155.1 259.3h1.0v1.0h-1.0zM133.8 267.2h1.0v1.0h-1.0zM164.4 249.1h1.0v1.0h-1.0zM150.5 291.8h1.0v1.0h-1.0zM153.8 274.2h1.0v1.0h-1.0zM139.9 263.8h1.0v1.0h-1.0zM150.5 261.5h1.0v1.0h-1.0zM153.0 281.1h1.0v1.0h-1.0zM146.1 293.4h1.0v1.0h-1.0zM150.6 256.7h1.0v1.0h-1.0zM126.4 265.9h1.0v1.0h-1.0zM164.7 250.2h1.0v1.0h-1.0zM137.5 282.4h1.0v1.0h-1.0zM125.7 275.6h1.0v1.0h-1.0zM139.1 303.4h1.0v1.0h-1.0zM140.5 271.9h1.0v1.0h-1.0zM155.7 267.7h1.0v1.0h-1.0zM139.7 264.1h1.0v1.0h-1.0zM152.8 284.8h1.0v1.0h-1.0zM139.2 251.9h1.0v1.0h-1.0zM174.0 283.4h1.0v1.0h-1.0zM155.7 276.8h1.0v1.0h-1.0zM171.2 266.8h1.0v1.0h-1.0zM138.5 261.5h1.0v1.0h-1.0zM157.0 287.5h1.0v1.0h-1.0zM139.2 298.2h1.0v1.0h-1.0zM156.1 267.6h1.0v1.0h-1.0zM157.2 280.5h1.0v1.0h-1.0zM132.2 296.6h1.0v1.0h-1.0zM137.2 265.3h1.0v1.0h-1.0zM136.9 270.2h1.0v1.0h-1.0zM133.1 257.3h1.0v1.0h-1.0zM141.6 271.5h1.0v1.0h-1.0zM139.1 272.4h1.0v1.0h-1.0zM133.8 267.9h1.0v1.0h-1.0zM150.7 263.7h1.0v1.0h-1.0zM155.7 252.5h1.0v1.0h-1.0zM135.2 255.6h1.0v1.0h-1.0zM143.5 260.5h1.0v1.0h-1.0zM149.7 282.0h1.0v1.0h-1.0zM147.1 266.7h1.0v1.0h-1.0zM141.9 262.2h1.0v1.0h-1.0zM158.6 282.2h1.0v1.0h-1.0zM159.0 281.0h1.0v1.0h-1.0zM157.1 263.5h1.0v1.0h-1.0zM147.3 265.2h1.0v1.0h-1.0zM171.5 282.3h1.0v1.0h-1.0zM168.8 278.4h1.0v1.0h-1.0zM145.2 262.4h1.0v1.0h-1.0zM148.3 276.7h1.0v1.0h-1.0zM162.7 273.1h1.0v1.0h-1.0zM140.8 288.3h1.0v1.0h-1.0zM154.0 261.9h1.0v1.0h-1.0zM150.1 285.3h1.0v1.0h-1.0zM141.9 279.3h1.0v1.0h-1.0zM147.1 260.1h1.0v1.0h-1.0zM132.3 287.6h1.0v1.0h-1.0zM143.6 285.6h1.0v1.0h-1.0zM127.7 255.9h1.0v1.0h-1.0zM174.7 299.9h1.0v1.0h-1.0zM166.2 258.2h1.0v1.0h-1.0zM163.1 261.2h1.0v1.0h-1.0zM152.9 269.2h1.0v1.0h-1.0zM160.6 283.8h1.0v1.0h-1.0zM163.6 281.3h1.0v1.0h-1.0zM160.8 272.2h1.0v1.0h-1.0zM159.7 291.8h1.0v1.0h-1.0zM139.5 278.9h1.0v1.0h-1.0zM154.3 292.2h1.0v1.0h-1.0zM143.7 311.2h1.0v1.0h-1.0zM136.6 276.1h1.0v1.0h-1.0zM154.3 267.4h1.0v1.0h-1.0zM161.1 259.1h1.0v1.0h-1.0zM134.5 274.7h1.0v1.0h-1.0zM168.8 274.8h1.0v1.0h-1.0zM165.7 257.0h1.0v1.0h-1.0zM145.4 258.0h1.0v1.0h-1.0zM144.5 270.0h1.0v1.0h-1.0zM148.7 270.9h1.0v1.0h-1.0zM145.3 286.6h1.0v1.0h-1.0zM137.4 273.9h1.0v1.0h-1.0zM153.3 273.4h1.0v1.0h-1.0zM126.8 277.5h1.0v1.0h-1.0zM151.1 259.7h1.0v1.0h-1.0zM162.3 272.8h1.0v1.0h-1.0zM152.9 287.5h1.0v1.0h-1.0zM158.1 288.0h1.0v1.0h-1.0zM154.9 279.7h1.0v1.0h-1.0zM157.5 269.7h1.0v1.0h-1.0zM151.1 262.4h1.0v1.0h-1.0zM140.4 291.4h1.0v1.0h-1.0zM147.0 280.6h1.0v1.0h-1.0zM148.7 267.8h1.0v1.0h-1.0zM163.3 244.1h1.0v1.0h-1.0zM167.4 261.7h1.0v1.0h-1.0zM154.1 247.3h1.0v1.0h-1.0zM141.2 290.4h1.0v1.0h-1.0zM141.5 276.1h1.0v1.0h-1.0zM147.4 263.4h1.0v1.0h-1.0zM164.8 269.7h1.0v1.0h-1.0zM153.2 308.9h1.0v1.0h-1.0zM148.9 290.1h1.0v1.0h-1.0zM141.1 255.2h1.0v1.0h-1.0zM159.2 271.7h1.0v1.0h-1.0zM152.7 256.7h1.0v1.0h-1.0zM148.9 250.0h1.0v1.0h-1.0zM150.6 275.9h1.0v1.0h-1.0zM168.1 306.5h1.0v1.0h-1.0zM147.7 294.9h1.0v1.0h-1.0zM168.1 274.1h1.0v1.0h-1.0zM163.2 268.3h1.0v1.0h-1.0zM150.1 276.3h1.0v1.0h-1.0zM159.2 287.7h1.0v1.0h-1.0zM148.1 253.5h1.0v1.0h-1.0zM140.4 247.9h1.0v1.0h-1.0zM146.6 299.3h1.0v1.0h-1.0zM139.5 277.3h1.0v1.0h-1.0zM155.1 295.6h1.0v1.0h-1.0zM149.7 276.8h1.0v1.0h-1.0zM155.7 293.8h1.0v1.0h-1.0zM158.6 265.1h1.0v1.0h-1.0zM115.2 280.4h1.0v1.0h-1.0zM152.9 294.9h1.0v1.0h-1.0zM129.7 287.6h1.0v1.0h-1.0zM151.3 267.2h1.0v1.0h-1.0zM139.8 285.8h1.0v1.0h-1.0zM150.6 264.3h1.0v1.0h-1.0zM164.5 253.8h1.0v1.0h-1.0zM130.7 280.7h1.0v1.0h-1.0zM151.6 292.8h1.0v1.0h-1.0zM148.6 285.2h1.0v1.0h-1.0zM128.7 256.1h1.0v1.0h-1.0zM156.6 285.5h1.0v1.0h-1.0zM149.9 282.9h1.0v1.0h-1.0zM143.9 267.1h1.0v1.0h-1.0zM184.8 287.6h1.0v1.0h-1.0zM145.2 285.8h1.0v1.0h-1.0zM129.7 280.4h1.0v1.0h-1.0zM139.3 249.5h1.0v1.0h-1.0zM145.5 252.8h1.0v1.0h-1.0zM145.3 287.5h1.0v1.0h-1.0zM148.6 284.6h1.0v1.0h-1.0zM138.0 280.4h1.0v1.0h-1.0zM155.5 270.1h1.0v1.0h-1.0zM144.2 279.0h1.0v1.0h-1.0zM134.5 266.0h1.0v1.0h-1.0zM140.5 269.2h1.0v1.0h-1.0zM145.3 261.4h1.0v1.0h-1.0zM158.8 277.1h1.0v1.0h-1.0zM154.8 267.7h1.0v1.0h-1.0zM145.8 286.7h1.0v1.0h-1.0zM149.7 283.5h1.0v1.0h-1.0zM151.9 262.2h1.0v1.0h-1.0zM171.9 299.1h1.0v1.0h-1.0zM142.7 257.9h1.0v1.0h-1.0zM154.6 279.8h1.0v1.0h-1.0zM157.5 288.6h1.0v1.0h-1.0zM139.0 291.4h1.0v1.0h-1.0zM151.3 287.5h1.0v1.0h-1.0zM144.3 290.5h1.0v1.0h-1.0zM155.7 293.6h1.0v1.0h-1.0zM161.9 264.1h1.0v1.0h-1.0zM147.4 272.1h1.0v1.0h-1.0zM151.6 267.3h1.0v1.0h-1.0zM175.4 292.2h1.0v1.0h-1.0zM137.4 264.0h1.0v1.0h-1.0zM151.9 290.7h1.0v1.0h-1.0zM159.3 281.3h1.0v1.0h-1.0zM151.2 253.2h1.0v1.0h-1.0zM156.7 259.6h1.0v1.0h-1.0zM151.4 266.9h1.0v1.0h-1.0zM157.8 274.9h1.0v1.0h-1.0zM163.6 287.4h1.0v1.0h-1.0zM147.1 270.9h1.0v1.0h-1.0zM151.7 286.2h1.0v1.0h-1.0zM148.9 251.5h1.0v1.0h-1.0zM149.3 268.8h1.0v1.0h-1.0zM137.1 279.9h1.0v1.0h-1.0zM157.7 268.4h1.0v1.0h-1.0zM168.2 259.4h1.0v1.0h-1.0zM168.2 279.4h1.0v1.0h-1.0zM163.5 300.6h1.0v1.0h-1.0zM138.9 272.1h1.0v1.0h-1.0zM166.2 263.3h1.0v1.0h-1.0zM141.6 261.7h1.0v1.0h-1.0zM148.9 301.0h1.0v1.0h-1.0zM169.8 272.9h1.0v1.0h-1.0zM137.7 282.1h1.0v1.0h-1.0zM158.8 290.6h1.0v1.0h-1.0zM152.6 288.6h1.0v1.0h-1.0zM147.8 260.6h1.0v1.0h-1.0zM139.9 286.9h1.0v1.0h-1.0zM154.1 285.3h1.0v1.0h-1.0zM144.4 280.3h1.0v1.0h-1.0zM161.0 287.6h1.0v1.0h-1.0zM163.0 265.6h1.0v1.0h-1.0zM134.3 272.5h1.0v1.0h-1.0zM143.9 266.2h1.0v1.0h-1.0zM146.0 284.1h1.0v1.0h-1.0zM136.5 264.4h1.0v1.0h-1.0zM137.2 279.0h1.0v1.0h-1.0zM150.5 258.2h1.0v1.0h-1.0zM147.2 271.8h1.0v1.0h-1.0zM131.3 268.4h1.0v1.0h-1.0zM143.6 271.9h1.0v1.0h-1.0zM155.2 275.4h1.0v1.0h-1.0zM136.2 270.9h1.0v1.0h-1.0zM139.3 270.4h1.0v1.0h-1.0zM167.0 244.5h1.0v1.0h-1.0zM164.0 289.0h1.0v1.0h-1.0zM131.7 264.8h1.0v1.0h-1.0zM134.6 270.1h1.0v1.0h-1.0zM153.6 261.9h1.0v1.0h-1.0zM136.4 287.5h1.0v1.0h-1.0zM146.7 260.8h1.0v1.0h-1.0zM144.5 280.6h1.0v1.0h-1.0zM155.7 290.0h1.0v1.0h-1.0zM121.7 296.5h1.0v1.0h-1.0zM125.3 290.1h1.0v1.0h-1.0zM136.0 282.2h1.0v1.0h-1.0zM160.7 256.7h1.0v1.0h-1.0zM147.8 291.6h1.0v1.0h-1.0zM130.7 290.1h1.0v1.0h-1.0zM154.9 285.2h1.0v1.0h-1.0zM157.3 284.8h1.0v1.0h-1.0zM146.8 274.6h1.0v1.0h-1.0zM145.9 266.3h1.0v1.0h-1.0zM154.3 288.7h1.0v1.0h-1.0zM162.8 291.4h1.0v1.0h-1.0zM151.2 259.1h1.0v1.0h-1.0zM155.4 286.4h1.0v1.0h-1.0zM149.0 277.0h1.0v1.0h-1.0zM145.3 286.0h1.0v1.0h-1.0zM139.4 277.4h1.0v1.0h-1.0zM152.3 289.1h1.0v1.0h-1.0zM146.2 287.9h1.0v1.0h-1.0zM146.8 286.0h1.0v1.0h-1.0zM159.7 254.4h1.0v1.0h-1.0zM154.9 285.2h1.0v1.0h-1.0zM159.1 274.4h1.0v1.0h-1.0zM132.2 258.0h1.0v1.0h-1.0zM155.6 283.5h1.0v1.0h-1.0zM143.0 254.6h1.0v1.0h-1.0zM140.6 286.2h1.0v1.0h-1.0zM140.1 297.3h1.0v1.0h-1.0zM162.8 266.7h1.0v1.0h-1.0zM158.6 286.5h1.0v1.0h-1.0zM141.6 280.0h1.0v1.0h-1.0zM137.0 282.8h1.0v1.0h-1.0zM149.7 254.9h1.0v1.0h-1.0zM144.4 282.2h1.0v1.0h-1.0zM167.8 275.6h1.0v1.0h-1.0zM133.4 284.1h1.0v1.0h-1.0zM129.4 273.9h1.0v1.0h-1.0zM146.7 289.0h1.0v1.0h-1.0zM149.6 277.6h1.0v1.0h-1.0zM151.0 283.3h1.0v1.0h-1.0zM157.8 292.8h1.0v1.0h-1.0zM172.3 276.4h1.0v1.0h-1.0zM145.7 287.6h1.0v1.0h-1.0zM143.5 277.0h1.0v1.0h-1.0zM130.1 281.1h1.0v1.0h-1.0zM152.2 266.6h1.0v1.0h-1.0zM158.9 284.6h1.0v1.0h-1.0zM146.6 290.9h1.0v1.0h-1.0zM162.5 272.8h1.0v1.0h-1.0zM149.8 284.9h1.0v1.0h-1.0zM166.2 279.8h1.0v1.0h-1.0zM153.2 258.6h1.0v1.0h-1.0zM137.9 278.8h1.0v1.0h-1.0zM142.5 292.2h1.0v1.0h-1.0zM132.6 267.2h1.0v1.0h-1.0zM130.4 249.3h1.0v1.0h-1.0zM152.4 276.8h1.0v1.0h-1.0zM159.1 265.1h1.0v1.0h-1.0zM171.0 300.2h1.0v1.0h-1.0zM148.9 273.4h1.0v1.0h-1.0zM146.9 273.9h1.0v1.0h-1.0zM137.3 265.3h1.0v1.0h-1.0zM160.4 277.4h1.0v1.0h-1.0zM153.8 266.2h1.0v1.0h-1.0zM143.0 261.5h1.0v1.0h-1.0zM157.1 273.1h1.0v1.0h-1.0zM155.7 262.8h1.0v1.0h-1.0zM128.9 292.1h1.0v1.0h-1.0zM157.7 257.9h1.0v1.0h-1.0zM151.0 273.0h1.0v1.0h-1.0zM145.2 264.5h1.0v1.0h-1.0zM144.9 255.0h1.0v1.0h-1.0zM168.7 296.9h1.0v1.0h-1.0zM166.4 245.1h1.0v1.0h-1.0zM169.6 294.0h1.0v1.0h-1.0zM136.9 254.6h1.0v1.0h-1.0zM142.3 275.2h1.0v1.0h-1.0zM159.5 305.1h1.0v1.0h-1.0zM136.2 244.7h1.0v1.0h-1.0zM141.6 255.1h1.0v1.0h-1.0zM129.7 292.0h1.0v1.0h-1.0zM169.9 276.4h1.0v1.0h-1.0zM161.2 266.5h1.0v1.0h-1.0zM154.5 273.6h1.0v1.0h-1.0zM151.9 260.7h1.0v1.0h-1.0zM144.9 275.7h1.0v1.0h-1.0zM145.1 294.5h1.0v1.0h-1.0zM156.3 268.7h1.0v1.0h-1.0zM141.7 275.9h1.0v1.0h-1.0zM163.0 290.5h1.0v1.0h-1.0zM144.1 301.3h1.0v1.0h-1.0zM139.9 265.9h1.0v1.0h-1.0zM163.8 278.1h1.0v1.0h-1.0zM147.9 266.3h1.0v1.0h-1.0zM155.6 265.2h1.0v1.0h-1.0zM144.9 268.5h1.0v1.0h-1.0zM124.7 265.3h1.0v1.0h-1.0zM155.5 250.2h1.0v1.0h-1.0zM134.7 246.7h1.0v1.0h-1.0zM161.4 264.0h1.0v1.0h-1.0zM132.4 275.8h1.0v1.0h-1.0zM129.0 290.7h1.0v1.0h-1.0zM152.9 266.7h1.0v1.0h-1.0zM154.2 271.7h1.0v1.0h-1.0zM150.7 283.1h1.0v1.0h-1.0zM136.2 284.1h1.0v1.0h-1.0zM159.3 272.4h1.0v1.0h-1.0zM133.4 273.3h1.0v1.0h-1.0zM144.4 299.7h1.0v1.0h-1.0zM140.8 269.4h1.0v1.0h-1.0zM145.3 267.3h1.0v1.0h-1.0zM158.9 251.7h1.0v1.0h-1.0zM142.5 279.9h1.0v1.0h-1.0zM155.7 270.4h1.0v1.0h-1.0zM157.1 300.2h1.0v1.0h-1.0zM130.7 269.4h1.0v1.0h-1.0zM136.7 285.1h1.0v1.0h-1.0zM145.3 286.8h1.0v1.0h-1.0zM143.0 296.6h1.0v1.0h-1.0zM152.9 256.0h1.0v1.0h-1.0zM128.3 295.4h1.0v1.0h-1.0zM157.4 274.2h1.0v1.0h-1.0zM157.7 272.6h1.0v1.0h-1.0zM147.6 269.7h1.0v1.0h-1.0zM134.3 268.6h1.0v1.0h-1.0zM149.6 269.3h1.0v1.0h-1.0zM155.7 281.0h1.0v1.0h-1.0zM148.6 274.9h1.0v1.0h-1.0zM157.5 261.0h1.0v1.0h-1.0zM144.7 273.1h1.0v1.0h-1.0zM165.4 305.5h1.0v1.0h-1.0zM124.1 279.2h1.0v1.0h-1.0zM138.3 268.7h1.0v1.0h-1.0zM154.9 297.4h1.0v1.0h-1.0zM132.9 263.1h1.0v1.0h-1.0zM157.6 271.9h1.0v1.0h-1.0zM136.1 266.4h1.0v1.0h-1.0zM150.5 270.7h1.0v1.0h-1.0zM139.4 284.0h1.0v1.0h-1.0zM144.6 281.9h1.0v1.0h-1.0zM151.4 264.0h1.0v1.0h-1.0zM148.3 272.2h1.0v1.0h-1.0zM145.3 275.1h1.0v1.0h-1.0zM173.2 268.4h1.0v1.0h-1.0zM149.6 273.5h1.0v1.0h-1.0zM138.8 264.1h1.0v1.0h-1.0zM159.7 263.9h1.0v1.0h-1.0zM158.5 274.6h1.0v1.0h-1.0zM163.0 259.9h1.0v1.0h-1.0zM169.2 279.7h1.0v1.0h-1.0zM139.2 271.3h1.0v1.0h-1.0zM161.2 261.4h1.0v1.0h-1.0zM162.0 265.6h1.0v1.0h-1.0zM149.5 267.4h1.0v1.0h-1.0zM152.2 271.8h1.0v1.0h-1.0zM116.5 275.5h1.0v1.0h-1.0zM143.2 271.1h1.0v1.0h-1.0zM169.2 262.1h1.0v1.0h-1.0zM129.8 293.5h1.0v1.0h-1.0zM143.6 286.3h1.0v1.0h-1.0zM152.7 275.4h1.0v1.0h-1.0zM155.8 286.9h1.0v1.0h-1.0zM167.4 278.4h1.0v1.0h-1.0zM130.1 270.4h1.0v1.0h-1.0zM150.0 275.1h1.0v1.0h-1.0zM159.0 310.2h1.0v1.0h-1.0zM135.0 287.4h1.0v1.0h-1.0zM149.1 288.1h1.0v1.0h-1.0zM170.2 268.6h1.0v1.0h-1.0zM164.0 282.1h1.0v1.0h-1.0zM155.4 304.6h1.0v1.0h-1.0zM120.7 279.7h1.0v1.0h-1.0zM148.1 288.5h1.0v1.0h-1.0zM153.8 291.0h1.0v1.0h-1.0zM146.1 282.7h1.0v1.0h-1.0zM148.8 295.3h1.0v1.0h-1.0zM183.4 277.0h1.0v1.0h-1.0zM147.1 280.7h1.0v1.0h-1.0zM138.8 265.4h1.0v1.0h-1.0zM152.2 309.8h1.0v1.0h-1.0zM146.0 278.0h1.0v1.0h-1.0zM146.1 275.4h1.0v1.0h-1.0zM148.5 292.8h1.0v1.0h-1.0zM158.0 267.3h1.0v1.0h-1.0zM152.1 273.8h1.0v1.0h-1.0zM136.3 263.3h1.0v1.0h-1.0zM148.0 274.2h1.0v1.0h-1.0zM154.7 268.6h1.0v1.0h-1.0zM144.4 281.3h1.0v1.0h-1.0zM162.1 272.2h1.0v1.0h-1.0zM158.0 265.8h1.0v1.0h-1.0zM138.6 269.9h1.0v1.0h-1.0zM153.0 272.3h1.0v1.0h-1.0zM171.3 266.9h1.0v1.0h-1.0zM166.7 286.6h1.0v1.0h-1.0zM148.9 283.0h1.0v1.0h-1.0zM159.4 275.9h1.0v1.0h-1.0zM142.1 257.8h1.0v1.0h-1.0zM133.6 280.9h1.0v1.0h-1.0zM155.6 256.6h1.0v1.0h-1.0zM152.2 276.4h1.0v1.0h-1.0zM155.2 274.5h1.0v1.0h-1.0zM149.2 265.9h1.0v1.0h-1.0zM153.1 262.6h1.0v1.0h-1.0zM143.9 264.5h1.0v1.0h-1.0zM154.7 301.7h1.0v1.0h-1.0zM158.7 270.3h1.0v1.0h-1.0zM148.9 271.1h1.0v1.0h-1.0zM158.5 286.9h1.0v1.0h-1.0zM130.0 279.5h1.0v1.0h-1.0zM140.9 288.2h1.0v1.0h-1.0zM165.4 257.3h1.0v1.0h-1.0zM168.9 259.2h1.0v1.0h-1.0zM148.4 273.3h1.0v1.0h-1.0zM135.6 270.0h1.0v1.0h-1.0zM153.5 276.1h1.0v1.0h-1.0zM158.1 287.3h1.0v1.0h-1.0zM133.2 257.8h1.0v1.0h-1.0zM155.6 277.7h1.0v1.0h-1.0zM154.9 273.5h1.0v1.0h-1.0zM154.3 283.0h1.0v1.0h-1.0zM137.1 276.2h1.0v1.0h-1.0zM155.5 266.7h1.0v1.0h-1.0zM133.0 262.2h1.0v1.0h-1.0zM151.0 287.1h1.0v1.0h-1.0zM136.7 254.0h1.0v1.0h-1.0zM164.3 268.4h1.0v1.0h-1.0zM162.2 296.3h1.0v1.0h-1.0zM142.3 268.2h1.0v1.0h-1.0zM173.7 282.1h1.0v1.0h-1.0zM138.5 271.0h1.0v1.0h-1.0zM152.9 283.3h1.0v1.0h-1.0zM162.5 274.3h1.0v1.0h-1.0zM124.5 267.0h1.0v1.0h-1.0zM160.5 292.1h1.0v1.0h-1.0zM148.8 270.3h1.0v1.0h-1.0zM149.3 255.8h1.0v1.0h-1.0zM137.7 269.4h1.0v1.0h-1.0zM153.1 281.1h1.0v1.0h-1.0zM137.3 258.9h1.0v1.0h-1.0zM138.8 284.5h1.0v1.0h-1.0zM144.6 284.2h1.0v1.0h-1.0zM136.0 302.4h1.0v1.0h-1.0zM166.8 265.2h1.0v1.0h-1.0zM134.9 282.8h1.0v1.0h-1.0zM141.2 251.4h1.0v1.0h-1.0zM146.0 268.2h1.0v1.0h-1.0zM149.5 275.3h1.0v1.0h-1.0zM158.2 279.3h1.0v1.0h-1.0zM158.5 273.1h1.0v1.0h-1.0zM146.2 272.6h1.0v1.0h-1.0zM145.3 265.6h1.0v1.0h-1.0zM149.9 267.9h1.0v1.0h-1.0zM158.5 278.0h1.0v1.0h-1.0zM157.2 281.4h1.0v1.0h-1.0zM143.8 282.5h1.0v1.0h-1.0zM126.8 287.2h1.0v1.0h-1.0zM173.1 289.8h1.0v1.0h-1.0zM160.0 249.6h1.0v1.0h-1.0zM152.4 266.8h1.0v1.0h-1.0zM153.2 271.7h1.0v1.0h-1.0zM143.8 265.2h1.0v1.0h-1.0zM138.5 287.9h1.0v1.0h-1.0zM145.8 283.9h1.0v1.0h-1.0zM147.1 272.4h1.0v1.0h-1.0zM142.6 275.5h1.0v1.0h-1.0zM133.5 290.8h1.0v1.0h-1.0zM146.1 269.2h1.0v1.0h-1.0zM155.8 269.6h1.0v1.0h-1.0zM144.1 286.0h1.0v1.0h-1.0zM149.7 280.2h1.0v1.0h-1.0zM126.7 292.9h1.0v1.0h-1.0zM147.2 278.8h1.0v1.0h-1.0zM148.2 283.9h1.0v1.0h-1.0zM136.0 266.5h1.0v1.0h-1.0zM130.5 261.2h1.0v1.0h-1.0zM154.0 273.7h1.0v1.0h-1.0zM154.9 279.3h1.0v1.0h-1.0zM144.9 286.9h1.0v1.0h-1.0zM156.4 274.9h1.0v1.0h-1.0zM145.8 270.9h1.0v1.0h-1.0zM132.9 288.4h1.0v1.0h-1.0zM148.5 273.3h1.0v1.0h-1.0zM145.9 287.0h1.0v1.0h-1.0zM156.7 303.3h1.0v1.0h-1.0zM144.5 283.6h1.0v1.0h-1.0zM145.2 286.4h1.0v1.0h-1.0zM159.0 280.5h1.0v1.0h-1.0zM162.3 277.2h1.0v1.0h-1.0zM157.9 277.6h1.0v1.0h-1.0zM160.9 274.8h1.0v1.0h-1.0zM154.5 288.4h1.0v1.0h-1.0zM158.0 252.2h1.0v1.0h-1.0zM159.2 270.3h1.0v1.0h-1.0zM153.9 282.7h1.0v1.0h-1.0zM150.2 262.6h1.0v1.0h-1.0zM151.1 272.5h1.0v1.0h-1.0zM176.0 264.6h1.0v1.0h-1.0zM149.7 279.8h1.0v1.0h-1.0zM146.9 285.4h1.0v1.0h-1.0zM145.5 293.3h1.0v1.0h-1.0zM149.1 280.6h1.0v1.0h-1.0zM152.2 264.2h1.0v1.0h-1.0zM137.1 277.2h1.0v1.0h-1.0zM127.7 281.5h1.0v1.0h-1.0zM152.7 292.8h1.0v1.0h-1.0zM131.8 245.2h1.0v1.0h-1.0zM152.3 278.8h1.0v1.0h-1.0zM151.0 249.4h1.0v1.0h-1.0zM162.2 283.4h1.0v1.0h-1.0zM167.9 279.8h1.0v1.0h-1.0zM153.5 280.6h1.0v1.0h-1.0zM143.4 285.7h1.0v1.0h-1.0zM136.6 279.0h1.0v1.0h-1.0zM140.8 265.2h1.0v1.0h-1.0zM149.9 278.6h1.0v1.0h-1.0zM126.7 289.9h1.0v1.0h-1.0zM150.3 272.3h1.0v1.0h-1.0zM149.4 274.2h1.0v1.0h-1.0zM156.6 257.7h1.0v1.0h-1.0zM145.8 289.4h1.0v1.0h-1.0zM150.6 267.1h1.0v1.0h-1.0zM141.4 263.9h1.0v1.0h-1.0zM144.4 267.9h1.0v1.0h-1.0zM130.0 262.4h1.0v1.0h-1.0zM150.9 270.5h1.0v1.0h-1.0zM166.5 290.9h1.0v1.0h-1.0zM151.3 284.5h1.0v1.0h-1.0zM153.5 292.9h1.0v1.0h-1.0zM138.7 293.7h1.0v1.0h-1.0zM165.2 261.9h1.0v1.0h-1.0zM141.1 280.3h1.0v1.0h-1.0zM158.3 293.9h1.0v1.0h-1.0zM150.7 304.6h1.0v1.0h-1.0zM138.9 255.0h1.0v1.0h-1.0zM160.8 254.8h1.0v1.0h-1.0zM149.7 280.1h1.0v1.0h-1.0zM151.5 269.4h1.0v1.0h-1.0zM154.5 260.6h1.0v1.0h-1.0zM149.3 278.9h1.0v1.0h-1.0zM145.3 263.3h1.0v1.0h-1.0zM154.6 243.5h1.0v1.0h-1.0zM145.0 273.5h1.0v1.0h-1.0zM150.2 275.5h1.0v1.0h-1.0zM142.2 282.4h1.0v1.0h-1.0zM133.1 286.4h1.0v1.0h-1.0zM142.1 276.3h1.0v1.0h-1.0zM144.1 270.7h1.0v1.0h-1.0zM149.7 264.9h1.0v1.0h-1.0zM162.5 251.8h1.0v1.0h-1.0zM130.9 268.0h1.0v1.0h-1.0zM150.9 287.2h1.0v1.0h-1.0zM125.2 282.5h1.0v1.0h-1.0zM138.0 301.2h1.0v1.0h-1.0zM143.9 271.8h1.0v1.0h-1.0zM124.7 250.0h1.0v1.0h-1.0zM129.1 284.9h1.0v1.0h-1.0zM151.2 287.7h1.0v1.0h-1.0zM150.4 258.2h1.0v1.0h-1.0zM148.2 252.2h1.0v1.0h-1.0zM140.7 275.8h1.0v1.0h-1.0zM173.2 283.3h1.0v1.0h-1.0zM147.7 258.8h1.0v1.0h-1.0zM140.0 269.3h1.0v1.0h-1.0zM168.0 263.4h1.0v1.0h-1.0zM156.3 258.0h1.0v1.0h-1.0zM145.4 256.2h1.0v1.0h-1.0zM162.6 275.6h1.0v1.0h-1.0zM151.2 268.8h1.0v1.0h-1.0zM156.6 264.8h1.0v1.0h-1.0zM138.2 297.1h1.0v1.0h-1.0zM160.2 261.1h1.0v1.0h-1.0zM151.3 271.9h1.0v1.0h-1.0zM138.4 258.5h1.0v1.0h-1.0zM141.1 278.8h1.0v1.0h-1.0zM160.0 253.6h1.0v1.0h-1.0zM145.4 275.0h1.0v1.0h-1.0zM150.0 271.2h1.0v1.0h-1.0zM156.7 286.0h1.0v1.0h-1.0zM150.9 259.1h1.0v1.0h-1.0zM132.7 265.0h1.0v1.0h-1.0zM156.5 270.6h1.0v1.0h-1.0zM159.8 301.7h1.0v1.0h-1.0zM159.0 254.0h1.0v1.0h-1.0zM167.3 277.6h1.0v1.0h-1.0zM153.5 264.9h1.0v1.0h-1.0zM158.0 277.9h1.0v1.0h-1.0zM167.0 282.4h1.0v1.0h-1.0zM146.3 275.6h1.0v1.0h-1.0zM168.6 277.2h1.0v1.0h-1.0zM168.6 277.4h1.0v1.0h-1.0zM158.1 265.8h1.0v1.0h-1.0zM169.7 270.8h1.0v1.0h-1.0zM158.9 251.5h1.0v1.0h-1.0zM139.8 268.9h1.0v1.0h-1.0zM162.0 263.4h1.0v1.0h-1.0zM153.1 270.2h1.0v1.0h-1.0zM154.0 283.5h1.0v1.0h-1.0zM151.2 278.7h1.0v1.0h-1.0zM164.5 279.9h1.0v1.0h-1.0zM155.6 288.4h1.0v1.0h-1.0zM154.8 279.4h1.0v1.0h-1.0zM157.5 273.3h1.0v1.0h-1.0zM141.5 272.3h1.0v1.0h-1.0zM144.7 256.2h1.0v1.0h-1.0zM145.3 281.0h1.0v1.0h-1.0zM142.8 288.9h1.0v1.0h-1.0zM153.3 287.3h1.0v1.0h-1.0zM160.7 272.5h1.0v1.0h-1.0zM170.3 282.1h1.0v1.0h-1.0zM162.6 285.9h1.0v1.0h-1.0zM160.7 298.0h1.0v1.0h-1.0zM162.1 290.0h1.0v1.0h-1.0zM164.2 275.5h1.0v1.0h-1.0zM145.4 274.8h1.0v1.0h-1.0zM157.1 275.8h1.0v1.0h-1.0zM153.0 276.6h1.0v1.0h-1.0zM148.1 266.9h1.0v1.0h-1.0zM144.5 283.9h1.0v1.0h-1.0zM143.9 264.3h1.0v1.0h-1.0zM146.6 262.9h1.0v1.0h-1.0zM135.9 278.3h1.0v1.0h-1.0zM155.2 265.9h1.0v1.0h-1.0zM149.3 270.3h1.0v1.0h-1.0zM150.7 245.8h1.0v1.0h-1.0zM153.2 284.2h1.0v1.0h-1.0zM157.5 273.5h1.0v1.0h-1.0zM143.0 271.9h1.0v1.0h-1.0zM148.3 279.7h1.0v1.0h-1.0zM131.8 276.4h1.0v1.0h-1.0zM125.1 264.2h1.0v1.0h-1.0zM128.2 300.3h1.0v1.0h-1.0zM166.4 267.5h1.0v1.0h-1.0zM129.4 286.6h1.0v1.0h-1.0zM154.7 298.0h1.0v1.0h-1.0zM165.7 265.3h1.0v1.0h-1.0zM144.5 274.8h1.0v1.0h-1.0zM167.4 262.6h1.0v1.0h-1.0zM169.8 287.6h1.0v1.0h-1.0zM159.9 269.1h1.0v1.0h-1.0zM175.6 258.8h1.0v1.0h-1.0zM156.4 291.1h1.0v1.0h-1.0zM141.5 285.8h1.0v1.0h-1.0zM155.3 261.7h1.0v1.0h-1.0zM144.7 289.3h1.0v1.0h-1.0zM135.2 276.1h1.0v1.0h-1.0zM135.5 309.8h1.0v1.0h-1.0zM175.0 296.4h1.0v1.0h-1.0zM143.6 266.1h1.0v1.0h-1.0zM149.3 269.9h1.0v1.0h-1.0zM142.3 261.8h1.0v1.0h-1.0zM151.1 275.3h1.0v1.0h-1.0zM147.0 274.2h1.0v1.0h-1.0zM145.1 283.4h1.0v1.0h-1.0zM136.3 274.7h1.0v1.0h-1.0zM134.1 253.9h1.0v1.0h-1.0zM141.4 262.7h1.0v1.0h-1.0zM152.8 292.4h1.0v1.0h-1.0zM172.5 288.9h1.0v1.0h-1.0zM161.2 271.4h1.0v1.0h-1.0zM169.7 271.7h1.0v1.0h-1.0zM155.0 271.3h1.0v1.0h-1.0zM148.7 273.8h1.0v1.0h-1.0zM135.1 251.1h1.0v1.0h-1.0zM149.7 285.5h1.0v1.0h-1.0zM126.1 264.7h1.0v1.0h-1.0zM146.4 275.5h1.0v1.0h-1.0zM153.3 276.6h1.0v1.0h-1.0zM162.1 291.4h1.0v1.0h-1.0zM145.5 243.6h1.0v1.0h-1.0zM134.6 293.8h1.0v1.0h-1.0zM144.4 279.8h1.0v1.0h-1.0zM145.4 263.7h1.0v1.0h-1.0zM163.0 252.3h1.0v1.0h-1.0zM171.5 289.0h1.0v1.0h-1.0zM141.6 277.0h1.0v1.0h-1.0zM145.8 281.4h1.0v1.0h-1.0zM148.1 269.9h1.0v1.0h-1.0zM145.9 262.8h1.0v1.0h-1.0zM136.1 285.1h1.0v1.0h-1.0zM150.8 260.7h1.0v1.0h-1.0zM153.7 285.6h1.0v1.0h-1.0zM154.0 251.2h1.0v1.0h-1.0zM136.5 261.1h1.0v1.0h-1.0zM148.5 254.1h1.0v1.0h-1.0zM130.6 291.0h1.0v1.0h-1.0zM159.8 250.1h1.0v1.0h-1.0zM138.6 258.3h1.0v1.0h-1.0zM146.8 282.3h1.0v1.0h-1.0zM144.9 276.6h1.0v1.0h-1.0zM143.4 302.8h1.0v1.0h-1.0zM138.2 298.1h1.0v1.0h-1.0zM130.4 281.8h1.0v1.0h-1.0zM168.9 282.7h1.0v1.0h-1.0zM152.6 249.1h1.0v1.0h-1.0zM152.7 261.7h1.0v1.0h-1.0zM172.9 269.1h1.0v1.0h-1.0zM148.7 271.1h1.0v1.0h-1.0zM155.9 255.1h1.0v1.0h-1.0zM150.1 261.0h1.0v1.0h-1.0zM162.9 262.2h1.0v1.0h-1.0zM155.4 287.7h1.0v1.0h-1.0zM153.3 279.2h1.0v1.0h-1.0zM147.0 269.1h1.0v1.0h-1.0zM152.9 269.8h1.0v1.0h-1.0zM162.6 277.4h1.0v1.0h-1.0zM127.0 264.2h1.0v1.0h-1.0zM148.4 270.0h1.0v1.0h-1.0zM145.3 250.4h1.0v1.0h-1.0zM146.5 282.5h1.0v1.0h-1.0zM128.1 286.4h1.0v1.0h-1.0zM157.9 278.3h1.0v1.0h-1.0zM140.6 279.9h1.0v1.0h-1.0zM147.4 278.4h1.0v1.0h-1.0zM144.3 300.8h1.0v1.0h-1.0zM131.5 276.2h1.0v1.0h-1.0zM145.0 255.8h1.0v1.0h-1.0zM129.6 259.5h1.0v1.0h-1.0zM139.5 283.0h1.0v1.0h-1.0zM146.4 287.8h1.0v1.0h-1.0zM149.8 283.8h1.0v1.0h-1.0zM150.5 284.7h1.0v1.0h-1.0zM148.3 276.0h1.0v1.0h-1.0zM173.4 253.5h1.0v1.0h-1.0zM154.7 264.0h1.0v1.0h-1.0zM136.4 249.2h1.0v1.0h-1.0zM143.1 268.3h1.0v1.0h-1.0zM142.6 255.2h1.0v1.0h-1.0zM147.9 274.8h1.0v1.0h-1.0zM143.2 271.2h1.0v1.0h-1.0zM140.5 247.3h1.0v1.0h-1.0zM168.0 283.3h1.0v1.0h-1.0zM150.3 283.7h1.0v1.0h-1.0zM146.2 254.8h1.0v1.0h-1.0zM147.1 275.4h1.0v1.0h-1.0zM147.5 283.1h1.0v1.0h-1.0zM165.2 269.5h1.0v1.0h-1.0zM155.1 284.9h1.0v1.0h-1.0zM162.2 276.0h1.0v1.0h-1.0zM115.6 287.8h1.0v1.0h-1.0zM153.5 275.9h1.0v1.0h-1.0zM161.5 271.2h1.0v1.0h-1.0zM171.6 280.3h1.0v1.0h-1.0zM150.2 283.9h1.0v1.0h-1.0zM131.0 276.8h1.0v1.0h-1.0zM156.4 267.4h1.0v1.0h-1.0zM143.3 262.8h1.0v1.0h-1.0zM130.2 268.4h1.0v1.0h-1.0zM143.1 265.7h1.0v1.0h-1.0zM161.5 276.1h1.0v1.0h-1.0zM163.1 275.6h1.0v1.0h-1.0zM157.8 272.2h1.0v1.0h-1.0zM138.4 273.3h1.0v1.0h-1.0zM177.6 275.7h1.0v1.0h-1.0zM137.0 294.4h1.0v1.0h-1.0zM149.0 289.5h1.0v1.0h-1.0zM134.0 265.6h1.0v1.0h-1.0zM164.4 279.0h1.0v1.0h-1.0zM154.8 268.9h1.0v1.0h-1.0zM159.7 272.0h1.0v1.0h-1.0zM150.9 270.0h1.0v1.0h-1.0zM149.2 264.9h1.0v1.0h-1.0zM151.8 255.0h1.0v1.0h-1.0zM160.9 276.0h1.0v1.0h-1.0zM160.0 289.2h1.0v1.0h-1.0zM145.6 261.1h1.0v1.0h-1.0zM149.8 280.1h1.0v1.0h-1.0zM153.2 268.1h1.0v1.0h-1.0zM167.2 277.0h1.0v1.0h-1.0zM154.7 262.4h1.0v1.0h-1.0zM150.4 270.1h1.0v1.0h-1.0zM144.4 271.8h1.0v1.0h-1.0zM143.4 276.2h1.0v1.0h-1.0zM150.8 271.4h1.0v1.0h-1.0zM150.8 282.0h1.0v1.0h-1.0zM158.2 272.8h1.0v1.0h-1.0zM154.8 276.0h1.0v1.0h-1.0zM153.0 278.1h1.0v1.0h-1.0zM157.2 267.6h1.0v1.0h-1.0zM152.0 258.7h1.0v1.0h-1.0zM149.7 267.2h1.0v1.0h-1.0zM155.2 267.4h1.0v1.0h-1.0zM131.0 303.2h1.0v1.0h-1.0zM163.8 298.1h1.0v1.0h-1.0zM135.8 266.6h1.0v1.0h-1.0zM159.2 267.6h1.0v1.0h-1.0zM150.2 277.5h1.0v1.0h-1.0zM162.2 280.8h1.0v1.0h-1.0zM150.4 263.8h1.0v1.0h-1.0zM139.6 259.6h1.0v1.0h-1.0zM161.8 299.3h1.0v1.0h-1.0zM152.1 287.5h1.0v1.0h-1.0zM151.3 252.1h1.0v1.0h-1.0zM150.9 249.2h1.0v1.0h-1.0zM161.1 261.9h1.0v1.0h-1.0zM159.0 276.1h1.0v1.0h-1.0zM152.6 280.6h1.0v1.0h-1.0zM133.0 268.5h1.0v1.0h-1.0zM145.6 251.2h1.0v1.0h-1.0zM151.2 276.1h1.0v1.0h-1.0zM169.8 281.3h1.0v1.0h-1.0zM154.3 273.1h1.0v1.0h-1.0zM149.1 266.4h1.0v1.0h-1.0zM163.2 280.9h1.0v1.0h-1.0zM148.9 272.3h1.0v1.0h-1.0zM149.8 257.9h1.0v1.0h-1.0zM151.8 274.4h1.0v1.0h-1.0zM133.6 255.5h1.0v1.0h-1.0zM160.6 286.2h1.0v1.0h-1.0zM154.8 279.5h1.0v1.0h-1.0zM147.0 259.5h1.0v1.0h-1.0zM137.5 276.0h1.0v1.0h-1.0zM152.4 290.1h1.0v1.0h-1.0zM165.5 243.9h1.0v1.0h-1.0zM143.0 271.2h1.0v1.0h-1.0zM138.4 295.5h1.0v1.0h-1.0zM154.7 251.9h1.0v1.0h-1.0zM132.5 270.8h1.0v1.0h-1.0zM125.7 253.7h1.0v1.0h-1.0zM145.2 272.2h1.0v1.0h-1.0zM147.1 250.9h1.0v1.0h-1.0zM144.1 265.7h1.0v1.0h-1.0zM153.8 275.0h1.0v1.0h-1.0zM147.7 278.2h1.0v1.0h-1.0zM143.5 278.9h1.0v1.0h-1.0zM145.1 288.8h1.0v1.0h-1.0zM157.1 282.6h1.0v1.0h-1.0zM160.7 283.2h1.0v1.0h-1.0zM160.1 259.7h1.0v1.0h-1.0zM157.8 270.9h1.0v1.0h-1.0zM139.1 304.1h1.0v1.0h-1.0zM146.7 284.4h1.0v1.0h-1.0zM152.4 283.2h1.0v1.0h-1.0zM132.4 286.6h1.0v1.0h-1.0zM165.8 267.6h1.0v1.0h-1.0zM153.5 299.9h1.0v1.0h-1.0zM143.3 267.9h1.0v1.0h-1.0zM152.0 272.0h1.0v1.0h-1.0zM146.3 302.9h1.0v1.0h-1.0zM141.8 244.5h1.0v1.0h-1.0zM155.7 278.0h1.0v1.0h-1.0zM145.2 249.4h1.0v1.0h-1.0zM134.6 264.1h1.0v1.0h-1.0zM143.2 271.8h1.0v1.0h-1.0zM148.9 268.2h1.0v1.0h-1.0zM138.3 275.5h1.0v1.0h-1.0zM164.0 262.5h1.0v1.0h-1.0zM138.2 271.7h1.0v1.0h-1.0zM169.5 256.8h1.0v1.0h-1.0zM160.0 267.7h1.0v1.0h-1.0zM139.8 254.0h1.0v1.0h-1.0zM151.6 282.1h1.0v1.0h-1.0zM163.2 255.3h1.0v1.0h-1.0zM148.1 282.6h1.0v1.0h-1.0zM137.1 267.4h1.0v1.0h-1.0zM151.4 268.9h1.0v1.0h-1.0zM172.1 289.4h1.0v1.0h-1.0zM133.8 274.6h1.0v1.0h-1.0zM156.3 246.9h1.0v1.0h-1.0zM150.3 280.0h1.0v1.0h-1.0zM145.9 276.8h1.0v1.0h-1.0zM146.7 267.5h1.0v1.0h-1.0zM161.6 253.8h1.0v1.0h-1.0zM156.8 274.2h1.0v1.0h-1.0zM139.3 268.8h1.0v1.0h-1.0zM167.4 300.8h1.0v1.0h-1.0zM136.0 267.0h1.0v1.0h-1.0zM157.5 299.9h1.0v1.0h-1.0zM152.3 292.2h1.0v1.0h-1.0zM163.4 264.6h1.0v1.0h-1.0zM154.2 261.8h1.0v1.0h-1.0zM161.9 291.4h1.0v1.0h-1.0zM150.0 271.2h1.0v1.0h-1.0zM161.0 275.3h1.0v1.0h-1.0zM154.1 269.6h1.0v1.0h-1.0zM173.9 256.3h1.0v1.0h-1.0zM142.6 267.9h1.0v1.0h-1.0zM163.4 259.8h1.0v1.0h-1.0zM155.4 251.8h1.0v1.0h-1.0zM152.2 269.0h1.0v1.0h-1.0zM144.1 297.8h1.0v1.0h-1.0zM155.2 295.5h1.0v1.0h-1.0zM134.1 272.2h1.0v1.0h-1.0zM135.2 275.0h1.0v1.0h-1.0zM158.1 280.2h1.0v1.0h-1.0zM133.2 292.0h1.0v1.0h-1.0zM166.1 277.5h1.0v1.0h-1.0zM147.3 266.4h1.0v1.0h-1.0zM153.1 267.6h1.0v1.0h-1.0zM151.1 288.8h1.0v1.0h-1.0zM154.9 309.3h1.0v1.0h-1.0zM147.2 264.4h1.0v1.0h-1.0zM146.3 244.5h1.0v1.0h-1.0zM148.9 284.4h1.0v1.0h-1.0zM161.9 272.0h1.0v1.0h-1.0zM162.8 275.0h1.0v1.0h-1.0zM164.3 290.3h1.0v1.0h-1.0zM154.3 274.0h1.0v1.0h-1.0zM148.1 254.6h1.0v1.0h-1.0zM131.9 245.7h1.0v1.0h-1.0zM157.4 272.4h1.0v1.0h-1.0zM159.6 257.0h1.0v1.0h-1.0zM145.9 277.1h1.0v1.0h-1.0zM159.2 255.3h1.0v1.0h-1.0zM164.5 268.2h1.0v1.0h-1.0zM151.4 252.6h1.0v1.0h-1.0zM162.0 268.0h1.0v1.0h-1.0zM153.7 266.9h1.0v1.0h-1.0zM131.3 281.4h1.0v1.0h-1.0zM145.1 291.8h1.0v1.0h-1.0zM145.8 270.5h1.0v1.0h-1.0zM156.2 261.1h1.0v1.0h-1.0zM140.8 300.4h1.0v1.0h-1.0zM145.5 278.2h1.0v1.0h-1.0zM139.8 281.6h1.0v1.0h-1.0zM149.9 281.6h1.0v1.0h-1.0zM151.1 293.4h1.0v1.0h-1.0zM161.1 287.2h1.0v1.0h-1.0zM159.1 282.6h1.0v1.0h-1.0zM152.2 283.8h1.0v1.0h-1.0zM153.0 261.1h1.0v1.0h-1.0zM151.5 264.6h1.0v1.0h-1.0zM151.6 271.6h1.0v1.0h-1.0zM167.4 274.4h1.0v1.0h-1.0zM123.0 273.4h1.0v1.0h-1.0zM148.4 277.4h1.0v1.0h-1.0zM153.8 273.5h1.0v1.0h-1.0zM162.8 267.2h1.0v1.0h-1.0zM138.3 250.5h1.0v1.0h-1.0zM154.2 284.8h1.0v1.0h-1.0zM159.8 281.3h1.0v1.0h-1.0zM145.4 260.9h1.0v1.0h-1.0zM129.4 280.1h1.0v1.0h-1.0zM146.4 278.7h1.0v1.0h-1.0zM137.1 274.2h1.0v1.0h-1.0zM157.5 247.5h1.0v1.0h-1.0zM141.0 256.3h1.0v1.0h-1.0zM169.9 264.7h1.0v1.0h-1.0zM151.9 295.7h1.0v1.0h-1.0zM141.5 261.1h1.0v1.0h-1.0zM144.8 268.3h1.0v1.0h-1.0zM138.3 257.6h1.0v1.0h-1.0zM154.6 266.3h1.0v1.0h-1.0zM166.8 277.9h1.0v1.0h-1.0zM148.0 244.2h1.0v1.0h-1.0zM140.0 282.4h1.0v1.0h-1.0zM153.7 273.6h1.0v1.0h-1.0zM175.7 264.7h1.0v1.0h-1.0zM134.9 286.7h1.0v1.0h-1.0zM163.9 286.7h1.0v1.0h-1.0zM163.3 243.8h1.0v1.0h-1.0zM129.7 270.8h1.0v1.0h-1.0zM134.6 288.6h1.0v1.0h-1.0zM139.6 263.8h1.0v1.0h-1.0zM161.0 268.8h1.0v1.0h-1.0zM145.6 286.5h1.0v1.0h-1.0zM148.5 269.4h1.0v1.0h-1.0zM158.1 256.4h1.0v1.0h-1.0zM151.6 263.5h1.0v1.0h-1.0zM152.8 254.6h1.0v1.0h-1.0zM146.8 280.9h1.0v1.0h-1.0zM162.7 249.0h1.0v1.0h-1.0zM141.8 287.1h1.0v1.0h-1.0zM168.8 250.1h1.0v1.0h-1.0zM146.6 273.8h1.0v1.0h-1.0zM141.6 252.6h1.0v1.0h-1.0zM157.4 268.7h1.0v1.0h-1.0zM155.3 287.4h1.0v1.0h-1.0zM128.5 288.8h1.0v1.0h-1.0zM152.8 291.4h1.0v1.0h-1.0zM135.5 271.9h1.0v1.0h-1.0zM141.2 274.6h1.0v1.0h-1.0zM159.0 276.4h1.0v1.0h-1.0zM140.8 281.7h1.0v1.0h-1.0zM154.2 267.5h1.0v1.0h-1.0zM146.1 288.5h1.0v1.0h-1.0zM171.6 277.7h1.0v1.0h-1.0zM149.2 289.1h1.0v1.0h-1.0zM137.4 279.8h1.0v1.0h-1.0zM138.1 282.6h1.0v1.0h-1.0zM140.3 262.9h1.0v1.0h-1.0zM151.7 267.3h1.0v1.0h-1.0zM150.2 255.1h1.0v1.0h-1.0zM160.9 269.0h1.0v1.0h-1.0zM152.1 270.7h1.0v1.0h-1.0zM151.7 284.8h1.0v1.0h-1.0zM153.8 255.5h1.0v1.0h-1.0zM153.5 271.4h1.0v1.0h-1.0zM158.9 290.7h1.0v1.0h-1.0zM158.9 287.7h1.0v1.0h-1.0zM130.8 269.5h1.0v1.0h-1.0zM141.3 293.8h1.0v1.0h-1.0zM122.8 283.9h1.0v1.0h-1.0zM145.0 260.3h1.0v1.0h-1.0zM155.1 266.6h1.0v1.0h-1.0zM144.0 276.3h1.0v1.0h-1.0zM137.9 247.0h1.0v1.0h-1.0zM169.5 275.9h1.0v1.0h-1.0zM165.4 264.1h1.0v1.0h-1.0zM147.3 262.6h1.0v1.0h-1.0zM164.7 282.9h1.0v1.0h-1.0zM137.7 277.9h1.0v1.0h-1.0zM179.6 280.9h1.0v1.0h-1.0zM139.8 272.4h1.0v1.0h-1.0zM147.3 263.0h1.0v1.0h-1.0zM138.1 276.7h1.0v1.0h-1.0zM151.0 294.4h1.0v1.0h-1.0zM135.7 275.8h1.0v1.0h-1.0zM150.1 285.6h1.0v1.0h-1.0zM162.0 269.9h1.0v1.0h-1.0zM152.5 308.4h1.0v1.0h-1.0zM147.2 250.0h1.0v1.0h-1.0zM167.1 281.3h1.0v1.0h-1.0zM140.2 280.7h1.0v1.0h-1.0zM160.7 276.8h1.0v1.0h-1.0zM146.8 257.4h1.0v1.0h-1.0zM152.5 257.1h1.0v1.0h-1.0zM150.4 269.8h1.0v1.0h-1.0zM151.5 274.5h1.0v1.0h-1.0zM149.5 256.1h1.0v1.0h-1.0zM141.5 258.1h1.0v1.0h-1.0zM143.8 280.9h1.0v1.0h-1.0zM154.9 287.5h1.0v1.0h-1.0zM148.9 265.2h1.0v1.0h-1.0zM137.2 263.3h1.0v1.0h-1.0zM142.3 262.9h1.0v1.0h-1.0zM142.4 307.7h1.0v1.0h-1.0zM149.4 279.9h1.0v1.0h-1.0zM152.0 272.1h1.0v1.0h-1.0zM151.0 287.1h1.0v1.0h-1.0zM142.8 305.2h1.0v1.0h-1.0zM150.2 289.4h1.0v1.0h-1.0zM134.9 253.0h1.0v1.0h-1.0zM118.2 271.8h1.0v1.0h-1.0zM149.4 267.3h1.0v1.0h-1.0zM131.8 268.2h1.0v1.0h-1.0zM139.5 255.9h1.0v1.0h-1.0zM136.7 267.5h1.0v1.0h-1.0zM156.8 257.8h1.0v1.0h-1.0zM136.6 277.7h1.0v1.0h-1.0zM152.9 273.6h1.0v1.0h-1.0zM144.5 253.1h1.0v1.0h-1.0zM136.3 249.0h1.0v1.0h-1.0zM132.5 266.2h1.0v1.0h-1.0zM154.9 282.1h1.0v1.0h-1.0zM154.1 279.9h1.0v1.0h-1.0zM158.3 272.0h1.0v1.0h-1.0zM152.8 266.0h1.0v1.0h-1.0zM152.9 262.6h1.0v1.0h-1.0zM148.4 268.2h1.0v1.0h-1.0zM150.9 255.8h1.0v1.0h-1.0zM145.9 266.9h1.0v1.0h-1.0zM139.9 263.6h1.0v1.0h-1.0zM171.7 311.0h1.0v1.0h-1.0zM129.2 282.8h1.0v1.0h-1.0zM152.5 270.2h1.0v1.0h-1.0zM154.6 272.3h1.0v1.0h-1.0zM151.3 271.3h1.0v1.0h-1.0zM139.1 275.6h1.0v1.0h-1.0zM147.6 267.3h1.0v1.0h-1.0zM144.6 272.7h1.0v1.0h-1.0zM137.8 287.3h1.0v1.0h-1.0zM149.1 284.6h1.0v1.0h-1.0zM145.1 277.3h1.0v1.0h-1.0zM143.5 291.6h1.0v1.0h-1.0zM157.1 276.1h1.0v1.0h-1.0zM137.9 259.2h1.0v1.0h-1.0zM154.4 248.4h1.0v1.0h-1.0zM142.8 263.2h1.0v1.0h-1.0zM154.2 272.1h1.0v1.0h-1.0zM150.3 278.5h1.0v1.0h-1.0zM152.2 288.1h1.0v1.0h-1.0zM138.7 264.9h1.0v1.0h-1.0zM141.0 261.6h1.0v1.0h-1.0zM140.1 283.8h1.0v1.0h-1.0zM151.4 289.5h1.0v1.0h-1.0zM157.7 266.2h1.0v1.0h-1.0zM161.3 277.7h1.0v1.0h-1.0zM144.0 292.3h1.0v1.0h-1.0zM150.4 277.4h1.0v1.0h-1.0zM131.7 272.2h1.0v1.0h-1.0zM125.1 243.8h1.0v1.0h-1.0zM139.9 291.6h1.0v1.0h-1.0zM142.1 282.0h1.0v1.0h-1.0zM132.4 274.7h1.0v1.0h-1.0zM129.9 266.4h1.0v1.0h-1.0zM155.3 255.4h1.0v1.0h-1.0zM140.6 271.5h1.0v1.0h-1.0zM130.9 271.4h1.0v1.0h-1.0zM174.9 288.3h1.0v1.0h-1.0zM151.2 255.9h1.0v1.0h-1.0zM145.9 293.2h1.0v1.0h-1.0zM156.8 273.4h1.0v1.0h-1.0zM141.0 289.6h1.0v1.0h-1.0zM166.7 259.3h1.0v1.0h-1.0zM132.4 277.8h1.0v1.0h-1.0zM135.0 290.1h1.0v1.0h-1.0zM147.8 274.5h1.0v1.0h-1.0zM140.9 252.3h1.0v1.0h-1.0zM164.7 268.3h1.0v1.0h-1.0zM131.7 280.5h1.0v1.0h-1.0zM141.2 253.3h1.0v1.0h-1.0zM151.8 252.7h1.0v1.0h-1.0zM155.4 276.2h1.0v1.0h-1.0zM160.2 259.6h1.0v1.0h-1.0zM153.0 282.5h1.0v1.0h-1.0zM173.4 256.4h1.0v1.0h-1.0zM144.0 247.2h1.0v1.0h-1.0zM151.1 262.0h1.0v1.0h-1.0zM158.6 293.9h1.0v1.0h-1.0zM145.7 260.8h1.0v1.0h-1.0zM145.9 272.9h1.0v1.0h-1.0zM144.1 276.4h1.0v1.0h-1.0zM142.1 259.6h1.0v1.0h-1.0zM136.7 288.3h1.0v1.0h-1.0zM143.0 275.4h1.0v1.0h-1.0zM132.1 279.2h1.0v1.0h-1.0zM153.3 249.4h1.0v1.0h-1.0zM131.6 248.4h1.0v1.0h-1.0zM167.7 270.3h1.0v1.0h-1.0zM161.2 269.7h1.0v1.0h-1.0zM146.7 283.1h1.0v1.0h-1.0zM142.6 293.8h1.0v1.0h-1.0zM162.5 269.4h1.0v1.0h-1.0zM151.0 269.2h1.0v1.0h-1.0zM155.2 279.3h1.0v1.0h-1.0zM141.1 294.4h1.0v1.0h-1.0zM160.7 261.4h1.0v1.0h-1.0zM140.2 281.7h1.0v1.0h-1.0zM150.2 269.5h1.0v1.0h-1.0zM130.0 268.3h1.0v1.0h-1.0zM141.8 284.4h1.0v1.0h-1.0zM154.5 261.9h1.0v1.0h-1.0zM144.0 258.0h1.0v1.0h-1.0zM144.1 282.3h1.0v1.0h-1.0zM157.6 272.6h1.0v1.0h-1.0zM148.2 269.3h1.0v1.0h-1.0zM162.6 271.1h1.0v1.0h-1.0zM122.5 279.9h1.0v1.0h-1.0zM155.2 267.8h1.0v1.0h-1.0zM154.5 283.7h1.0v1.0h-1.0zM132.0 278.8h1.0v1.0h-1.0zM134.7 293.8h1.0v1.0h-1.0zM158.6 290.7h1.0v1.0h-1.0zM137.2 285.0h1.0v1.0h-1.0zM142.0 270.2h1.0v1.0h-1.0zM155.5 274.7h1.0v1.0h-1.0zM145.3 264.7h1.0v1.0h-1.0zM139.4 269.9h1.0v1.0h-1.0zM152.2 280.8h1.0v1.0h-1.0zM160.8 292.1h1.0v1.0h-1.0zM152.5 253.9h1.0v1.0h-1.0zM124.9 261.4h1.0v1.0h-1.0zM156.1 267.5h1.0v1.0h-1.0zM149.6 259.1h1.0v1.0h-1.0zM139.0 255.3h1.0v1.0h-1.0zM164.2 265.8h1.0v1.0h-1.0zM129.8 291.1h1.0v1.0h-1.0zM169.4 283.2h1.0v1.0h-1.0zM142.0 273.5h1.0v1.0h-1.0zM166.2 273.4h1.0v1.0h-1.0zM148.4 249.8h1.0v1.0h-1.0zM134.3 282.8h1.0v1.0h-1.0zM150.0 279.0h1.0v1.0h-1.0zM152.5 257.9h1.0v1.0h-1.0zM154.8 275.9h1.0v1.0h-1.0zM160.5 270.4h1.0v1.0h-1.0zM139.1 265.8h1.0v1.0h-1.0zM154.3 259.2h1.0v1.0h-1.0zM157.0 263.6h1.0v1.0h-1.0zM145.9 259.9h1.0v1.0h-1.0zM138.6 279.5h1.0v1.0h-1.0zM138.4 278.2h1.0v1.0h-1.0zM157.1 277.6h1.0v1.0h-1.0zM157.7 270.5h1.0v1.0h-1.0zM139.8 267.4h1.0v1.0h-1.0zM134.2 301.7h1.0v1.0h-1.0zM162.5 247.0h1.0v1.0h-1.0zM131.9 289.8h1.0v1.0h-1.0zM150.6 278.0h1.0v1.0h-1.0zM140.1 274.0h1.0v1.0h-1.0zM129.7 265.9h1.0v1.0h-1.0zM150.3 270.0h1.0v1.0h-1.0zM146.8 256.5h1.0v1.0h-1.0zM164.7 253.7h1.0v1.0h-1.0zM173.8 271.5h1.0v1.0h-1.0zM146.8 249.9h1.0v1.0h-1.0zM160.1 284.8h1.0v1.0h-1.0zM160.3 288.7h1.0v1.0h-1.0zM139.4 251.3h1.0v1.0h-1.0zM166.5 276.9h1.0v1.0h-1.0zM144.9 276.1h1.0v1.0h-1.0zM148.6 274.7h1.0v1.0h-1.0zM145.7 279.0h1.0v1.0h-1.0zM147.4 283.5h1.0v1.0h-1.0zM142.3 285.2h1.0v1.0h-1.0zM157.1 298.2h1.0v1.0h-1.0zM162.6 273.5h1.0v1.0h-1.0zM144.8 285.2h1.0v1.0h-1.0zM133.8 250.4h1.0v1.0h-1.0zM149.4 271.3h1.0v1.0h-1.0zM132.6 256.0h1.0v1.0h-1.0zM141.9 292.6h1.0v1.0h-1.0zM162.4 305.8h1.0v1.0h-1.0zM174.3 280.7h1.0v1.0h-1.0zM153.0 254.9h1.0v1.0h-1.0zM137.2 271.6h1.0v1.0h-1.0zM157.4 273.5h1.0v1.0h-1.0zM124.3 275.9h1.0v1.0h-1.0zM141.3 288.4h1.0v1.0h-1.0zM165.6 286.5h1.0v1.0h-1.0zM133.8 292.3h1.0v1.0h-1.0zM130.7 266.2h1.0v1.0h-1.0zM158.2 265.3h1.0v1.0h-1.0zM148.4 293.0h1.0v1.0h-1.0zM142.4 269.4h1.0v1.0h-1.0zM153.4 254.0h1.0v1.0h-1.0zM142.6 254.6h1.0v1.0h-1.0zM127.8 274.0h1.0v1.0h-1.0zM157.7 285.9h1.0v1.0h-1.0zM141.8 294.2h1.0v1.0h-1.0zM137.9 270.8h1.0v1.0h-1.0zM134.3 266.6h1.0v1.0h-1.0zM151.6 295.9h1.0v1.0h-1.0zM140.1 266.8h1.0v1.0h-1.0zM155.7 293.6h1.0v1.0h-1.0zM146.0 276.5h1.0v1.0h-1.0zM160.7 276.5h1.0v1.0h-1.0zM144.7 269.9h1.0v1.0h-1.0zM141.7 277.3h1.0v1.0h-1.0zM127.3 266.7h1.0v1.0h-1.0zM136.9 263.7h1.0v1.0h-1.0zM156.8 271.3h1.0v1.0h-1.0zM182.3 264.1h1.0v1.0h-1.0zM135.2 277.4h1.0v1.0h-1.0zM137.5 274.4h1.0v1.0h-1.0zM152.6 269.5h1.0v1.0h-1.0zM154.1 270.4h1.0v1.0h-1.0zM141.5 270.0h1.0v1.0h-1.0zM149.8 297.5h1.0v1.0h-1.0zM131.3 273.1h1.0v1.0h-1.0zM145.6 264.9h1.0v1.0h-1.0zM158.7 269.0h1.0v1.0h-1.0zM166.8 282.5h1.0v1.0h-1.0zM147.1 270.4h1.0v1.0h-1.0zM146.1 271.1h1.0v1.0h-1.0zM153.8 269.6h1.0v1.0h-1.0zM161.0 275.5h1.0v1.0h-1.0zM154.2 278.6h1.0v1.0h-1.0zM140.7 279.4h1.0v1.0h-1.0zM152.8 250.3h1.0v1.0h-1.0zM159.5 258.2h1.0v1.0h-1.0zM134.3 284.4h1.0v1.0h-1.0zM154.5 288.7h1.0v1.0h-1.0zM152.9 291.4h1.0v1.0h-1.0zM159.5 275.2h1.0v1.0h-1.0zM149.9 289.2h1.0v1.0h-1.0zM141.9 272.6h1.0v1.0h-1.0zM144.1 271.5h1.0v1.0h-1.0zM137.7 251.6h1.0v1.0h-1.0zM138.6 262.2h1.0v1.0h-1.0zM142.8 264.9h1.0v1.0h-1.0zM143.6 286.0h1.0v1.0h-1.0zM161.1 296.4h1.0v1.0h-1.0zM135.5 266.6h1.0v1.0h-1.0zM148.4 278.4h1.0v1.0h-1.0zM142.5 277.0h1.0v1.0h-1.0zM165.2 262.3h1.0v1.0h-1.0zM151.8 249.1h1.0v1.0h-1.0zM144.9 262.6h1.0v1.0h-1.0zM157.9 253.1h1.0v1.0h-1.0zM149.7 268.7h1.0v1.0h-1.0zM143.7 271.2h1.0v1.0h-1.0zM165.7 270.6h1.0v1.0h-1.0zM156.7 270.8h1.0v1.0h-1.0zM167.9 279.9h1.0v1.0h-1.0zM161.6 260.1h1.0v1.0h-1.0zM157.4 285.6h1.0v1.0h-1.0zM150.4 249.8h1.0v1.0h-1.0zM137.1 274.0h1.0v1.0h-1.0zM156.7 278.6h1.0v1.0h-1.0zM149.8 262.1h1.0v1.0h-1.0zM156.4 250.8h1.0v1.0h-1.0zM148.9 282.1h1.0v1.0h-1.0zM141.5 263.7h1.0v1.0h-1.0zM138.0 284.1h1.0v1.0h-1.0zM156.7 283.9h1.0v1.0h-1.0zM163.1 273.0h1.0v1.0h-1.0zM145.9 273.1h1.0v1.0h-1.0zM154.0 286.9h1.0v1.0h-1.0zM164.1 278.4h1.0v1.0h-1.0zM139.9 260.1h1.0v1.0h-1.0zM145.3 275.5h1.0v1.0h-1.0zM136.8 280.9h1.0v1.0h-1.0zM161.9 275.9h1.0v1.0h-1.0zM151.9 275.8h1.0v1.0h-1.0zM144.0 271.1h1.0v1.0h-1.0zM130.9 271.5h1.0v1.0h-1.0zM147.1 260.1h1.0v1.0h-1.0zM159.9 253.1h1.0v1.0h-1.0zM145.8 288.8h1.0v1.0h-1.0zM144.4 264.2h1.0v1.0h-1.0zM156.1 276.2h1.0v1.0h-1.0zM135.6 252.2h1.0v1.0h-1.0zM149.6 275.3h1.0v1.0h-1.0zM155.6 261.6h1.0v1.0h-1.0zM140.0 258.9h1.0v1.0h-1.0zM151.8 259.7h1.0v1.0h-1.0zM148.0 286.3h1.0v1.0h-1.0zM146.5 289.0h1.0v1.0h-1.0zM151.3 243.8h1.0v1.0h-1.0zM151.5 276.7h1.0v1.0h-1.0zM139.0 285.4h1.0v1.0h-1.0zM141.8 256.1h1.0v1.0h-1.0zM154.0 282.6h1.0v1.0h-1.0zM161.3 265.8h1.0v1.0h-1.0zM163.9 259.2h1.0v1.0h-1.0zM139.8 268.2h1.0v1.0h-1.0zM161.0 266.7h1.0v1.0h-1.0zM157.4 253.8h1.0v1.0h-1.0zM148.8 304.3h1.0v1.0h-1.0zM154.4 266.8h1.0v1.0h-1.0zM158.2 262.7h1.0v1.0h-1.0zM168.6 285.0h1.0v1.0h-1.0zM137.6 272.1h1.0v1.0h-1.0zM155.7 291.7h1.0v1.0h-1.0zM147.6 269.4h1.0v1.0h-1.0zM146.9 278.0h1.0v1.0h-1.0zM161.6 274.4h1.0v1.0h-1.0zM158.1 275.4h1.0v1.0h-1.0zM138.1 270.2h1.0v1.0h-1.0zM146.0 271.6h1.0v1.0h-1.0zM151.6 296.4h1.0v1.0h-1.0zM133.7 263.6h1.0v1.0h-1.0zM158.6 265.5h1.0v1.0h-1.0zM148.3 268.3h1.0v1.0h-1.0zM150.9 281.0h1.0v1.0h-1.0zM152.8 278.7h1.0v1.0h-1.0zM168.8 286.1h1.0v1.0h-1.0zM149.5 254.5h1.0v1.0h-1.0zM145.3 276.7h1.0v1.0h-1.0zM168.1 270.6h1.0v1.0h-1.0zM143.7 269.1h1.0v1.0h-1.0zM143.4 275.4h1.0v1.0h-1.0zM134.0 245.7h1.0v1.0h-1.0zM160.9 276.9h1.0v1.0h-1.0zM152.1 275.1h1.0v1.0h-1.0zM154.3 253.3h1.0v1.0h-1.0zM151.0 271.8h1.0v1.0h-1.0zM147.7 294.6h1.0v1.0h-1.0zM140.6 267.7h1.0v1.0h-1.0zM140.7 281.3h1.0v1.0h-1.0zM153.9 270.0h1.0v1.0h-1.0zM150.5 261.8h1.0v1.0h-1.0zM166.9 260.3h1.0v1.0h-1.0zM140.9 267.6h1.0v1.0h-1.0zM143.9 291.1h1.0v1.0h-1.0zM138.1 284.4h1.0v1.0h-1.0zM164.2 263.3h1.0v1.0h-1.0zM135.8 287.0h1.0v1.0h-1.0zM157.6 271.3h1.0v1.0h-1.0zM164.8 263.5h1.0v1.0h-1.0zM147.7 279.1h1.0v1.0h-1.0zM157.1 260.5h1.0v1.0h-1.0zM126.0 251.3h1.0v1.0h-1.0zM145.0 291.0h1.0v1.0h-1.0zM131.2 247.8h1.0v1.0h-1.0zM151.1 280.6h1.0v1.0h-1.0zM149.3 252.0h1.0v1.0h-1.0zM140.8 272.7h1.0v1.0h-1.0zM159.5 270.4h1.0v1.0h-1.0zM153.1 267.0h1.0v1.0h-1.0zM143.6 271.6h1.0v1.0h-1.0zM133.2 272.6h1.0v1.0h-1.0zM147.2 260.7h1.0v1.0h-1.0zM172.3 272.2h1.0v1.0h-1.0zM141.5 286.9h1.0v1.0h-1.0zM153.8 263.2h1.0v1.0h-1.0zM143.2 276.7h1.0v1.0h-1.0zM158.0 257.2h1.0v1.0h-1.0zM154.0 278.4h1.0v1.0h-1.0zM146.7 282.0h1.0v1.0h-1.0zM129.8 307.4h1.0v1.0h-1.0zM143.6 285.7h1.0v1.0h-1.0zM162.3 279.1h1.0v1.0h-1.0zM146.6 292.6h1.0v1.0h-1.0zM156.1 259.4h1.0v1.0h-1.0zM144.0 288.0h1.0v1.0h-1.0zM128.9 265.6h1.0v1.0h-1.0zM153.9 264.6h1.0v1.0h-1.0zM152.7 288.3h1.0v1.0h-1.0zM142.9 276.4h1.0v1.0h-1.0zM145.2 291.5h1.0v1.0h-1.0zM152.4 253.1h1.0v1.0h-1.0zM142.8 276.9h1.0v1.0h-1.0zM153.0 265.9h1.0v1.0h-1.0zM147.0 269.4h1.0v1.0h-1.0zM123.6 246.9h1.0v1.0h-1.0zM147.7 286.1h1.0v1.0h-1.0zM142.7 276.1h1.0v1.0h-1.0zM140.1 259.6h1.0v1.0h-1.0zM153.6 254.6h1.0v1.0h-1.0zM143.9 261.2h1.0v1.0h-1.0zM155.1 292.5h1.0v1.0h-1.0zM161.1 271.8h1.0v1.0h-1.0zM150.8 268.6h1.0v1.0h-1.0zM132.4 280.0h1.0v1.0h-1.0zM141.3 273.4h1.0v1.0h-1.0zM159.2 276.4h1.0v1.0h-1.0zM146.4 283.5h1.0v1.0h-1.0zM140.5 277.8h1.0v1.0h-1.0zM148.3 285.4h1.0v1.0h-1.0zM154.7 256.8h1.0v1.0h-1.0zM152.1 274.1h1.0v1.0h-1.0zM156.3 268.4h1.0v1.0h-1.0zM140.3 274.8h1.0v1.0h-1.0zM146.3 272.8h1.0v1.0h-1.0zM146.5 264.6h1.0v1.0h-1.0zM149.0 268.5h1.0v1.0h-1.0zM126.5 286.4h1.0v1.0h-1.0zM146.7 265.7h1.0v1.0h-1.0zM134.7 256.2h1.0v1.0h-1.0zM164.4 281.5h1.0v1.0h-1.0zM166.2 286.7h1.0v1.0h-1.0zM167.6 269.7h1.0v1.0h-1.0zM158.1 275.1h1.0v1.0h-1.0zM144.0 261.9h1.0v1.0h-1.0zM159.7 270.6h1.0v1.0h-1.0zM147.1 288.6h1.0v1.0h-1.0zM155.9 284.4h1.0v1.0h-1.0zM139.5 275.4h1.0v1.0h-1.0zM142.9 269.6h1.0v1.0h-1.0zM154.3 251.1h1.0v1.0h-1.0zM168.6 277.8h1.0v1.0h-1.0zM149.0 279.7h1.0v1.0h-1.0zM173.8 287.9h1.0v1.0h-1.0zM179.3 301.1h1.0v1.0h-1.0zM135.4 278.6h1.0v1.0h-1.0zM149.0 286.6h1.0v1.0h-1.0zM139.0 258.2h1.0v1.0h-1.0zM147.8 290.0h1.0v1.0h-1.0zM143.5 285.4h1.0v1.0h-1.0zM148.6 292.2h1.0v1.0h-1.0zM159.8 282.7h1.0v1.0h-1.0zM159.5 279.7h1.0v1.0h-1.0zM152.1 293.8h1.0v1.0h-1.0zM149.4 264.4h1.0v1.0h-1.0zM150.6 282.3h1.0v1.0h-1.0zM150.7 288.4h1.0v1.0h-1.0zM155.6 262.8h1.0v1.0h-1.0zM149.4 257.8h1.0v1.0h-1.0zM154.8 279.5h1.0v1.0h-1.0zM135.1 275.3h1.0v1.0h-1.0zM158.0 281.9h1.0v1.0h-1.0zM168.3 282.4h1.0v1.0h-1.0zM151.3 263.1h1.0v1.0h-1.0zM134.0 278.2h1.0v1.0h-1.0zM164.0 289.0h1.0v1.0h-1.0zM145.8 268.8h1.0v1.0h-1.0zM116.8 269.7h1.0v1.0h-1.0zM147.0 258.2h1.0v1.0h-1.0zM155.9 284.8h1.0v1.0h-1.0zM153.5 300.3h1.0v1.0h-1.0zM162.8 254.9h1.0v1.0h-1.0zM156.1 284.1h1.0v1.0h-1.0zM150.7 286.0h1.0v1.0h-1.0zM127.9 266.0h1.0v1.0h-1.0zM137.2 268.6h1.0v1.0h-1.0zM151.3 259.4h1.0v1.0h-1.0zM156.7 263.0h1.0v1.0h-1.0zM138.2 275.9h1.0v1.0h-1.0zM142.7 282.6h1.0v1.0h-1.0zM154.5 275.3h1.0v1.0h-1.0zM128.6 285.4h1.0v1.0h-1.0zM128.2 276.5h1.0v1.0h-1.0zM146.9 257.8h1.0v1.0h-1.0zM152.1 293.5h1.0v1.0h-1.0zM144.1 289.9h1.0v1.0h-1.0zM124.4 264.0h1.0v1.0h-1.0zM149.6 297.9h1.0v1.0h-1.0zM134.9 280.1h1.0v1.0h-1.0zM156.5 275.6h1.0v1.0h-1.0zM148.3 299.9h1.0v1.0h-1.0zM156.3 251.9h1.0v1.0h-1.0zM143.6 283.5h1.0v1.0h-1.0zM158.4 270.4h1.0v1.0h-1.0zM162.9 260.9h1.0v1.0h-1.0zM153.7 294.4h1.0v1.0h-1.0zM163.8 280.5h1.0v1.0h-1.0zM142.5 256.4h1.0v1.0h-1.0zM159.3 264.8h1.0v1.0h-1.0zM152.3 285.4h1.0v1.0h-1.0zM138.6 298.2h1.0v1.0h-1.0zM148.5 246.5h1.0v1.0h-1.0zM143.6 277.3h1.0v1.0h-1.0zM143.4 268.6h1.0v1.0h-1.0zM150.3 250.0h1.0v1.0h-1.0zM160.9 271.6h1.0v1.0h-1.0zM145.9 252.0h1.0v1.0h-1.0zM150.7 266.5h1.0v1.0h-1.0zM133.4 296.0h1.0v1.0h-1.0zM150.5 280.9h1.0v1.0h-1.0zM161.9 284.6h1.0v1.0h-1.0zM158.2 282.1h1.0v1.0h-1.0zM154.5 278.7h1.0v1.0h-1.0zM143.6 287.2h1.0v1.0h-1.0zM138.8 258.0h1.0v1.0h-1.0zM148.4 269.0h1.0v1.0h-1.0zM134.8 285.6h1.0v1.0h-1.0zM135.9 264.0h1.0v1.0h-1.0zM159.6 268.0h1.0v1.0h-1.0zM139.4 290.4h1.0v1.0h-1.0zM168.9 294.9h1.0v1.0h-1.0zM133.8 265.7h1.0v1.0h-1.0zM154.1 262.8h1.0v1.0h-1.0zM136.6 282.0h1.0v1.0h-1.0zM151.3 277.7h1.0v1.0h-1.0zM138.0 264.8h1.0v1.0h-1.0zM149.8 282.2h1.0v1.0h-1.0zM147.7 281.6h1.0v1.0h-1.0zM144.5 275.1h1.0v1.0h-1.0zM165.8 292.6h1.0v1.0h-1.0zM142.9 285.2h1.0v1.0h-1.0zM159.0 288.0h1.0v1.0h-1.0zM149.0 289.0h1.0v1.0h-1.0zM173.3 264.2h1.0v1.0h-1.0zM125.7 278.4h1.0v1.0h-1.0zM142.0 275.1h1.0v1.0h-1.0zM129.6 266.3h1.0v1.0h-1.0zM146.0 277.6h1.0v1.0h-1.0zM146.9 277.5h1.0v1.0h-1.0zM190.9 273.3h1.0v1.0h-1.0zM153.1 267.4h1.0v1.0h-1.0zM168.9 285.4h1.0v1.0h-1.0zM163.5 252.2h1.0v1.0h-1.0zM144.6 285.3h1.0v1.0h-1.0zM154.6 274.2h1.0v1.0h-1.0zM167.6 277.8h1.0v1.0h-1.0zM151.6 297.1h1.0v1.0h-1.0zM154.9 250.4h1.0v1.0h-1.0zM133.0 262.3h1.0v1.0h-1.0zM140.5 282.9h1.0v1.0h-1.0zM153.0 265.8h1.0v1.0h-1.0zM155.3 268.5h1.0v1.0h-1.0zM139.4 243.5h1.0v1.0h-1.0zM145.8 268.1h1.0v1.0h-1.0zM148.0 277.0h1.0v1.0h-1.0zM147.7 283.4h1.0v1.0h-1.0zM156.9 270.2h1.0v1.0h-1.0zM150.5 277.1h1.0v1.0h-1.0zM151.2 280.1h1.0v1.0h-1.0zM133.9 264.9h1.0v1.0h-1.0zM137.9 263.8h1.0v1.0h-1.0zM152.9 301.0h1.0v1.0h-1.0zM132.0 262.5h1.0v1.0h-1.0zM152.3 291.0h1.0v1.0h-1.0zM142.1 275.1h1.0v1.0h-1.0zM140.5 294.3h1.0v1.0h-1.0zM156.4 265.4h1.0v1.0h-1.0zM142.0 281.2h1.0v1.0h-1.0zM140.0 278.7h1.0v1.0h-1.0zM142.0 271.0h1.0v1.0h-1.0zM150.0 278.4h1.0v1.0h-1.0zM179.3 263.6h1.0v1.0h-1.0zM126.2 273.0h1.0v1.0h-1.0zM149.1 268.7h1.0v1.0h-1.0zM146.7 284.6h1.0v1.0h-1.0zM159.7 272.9h1.0v1.0h-1.0zM145.3 255.0h1.0v1.0h-1.0zM122.3 269.0h1.0v1.0h-1.0zM163.8 272.8h1.0v1.0h-1.0zM137.4 261.7h1.0v1.0h-1.0zM148.6 292.4h1.0v1.0h-1.0zM134.3 279.7h1.0v1.0h-1.0zM137.3 285.7h1.0v1.0h-1.0zM143.8 263.6h1.0v1.0h-1.0zM158.6 268.7h1.0v1.0h-1.0zM158.5 288.0h1.0v1.0h-1.0zM142.7 254.5h1.0v1.0h-1.0zM154.7 279.2h1.0v1.0h-1.0zM145.2 275.4h1.0v1.0h-1.0zM150.5 267.3h1.0v1.0h-1.0zM150.9 275.4h1.0v1.0h-1.0zM156.0 259.4h1.0v1.0h-1.0zM142.5 277.2h1.0v1.0h-1.0zM147.8 257.4h1.0v1.0h-1.0zM151.6 256.6h1.0v1.0h-1.0zM150.2 293.3h1.0v1.0h-1.0zM140.5 264.5h1.0v1.0h-1.0zM168.0 245.1h1.0v1.0h-1.0zM144.2 287.5h1.0v1.0h-1.0zM157.5 263.5h1.0v1.0h-1.0zM162.6 273.3h1.0v1.0h-1.0zM125.3 286.9h1.0v1.0h-1.0zM171.6 279.0h1.0v1.0h-1.0zM146.9 297.8h1.0v1.0h-1.0zM135.7 272.4h1.0v1.0h-1.0zM150.6 282.4h1.0v1.0h-1.0zM173.9 260.3h1.0v1.0h-1.0zM154.7 276.4h1.0v1.0h-1.0zM135.7 295.2h1.0v1.0h-1.0zM144.1 281.1h1.0v1.0h-1.0zM163.8 276.4h1.0v1.0h-1.0zM133.8 246.9h1.0v1.0h-1.0zM147.2 269.0h1.0v1.0h-1.0zM146.0 256.4h1.0v1.0h-1.0zM172.9 284.8h1.0v1.0h-1.0zM146.0 264.0h1.0v1.0h-1.0zM163.5 279.1h1.0v1.0h-1.0zM141.8 260.4h1.0v1.0h-1.0zM140.4 300.1h1.0v1.0h-1.0zM160.1 258.0h1.0v1.0h-1.0zM156.0 276.0h1.0v1.0h-1.0zM130.3 310.4h1.0v1.0h-1.0zM156.2 277.1h1.0v1.0h-1.0zM156.2 262.1h1.0v1.0h-1.0zM142.5 282.6h1.0v1.0h-1.0zM151.6 287.8h1.0v1.0h-1.0zM152.1 286.2h1.0v1.0h-1.0zM143.8 247.0h1.0v1.0h-1.0zM142.8 277.1h1.0v1.0h-1.0zM141.8 244.8h1.0v1.0h-1.0zM146.2 300.3h1.0v1.0h-1.0zM134.6 275.1h1.0v1.0h-1.0zM148.7 267.8h1.0v1.0h-1.0zM132.8 283.4h1.0v1.0h-1.0zM150.0 280.9h1.0v1.0h-1.0zM148.2 257.8h1.0v1.0h-1.0zM137.8 296.6h1.0v1.0h-1.0zM158.5 270.8h1.0v1.0h-1.0zM170.3 249.9h1.0v1.0h-1.0zM163.6 293.5h1.0v1.0h-1.0zM134.2 295.4h1.0v1.0h-1.0zM163.0 291.5h1.0v1.0h-1.0zM151.5 281.8h1.0v1.0h-1.0zM148.6 261.9h1.0v1.0h-1.0zM142.6 287.1h1.0v1.0h-1.0zM149.1 299.9h1.0v1.0h-1.0zM164.3 285.5h1.0v1.0h-1.0zM155.1 296.3h1.0v1.0h-1.0zM144.6 263.5h1.0v1.0h-1.0zM141.8 288.3h1.0v1.0h-1.0zM144.6 287.2h1.0v1.0h-1.0zM155.5 253.6h1.0v1.0h-1.0zM169.5 251.7h1.0v1.0h-1.0zM137.6 264.2h1.0v1.0h-1.0zM149.1 275.3h1.0v1.0h-1.0zM144.9 280.5h1.0v1.0h-1.0zM140.9 271.1h1.0v1.0h-1.0zM153.5 273.3h1.0v1.0h-1.0zM155.1 272.7h1.0v1.0h-1.0zM133.7 275.4h1.0v1.0h-1.0zM137.8 282.3h1.0v1.0h-1.0zM162.2 281.1h1.0v1.0h-1.0zM152.6 273.5h1.0v1.0h-1.0zM154.8 277.8h1.0v1.0h-1.0zM143.7 268.0h1.0v1.0h-1.0zM145.0 285.3h1.0v1.0h-1.0zM154.1 267.2h1.0v1.0h-1.0zM143.7 297.0h1.0v1.0h-1.0zM137.0 273.9h1.0v1.0h-1.0zM149.1 278.0h1.0v1.0h-1.0zM159.0 263.7h1.0v1.0h-1.0zM137.9 269.4h1.0v1.0h-1.0zM160.6 276.5h1.0v1.0h-1.0zM156.8 274.5h1.0v1.0h-1.0zM139.7 265.6h1.0v1.0h-1.0zM149.2 258.1h1.0v1.0h-1.0zM148.7 274.8h1.0v1.0h-1.0zM156.0 276.4h1.0v1.0h-1.0zM156.4 281.9h1.0v1.0h-1.0zM134.9 291.6h1.0v1.0h-1.0zM134.4 269.9h1.0v1.0h-1.0zM160.3 246.5h1.0v1.0h-1.0zM150.4 272.3h1.0v1.0h-1.0zM153.7 248.6h1.0v1.0h-1.0zM152.8 256.4h1.0v1.0h-1.0zM165.8 288.6h1.0v1.0h-1.0zM136.0 282.1h1.0v1.0h-1.0zM161.0 265.3h1.0v1.0h-1.0zM140.2 265.4h1.0v1.0h-1.0zM157.0 273.0h1.0v1.0h-1.0zM163.7 249.8h1.0v1.0h-1.0zM134.1 280.9h1.0v1.0h-1.0zM153.5 269.4h1.0v1.0h-1.0zM146.1 299.9h1.0v1.0h-1.0zM146.0 259.5h1.0v1.0h-1.0zM149.6 288.2h1.0v1.0h-1.0zM137.7 264.8h1.0v1.0h-1.0zM138.6 288.5h1.0v1.0h-1.0zM156.3 260.6h1.0v1.0h-1.0zM158.3 284.5h1.0v1.0h-1.0zM142.9 268.1h1.0v1.0h-1.0zM133.3 262.8h1.0v1.0h-1.0zM174.3 272.2h1.0v1.0h-1.0zM161.1 280.9h1.0v1.0h-1.0zM153.0 279.9h1.0v1.0h-1.0zM137.9 296.3h1.0v1.0h-1.0zM142.8 285.7h1.0v1.0h-1.0zM138.7 268.7h1.0v1.0h-1.0zM166.5 246.5h1.0v1.0h-1.0zM150.6 268.9h1.0v1.0h-1.0zM153.4 283.0h1.0v1.0h-1.0zM137.9 255.6h1.0v1.0h-1.0zM139.3 257.8h1.0v1.0h-1.0zM140.6 276.3h1.0v1.0h-1.0zM152.1 270.3h1.0v1.0h-1.0zM146.2 296.4h1.0v1.0h-1.0zM146.0 278.8h1.0v1.0h-1.0zM152.5 281.7h1.0v1.0h-1.0zM151.6 298.7h1.0v1.0h-1.0zM165.2 267.3h1.0v1.0h-1.0zM147.0 274.3h1.0v1.0h-1.0zM138.1 260.5h1.0v1.0h-1.0zM149.0 277.9h1.0v1.0h-1.0zM165.0 288.7h1.0v1.0h-1.0zM143.1 293.4h1.0v1.0h-1.0zM149.7 273.8h1.0v1.0h-1.0zM145.3 264.4h1.0v1.0h-1.0zM153.5 263.6h1.0v1.0h-1.0zM151.9 254.9h1.0v1.0h-1.0zM140.3 276.0h1.0v1.0h-1.0zM146.7 293.3h1.0v1.0h-1.0zM161.0 244.0h1.0v1.0h-1.0zM159.1 293.9h1.0v1.0h-1.0zM158.5 251.9h1.0v1.0h-1.0zM145.5 279.0h1.0v1.0h-1.0zM145.2 256.8h1.0v1.0h-1.0zM159.2 285.3h1.0v1.0h-1.0zM136.4 285.3h1.0v1.0h-1.0zM148.5 276.7h1.0v1.0h-1.0zM129.0 285.9h1.0v1.0h-1.0zM145.0 275.1h1.0v1.0h-1.0zM141.5 282.2h1.0v1.0h-1.0zM136.1 299.9h1.0v1.0h-1.0zM155.4 289.7h1.0v1.0h-1.0zM141.2 265.2h1.0v1.0h-1.0zM145.2 263.2h1.0v1.0h-1.0zM146.4 271.1h1.0v1.0h-1.0zM141.2 271.2h1.0v1.0h-1.0zM164.5 275.4h1.0v1.0h-1.0zM143.8 266.0h1.0v1.0h-1.0zM151.3 283.5h1.0v1.0h-1.0zM135.0 274.9h1.0v1.0h-1.0zM144.0 279.5h1.0v1.0h-1.0zM145.6 274.5h1.0v1.0h-1.0zM145.8 283.0h1.0v1.0h-1.0zM142.8 257.7h1.0v1.0h-1.0zM150.7 296.5h1.0v1.0h-1.0zM166.0 279.3h1.0v1.0h-1.0zM147.7 280.7h1.0v1.0h-1.0zM147.6 283.0h1.0v1.0h-1.0zM144.9 289.6h1.0v1.0h-1.0zM176.5 284.8h1.0v1.0h-1.0zM166.6 277.8h1.0v1.0h-1.0zM155.2 272.0h1.0v1.0h-1.0zM156.8 251.5h1.0v1.0h-1.0zM141.5 277.5h1.0v1.0h-1.0zM147.5 270.1h1.0v1.0h-1.0zM151.4 270.1h1.0v1.0h-1.0zM150.4 308.2h1.0v1.0h-1.0zM139.9 248.5h1.0v1.0h-1.0zM140.7 275.3h1.0v1.0h-1.0zM154.7 291.5h1.0v1.0h-1.0zM152.5 288.0h1.0v1.0h-1.0zM126.4 291.9h1.0v1.0h-1.0zM150.2 256.8h1.0v1.0h-1.0zM162.9 261.1h1.0v1.0h-1.0zM142.2 283.2h1.0v1.0h-1.0zM151.7 270.4h1.0v1.0h-1.0zM133.5 298.5h1.0v1.0h-1.0zM158.1 277.8h1.0v1.0h-1.0zM137.1 277.3h1.0v1.0h-1.0zM135.7 280.8h1.0v1.0h-1.0zM145.7 270.8h1.0v1.0h-1.0zM174.7 276.3h1.0v1.0h-1.0zM142.6 265.2h1.0v1.0h-1.0zM135.5 274.1h1.0v1.0h-1.0zM154.1 267.9h1.0v1.0h-1.0zM151.6 278.2h1.0v1.0h-1.0zM167.0 254.8h1.0v1.0h-1.0zM135.5 253.8h1.0v1.0h-1.0zM132.0 281.1h1.0v1.0h-1.0zM145.8 277.8h1.0v1.0h-1.0zM153.2 261.2h1.0v1.0h-1.0zM153.0 271.5h1.0v1.0h-1.0zM160.9 260.0h1.0v1.0h-1.0zM133.1 303.2h1.0v1.0h-1.0zM140.3 252.8h1.0v1.0h-1.0zM147.7 298.7h1.0v1.0h-1.0zM158.2 263.2h1.0v1.0h-1.0zM154.3 280.6h1.0v1.0h-1.0zM144.6 271.0h1.0v1.0h-1.0zM138.2 269.4h1.0v1.0h-1.0zM158.7 287.8h1.0v1.0h-1.0zM159.4 286.1h1.0v1.0h-1.0zM178.4 270.7h1.0v1.0h-1.0zM147.3 262.0h1.0v1.0h-1.0zM166.7 303.7h1.0v1.0h-1.0zM136.1 294.4h1.0v1.0h-1.0zM143.3 276.7h1.0v1.0h-1.0zM141.9 270.6h1.0v1.0h-1.0zM144.2 278.8h1.0v1.0h-1.0zM139.7 275.9h1.0v1.0h-1.0zM143.3 291.5h1.0v1.0h-1.0zM148.6 261.2h1.0v1.0h-1.0zM144.3 275.0h1.0v1.0h-1.0zM156.3 263.8h1.0v1.0h-1.0zM148.3 293.0h1.0v1.0h-1.0zM149.2 300.0h1.0v1.0h-1.0zM165.1 273.5h1.0v1.0h-1.0zM152.6 282.3h1.0v1.0h-1.0zM150.8 294.4h1.0v1.0h-1.0zM149.0 270.6h1.0v1.0h-1.0zM149.8 261.7h1.0v1.0h-1.0zM155.4 289.3h1.0v1.0h-1.0zM140.5 281.8h1.0v1.0h-1.0zM161.5 271.9h1.0v1.0h-1.0zM166.1 295.2h1.0v1.0h-1.0zM161.6 278.1h1.0v1.0h-1.0zM143.9 249.8h1.0v1.0h-1.0zM132.0 279.6h1.0v1.0h-1.0zM144.5 273.9h1.0v1.0h-1.0zM150.8 301.1h1.0v1.0h-1.0zM158.1 274.5h1.0v1.0h-1.0zM147.2 271.9h1.0v1.0h-1.0zM145.9 280.9h1.0v1.0h-1.0zM165.6 278.2h1.0v1.0h-1.0zM142.0 255.1h1.0v1.0h-1.0zM160.7 276.5h1.0v1.0h-1.0zM158.9 270.2h1.0v1.0h-1.0zM134.8 294.4h1.0v1.0h-1.0zM152.2 308.4h1.0v1.0h-1.0zM163.5 260.7h1.0v1.0h-1.0zM173.1 265.2h1.0v1.0h-1.0zM171.4 263.4h1.0v1.0h-1.0zM173.3 279.7h1.0v1.0h-1.0zM162.9 254.8h1.0v1.0h-1.0zM156.8 274.6h1.0v1.0h-1.0zM189.5 287.9h1.0v1.0h-1.0zM174.8 280.7h1.0v1.0h-1.0zM156.2 255.3h1.0v1.0h-1.0zM168.9 280.1h1.0v1.0h-1.0zM200.3 275.7h1.0v1.0h-1.0zM156.4 262.2h1.0v1.0h-1.0zM158.4 285.5h1.0v1.0h-1.0zM172.4 264.4h1.0v1.0h-1.0zM159.0 270.8h1.0v1.0h-1.0zM165.3 256.5h1.0v1.0h-1.0zM169.1 273.5h1.0v1.0h-1.0zM156.4 264.1h1.0v1.0h-1.0zM163.2 263.2h1.0v1.0h-1.0zM171.2 283.0h1.0v1.0h-1.0zM239.1 272.2h1.0v1.0h-1.0zM156.4 250.8h1.0v1.0h-1.0zM223.3 278.1h1.0v1.0h-1.0zM162.1 280.0h1.0v1.0h-1.0zM164.9 259.1h1.0v1.0h-1.0zM170.8 264.6h1.0v1.0h-1.0zM201.6 270.2h1.0v1.0h-1.0zM204.9 266.4h1.0v1.0h-1.0zM172.7 271.0h1.0v1.0h-1.0zM194.7 277.6h1.0v1.0h-1.0zM161.6 263.4h1.0v1.0h-1.0zM158.5 295.5h1.0v1.0h-1.0zM157.5 260.6h1.0v1.0h-1.0zM166.5 262.8h1.0v1.0h-1.0zM225.9 294.1h1.0v1.0h-1.0zM212.3 299.3h1.0v1.0h-1.0zM157.3 270.0h1.0v1.0h-1.0zM202.3 267.2h1.0v1.0h-1.0zM154.1 256.1h1.0v1.0h-1.0zM170.4 283.8h1.0v1.0h-1.0zM188.1 271.7h1.0v1.0h-1.0zM155.3 258.9h1.0v1.0h-1.0zM179.3 274.6h1.0v1.0h-1.0zM173.8 286.6h1.0v1.0h-1.0zM161.6 278.1h1.0v1.0h-1.0zM157.8 297.1h1.0v1.0h-1.0zM153.1 284.0h1.0v1.0h-1.0zM182.4 275.0h1.0v1.0h-1.0zM164.0 269.1h1.0v1.0h-1.0zM204.0 276.4h1.0v1.0h-1.0zM239.1 284.7h1.0v1.0h-1.0zM154.1 280.2h1.0v1.0h-1.0zM235.2 282.7h1.0v1.0h-1.0zM179.2 272.3h1.0v1.0h-1.0zM169.5 279.1h1.0v1.0h-1.0zM165.2 284.7h1.0v1.0h-1.0zM156.4 267.4h1.0v1.0h-1.0zM161.2 253.3h1.0v1.0h-1.0zM185.9 291.1h1.0v1.0h-1.0zM172.1 276.8h1.0v1.0h-1.0zM209.1 264.0h1.0v1.0h-1.0zM157.1 272.4h1.0v1.0h-1.0zM152.4 266.4h1.0v1.0h-1.0zM198.8 248.2h1.0v1.0h-1.0zM152.2 267.2h1.0v1.0h-1.0zM154.0 251.7h1.0v1.0h-1.0zM195.8 272.0h1.0v1.0h-1.0zM178.9 268.1h1.0v1.0h-1.0zM153.9 283.7h1.0v1.0h-1.0zM166.4 268.0h1.0v1.0h-1.0zM153.4 274.2h1.0v1.0h-1.0zM152.9 265.8h1.0v1.0h-1.0zM157.3 264.8h1.0v1.0h-1.0zM196.4 252.0h1.0v1.0h-1.0zM164.3 281.9h1.0v1.0h-1.0zM151.9 271.6h1.0v1.0h-1.0zM161.4 262.2h1.0v1.0h-1.0zM175.3 272.1h1.0v1.0h-1.0zM205.2 264.3h1.0v1.0h-1.0zM159.9 260.4h1.0v1.0h-1.0zM168.4 272.6h1.0v1.0h-1.0zM174.0 284.7h1.0v1.0h-1.0zM235.3 266.1h1.0v1.0h-1.0zM162.1 251.7h1.0v1.0h-1.0zM215.6 261.8h1.0v1.0h-1.0zM194.0 292.0h1.0v1.0h-1.0zM172.5 259.4h1.0v1.0h-1.0zM164.1 284.3h1.0v1.0h-1.0zM222.6 266.5h1.0v1.0h-1.0zM205.7 278.8h1.0v1.0h-1.0zM191.1 268.2h1.0v1.0h-1.0zM171.1 249.8h1.0v1.0h-1.0zM164.9 264.4h1.0v1.0h-1.0zM156.2 295.9h1.0v1.0h-1.0zM214.3 267.9h1.0v1.0h-1.0zM184.4 276.6h1.0v1.0h-1.0zM157.4 265.3h1.0v1.0h-1.0zM159.9 267.9h1.0v1.0h-1.0zM152.1 273.5h1.0v1.0h-1.0zM155.9 275.4h1.0v1.0h-1.0zM231.9 297.2h1.0v1.0h-1.0zM157.0 269.3h1.0v1.0h-1.0zM163.5 267.3h1.0v1.0h-1.0zM166.2 261.2h1.0v1.0h-1.0zM157.6 253.1h1.0v1.0h-1.0zM164.3 249.4h1.0v1.0h-1.0zM164.0 277.8h1.0v1.0h-1.0zM152.8 246.2h1.0v1.0h-1.0zM155.6 287.1h1.0v1.0h-1.0zM167.7 280.3h1.0v1.0h-1.0zM179.5 265.8h1.0v1.0h-1.0zM179.7 255.1h1.0v1.0h-1.0zM218.5 269.9h1.0v1.0h-1.0zM154.3 269.8h1.0v1.0h-1.0zM157.0 283.6h1.0v1.0h-1.0zM220.1 260.3h1.0v1.0h-1.0zM169.9 264.8h1.0v1.0h-1.0zM167.8 268.9h1.0v1.0h-1.0zM183.3 266.1h1.0v1.0h-1.0zM211.3 261.7h1.0v1.0h-1.0zM206.4 248.1h1.0v1.0h-1.0zM172.3 249.0h1.0v1.0h-1.0zM176.9 261.1h1.0v1.0h-1.0zM159.7 266.7h1.0v1.0h-1.0zM185.3 282.0h1.0v1.0h-1.0zM156.9 298.4h1.0v1.0h-1.0zM154.5 291.0h1.0v1.0h-1.0zM153.6 274.5h1.0v1.0h-1.0zM177.9 293.0h1.0v1.0h-1.0zM169.4 268.1h1.0v1.0h-1.0zM156.9 263.0h1.0v1.0h-1.0zM206.6 298.5h1.0v1.0h-1.0zM176.3 256.2h1.0v1.0h-1.0zM153.0 264.4h1.0v1.0h-1.0zM161.4 266.3h1.0v1.0h-1.0zM208.4 287.8h1.0v1.0h-1.0zM241.1 262.1h1.0v1.0h-1.0zM152.3 279.3h1.0v1.0h-1.0zM178.9 264.5h1.0v1.0h-1.0zM209.8 254.3h1.0v1.0h-1.0zM244.4 272.5h1.0v1.0h-1.0zM157.5 271.7h1.0v1.0h-1.0zM154.3 255.1h1.0v1.0h-1.0zM157.9 258.7h1.0v1.0h-1.0zM175.3 259.6h1.0v1.0h-1.0zM168.1 281.6h1.0v1.0h-1.0zM166.4 275.3h1.0v1.0h-1.0zM176.3 272.5h1.0v1.0h-1.0zM152.6 275.7h1.0v1.0h-1.0zM178.5 263.6h1.0v1.0h-1.0zM181.3 275.5h1.0v1.0h-1.0zM165.9 262.0h1.0v1.0h-1.0zM171.2 252.9h1.0v1.0h-1.0zM163.3 260.8h1.0v1.0h-1.0zM152.2 272.2h1.0v1.0h-1.0zM162.1 270.7h1.0v1.0h-1.0zM157.5 282.8h1.0v1.0h-1.0zM171.1 248.5h1.0v1.0h-1.0zM155.7 266.8h1.0v1.0h-1.0zM183.7 274.5h1.0v1.0h-1.0zM201.4 257.5h1.0v1.0h-1.0zM157.5 272.7h1.0v1.0h-1.0zM179.9 264.5h1.0v1.0h-1.0zM185.0 255.5h1.0v1.0h-1.0zM172.5 283.6h1.0v1.0h-1.0zM171.9 252.2h1.0v1.0h-1.0zM175.4 282.1h1.0v1.0h-1.0zM155.1 264.4h1.0v1.0h-1.0zM152.5 257.8h1.0v1.0h-1.0zM177.9 258.5h1.0v1.0h-1.0zM188.0 260.4h1.0v1.0h-1.0zM174.1 259.0h1.0v1.0h-1.0zM185.7 273.0h1.0v1.0h-1.0zM176.1 246.2h1.0v1.0h-1.0zM175.2 285.1h1.0v1.0h-1.0zM159.5 280.0h1.0v1.0h-1.0zM153.0 286.9h1.0v1.0h-1.0zM153.2 257.3h1.0v1.0h-1.0zM158.7 261.8h1.0v1.0h-1.0zM174.7 267.5h1.0v1.0h-1.0zM164.7 273.4h1.0v1.0h-1.0zM160.3 263.1h1.0v1.0h-1.0zM244.4 268.6h1.0v1.0h-1.0zM163.1 271.5h1.0v1.0h-1.0zM184.1 250.3h1.0v1.0h-1.0zM182.3 292.2h1.0v1.0h-1.0zM230.1 255.6h1.0v1.0h-1.0zM164.8 272.9h1.0v1.0h-1.0zM152.8 283.1h1.0v1.0h-1.0zM151.9 259.8h1.0v1.0h-1.0zM191.1 290.0h1.0v1.0h-1.0zM167.8 282.7h1.0v1.0h-1.0zM193.7 272.5h1.0v1.0h-1.0zM155.8 278.6h1.0v1.0h-1.0zM170.1 266.7h1.0v1.0h-1.0zM154.6 267.0h1.0v1.0h-1.0zM160.0 281.7h1.0v1.0h-1.0zM180.3 272.9h1.0v1.0h-1.0zM201.3 275.9h1.0v1.0h-1.0zM175.0 254.7h1.0v1.0h-1.0zM167.8 269.9h1.0v1.0h-1.0zM165.9 284.8h1.0v1.0h-1.0zM154.4 280.9h1.0v1.0h-1.0zM168.8 274.0h1.0v1.0h-1.0zM172.6 263.2h1.0v1.0h-1.0zM209.9 262.0h1.0v1.0h-1.0zM155.5 275.2h1.0v1.0h-1.0zM152.5 287.4h1.0v1.0h-1.0zM163.5 270.2h1.0v1.0h-1.0zM154.2 286.0h1.0v1.0h-1.0zM154.4 265.9h1.0v1.0h-1.0zM196.8 284.7h1.0v1.0h-1.0zM167.0 257.2h1.0v1.0h-1.0zM216.8 272.0h1.0v1.0h-1.0zM215.9 256.4h1.0v1.0h-1.0zM174.5 277.9h1.0v1.0h-1.0zM182.3 257.8h1.0v1.0h-1.0zM217.8 260.4h1.0v1.0h-1.0zM195.1 264.2h1.0v1.0h-1.0zM177.7 251.1h1.0v1.0h-1.0zM157.4 258.1h1.0v1.0h-1.0zM194.1 258.9h1.0v1.0h-1.0zM201.9 279.5h1.0v1.0h-1.0zM186.2 287.0h1.0v1.0h-1.0zM172.6 264.1h1.0v1.0h-1.0zM163.4 266.1h1.0v1.0h-1.0zM156.7 272.4h1.0v1.0h-1.0zM217.8 263.2h1.0v1.0h-1.0zM172.4 266.2h1.0v1.0h-1.0zM201.6 272.6h1.0v1.0h-1.0zM154.7 268.6h1.0v1.0h-1.0zM158.0 262.5h1.0v1.0h-1.0zM154.0 288.1h1.0v1.0h-1.0zM158.7 262.0h1.0v1.0h-1.0zM173.5 271.2h1.0v1.0h-1.0zM180.5 256.8h1.0v1.0h-1.0zM160.7 262.3h1.0v1.0h-1.0zM175.9 270.9h1.0v1.0h-1.0zM181.2 264.8h1.0v1.0h-1.0zM170.9 276.3h1.0v1.0h-1.0zM199.5 270.5h1.0v1.0h-1.0zM158.0 282.1h1.0v1.0h-1.0zM163.5 262.4h1.0v1.0h-1.0zM161.1 288.2h1.0v1.0h-1.0zM157.7 269.9h1.0v1.0h-1.0zM196.1 260.1h1.0v1.0h-1.0zM186.1 276.6h1.0v1.0h-1.0zM184.1 266.3h1.0v1.0h-1.0zM152.9 269.8h1.0v1.0h-1.0zM180.6 258.1h1.0v1.0h-1.0zM166.0 277.6h1.0v1.0h-1.0zM163.0 283.4h1.0v1.0h-1.0zM152.7 263.1h1.0v1.0h-1.0zM153.1 291.9h1.0v1.0h-1.0zM153.9 262.6h1.0v1.0h-1.0zM160.5 272.8h1.0v1.0h-1.0zM158.1 249.3h1.0v1.0h-1.0zM166.6 245.7h1.0v1.0h-1.0zM188.4 295.9h1.0v1.0h-1.0zM154.0 287.5h1.0v1.0h-1.0zM170.4 284.0h1.0v1.0h-1.0zM203.8 248.5h1.0v1.0h-1.0zM171.5 272.5h1.0v1.0h-1.0zM206.3 274.9h1.0v1.0h-1.0zM183.2 270.7h1.0v1.0h-1.0zM160.7 273.4h1.0v1.0h-1.0zM159.1 258.2h1.0v1.0h-1.0zM198.3 267.7h1.0v1.0h-1.0zM236.8 255.4h1.0v1.0h-1.0zM186.6 259.9h1.0v1.0h-1.0zM179.1 266.2h1.0v1.0h-1.0zM231.1 264.3h1.0v1.0h-1.0zM167.3 269.8h1.0v1.0h-1.0zM155.6 281.1h1.0v1.0h-1.0zM177.3 272.6h1.0v1.0h-1.0zM170.6 274.6h1.0v1.0h-1.0zM158.4 251.7h1.0v1.0h-1.0zM166.1 265.1h1.0v1.0h-1.0zM164.4 279.9h1.0v1.0h-1.0zM151.9 258.9h1.0v1.0h-1.0zM221.5 264.2h1.0v1.0h-1.0zM173.3 257.5h1.0v1.0h-1.0zM156.9 286.3h1.0v1.0h-1.0zM179.3 264.0h1.0v1.0h-1.0zM232.6 260.5h1.0v1.0h-1.0zM155.0 277.3h1.0v1.0h-1.0zM157.8 283.4h1.0v1.0h-1.0zM198.1 275.8h1.0v1.0h-1.0zM213.7 281.9h1.0v1.0h-1.0zM158.5 268.0h1.0v1.0h-1.0zM155.9 264.1h1.0v1.0h-1.0zM166.9 263.3h1.0v1.0h-1.0zM193.9 262.2h1.0v1.0h-1.0zM218.1 274.2h1.0v1.0h-1.0zM187.5 268.2h1.0v1.0h-1.0zM189.7 270.7h1.0v1.0h-1.0zM184.6 277.2h1.0v1.0h-1.0zM155.2 268.9h1.0v1.0h-1.0zM172.9 252.5h1.0v1.0h-1.0zM208.1 259.7h1.0v1.0h-1.0zM151.5 255.6h1.0v1.0h-1.0zM195.5 245.8h1.0v1.0h-1.0zM196.1 270.9h1.0v1.0h-1.0zM155.4 254.6h1.0v1.0h-1.0zM180.6 253.6h1.0v1.0h-1.0zM177.0 256.1h1.0v1.0h-1.0zM153.7 280.5h1.0v1.0h-1.0zM175.4 265.7h1.0v1.0h-1.0zM154.4 282.1h1.0v1.0h-1.0zM152.6 268.5h1.0v1.0h-1.0zM162.1 264.1h1.0v1.0h-1.0zM177.7 276.6h1.0v1.0h-1.0zM152.5 277.0h1.0v1.0h-1.0zM174.5 271.0h1.0v1.0h-1.0zM174.1 256.6h1.0v1.0h-1.0zM197.0 263.9h1.0v1.0h-1.0zM161.5 266.3h1.0v1.0h-1.0zM215.7 270.7h1.0v1.0h-1.0zM182.2 288.1h1.0v1.0h-1.0zM169.6 287.2h1.0v1.0h-1.0zM160.6 278.0h1.0v1.0h-1.0zM164.5 281.5h1.0v1.0h-1.0zM157.0 272.4h1.0v1.0h-1.0zM154.6 304.2h1.0v1.0h-1.0zM180.9 288.6h1.0v1.0h-1.0zM209.6 302.6h1.0v1.0h-1.0zM220.7 274.3h1.0v1.0h-1.0zM156.4 274.7h1.0v1.0h-1.0zM190.7 282.7h1.0v1.0h-1.0zM172.1 271.9h1.0v1.0h-1.0zM155.1 273.4h1.0v1.0h-1.0zM186.6 257.2h1.0v1.0h-1.0zM170.2 281.3h1.0v1.0h-1.0zM173.3 271.2h1.0v1.0h-1.0zM154.5 279.6h1.0v1.0h-1.0zM173.9 266.8h1.0v1.0h-1.0zM182.6 247.3h1.0v1.0h-1.0zM166.7 275.8h1.0v1.0h-1.0zM163.8 284.1h1.0v1.0h-1.0zM166.3 253.5h1.0v1.0h-1.0zM151.6 257.4h1.0v1.0h-1.0zM192.3 265.8h1.0v1.0h-1.0zM159.2 266.4h1.0v1.0h-1.0zM223.8 282.1h1.0v1.0h-1.0zM157.2 261.8h1.0v1.0h-1.0zM176.6 246.9h1.0v1.0h-1.0zM159.2 274.0h1.0v1.0h-1.0zM157.6 294.3h1.0v1.0h-1.0zM213.7 279.9h1.0v1.0h-1.0zM164.6 283.9h1.0v1.0h-1.0zM206.0 257.7h1.0v1.0h-1.0zM175.0 272.4h1.0v1.0h-1.0zM173.4 250.8h1.0v1.0h-1.0zM210.0 294.2h1.0v1.0h-1.0zM156.1 276.6h1.0v1.0h-1.0zM164.3 243.2h1.0v1.0h-1.0zM152.7 246.4h1.0v1.0h-1.0zM182.4 275.5h1.0v1.0h-1.0zM238.1 271.2h1.0v1.0h-1.0zM158.7 265.6h1.0v1.0h-1.0zM206.8 277.2h1.0v1.0h-1.0zM166.0 294.6h1.0v1.0h-1.0zM175.4 274.1h1.0v1.0h-1.0zM189.6 246.9h1.0v1.0h-1.0zM158.8 267.5h1.0v1.0h-1.0zM165.7 253.1h1.0v1.0h-1.0zM156.1 259.4h1.0v1.0h-1.0zM182.9 273.6h1.0v1.0h-1.0zM199.1 267.3h1.0v1.0h-1.0zM195.1 256.2h1.0v1.0h-1.0zM167.5 269.1h1.0v1.0h-1.0zM170.1 259.3h1.0v1.0h-1.0zM214.9 276.1h1.0v1.0h-1.0zM169.3 266.4h1.0v1.0h-1.0zM167.3 274.3h1.0v1.0h-1.0zM157.3 266.1h1.0v1.0h-1.0zM161.8 278.8h1.0v1.0h-1.0zM152.2 267.7h1.0v1.0h-1.0zM179.7 269.3h1.0v1.0h-1.0zM197.5 262.3h1.0v1.0h-1.0zM221.7 271.2h1.0v1.0h-1.0zM174.6 247.2h1.0v1.0h-1.0zM152.6 302.7h1.0v1.0h-1.0zM170.1 260.9h1.0v1.0h-1.0zM166.8 270.6h1.0v1.0h-1.0zM174.6 263.5h1.0v1.0h-1.0zM152.5 263.3h1.0v1.0h-1.0zM157.7 274.4h1.0v1.0h-1.0zM178.1 263.0h1.0v1.0h-1.0zM200.4 264.0h1.0v1.0h-1.0zM162.3 252.1h1.0v1.0h-1.0zM152.2 257.8h1.0v1.0h-1.0zM194.2 254.7h1.0v1.0h-1.0zM189.0 291.9h1.0v1.0h-1.0zM165.9 252.7h1.0v1.0h-1.0zM177.4 255.9h1.0v1.0h-1.0zM219.3 271.7h1.0v1.0h-1.0zM164.1 287.2h1.0v1.0h-1.0zM167.9 248.2h1.0v1.0h-1.0zM153.8 250.0h1.0v1.0h-1.0zM154.6 270.9h1.0v1.0h-1.0zM160.0 273.5h1.0v1.0h-1.0zM153.5 251.6h1.0v1.0h-1.0zM184.7 246.8h1.0v1.0h-1.0zM158.4 257.3h1.0v1.0h-1.0zM193.7 278.6h1.0v1.0h-1.0zM165.2 268.8h1.0v1.0h-1.0zM153.0 278.6h1.0v1.0h-1.0zM156.9 268.0h1.0v1.0h-1.0zM187.5 268.9h1.0v1.0h-1.0zM167.4 277.0h1.0v1.0h-1.0zM153.9 267.8h1.0v1.0h-1.0zM151.9 272.2h1.0v1.0h-1.0zM152.6 257.9h1.0v1.0h-1.0zM164.5 261.8h1.0v1.0h-1.0zM199.4 275.1h1.0v1.0h-1.0zM220.9 266.3h1.0v1.0h-1.0zM156.0 259.9h1.0v1.0h-1.0zM202.8 277.5h1.0v1.0h-1.0zM166.0 276.1h1.0v1.0h-1.0zM153.9 269.2h1.0v1.0h-1.0zM161.0 259.8h1.0v1.0h-1.0zM181.0 280.5h1.0v1.0h-1.0zM171.8 300.5h1.0v1.0h-1.0zM156.5 259.0h1.0v1.0h-1.0zM210.0 250.0h1.0v1.0h-1.0zM160.0 259.5h1.0v1.0h-1.0zM230.6 257.6h1.0v1.0h-1.0zM161.8 253.4h1.0v1.0h-1.0zM153.2 279.8h1.0v1.0h-1.0zM152.6 280.0h1.0v1.0h-1.0zM175.0 287.7h1.0v1.0h-1.0zM174.4 278.5h1.0v1.0h-1.0zM181.2 263.2h1.0v1.0h-1.0zM168.4 282.8h1.0v1.0h-1.0zM179.0 264.9h1.0v1.0h-1.0zM225.4 254.5h1.0v1.0h-1.0zM172.2 284.5h1.0v1.0h-1.0zM189.5 281.8h1.0v1.0h-1.0zM155.7 263.4h1.0v1.0h-1.0zM173.6 265.3h1.0v1.0h-1.0zM154.9 269.6h1.0v1.0h-1.0zM156.2 271.7h1.0v1.0h-1.0zM180.6 279.7h1.0v1.0h-1.0zM194.0 270.0h1.0v1.0h-1.0zM159.7 274.2h1.0v1.0h-1.0zM160.3 250.4h1.0v1.0h-1.0zM169.6 265.4h1.0v1.0h-1.0zM183.5 246.8h1.0v1.0h-1.0zM163.7 291.4h1.0v1.0h-1.0zM151.9 286.6h1.0v1.0h-1.0zM179.3 278.1h1.0v1.0h-1.0zM177.6 283.0h1.0v1.0h-1.0zM158.6 294.2h1.0v1.0h-1.0zM156.8 280.9h1.0v1.0h-1.0zM172.6 249.2h1.0v1.0h-1.0zM185.4 266.6h1.0v1.0h-1.0zM163.0 259.0h1.0v1.0h-1.0zM163.1 253.6h1.0v1.0h-1.0zM170.6 269.0h1.0v1.0h-1.0zM159.6 274.0h1.0v1.0h-1.0zM235.7 257.5h1.0v1.0h-1.0zM165.8 265.6h1.0v1.0h-1.0zM214.8 272.6h1.0v1.0h-1.0zM190.7 267.1h1.0v1.0h-1.0zM172.6 266.9h1.0v1.0h-1.0zM176.4 263.6h1.0v1.0h-1.0zM185.7 279.0h1.0v1.0h-1.0zM227.7 272.3h1.0v1.0h-1.0zM155.2 250.5h1.0v1.0h-1.0zM195.2 265.7h1.0v1.0h-1.0zM160.7 272.4h1.0v1.0h-1.0zM160.0 256.9h1.0v1.0h-1.0zM156.7 277.5h1.0v1.0h-1.0zM185.3 259.0h1.0v1.0h-1.0zM155.4 264.9h1.0v1.0h-1.0zM157.1 267.7h1.0v1.0h-1.0zM155.3 296.9h1.0v1.0h-1.0zM163.1 278.0h1.0v1.0h-1.0zM192.3 263.2h1.0v1.0h-1.0zM163.6 271.5h1.0v1.0h-1.0zM213.5 272.8h1.0v1.0h-1.0zM184.1 268.8h1.0v1.0h-1.0zM212.3 252.9h1.0v1.0h-1.0zM218.5 286.0h1.0v1.0h-1.0zM156.8 266.1h1.0v1.0h-1.0zM168.4 266.6h1.0v1.0h-1.0zM189.8 252.6h1.0v1.0h-1.0zM182.1 248.7h1.0v1.0h-1.0zM176.7 261.9h1.0v1.0h-1.0zM168.7 250.0h1.0v1.0h-1.0zM182.8 275.2h1.0v1.0h-1.0zM194.6 279.9h1.0v1.0h-1.0zM195.2 261.1h1.0v1.0h-1.0zM204.3 248.9h1.0v1.0h-1.0zM156.6 264.1h1.0v1.0h-1.0zM186.1 255.8h1.0v1.0h-1.0zM168.9 271.1h1.0v1.0h-1.0zM200.0 271.3h1.0v1.0h-1.0zM155.1 263.7h1.0v1.0h-1.0zM153.7 269.9h1.0v1.0h-1.0zM157.8 282.0h1.0v1.0h-1.0zM154.2 290.3h1.0v1.0h-1.0zM153.4 262.5h1.0v1.0h-1.0zM168.4 278.0h1.0v1.0h-1.0zM170.9 266.0h1.0v1.0h-1.0zM169.3 255.8h1.0v1.0h-1.0zM164.1 285.0h1.0v1.0h-1.0zM166.1 273.9h1.0v1.0h-1.0zM154.7 270.8h1.0v1.0h-1.0zM166.0 273.4h1.0v1.0h-1.0zM204.1 267.0h1.0v1.0h-1.0zM166.8 255.8h1.0v1.0h-1.0zM178.2 291.2h1.0v1.0h-1.0zM152.0 280.2h1.0v1.0h-1.0zM173.0 272.3h1.0v1.0h-1.0zM172.8 281.1h1.0v1.0h-1.0zM159.1 285.1h1.0v1.0h-1.0zM167.3 266.5h1.0v1.0h-1.0zM156.2 276.3h1.0v1.0h-1.0zM175.8 264.9h1.0v1.0h-1.0zM154.1 277.0h1.0v1.0h-1.0zM156.3 265.8h1.0v1.0h-1.0zM160.4 299.4h1.0v1.0h-1.0zM161.8 264.5h1.0v1.0h-1.0zM212.6 275.4h1.0v1.0h-1.0zM164.7 274.8h1.0v1.0h-1.0zM204.9 264.8h1.0v1.0h-1.0zM241.9 280.7h1.0v1.0h-1.0zM187.1 267.9h1.0v1.0h-1.0zM153.1 263.8h1.0v1.0h-1.0zM152.8 269.0h1.0v1.0h-1.0zM235.6 259.6h1.0v1.0h-1.0zM157.3 283.9h1.0v1.0h-1.0zM186.0 276.8h1.0v1.0h-1.0zM159.6 281.3h1.0v1.0h-1.0zM198.0 252.1h1.0v1.0h-1.0zM159.2 272.4h1.0v1.0h-1.0zM178.3 259.4h1.0v1.0h-1.0zM154.5 270.1h1.0v1.0h-1.0zM164.2 284.9h1.0v1.0h-1.0zM166.4 272.2h1.0v1.0h-1.0zM215.1 266.8h1.0v1.0h-1.0zM173.8 283.0h1.0v1.0h-1.0zM152.4 281.6h1.0v1.0h-1.0zM180.1 292.1h1.0v1.0h-1.0zM155.5 245.7h1.0v1.0h-1.0zM175.5 273.1h1.0v1.0h-1.0zM173.6 263.8h1.0v1.0h-1.0zM166.4 258.1h1.0v1.0h-1.0zM160.4 270.4h1.0v1.0h-1.0zM185.1 254.5h1.0v1.0h-1.0zM154.9 257.7h1.0v1.0h-1.0zM183.9 265.7h1.0v1.0h-1.0zM194.5 292.3h1.0v1.0h-1.0zM164.8 260.0h1.0v1.0h-1.0zM187.3 254.4h1.0v1.0h-1.0zM198.3 244.3h1.0v1.0h-1.0zM154.1 264.6h1.0v1.0h-1.0zM223.6 266.0h1.0v1.0h-1.0zM163.4 270.8h1.0v1.0h-1.0zM160.9 250.9h1.0v1.0h-1.0zM165.5 259.5h1.0v1.0h-1.0zM159.5 271.1h1.0v1.0h-1.0zM163.8 249.4h1.0v1.0h-1.0zM178.4 283.5h1.0v1.0h-1.0zM158.3 275.3h1.0v1.0h-1.0zM158.4 273.4h1.0v1.0h-1.0zM164.2 273.4h1.0v1.0h-1.0zM161.9 256.0h1.0v1.0h-1.0zM156.6 282.4h1.0v1.0h-1.0zM164.4 255.9h1.0v1.0h-1.0zM152.3 292.9h1.0v1.0h-1.0zM171.8 271.8h1.0v1.0h-1.0zM156.0 245.9h1.0v1.0h-1.0zM156.6 279.8h1.0v1.0h-1.0zM178.6 293.7h1.0v1.0h-1.0zM156.9 282.3h1.0v1.0h-1.0zM229.6 266.3h1.0v1.0h-1.0zM179.3 261.1h1.0v1.0h-1.0zM156.0 284.5h1.0v1.0h-1.0zM198.7 263.4h1.0v1.0h-1.0zM230.7 273.7h1.0v1.0h-1.0zM187.7 254.8h1.0v1.0h-1.0zM178.6 257.6h1.0v1.0h-1.0zM179.1 283.0h1.0v1.0h-1.0zM219.1 264.2h1.0v1.0h-1.0zM190.5 264.0h1.0v1.0h-1.0zM188.7 253.2h1.0v1.0h-1.0zM232.3 271.6h1.0v1.0h-1.0zM217.4 278.8h1.0v1.0h-1.0zM202.8 263.3h1.0v1.0h-1.0zM151.9 266.7h1.0v1.0h-1.0zM158.5 253.8h1.0v1.0h-1.0zM204.3 286.6h1.0v1.0h-1.0zM174.6 261.3h1.0v1.0h-1.0zM155.0 267.1h1.0v1.0h-1.0zM174.7 290.1h1.0v1.0h-1.0zM189.5 266.2h1.0v1.0h-1.0zM155.4 249.6h1.0v1.0h-1.0zM153.7 257.4h1.0v1.0h-1.0zM193.2 264.5h1.0v1.0h-1.0zM212.3 291.4h1.0v1.0h-1.0zM174.3 271.9h1.0v1.0h-1.0zM173.4 266.2h1.0v1.0h-1.0zM159.5 279.4h1.0v1.0h-1.0zM191.1 285.4h1.0v1.0h-1.0zM164.1 259.6h1.0v1.0h-1.0zM167.9 287.1h1.0v1.0h-1.0zM163.5 279.9h1.0v1.0h-1.0zM172.7 274.7h1.0v1.0h-1.0zM201.1 271.6h1.0v1.0h-1.0zM197.7 286.6h1.0v1.0h-1.0zM214.6 265.7h1.0v1.0h-1.0zM159.0 298.1h1.0v1.0h-1.0zM158.1 270.0h1.0v1.0h-1.0zM199.7 256.3h1.0v1.0h-1.0zM211.5 276.6h1.0v1.0h-1.0zM176.2 272.8h1.0v1.0h-1.0zM224.0 279.6h1.0v1.0h-1.0zM162.0 266.3h1.0v1.0h-1.0zM162.4 285.5h1.0v1.0h-1.0zM165.6 262.2h1.0v1.0h-1.0zM156.8 270.8h1.0v1.0h-1.0zM154.0 253.5h1.0v1.0h-1.0zM152.9 259.1h1.0v1.0h-1.0zM160.3 271.7h1.0v1.0h-1.0zM160.5 260.9h1.0v1.0h-1.0zM152.9 263.5h1.0v1.0h-1.0zM153.4 266.6h1.0v1.0h-1.0zM187.9 272.4h1.0v1.0h-1.0zM160.2 278.8h1.0v1.0h-1.0zM182.5 278.9h1.0v1.0h-1.0zM178.0 282.1h1.0v1.0h-1.0zM151.6 271.8h1.0v1.0h-1.0zM168.5 262.3h1.0v1.0h-1.0zM168.8 249.2h1.0v1.0h-1.0zM176.0 264.8h1.0v1.0h-1.0zM160.2 259.2h1.0v1.0h-1.0zM161.9 246.3h1.0v1.0h-1.0zM159.9 290.0h1.0v1.0h-1.0zM164.0 246.0h1.0v1.0h-1.0zM206.5 273.7h1.0v1.0h-1.0zM176.7 276.2h1.0v1.0h-1.0zM183.7 301.9h1.0v1.0h-1.0zM196.3 269.5h1.0v1.0h-1.0zM151.9 259.5h1.0v1.0h-1.0zM172.9 291.5h1.0v1.0h-1.0zM233.8 259.1h1.0v1.0h-1.0zM154.4 251.1h1.0v1.0h-1.0zM170.8 256.5h1.0v1.0h-1.0zM211.5 261.1h1.0v1.0h-1.0zM187.7 269.8h1.0v1.0h-1.0zM151.6 273.5h1.0v1.0h-1.0zM153.7 250.0h1.0v1.0h-1.0zM167.5 273.6h1.0v1.0h-1.0zM152.0 297.5h1.0v1.0h-1.0zM232.9 260.2h1.0v1.0h-1.0zM184.0 267.6h1.0v1.0h-1.0zM155.3 278.0h1.0v1.0h-1.0zM160.0 284.5h1.0v1.0h-1.0zM166.3 260.8h1.0v1.0h-1.0zM198.1 257.0h1.0v1.0h-1.0zM166.4 256.4h1.0v1.0h-1.0zM163.5 283.1h1.0v1.0h-1.0zM197.8 280.6h1.0v1.0h-1.0zM174.4 253.5h1.0v1.0h-1.0zM237.9 250.2h1.0v1.0h-1.0zM155.5 274.4h1.0v1.0h-1.0zM203.9 272.0h1.0v1.0h-1.0zM185.0 294.1h1.0v1.0h-1.0zM236.0 279.3h1.0v1.0h-1.0zM164.6 270.8h1.0v1.0h-1.0zM154.8 257.9h1.0v1.0h-1.0zM161.8 251.5h1.0v1.0h-1.0zM172.4 269.6h1.0v1.0h-1.0zM186.3 281.1h1.0v1.0h-1.0zM152.8 248.7h1.0v1.0h-1.0zM180.8 280.1h1.0v1.0h-1.0zM162.4 262.9h1.0v1.0h-1.0zM175.4 271.4h1.0v1.0h-1.0zM157.8 265.7h1.0v1.0h-1.0zM173.7 270.3h1.0v1.0h-1.0zM161.1 279.5h1.0v1.0h-1.0zM155.6 259.0h1.0v1.0h-1.0zM175.6 282.4h1.0v1.0h-1.0zM204.6 280.3h1.0v1.0h-1.0zM161.8 280.7h1.0v1.0h-1.0zM171.2 244.2h1.0v1.0h-1.0zM198.2 245.6h1.0v1.0h-1.0zM231.3 278.0h1.0v1.0h-1.0zM188.0 261.8h1.0v1.0h-1.0zM194.0 260.5h1.0v1.0h-1.0zM195.7 259.5h1.0v1.0h-1.0zM168.3 252.2h1.0v1.0h-1.0zM154.8 265.6h1.0v1.0h-1.0zM214.7 260.0h1.0v1.0h-1.0zM200.3 260.9h1.0v1.0h-1.0zM182.0 275.3h1.0v1.0h-1.0zM184.1 254.2h1.0v1.0h-1.0zM155.1 283.5h1.0v1.0h-1.0zM157.8 301.1h1.0v1.0h-1.0zM156.4 251.9h1.0v1.0h-1.0zM157.2 276.6h1.0v1.0h-1.0zM193.1 280.8h1.0v1.0h-1.0zM199.1 269.2h1.0v1.0h-1.0zM202.0 278.7h1.0v1.0h-1.0zM225.2 267.8h1.0v1.0h-1.0zM179.6 246.8h1.0v1.0h-1.0zM181.2 273.6h1.0v1.0h-1.0zM152.7 283.8h1.0v1.0h-1.0zM154.7 262.2h1.0v1.0h-1.0zM161.7 261.6h1.0v1.0h-1.0zM217.2 273.3h1.0v1.0h-1.0zM213.8 273.1h1.0v1.0h-1.0zM178.9 283.3h1.0v1.0h-1.0zM153.4 276.3h1.0v1.0h-1.0zM185.3 275.7h1.0v1.0h-1.0zM190.9 243.7h1.0v1.0h-1.0zM158.4 297.6h1.0v1.0h-1.0zM173.9 269.8h1.0v1.0h-1.0zM165.3 280.2h1.0v1.0h-1.0zM187.7 264.8h1.0v1.0h-1.0zM244.6 267.3h1.0v1.0h-1.0zM183.4 270.0h1.0v1.0h-1.0zM157.6 289.3h1.0v1.0h-1.0zM158.6 288.5h1.0v1.0h-1.0zM162.7 277.1h1.0v1.0h-1.0zM218.9 294.5h1.0v1.0h-1.0zM154.7 264.2h1.0v1.0h-1.0zM222.9 275.8h1.0v1.0h-1.0zM230.1 263.4h1.0v1.0h-1.0zM179.3 285.8h1.0v1.0h-1.0zM186.2 269.7h1.0v1.0h-1.0zM163.1 281.7h1.0v1.0h-1.0zM201.5 291.2h1.0v1.0h-1.0zM205.0 297.0h1.0v1.0h-1.0zM159.3 273.4h1.0v1.0h-1.0zM172.8 265.2h1.0v1.0h-1.0zM155.3 265.4h1.0v1.0h-1.0zM207.0 270.4h1.0v1.0h-1.0zM215.7 267.1h1.0v1.0h-1.0zM156.4 292.6h1.0v1.0h-1.0zM166.9 265.1h1.0v1.0h-1.0zM183.9 283.0h1.0v1.0h-1.0zM154.5 284.2h1.0v1.0h-1.0zM180.2 295.7h1.0v1.0h-1.0zM163.0 266.2h1.0v1.0h-1.0zM156.7 279.1h1.0v1.0h-1.0zM175.1 249.9h1.0v1.0h-1.0zM162.5 255.2h1.0v1.0h-1.0zM205.2 265.9h1.0v1.0h-1.0zM172.6 269.1h1.0v1.0h-1.0zM159.9 253.8h1.0v1.0h-1.0zM164.7 264.1h1.0v1.0h-1.0zM181.0 278.3h1.0v1.0h-1.0zM203.4 263.5h1.0v1.0h-1.0zM202.4 267.4h1.0v1.0h-1.0zM166.8 258.0h1.0v1.0h-1.0zM156.4 287.1h1.0v1.0h-1.0zM162.9 292.2h1.0v1.0h-1.0zM159.6 272.0h1.0v1.0h-1.0zM189.3 267.9h1.0v1.0h-1.0zM157.4 290.7h1.0v1.0h-1.0zM179.1 275.5h1.0v1.0h-1.0zM159.0 260.8h1.0v1.0h-1.0zM165.4 252.1h1.0v1.0h-1.0zM160.0 261.9h1.0v1.0h-1.0zM154.9 297.5h1.0v1.0h-1.0zM186.1 261.8h1.0v1.0h-1.0zM163.4 306.4h1.0v1.0h-1.0zM193.7 269.4h1.0v1.0h-1.0zM168.2 266.7h1.0v1.0h-1.0zM155.0 286.4h1.0v1.0h-1.0zM177.7 266.3h1.0v1.0h-1.0zM157.5 274.3h1.0v1.0h-1.0zM176.1 256.1h1.0v1.0h-1.0zM192.8 253.5h1.0v1.0h-1.0zM168.0 260.0h1.0v1.0h-1.0zM158.8 272.3h1.0v1.0h-1.0zM155.6 260.9h1.0v1.0h-1.0zM162.9 244.3h1.0v1.0h-1.0zM179.7 275.5h1.0v1.0h-1.0zM212.4 267.3h1.0v1.0h-1.0zM213.1 265.9h1.0v1.0h-1.0zM176.4 261.6h1.0v1.0h-1.0zM171.5 289.8h1.0v1.0h-1.0zM167.3 263.3h1.0v1.0h-1.0zM181.4 276.2h1.0v1.0h-1.0zM193.5 287.3h1.0v1.0h-1.0zM171.9 283.9h1.0v1.0h-1.0zM154.4 272.1h1.0v1.0h-1.0zM158.8 269.6h1.0v1.0h-1.0zM157.1 273.4h1.0v1.0h-1.0zM156.3 281.1h1.0v1.0h-1.0zM238.0 276.9h1.0v1.0h-1.0zM174.1 263.7h1.0v1.0h-1.0zM221.6 275.2h1.0v1.0h-1.0zM159.4 274.3h1.0v1.0h-1.0zM157.2 278.4h1.0v1.0h-1.0zM178.0 272.1h1.0v1.0h-1.0zM152.3 287.1h1.0v1.0h-1.0zM153.7 272.1h1.0v1.0h-1.0zM153.4 280.9h1.0v1.0h-1.0zM154.9 270.0h1.0v1.0h-1.0zM201.6 262.1h1.0v1.0h-1.0zM205.2 257.3h1.0v1.0h-1.0zM170.7 267.4h1.0v1.0h-1.0zM151.7 276.4h1.0v1.0h-1.0zM161.0 285.7h1.0v1.0h-1.0zM164.0 268.3h1.0v1.0h-1.0zM184.4 262.8h1.0v1.0h-1.0zM190.5 263.0h1.0v1.0h-1.0zM163.1 286.0h1.0v1.0h-1.0zM175.6 270.8h1.0v1.0h-1.0zM177.9 263.1h1.0v1.0h-1.0zM161.3 279.0h1.0v1.0h-1.0zM153.6 252.5h1.0v1.0h-1.0zM174.8 271.0h1.0v1.0h-1.0zM166.5 268.9h1.0v1.0h-1.0zM189.6 267.8h1.0v1.0h-1.0zM156.5 254.7h1.0v1.0h-1.0zM161.1 282.1h1.0v1.0h-1.0zM151.9 252.5h1.0v1.0h-1.0zM165.1 271.0h1.0v1.0h-1.0zM201.9 277.8h1.0v1.0h-1.0zM154.9 298.4h1.0v1.0h-1.0zM152.0 264.2h1.0v1.0h-1.0zM156.1 257.3h1.0v1.0h-1.0zM157.8 269.4h1.0v1.0h-1.0zM214.6 295.3h1.0v1.0h-1.0zM162.9 270.4h1.0v1.0h-1.0zM204.0 272.9h1.0v1.0h-1.0zM160.8 292.2h1.0v1.0h-1.0zM152.0 281.1h1.0v1.0h-1.0zM155.7 279.4h1.0v1.0h-1.0zM214.0 251.7h1.0v1.0h-1.0zM198.1 276.1h1.0v1.0h-1.0zM166.5 270.0h1.0v1.0h-1.0zM164.2 272.3h1.0v1.0h-1.0zM168.5 259.2h1.0v1.0h-1.0zM193.8 263.7h1.0v1.0h-1.0zM165.1 258.3h1.0v1.0h-1.0zM223.4 270.2h1.0v1.0h-1.0zM175.7 266.5h1.0v1.0h-1.0zM193.6 291.1h1.0v1.0h-1.0zM175.7 277.5h1.0v1.0h-1.0zM172.4 249.3h1.0v1.0h-1.0zM157.5 274.8h1.0v1.0h-1.0zM200.6 287.9h1.0v1.0h-1.0zM170.6 273.1h1.0v1.0h-1.0zM160.8 283.4h1.0v1.0h-1.0zM153.0 269.1h1.0v1.0h-1.0zM196.8 278.5h1.0v1.0h-1.0zM244.2 257.5h1.0v1.0h-1.0zM205.6 279.6h1.0v1.0h-1.0zM204.2 251.8h1.0v1.0h-1.0zM230.3 286.1h1.0v1.0h-1.0zM154.1 250.1h1.0v1.0h-1.0zM185.2 276.3h1.0v1.0h-1.0zM204.9 267.3h1.0v1.0h-1.0zM177.1 271.0h1.0v1.0h-1.0zM153.8 275.0h1.0v1.0h-1.0zM152.3 269.1h1.0v1.0h-1.0zM169.0 258.2h1.0v1.0h-1.0zM156.6 272.2h1.0v1.0h-1.0zM167.5 274.0h1.0v1.0h-1.0zM163.8 275.8h1.0v1.0h-1.0zM182.5 260.1h1.0v1.0h-1.0zM157.3 276.7h1.0v1.0h-1.0zM153.7 263.8h1.0v1.0h-1.0zM153.3 254.1h1.0v1.0h-1.0zM182.7 262.2h1.0v1.0h-1.0zM166.3 283.1h1.0v1.0h-1.0zM214.3 266.0h1.0v1.0h-1.0zM158.2 277.3h1.0v1.0h-1.0zM200.0 260.1h1.0v1.0h-1.0zM167.1 275.2h1.0v1.0h-1.0zM218.2 260.8h1.0v1.0h-1.0zM179.2 258.7h1.0v1.0h-1.0zM156.9 270.2h1.0v1.0h-1.0zM156.8 288.4h1.0v1.0h-1.0zM156.8 248.7h1.0v1.0h-1.0zM176.2 276.0h1.0v1.0h-1.0zM191.5 290.2h1.0v1.0h-1.0zM175.6 287.0h1.0v1.0h-1.0zM212.4 264.6h1.0v1.0h-1.0zM156.9 260.8h1.0v1.0h-1.0zM189.1 263.2h1.0v1.0h-1.0zM164.6 273.4h1.0v1.0h-1.0zM154.1 271.9h1.0v1.0h-1.0zM211.0 274.0h1.0v1.0h-1.0zM158.2 277.2h1.0v1.0h-1.0zM158.9 255.8h1.0v1.0h-1.0zM160.2 255.0h1.0v1.0h-1.0zM155.1 253.8h1.0v1.0h-1.0zM168.7 252.3h1.0v1.0h-1.0zM161.1 268.2h1.0v1.0h-1.0zM161.3 273.5h1.0v1.0h-1.0zM158.6 302.0h1.0v1.0h-1.0zM198.3 276.3h1.0v1.0h-1.0zM156.4 269.7h1.0v1.0h-1.0zM180.4 287.7h1.0v1.0h-1.0zM158.3 260.1h1.0v1.0h-1.0zM173.5 273.9h1.0v1.0h-1.0zM169.6 282.0h1.0v1.0h-1.0zM206.5 279.6h1.0v1.0h-1.0zM202.6 274.7h1.0v1.0h-1.0zM168.1 265.0h1.0v1.0h-1.0zM170.5 253.6h1.0v1.0h-1.0zM158.8 267.5h1.0v1.0h-1.0zM172.3 261.9h1.0v1.0h-1.0zM165.7 278.3h1.0v1.0h-1.0zM154.3 267.8h1.0v1.0h-1.0zM171.4 276.7h1.0v1.0h-1.0zM233.1 248.9h1.0v1.0h-1.0zM176.3 282.0h1.0v1.0h-1.0zM166.2 258.6h1.0v1.0h-1.0zM191.6 249.5h1.0v1.0h-1.0zM189.3 251.9h1.0v1.0h-1.0zM188.7 261.4h1.0v1.0h-1.0zM185.1 283.9h1.0v1.0h-1.0zM164.8 278.6h1.0v1.0h-1.0zM187.5 254.5h1.0v1.0h-1.0zM229.6 270.6h1.0v1.0h-1.0zM204.5 268.2h1.0v1.0h-1.0zM174.5 249.4h1.0v1.0h-1.0zM159.1 256.8h1.0v1.0h-1.0zM182.5 243.4h1.0v1.0h-1.0zM163.3 258.4h1.0v1.0h-1.0zM179.5 259.3h1.0v1.0h-1.0zM164.4 257.5h1.0v1.0h-1.0zM202.5 259.3h1.0v1.0h-1.0zM175.0 259.0h1.0v1.0h-1.0zM161.4 284.3h1.0v1.0h-1.0zM159.9 265.0h1.0v1.0h-1.0zM194.2 272.6h1.0v1.0h-1.0zM155.4 279.2h1.0v1.0h-1.0zM175.3 281.0h1.0v1.0h-1.0zM233.8 278.2h1.0v1.0h-1.0zM200.0 262.4h1.0v1.0h-1.0zM177.5 255.4h1.0v1.0h-1.0zM166.3 259.5h1.0v1.0h-1.0zM153.1 263.4h1.0v1.0h-1.0zM166.1 269.6h1.0v1.0h-1.0zM167.2 268.4h1.0v1.0h-1.0zM188.9 283.5h1.0v1.0h-1.0zM162.5 268.2h1.0v1.0h-1.0zM181.6 292.4h1.0v1.0h-1.0zM160.2 282.7h1.0v1.0h-1.0zM155.9 263.3h1.0v1.0h-1.0zM182.1 280.5h1.0v1.0h-1.0zM195.8 287.1h1.0v1.0h-1.0zM167.6 274.8h1.0v1.0h-1.0zM166.5 274.6h1.0v1.0h-1.0zM154.7 248.0h1.0v1.0h-1.0zM187.6 301.7h1.0v1.0h-1.0zM152.6 266.2h1.0v1.0h-1.0zM159.5 267.7h1.0v1.0h-1.0zM213.8 283.9h1.0v1.0h-1.0zM163.5 267.0h1.0v1.0h-1.0zM156.2 258.6h1.0v1.0h-1.0zM169.3 277.9h1.0v1.0h-1.0zM193.2 256.5h1.0v1.0h-1.0zM165.1 279.0h1.0v1.0h-1.0zM160.3 271.3h1.0v1.0h-1.0zM154.4 283.9h1.0v1.0h-1.0zM158.5 254.0h1.0v1.0h-1.0zM165.7 285.4h1.0v1.0h-1.0zM160.7 273.3h1.0v1.0h-1.0zM160.3 294.7h1.0v1.0h-1.0zM190.4 261.2h1.0v1.0h-1.0zM214.4 293.2h1.0v1.0h-1.0zM175.7 279.6h1.0v1.0h-1.0zM166.1 260.2h1.0v1.0h-1.0zM174.8 276.6h1.0v1.0h-1.0zM191.2 278.1h1.0v1.0h-1.0zM159.0 258.9h1.0v1.0h-1.0zM156.4 254.7h1.0v1.0h-1.0zM174.9 259.6h1.0v1.0h-1.0zM168.9 288.2h1.0v1.0h-1.0zM157.4 271.5h1.0v1.0h-1.0zM198.4 281.5h1.0v1.0h-1.0zM202.2 273.2h1.0v1.0h-1.0zM178.3 271.0h1.0v1.0h-1.0zM171.3 272.3h1.0v1.0h-1.0zM162.6 264.2h1.0v1.0h-1.0zM177.2 285.1h1.0v1.0h-1.0zM156.5 271.7h1.0v1.0h-1.0zM178.5 272.4h1.0v1.0h-1.0zM166.0 251.8h1.0v1.0h-1.0zM177.9 273.4h1.0v1.0h-1.0zM194.5 260.9h1.0v1.0h-1.0zM155.6 263.1h1.0v1.0h-1.0zM160.5 282.7h1.0v1.0h-1.0zM175.3 255.5h1.0v1.0h-1.0zM186.5 266.9h1.0v1.0h-1.0zM167.1 277.5h1.0v1.0h-1.0zM156.9 284.2h1.0v1.0h-1.0zM191.1 262.9h1.0v1.0h-1.0zM186.9 273.6h1.0v1.0h-1.0zM176.1 273.1h1.0v1.0h-1.0zM161.2 255.1h1.0v1.0h-1.0zM160.8 244.9h1.0v1.0h-1.0zM154.9 277.2h1.0v1.0h-1.0zM174.6 270.8h1.0v1.0h-1.0zM153.1 252.4h1.0v1.0h-1.0zM228.9 261.3h1.0v1.0h-1.0zM180.7 264.4h1.0v1.0h-1.0zM156.1 264.9h1.0v1.0h-1.0zM192.6 269.1h1.0v1.0h-1.0zM187.3 259.5h1.0v1.0h-1.0zM173.7 271.3h1.0v1.0h-1.0zM184.5 259.7h1.0v1.0h-1.0zM175.9 261.5h1.0v1.0h-1.0zM159.3 258.2h1.0v1.0h-1.0zM162.1 266.5h1.0v1.0h-1.0zM188.4 262.4h1.0v1.0h-1.0zM176.5 274.0h1.0v1.0h-1.0zM178.7 272.2h1.0v1.0h-1.0zM206.8 258.1h1.0v1.0h-1.0zM160.0 294.0h1.0v1.0h-1.0zM171.5 254.6h1.0v1.0h-1.0zM206.0 274.0h1.0v1.0h-1.0zM173.9 297.2h1.0v1.0h-1.0zM227.8 260.4h1.0v1.0h-1.0zM163.9 286.4h1.0v1.0h-1.0zM153.7 287.6h1.0v1.0h-1.0zM169.2 273.8h1.0v1.0h-1.0zM202.1 245.9h1.0v1.0h-1.0zM204.8 287.6h1.0v1.0h-1.0zM213.1 270.7h1.0v1.0h-1.0zM175.0 262.5h1.0v1.0h-1.0zM162.1 285.8h1.0v1.0h-1.0zM154.0 260.2h1.0v1.0h-1.0zM245.2 283.1h1.0v1.0h-1.0zM168.1 262.5h1.0v1.0h-1.0zM157.2 276.3h1.0v1.0h-1.0zM164.1 255.7h1.0v1.0h-1.0zM165.3 264.4h1.0v1.0h-1.0zM154.5 257.8h1.0v1.0h-1.0zM159.3 271.9h1.0v1.0h-1.0zM240.3 267.3h1.0v1.0h-1.0zM169.3 271.9h1.0v1.0h-1.0zM152.1 285.9h1.0v1.0h-1.0zM156.9 268.0h1.0v1.0h-1.0zM224.0 245.7h1.0v1.0h-1.0zM169.2 265.8h1.0v1.0h-1.0zM168.6 270.5h1.0v1.0h-1.0zM182.1 282.5h1.0v1.0h-1.0zM165.7 282.7h1.0v1.0h-1.0zM185.0 281.6h1.0v1.0h-1.0zM171.0 266.6h1.0v1.0h-1.0zM165.3 277.7h1.0v1.0h-1.0zM197.5 251.1h1.0v1.0h-1.0zM190.8 286.0h1.0v1.0h-1.0zM184.3 275.1h1.0v1.0h-1.0zM186.7 276.0h1.0v1.0h-1.0zM186.7 264.6h1.0v1.0h-1.0zM162.9 270.2h1.0v1.0h-1.0zM157.7 261.0h1.0v1.0h-1.0zM186.5 276.7h1.0v1.0h-1.0zM158.3 252.5h1.0v1.0h-1.0zM157.6 281.9h1.0v1.0h-1.0zM196.1 276.4h1.0v1.0h-1.0zM176.9 295.3h1.0v1.0h-1.0zM182.8 269.0h1.0v1.0h-1.0zM159.3 268.3h1.0v1.0h-1.0zM185.5 272.0h1.0v1.0h-1.0zM217.3 270.0h1.0v1.0h-1.0zM155.6 268.1h1.0v1.0h-1.0zM183.2 255.4h1.0v1.0h-1.0zM166.6 255.4h1.0v1.0h-1.0zM154.3 262.3h1.0v1.0h-1.0zM198.5 265.8h1.0v1.0h-1.0zM170.0 254.3h1.0v1.0h-1.0zM197.5 254.7h1.0v1.0h-1.0zM152.9 265.9h1.0v1.0h-1.0zM174.1 279.0h1.0v1.0h-1.0zM195.9 267.1h1.0v1.0h-1.0zM188.4 278.2h1.0v1.0h-1.0zM161.2 281.9h1.0v1.0h-1.0zM175.2 264.1h1.0v1.0h-1.0zM166.5 264.3h1.0v1.0h-1.0zM151.7 245.7h1.0v1.0h-1.0zM195.3 260.8h1.0v1.0h-1.0zM160.7 275.5h1.0v1.0h-1.0zM195.4 286.8h1.0v1.0h-1.0zM154.8 287.8h1.0v1.0h-1.0zM175.4 264.8h1.0v1.0h-1.0zM161.7 281.3h1.0v1.0h-1.0zM155.4 251.4h1.0v1.0h-1.0zM238.6 256.1h1.0v1.0h-1.0zM181.7 264.7h1.0v1.0h-1.0zM152.8 269.6h1.0v1.0h-1.0zM174.1 267.1h1.0v1.0h-1.0zM167.6 258.5h1.0v1.0h-1.0zM157.8 294.6h1.0v1.0h-1.0zM161.9 273.2h1.0v1.0h-1.0zM154.0 273.2h1.0v1.0h-1.0zM162.6 278.2h1.0v1.0h-1.0zM175.4 271.7h1.0v1.0h-1.0zM175.7 266.5h1.0v1.0h-1.0zM189.6 262.4h1.0v1.0h-1.0zM161.1 248.6h1.0v1.0h-1.0zM230.5 288.6h1.0v1.0h-1.0zM152.2 257.7h1.0v1.0h-1.0zM212.0 248.3h1.0v1.0h-1.0zM188.2 259.2h1.0v1.0h-1.0zM197.2 249.1h1.0v1.0h-1.0zM192.5 294.9h1.0v1.0h-1.0zM187.4 274.2h1.0v1.0h-1.0zM181.9 287.5h1.0v1.0h-1.0zM162.9 288.1h1.0v1.0h-1.0zM203.6 276.8h1.0v1.0h-1.0zM152.4 276.8h1.0v1.0h-1.0zM154.5 260.3h1.0v1.0h-1.0zM151.6 268.4h1.0v1.0h-1.0zM162.6 261.8h1.0v1.0h-1.0zM195.8 270.0h1.0v1.0h-1.0zM217.0 260.6h1.0v1.0h-1.0zM176.4 285.7h1.0v1.0h-1.0zM168.9 279.3h1.0v1.0h-1.0zM158.3 268.1h1.0v1.0h-1.0zM153.5 248.2h1.0v1.0h-1.0zM159.7 278.2h1.0v1.0h-1.0zM155.3 280.8h1.0v1.0h-1.0zM192.5 268.6h1.0v1.0h-1.0zM182.7 253.4h1.0v1.0h-1.0zM161.0 275.0h1.0v1.0h-1.0zM164.5 282.9h1.0v1.0h-1.0zM161.6 245.0h1.0v1.0h-1.0zM165.4 276.7h1.0v1.0h-1.0zM152.5 246.3h1.0v1.0h-1.0zM173.1 270.5h1.0v1.0h-1.0zM175.8 291.8h1.0v1.0h-1.0zM153.7 270.7h1.0v1.0h-1.0zM180.6 275.6h1.0v1.0h-1.0zM171.5 265.4h1.0v1.0h-1.0zM161.1 269.4h1.0v1.0h-1.0zM217.7 299.5h1.0v1.0h-1.0zM152.6 286.5h1.0v1.0h-1.0zM171.6 265.5h1.0v1.0h-1.0zM193.8 264.6h1.0v1.0h-1.0zM219.7 269.7h1.0v1.0h-1.0zM178.1 297.5h1.0v1.0h-1.0zM165.2 272.2h1.0v1.0h-1.0zM157.2 283.7h1.0v1.0h-1.0zM154.7 264.9h1.0v1.0h-1.0zM194.5 253.3h1.0v1.0h-1.0zM167.0 286.4h1.0v1.0h-1.0zM180.5 268.5h1.0v1.0h-1.0zM184.0 259.5h1.0v1.0h-1.0zM153.3 260.7h1.0v1.0h-1.0zM192.6 260.9h1.0v1.0h-1.0zM154.8 261.8h1.0v1.0h-1.0zM174.5 249.9h1.0v1.0h-1.0zM209.6 284.8h1.0v1.0h-1.0zM158.5 274.4h1.0v1.0h-1.0zM158.9 281.9h1.0v1.0h-1.0zM184.6 265.1h1.0v1.0h-1.0zM162.5 273.9h1.0v1.0h-1.0zM157.6 271.6h1.0v1.0h-1.0zM155.6 284.5h1.0v1.0h-1.0zM191.8 279.9h1.0v1.0h-1.0zM177.3 274.1h1.0v1.0h-1.0zM199.7 261.2h1.0v1.0h-1.0zM182.5 254.2h1.0v1.0h-1.0zM169.3 259.3h1.0v1.0h-1.0zM168.0 261.4h1.0v1.0h-1.0zM168.9 262.6h1.0v1.0h-1.0zM158.9 253.8h1.0v1.0h-1.0zM152.7 290.6h1.0v1.0h-1.0zM157.3 272.9h1.0v1.0h-1.0zM155.7 243.9h1.0v1.0h-1.0zM240.0 255.6h1.0v1.0h-1.0zM197.7 252.5h1.0v1.0h-1.0zM188.4 272.5h1.0v1.0h-1.0zM155.6 283.1h1.0v1.0h-1.0zM171.9 257.0h1.0v1.0h-1.0zM151.5 277.4h1.0v1.0h-1.0zM159.4 266.0h1.0v1.0h-1.0zM188.9 284.1h1.0v1.0h-1.0zM165.6 286.9h1.0v1.0h-1.0zM154.4 273.5h1.0v1.0h-1.0zM191.6 278.6h1.0v1.0h-1.0zM157.5 269.5h1.0v1.0h-1.0zM152.3 264.8h1.0v1.0h-1.0zM185.5 254.7h1.0v1.0h-1.0zM167.6 273.7h1.0v1.0h-1.0zM162.5 268.6h1.0v1.0h-1.0zM168.2 264.6h1.0v1.0h-1.0zM169.6 268.5h1.0v1.0h-1.0zM158.6 267.1h1.0v1.0h-1.0zM158.2 256.3h1.0v1.0h-1.0zM174.6 262.8h1.0v1.0h-1.0zM161.6 284.0h1.0v1.0h-1.0zM151.6 266.5h1.0v1.0h-1.0zM224.9 287.2h1.0v1.0h-1.0zM191.8 254.9h1.0v1.0h-1.0zM191.3 252.3h1.0v1.0h-1.0zM166.3 271.1h1.0v1.0h-1.0zM177.1 279.3h1.0v1.0h-1.0zM156.3 261.2h1.0v1.0h-1.0zM159.1 277.4h1.0v1.0h-1.0zM153.8 281.3h1.0v1.0h-1.0zM154.3 268.1h1.0v1.0h-1.0zM181.8 268.8h1.0v1.0h-1.0zM164.9 248.6h1.0v1.0h-1.0zM168.1 269.8h1.0v1.0h-1.0zM188.0 273.1h1.0v1.0h-1.0zM155.2 287.4h1.0v1.0h-1.0zM185.2 253.4h1.0v1.0h-1.0zM162.8 258.8h1.0v1.0h-1.0zM160.3 256.8h1.0v1.0h-1.0zM193.9 280.9h1.0v1.0h-1.0zM183.5 255.8h1.0v1.0h-1.0zM154.3 295.6h1.0v1.0h-1.0zM190.3 277.8h1.0v1.0h-1.0zM163.6 252.7h1.0v1.0h-1.0zM182.6 268.7h1.0v1.0h-1.0zM189.4 280.2h1.0v1.0h-1.0zM174.5 276.5h1.0v1.0h-1.0zM169.4 266.7h1.0v1.0h-1.0zM183.7 259.5h1.0v1.0h-1.0zM178.2 280.0h1.0v1.0h-1.0zM187.9 269.4h1.0v1.0h-1.0zM174.1 279.7h1.0v1.0h-1.0zM179.2 274.5h1.0v1.0h-1.0zM158.6 263.6h1.0v1.0h-1.0zM175.1 287.7h1.0v1.0h-1.0zM161.8 263.2h1.0v1.0h-1.0zM153.2 274.9h1.0v1.0h-1.0zM187.5 261.5h1.0v1.0h-1.0zM166.9 266.6h1.0v1.0h-1.0zM174.6 266.3h1.0v1.0h-1.0zM162.3 261.1h1.0v1.0h-1.0zM165.7 272.5h1.0v1.0h-1.0zM153.5 286.0h1.0v1.0h-1.0zM184.8 293.0h1.0v1.0h-1.0zM154.6 287.6h1.0v1.0h-1.0zM183.1 267.3h1.0v1.0h-1.0zM153.7 287.9h1.0v1.0h-1.0zM167.8 274.8h1.0v1.0h-1.0zM201.3 292.2h1.0v1.0h-1.0zM211.7 253.6h1.0v1.0h-1.0zM176.0 288.2h1.0v1.0h-1.0zM154.3 261.9h1.0v1.0h-1.0zM159.4 284.1h1.0v1.0h-1.0zM154.8 263.6h1.0v1.0h-1.0zM224.5 266.0h1.0v1.0h-1.0zM189.2 245.8h1.0v1.0h-1.0zM176.5 257.3h1.0v1.0h-1.0zM185.9 266.5h1.0v1.0h-1.0zM168.4 269.8h1.0v1.0h-1.0zM189.4 254.4h1.0v1.0h-1.0zM155.6 260.3h1.0v1.0h-1.0zM163.6 272.3h1.0v1.0h-1.0zM163.7 259.2h1.0v1.0h-1.0zM174.2 250.4h1.0v1.0h-1.0zM168.7 273.3h1.0v1.0h-1.0zM169.7 265.3h1.0v1.0h-1.0zM171.9 280.7h1.0v1.0h-1.0zM154.7 262.9h1.0v1.0h-1.0zM197.6 277.6h1.0v1.0h-1.0zM168.0 258.3h1.0v1.0h-1.0zM155.5 272.9h1.0v1.0h-1.0zM157.7 270.6h1.0v1.0h-1.0zM157.3 275.2h1.0v1.0h-1.0zM152.8 257.7h1.0v1.0h-1.0zM162.2 268.0h1.0v1.0h-1.0zM169.3 258.8h1.0v1.0h-1.0zM183.2 267.5h1.0v1.0h-1.0zM188.4 277.3h1.0v1.0h-1.0zM161.7 269.9h1.0v1.0h-1.0zM175.4 278.5h1.0v1.0h-1.0zM163.7 270.9h1.0v1.0h-1.0zM156.6 283.8h1.0v1.0h-1.0zM168.1 275.3h1.0v1.0h-1.0zM154.8 282.7h1.0v1.0h-1.0zM151.7 274.0h1.0v1.0h-1.0zM162.8 299.7h1.0v1.0h-1.0zM154.6 248.1h1.0v1.0h-1.0zM169.8 273.3h1.0v1.0h-1.0zM192.8 270.5h1.0v1.0h-1.0zM189.2 258.7h1.0v1.0h-1.0zM159.0 263.7h1.0v1.0h-1.0zM160.0 260.3h1.0v1.0h-1.0zM174.1 271.2h1.0v1.0h-1.0zM155.7 247.0h1.0v1.0h-1.0zM179.3 278.9h1.0v1.0h-1.0zM157.4 279.3h1.0v1.0h-1.0zM232.9 274.0h1.0v1.0h-1.0zM189.4 265.4h1.0v1.0h-1.0zM216.3 269.6h1.0v1.0h-1.0zM152.5 263.7h1.0v1.0h-1.0zM175.1 283.9h1.0v1.0h-1.0zM167.2 275.9h1.0v1.0h-1.0zM192.7 294.6h1.0v1.0h-1.0zM211.4 264.9h1.0v1.0h-1.0zM175.9 287.8h1.0v1.0h-1.0zM169.1 262.3h1.0v1.0h-1.0zM188.5 267.4h1.0v1.0h-1.0zM189.4 256.5h1.0v1.0h-1.0zM163.8 276.1h1.0v1.0h-1.0zM176.8 268.8h1.0v1.0h-1.0zM190.2 277.4h1.0v1.0h-1.0zM168.3 288.3h1.0v1.0h-1.0zM159.6 268.9h1.0v1.0h-1.0zM175.0 274.3h1.0v1.0h-1.0zM197.4 280.9h1.0v1.0h-1.0zM163.4 268.8h1.0v1.0h-1.0zM202.4 262.7h1.0v1.0h-1.0zM154.4 274.1h1.0v1.0h-1.0zM196.5 275.9h1.0v1.0h-1.0zM173.0 279.4h1.0v1.0h-1.0zM152.2 280.0h1.0v1.0h-1.0zM172.8 261.2h1.0v1.0h-1.0zM160.8 275.2h1.0v1.0h-1.0zM163.1 285.0h1.0v1.0h-1.0zM162.9 263.8h1.0v1.0h-1.0zM211.0 274.1h1.0v1.0h-1.0zM178.9 261.8h1.0v1.0h-1.0zM162.6 271.7h1.0v1.0h-1.0zM164.9 291.4h1.0v1.0h-1.0zM176.3 271.8h1.0v1.0h-1.0zM206.3 257.5h1.0v1.0h-1.0zM153.5 273.9h1.0v1.0h-1.0zM163.0 272.3h1.0v1.0h-1.0zM199.3 283.6h1.0v1.0h-1.0zM159.5 252.4h1.0v1.0h-1.0zM152.8 258.1h1.0v1.0h-1.0zM170.4 268.6h1.0v1.0h-1.0zM197.8 250.1h1.0v1.0h-1.0zM191.0 283.8h1.0v1.0h-1.0zM189.7 244.2h1.0v1.0h-1.0zM175.3 259.2h1.0v1.0h-1.0zM177.7 251.1h1.0v1.0h-1.0zM170.6 261.4h1.0v1.0h-1.0zM189.7 279.6h1.0v1.0h-1.0zM175.5 277.1h1.0v1.0h-1.0zM237.3 281.2h1.0v1.0h-1.0zM156.5 277.2h1.0v1.0h-1.0zM154.6 244.1h1.0v1.0h-1.0zM170.8 273.4h1.0v1.0h-1.0zM156.2 246.5h1.0v1.0h-1.0zM208.0 263.3h1.0v1.0h-1.0zM185.7 264.7h1.0v1.0h-1.0zM155.2 262.8h1.0v1.0h-1.0zM173.7 275.8h1.0v1.0h-1.0zM186.6 259.5h1.0v1.0h-1.0zM151.6 291.3h1.0v1.0h-1.0zM186.3 277.1h1.0v1.0h-1.0zM181.2 284.4h1.0v1.0h-1.0zM158.9 279.1h1.0v1.0h-1.0zM153.8 280.8h1.0v1.0h-1.0zM174.5 269.1h1.0v1.0h-1.0zM184.8 294.2h1.0v1.0h-1.0zM203.1 256.4h1.0v1.0h-1.0zM160.1 275.4h1.0v1.0h-1.0zM186.6 269.7h1.0v1.0h-1.0zM162.3 266.8h1.0v1.0h-1.0zM163.8 273.6h1.0v1.0h-1.0zM203.5 260.2h1.0v1.0h-1.0zM162.7 280.5h1.0v1.0h-1.0zM160.1 279.4h1.0v1.0h-1.0zM196.4 270.8h1.0v1.0h-1.0zM175.0 278.8h1.0v1.0h-1.0zM155.1 256.6h1.0v1.0h-1.0zM176.1 246.9h1.0v1.0h-1.0zM157.8 262.3h1.0v1.0h-1.0zM199.2 266.6h1.0v1.0h-1.0zM162.7 300.8h1.0v1.0h-1.0zM152.2 266.7h1.0v1.0h-1.0zM225.2 282.5h1.0v1.0h-1.0zM218.0 280.2h1.0v1.0h-1.0zM157.8 296.0h1.0v1.0h-1.0zM160.4 271.1h1.0v1.0h-1.0zM183.8 277.8h1.0v1.0h-1.0zM228.1 267.2h1.0v1.0h-1.0zM155.1 258.8h1.0v1.0h-1.0zM155.7 257.0h1.0v1.0h-1.0zM181.0 259.8h1.0v1.0h-1.0zM154.1 287.5h1.0v1.0h-1.0zM228.2 267.7h1.0v1.0h-1.0zM154.3 269.8h1.0v1.0h-1.0zM177.6 262.5h1.0v1.0h-1.0zM174.3 269.2h1.0v1.0h-1.0zM189.3 269.1h1.0v1.0h-1.0zM196.1 281.0h1.0v1.0h-1.0zM176.8 249.1h1.0v1.0h-1.0zM214.7 272.5h1.0v1.0h-1.0zM154.9 286.8h1.0v1.0h-1.0zM159.6 256.8h1.0v1.0h-1.0zM195.4 266.5h1.0v1.0h-1.0zM159.4 271.7h1.0v1.0h-1.0zM152.7 283.4h1.0v1.0h-1.0zM154.6 277.1h1.0v1.0h-1.0zM168.9 266.9h1.0v1.0h-1.0zM152.8 275.9h1.0v1.0h-1.0zM221.7 282.6h1.0v1.0h-1.0zM199.1 274.5h1.0v1.0h-1.0zM163.8 292.9h1.0v1.0h-1.0zM157.6 274.9h1.0v1.0h-1.0zM192.5 256.5h1.0v1.0h-1.0zM155.7 259.8h1.0v1.0h-1.0zM215.7 267.9h1.0v1.0h-1.0zM175.4 267.0h1.0v1.0h-1.0zM205.7 277.4h1.0v1.0h-1.0zM166.3 274.1h1.0v1.0h-1.0zM154.0 291.1h1.0v1.0h-1.0zM189.4 279.8h1.0v1.0h-1.0zM169.7 288.2h1.0v1.0h-1.0zM161.5 260.1h1.0v1.0h-1.0zM152.8 264.3h1.0v1.0h-1.0zM151.9 278.2h1.0v1.0h-1.0zM165.9 270.8h1.0v1.0h-1.0zM177.2 277.5h1.0v1.0h-1.0zM170.5 272.8h1.0v1.0h-1.0zM167.7 261.9h1.0v1.0h-1.0zM182.8 291.0h1.0v1.0h-1.0zM161.3 284.0h1.0v1.0h-1.0zM163.4 250.2h1.0v1.0h-1.0zM157.1 262.0h1.0v1.0h-1.0zM215.9 270.0h1.0v1.0h-1.0zM162.5 278.2h1.0v1.0h-1.0zM240.0 268.8h1.0v1.0h-1.0zM172.0 252.7h1.0v1.0h-1.0zM159.8 280.1h1.0v1.0h-1.0zM235.8 267.1h1.0v1.0h-1.0zM151.8 284.7h1.0v1.0h-1.0zM184.9 273.5h1.0v1.0h-1.0zM152.5 282.2h1.0v1.0h-1.0zM193.6 280.2h1.0v1.0h-1.0zM207.3 280.8h1.0v1.0h-1.0zM152.5 263.4h1.0v1.0h-1.0zM159.3 282.6h1.0v1.0h-1.0zM159.8 272.3h1.0v1.0h-1.0zM170.1 254.1h1.0v1.0h-1.0zM201.9 264.8h1.0v1.0h-1.0zM179.0 265.5h1.0v1.0h-1.0zM162.3 275.6h1.0v1.0h-1.0zM154.7 278.3h1.0v1.0h-1.0zM155.5 255.8h1.0v1.0h-1.0zM168.3 278.8h1.0v1.0h-1.0zM156.1 268.9h1.0v1.0h-1.0zM170.5 256.6h1.0v1.0h-1.0zM190.6 280.2h1.0v1.0h-1.0zM163.7 260.3h1.0v1.0h-1.0zM157.6 254.9h1.0v1.0h-1.0zM187.4 279.2h1.0v1.0h-1.0zM175.4 281.0h1.0v1.0h-1.0zM172.6 261.5h1.0v1.0h-1.0zM155.8 283.0h1.0v1.0h-1.0zM193.7 282.3h1.0v1.0h-1.0zM162.8 263.3h1.0v1.0h-1.0zM184.3 294.7h1.0v1.0h-1.0zM187.9 269.1h1.0v1.0h-1.0zM175.2 272.6h1.0v1.0h-1.0zM162.8 277.7h1.0v1.0h-1.0zM161.6 262.1h1.0v1.0h-1.0zM174.7 275.3h1.0v1.0h-1.0zM187.1 248.5h1.0v1.0h-1.0zM165.7 284.3h1.0v1.0h-1.0zM158.5 288.0h1.0v1.0h-1.0zM154.0 293.4h1.0v1.0h-1.0zM192.7 277.2h1.0v1.0h-1.0zM161.8 274.2h1.0v1.0h-1.0zM194.0 260.7h1.0v1.0h-1.0zM190.5 268.8h1.0v1.0h-1.0zM200.6 287.6h1.0v1.0h-1.0zM210.2 259.5h1.0v1.0h-1.0zM186.3 272.5h1.0v1.0h-1.0zM163.1 269.2h1.0v1.0h-1.0zM177.6 274.5h1.0v1.0h-1.0zM212.3 265.0h1.0v1.0h-1.0zM191.0 281.1h1.0v1.0h-1.0zM197.9 282.1h1.0v1.0h-1.0zM170.4 253.0h1.0v1.0h-1.0zM163.9 283.9h1.0v1.0h-1.0zM156.3 260.6h1.0v1.0h-1.0zM162.2 266.5h1.0v1.0h-1.0zM168.3 284.0h1.0v1.0h-1.0zM185.6 271.2h1.0v1.0h-1.0zM236.5 277.2h1.0v1.0h-1.0zM174.1 279.8h1.0v1.0h-1.0zM159.2 277.5h1.0v1.0h-1.0zM165.2 263.3h1.0v1.0h-1.0zM170.3 258.2h1.0v1.0h-1.0zM159.6 278.5h1.0v1.0h-1.0zM230.8 279.5h1.0v1.0h-1.0zM155.9 274.5h1.0v1.0h-1.0zM193.0 267.7h1.0v1.0h-1.0zM157.2 280.8h1.0v1.0h-1.0zM185.1 269.7h1.0v1.0h-1.0zM189.5 253.0h1.0v1.0h-1.0zM165.7 273.6h1.0v1.0h-1.0zM186.7 276.4h1.0v1.0h-1.0zM166.3 279.8h1.0v1.0h-1.0zM205.1 259.0h1.0v1.0h-1.0zM160.2 260.8h1.0v1.0h-1.0zM157.3 274.3h1.0v1.0h-1.0zM167.4 264.6h1.0v1.0h-1.0zM160.1 269.3h1.0v1.0h-1.0zM172.2 281.9h1.0v1.0h-1.0zM154.4 275.1h1.0v1.0h-1.0zM169.5 292.9h1.0v1.0h-1.0zM155.3 273.8h1.0v1.0h-1.0zM190.1 291.5h1.0v1.0h-1.0zM156.9 283.5h1.0v1.0h-1.0zM222.7 302.0h1.0v1.0h-1.0zM186.4 270.5h1.0v1.0h-1.0zM155.8 269.2h1.0v1.0h-1.0zM152.1 286.6h1.0v1.0h-1.0zM155.1 263.9h1.0v1.0h-1.0zM153.5 264.6h1.0v1.0h-1.0zM161.4 273.4h1.0v1.0h-1.0zM218.8 275.1h1.0v1.0h-1.0zM152.8 252.9h1.0v1.0h-1.0zM155.8 273.6h1.0v1.0h-1.0zM156.1 266.6h1.0v1.0h-1.0zM165.4 270.1h1.0v1.0h-1.0zM174.8 272.7h1.0v1.0h-1.0zM155.6 268.1h1.0v1.0h-1.0zM159.4 283.8h1.0v1.0h-1.0zM174.3 276.6h1.0v1.0h-1.0zM220.3 268.2h1.0v1.0h-1.0zM208.7 271.5h1.0v1.0h-1.0zM163.2 283.5h1.0v1.0h-1.0zM235.3 280.4h1.0v1.0h-1.0zM172.4 286.4h1.0v1.0h-1.0zM163.4 268.9h1.0v1.0h-1.0zM212.4 272.3h1.0v1.0h-1.0zM113.2 264.2h1.0v1.0h-1.0zM140.1 291.0h1.0v1.0h-1.0zM124.8 248.5h1.0v1.0h-1.0zM138.6 255.2h1.0v1.0h-1.0zM138.9 260.0h1.0v1.0h-1.0zM136.2 255.2h1.0v1.0h-1.0zM105.4 265.0h1.0v1.0h-1.0zM135.1 271.9h1.0v1.0h-1.0zM127.3 255.5h1.0v1.0h-1.0zM130.0 276.8h1.0v1.0h-1.0zM138.5 288.7h1.0v1.0h-1.0zM137.1 285.9h1.0v1.0h-1.0zM132.3 297.4h1.0v1.0h-1.0zM135.0 286.5h1.0v1.0h-1.0zM139.8 271.9h1.0v1.0h-1.0zM131.9 294.6h1.0v1.0h-1.0zM140.3 281.1h1.0v1.0h-1.0zM119.4 295.8h1.0v1.0h-1.0zM129.7 269.9h1.0v1.0h-1.0zM124.6 246.0h1.0v1.0h-1.0zM136.5 257.7h1.0v1.0h-1.0zM133.0 274.6h1.0v1.0h-1.0zM131.1 279.2h1.0v1.0h-1.0zM139.1 269.7h1.0v1.0h-1.0zM134.9 284.9h1.0v1.0h-1.0zM129.1 257.9h1.0v1.0h-1.0zM131.5 284.7h1.0v1.0h-1.0zM114.5 273.0h1.0v1.0h-1.0zM137.0 273.6h1.0v1.0h-1.0zM136.1 290.0h1.0v1.0h-1.0zM133.7 286.1h1.0v1.0h-1.0zM130.2 262.4h1.0v1.0h-1.0zM131.1 274.9h1.0v1.0h-1.0zM126.1 251.1h1.0v1.0h-1.0zM108.1 272.2h1.0v1.0h-1.0zM138.5 277.3h1.0v1.0h-1.0zM138.9 250.7h1.0v1.0h-1.0zM129.8 292.0h1.0v1.0h-1.0zM132.9 297.4h1.0v1.0h-1.0zM117.9 278.6h1.0v1.0h-1.0zM124.0 284.0h1.0v1.0h-1.0zM137.5 291.2h1.0v1.0h-1.0zM132.6 270.3h1.0v1.0h-1.0zM115.5 285.5h1.0v1.0h-1.0zM135.4 277.3h1.0v1.0h-1.0zM104.6 253.3h1.0v1.0h-1.0zM127.5 261.2h1.0v1.0h-1.0zM121.8 265.4h1.0v1.0h-1.0zM135.5 285.9h1.0v1.0h-1.0zM136.9 273.7h1.0v1.0h-1.0zM136.7 284.8h1.0v1.0h-1.0zM130.6 266.6h1.0v1.0h-1.0zM139.3 256.5h1.0v1.0h-1.0zM126.9 298.3h1.0v1.0h-1.0zM133.0 306.6h1.0v1.0h-1.0zM139.6 277.3h1.0v1.0h-1.0zM138.2 270.0h1.0v1.0h-1.0zM117.3 287.4h1.0v1.0h-1.0zM137.6 258.7h1.0v1.0h-1.0zM136.1 269.9h1.0v1.0h-1.0zM137.3 254.6h1.0v1.0h-1.0zM100.6 278.6h1.0v1.0h-1.0zM113.5 275.6h1.0v1.0h-1.0zM130.4 267.5h1.0v1.0h-1.0zM125.7 264.4h1.0v1.0h-1.0zM133.0 253.5h1.0v1.0h-1.0zM98.0 262.2h1.0v1.0h-1.0zM137.0 287.9h1.0v1.0h-1.0zM139.3 268.1h1.0v1.0h-1.0zM108.3 288.3h1.0v1.0h-1.0zM127.7 261.7h1.0v1.0h-1.0zM131.5 271.5h1.0v1.0h-1.0zM137.0 266.8h1.0v1.0h-1.0zM110.5 269.3h1.0v1.0h-1.0zM137.7 282.2h1.0v1.0h-1.0zM125.9 246.8h1.0v1.0h-1.0zM120.4 281.8h1.0v1.0h-1.0zM137.9 281.2h1.0v1.0h-1.0zM106.8 272.6h1.0v1.0h-1.0zM131.8 273.5h1.0v1.0h-1.0zM130.3 269.8h1.0v1.0h-1.0zM129.9 281.2h1.0v1.0h-1.0zM123.2 273.3h1.0v1.0h-1.0zM139.2 261.9h1.0v1.0h-1.0zM105.8 274.4h1.0v1.0h-1.0zM138.5 284.5h1.0v1.0h-1.0zM100.4 277.2h1.0v1.0h-1.0zM130.1 272.9h1.0v1.0h-1.0zM135.4 275.1h1.0v1.0h-1.0zM126.7 266.3h1.0v1.0h-1.0zM133.8 266.8h1.0v1.0h-1.0zM131.1 249.0h1.0v1.0h-1.0zM134.0 270.2h1.0v1.0h-1.0zM112.0 284.8h1.0v1.0h-1.0zM135.7 267.7h1.0v1.0h-1.0zM137.7 261.2h1.0v1.0h-1.0zM118.7 283.7h1.0v1.0h-1.0zM123.7 274.6h1.0v1.0h-1.0zM128.6 274.3h1.0v1.0h-1.0zM139.1 278.4h1.0v1.0h-1.0zM139.7 281.3h1.0v1.0h-1.0zM118.0 272.0h1.0v1.0h-1.0zM112.5 262.2h1.0v1.0h-1.0zM107.6 294.2h1.0v1.0h-1.0zM132.7 273.2h1.0v1.0h-1.0zM128.5 262.9h1.0v1.0h-1.0zM139.6 274.8h1.0v1.0h-1.0zM122.7 287.4h1.0v1.0h-1.0zM136.0 254.9h1.0v1.0h-1.0zM139.2 288.9h1.0v1.0h-1.0zM130.1 270.8h1.0v1.0h-1.0zM138.3 297.4h1.0v1.0h-1.0zM130.1 280.8h1.0v1.0h-1.0zM122.9 271.2h1.0v1.0h-1.0zM137.5 288.2h1.0v1.0h-1.0zM134.5 288.4h1.0v1.0h-1.0zM136.1 268.2h1.0v1.0h-1.0zM115.1 275.4h1.0v1.0h-1.0zM139.6 266.1h1.0v1.0h-1.0zM127.9 284.0h1.0v1.0h-1.0zM118.9 255.1h1.0v1.0h-1.0zM135.5 270.4h1.0v1.0h-1.0zM131.0 246.1h1.0v1.0h-1.0zM136.8 279.9h1.0v1.0h-1.0zM129.0 244.9h1.0v1.0h-1.0zM134.9 259.4h1.0v1.0h-1.0zM134.6 275.8h1.0v1.0h-1.0zM132.6 268.2h1.0v1.0h-1.0zM121.5 267.0h1.0v1.0h-1.0zM116.3 260.6h1.0v1.0h-1.0zM121.6 266.7h1.0v1.0h-1.0zM123.4 250.8h1.0v1.0h-1.0zM127.5 276.6h1.0v1.0h-1.0zM125.4 282.5h1.0v1.0h-1.0zM137.4 282.0h1.0v1.0h-1.0zM128.1 272.1h1.0v1.0h-1.0zM139.8 287.7h1.0v1.0h-1.0zM116.5 278.3h1.0v1.0h-1.0zM135.6 284.4h1.0v1.0h-1.0zM120.1 277.4h1.0v1.0h-1.0zM123.8 273.0h1.0v1.0h-1.0zM129.7 263.1h1.0v1.0h-1.0zM131.2 280.5h1.0v1.0h-1.0zM124.9 271.1h1.0v1.0h-1.0zM137.0 297.2h1.0v1.0h-1.0zM139.1 248.0h1.0v1.0h-1.0zM122.6 283.0h1.0v1.0h-1.0zM138.6 260.8h1.0v1.0h-1.0zM138.5 272.5h1.0v1.0h-1.0zM133.9 261.6h1.0v1.0h-1.0zM134.9 276.9h1.0v1.0h-1.0zM138.5 272.2h1.0v1.0h-1.0zM130.9 283.4h1.0v1.0h-1.0zM139.4 274.4h1.0v1.0h-1.0zM140.3 278.5h1.0v1.0h-1.0zM131.4 288.4h1.0v1.0h-1.0zM133.1 279.0h1.0v1.0h-1.0zM134.3 270.9h1.0v1.0h-1.0zM140.2 287.9h1.0v1.0h-1.0zM138.3 271.2h1.0v1.0h-1.0zM119.4 277.6h1.0v1.0h-1.0zM139.0 268.6h1.0v1.0h-1.0zM126.8 264.4h1.0v1.0h-1.0zM138.8 281.2h1.0v1.0h-1.0zM135.3 258.3h1.0v1.0h-1.0zM128.9 281.7h1.0v1.0h-1.0zM122.8 294.9h1.0v1.0h-1.0zM130.4 256.3h1.0v1.0h-1.0zM119.0 283.4h1.0v1.0h-1.0zM135.3 271.4h1.0v1.0h-1.0zM131.5 278.2h1.0v1.0h-1.0zM131.9 257.8h1.0v1.0h-1.0zM125.8 273.0h1.0v1.0h-1.0zM135.6 274.5h1.0v1.0h-1.0zM133.4 290.3h1.0v1.0h-1.0zM130.5 299.1h1.0v1.0h-1.0zM115.5 276.5h1.0v1.0h-1.0zM133.0 268.1h1.0v1.0h-1.0zM131.0 300.0h1.0v1.0h-1.0zM138.1 271.3h1.0v1.0h-1.0zM108.9 271.9h1.0v1.0h-1.0zM116.4 273.9h1.0v1.0h-1.0zM139.6 278.4h1.0v1.0h-1.0zM127.6 281.4h1.0v1.0h-1.0zM112.3 265.5h1.0v1.0h-1.0zM137.9 271.3h1.0v1.0h-1.0zM118.2 295.9h1.0v1.0h-1.0zM114.8 292.5h1.0v1.0h-1.0zM131.3 278.2h1.0v1.0h-1.0zM138.5 276.0h1.0v1.0h-1.0zM132.3 269.8h1.0v1.0h-1.0zM127.4 285.3h1.0v1.0h-1.0zM131.9 266.3h1.0v1.0h-1.0zM133.6 274.2h1.0v1.0h-1.0zM103.2 267.0h1.0v1.0h-1.0zM132.5 265.0h1.0v1.0h-1.0zM135.3 273.2h1.0v1.0h-1.0zM134.8 272.7h1.0v1.0h-1.0zM133.2 265.5h1.0v1.0h-1.0zM139.4 271.9h1.0v1.0h-1.0zM129.9 273.5h1.0v1.0h-1.0zM129.2 266.9h1.0v1.0h-1.0zM130.9 264.6h1.0v1.0h-1.0zM101.2 271.0h1.0v1.0h-1.0zM120.2 281.4h1.0v1.0h-1.0zM122.8 286.4h1.0v1.0h-1.0zM121.7 275.0h1.0v1.0h-1.0zM126.3 269.4h1.0v1.0h-1.0zM132.2 272.3h1.0v1.0h-1.0zM126.0 296.3h1.0v1.0h-1.0zM139.4 284.0h1.0v1.0h-1.0zM128.2 261.0h1.0v1.0h-1.0zM119.7 272.1h1.0v1.0h-1.0zM137.3 266.2h1.0v1.0h-1.0zM129.4 268.2h1.0v1.0h-1.0zM135.3 251.9h1.0v1.0h-1.0zM118.4 273.1h1.0v1.0h-1.0zM131.4 255.9h1.0v1.0h-1.0zM138.4 265.4h1.0v1.0h-1.0zM124.5 291.5h1.0v1.0h-1.0zM114.2 285.1h1.0v1.0h-1.0zM131.1 262.0h1.0v1.0h-1.0zM136.8 259.9h1.0v1.0h-1.0zM125.3 261.5h1.0v1.0h-1.0zM124.5 249.4h1.0v1.0h-1.0zM109.3 260.6h1.0v1.0h-1.0zM140.4 269.4h1.0v1.0h-1.0zM133.8 259.8h1.0v1.0h-1.0zM118.5 282.1h1.0v1.0h-1.0zM96.2 272.1h1.0v1.0h-1.0zM123.8 266.2h1.0v1.0h-1.0zM139.9 294.4h1.0v1.0h-1.0zM126.9 281.5h1.0v1.0h-1.0zM136.6 273.6h1.0v1.0h-1.0zM137.8 295.6h1.0v1.0h-1.0zM129.6 289.0h1.0v1.0h-1.0zM128.4 264.0h1.0v1.0h-1.0zM111.9 276.7h1.0v1.0h-1.0zM140.1 267.3h1.0v1.0h-1.0zM95.2 255.0h1.0v1.0h-1.0zM123.7 296.2h1.0v1.0h-1.0zM134.7 291.3h1.0v1.0h-1.0zM128.7 257.0h1.0v1.0h-1.0zM128.5 278.8h1.0v1.0h-1.0zM136.1 252.4h1.0v1.0h-1.0zM131.3 286.0h1.0v1.0h-1.0zM112.8 272.1h1.0v1.0h-1.0zM130.2 269.1h1.0v1.0h-1.0zM135.1 288.3h1.0v1.0h-1.0zM105.9 272.9h1.0v1.0h-1.0zM138.8 269.5h1.0v1.0h-1.0zM138.8 284.1h1.0v1.0h-1.0zM120.6 269.0h1.0v1.0h-1.0zM135.9 283.6h1.0v1.0h-1.0zM133.8 272.8h1.0v1.0h-1.0zM139.2 283.0h1.0v1.0h-1.0zM139.3 280.5h1.0v1.0h-1.0zM138.4 282.6h1.0v1.0h-1.0zM135.6 260.2h1.0v1.0h-1.0zM131.5 296.1h1.0v1.0h-1.0zM139.0 270.7h1.0v1.0h-1.0zM128.8 294.6h1.0v1.0h-1.0zM129.9 265.3h1.0v1.0h-1.0zM134.1 269.3h1.0v1.0h-1.0zM118.3 269.5h1.0v1.0h-1.0zM135.0 287.1h1.0v1.0h-1.0zM136.8 267.4h1.0v1.0h-1.0zM134.2 277.9h1.0v1.0h-1.0zM130.1 253.2h1.0v1.0h-1.0zM125.3 266.8h1.0v1.0h-1.0zM133.6 275.5h1.0v1.0h-1.0zM136.5 271.4h1.0v1.0h-1.0zM114.5 249.4h1.0v1.0h-1.0zM137.3 279.0h1.0v1.0h-1.0zM109.7 260.7h1.0v1.0h-1.0zM139.9 296.9h1.0v1.0h-1.0zM137.8 270.4h1.0v1.0h-1.0zM133.9 301.0h1.0v1.0h-1.0zM125.1 281.0h1.0v1.0h-1.0zM136.1 278.5h1.0v1.0h-1.0zM139.4 266.8h1.0v1.0h-1.0zM139.3 271.3h1.0v1.0h-1.0zM117.8 278.4h1.0v1.0h-1.0zM126.5 248.4h1.0v1.0h-1.0zM112.6 285.2h1.0v1.0h-1.0zM105.6 258.1h1.0v1.0h-1.0zM132.4 269.5h1.0v1.0h-1.0zM117.5 278.4h1.0v1.0h-1.0zM132.2 282.1h1.0v1.0h-1.0zM112.5 276.3h1.0v1.0h-1.0zM119.5 276.8h1.0v1.0h-1.0zM140.1 268.1h1.0v1.0h-1.0zM100.2 274.7h1.0v1.0h-1.0zM136.2 287.9h1.0v1.0h-1.0zM128.4 267.4h1.0v1.0h-1.0zM136.9 279.0h1.0v1.0h-1.0zM132.1 281.9h1.0v1.0h-1.0zM136.5 269.8h1.0v1.0h-1.0zM129.6 275.7h1.0v1.0h-1.0zM112.5 275.5h1.0v1.0h-1.0zM132.0 266.5h1.0v1.0h-1.0zM88.4 303.3h1.0v1.0h-1.0zM138.4 267.3h1.0v1.0h-1.0zM131.4 294.2h1.0v1.0h-1.0zM130.0 286.2h1.0v1.0h-1.0zM127.5 247.2h1.0v1.0h-1.0zM130.4 275.9h1.0v1.0h-1.0zM128.9 285.7h1.0v1.0h-1.0zM121.2 283.0h1.0v1.0h-1.0zM121.2 261.4h1.0v1.0h-1.0zM122.7 276.0h1.0v1.0h-1.0zM140.1 257.7h1.0v1.0h-1.0zM130.8 259.7h1.0v1.0h-1.0zM135.4 269.7h1.0v1.0h-1.0zM139.6 275.1h1.0v1.0h-1.0zM127.1 292.9h1.0v1.0h-1.0zM125.0 277.2h1.0v1.0h-1.0zM127.7 286.1h1.0v1.0h-1.0zM131.5 257.6h1.0v1.0h-1.0zM124.5 258.2h1.0v1.0h-1.0zM135.7 266.6h1.0v1.0h-1.0zM109.4 294.8h1.0v1.0h-1.0zM138.5 255.9h1.0v1.0h-1.0zM134.5 252.8h1.0v1.0h-1.0zM126.1 271.8h1.0v1.0h-1.0zM105.1 287.7h1.0v1.0h-1.0zM140.1 252.2h1.0v1.0h-1.0zM125.0 269.5h1.0v1.0h-1.0zM128.6 255.6h1.0v1.0h-1.0zM118.9 291.0h1.0v1.0h-1.0zM137.5 281.4h1.0v1.0h-1.0zM137.0 276.2h1.0v1.0h-1.0zM122.2 272.1h1.0v1.0h-1.0zM134.6 269.7h1.0v1.0h-1.0zM123.2 274.4h1.0v1.0h-1.0zM121.3 264.5h1.0v1.0h-1.0zM133.8 261.5h1.0v1.0h-1.0zM136.8 258.7h1.0v1.0h-1.0zM140.1 272.8h1.0v1.0h-1.0zM119.3 262.6h1.0v1.0h-1.0zM97.9 283.7h1.0v1.0h-1.0zM109.1 246.1h1.0v1.0h-1.0zM138.4 279.9h1.0v1.0h-1.0zM140.5 279.4h1.0v1.0h-1.0zM137.7 288.0h1.0v1.0h-1.0zM137.9 269.5h1.0v1.0h-1.0zM138.1 253.7h1.0v1.0h-1.0zM136.2 261.0h1.0v1.0h-1.0zM140.1 287.0h1.0v1.0h-1.0zM127.6 268.8h1.0v1.0h-1.0zM117.5 267.4h1.0v1.0h-1.0zM105.2 265.3h1.0v1.0h-1.0zM133.1 271.8h1.0v1.0h-1.0zM93.6 269.8h1.0v1.0h-1.0zM139.5 253.0h1.0v1.0h-1.0zM139.0 265.1h1.0v1.0h-1.0zM126.8 285.4h1.0v1.0h-1.0zM131.0 291.0h1.0v1.0h-1.0zM120.6 271.1h1.0v1.0h-1.0zM133.4 266.1h1.0v1.0h-1.0zM136.3 289.8h1.0v1.0h-1.0zM138.4 270.4h1.0v1.0h-1.0zM136.6 257.8h1.0v1.0h-1.0zM100.9 271.0h1.0v1.0h-1.0zM118.8 281.4h1.0v1.0h-1.0zM129.8 292.4h1.0v1.0h-1.0zM121.3 266.5h1.0v1.0h-1.0zM136.2 279.5h1.0v1.0h-1.0zM136.9 268.5h1.0v1.0h-1.0zM98.4 287.1h1.0v1.0h-1.0zM122.8 275.9h1.0v1.0h-1.0zM108.2 275.9h1.0v1.0h-1.0zM138.3 260.2h1.0v1.0h-1.0zM118.7 268.6h1.0v1.0h-1.0zM118.2 268.5h1.0v1.0h-1.0zM140.1 283.5h1.0v1.0h-1.0zM94.6 272.5h1.0v1.0h-1.0zM137.2 270.0h1.0v1.0h-1.0zM139.6 268.1h1.0v1.0h-1.0zM95.6 272.9h1.0v1.0h-1.0zM138.8 275.7h1.0v1.0h-1.0zM133.3 256.1h1.0v1.0h-1.0zM139.3 274.2h1.0v1.0h-1.0zM139.9 274.1h1.0v1.0h-1.0zM126.0 273.0h1.0v1.0h-1.0zM127.4 253.8h1.0v1.0h-1.0zM114.3 270.8h1.0v1.0h-1.0zM104.3 256.4h1.0v1.0h-1.0zM132.4 277.0h1.0v1.0h-1.0zM138.8 289.3h1.0v1.0h-1.0zM93.4 283.6h1.0v1.0h-1.0zM97.4 268.3h1.0v1.0h-1.0zM125.0 265.8h1.0v1.0h-1.0zM134.7 265.4h1.0v1.0h-1.0zM119.4 277.0h1.0v1.0h-1.0zM140.5 264.2h1.0v1.0h-1.0zM137.6 265.8h1.0v1.0h-1.0zM137.7 261.9h1.0v1.0h-1.0zM138.9 262.7h1.0v1.0h-1.0zM134.6 265.8h1.0v1.0h-1.0zM110.2 288.0h1.0v1.0h-1.0zM137.3 255.4h1.0v1.0h-1.0zM103.0 255.8h1.0v1.0h-1.0zM130.2 280.2h1.0v1.0h-1.0zM132.1 260.2h1.0v1.0h-1.0zM134.5 270.5h1.0v1.0h-1.0zM119.9 274.8h1.0v1.0h-1.0zM126.4 272.8h1.0v1.0h-1.0zM131.5 262.8h1.0v1.0h-1.0zM137.4 284.2h1.0v1.0h-1.0zM130.6 291.5h1.0v1.0h-1.0zM108.5 259.9h1.0v1.0h-1.0zM106.0 269.1h1.0v1.0h-1.0zM132.9 284.5h1.0v1.0h-1.0zM137.5 270.0h1.0v1.0h-1.0zM128.6 259.9h1.0v1.0h-1.0zM125.6 267.1h1.0v1.0h-1.0zM121.4 283.1h1.0v1.0h-1.0zM133.7 260.0h1.0v1.0h-1.0zM138.8 275.8h1.0v1.0h-1.0zM133.5 277.4h1.0v1.0h-1.0zM117.6 264.3h1.0v1.0h-1.0zM101.1 279.7h1.0v1.0h-1.0zM124.7 281.0h1.0v1.0h-1.0zM123.7 285.2h1.0v1.0h-1.0zM133.6 284.4h1.0v1.0h-1.0zM130.9 253.7h1.0v1.0h-1.0zM137.5 283.9h1.0v1.0h-1.0zM122.3 279.9h1.0v1.0h-1.0zM110.2 284.9h1.0v1.0h-1.0zM138.7 261.8h1.0v1.0h-1.0zM129.7 284.0h1.0v1.0h-1.0zM135.4 277.3h1.0v1.0h-1.0zM136.0 258.0h1.0v1.0h-1.0zM132.3 288.7h1.0v1.0h-1.0zM135.0 262.7h1.0v1.0h-1.0zM130.0 259.8h1.0v1.0h-1.0zM135.5 277.6h1.0v1.0h-1.0zM105.4 265.0h1.0v1.0h-1.0zM112.8 277.1h1.0v1.0h-1.0zM139.2 269.5h1.0v1.0h-1.0zM116.4 276.2h1.0v1.0h-1.0zM136.5 282.9h1.0v1.0h-1.0zM114.8 272.2h1.0v1.0h-1.0zM130.4 283.6h1.0v1.0h-1.0zM133.4 283.3h1.0v1.0h-1.0zM136.3 262.0h1.0v1.0h-1.0zM138.6 283.4h1.0v1.0h-1.0zM114.8 280.4h1.0v1.0h-1.0zM129.4 274.3h1.0v1.0h-1.0zM133.2 286.7h1.0v1.0h-1.0zM134.4 293.5h1.0v1.0h-1.0zM117.3 282.2h1.0v1.0h-1.0zM102.7 254.1h1.0v1.0h-1.0zM130.2 278.2h1.0v1.0h-1.0zM132.4 271.0h1.0v1.0h-1.0zM133.0 269.2h1.0v1.0h-1.0zM126.1 277.0h1.0v1.0h-1.0zM126.5 268.5h1.0v1.0h-1.0zM109.3 293.2h1.0v1.0h-1.0zM135.3 276.1h1.0v1.0h-1.0zM136.5 272.9h1.0v1.0h-1.0zM138.2 282.5h1.0v1.0h-1.0zM140.0 282.8h1.0v1.0h-1.0zM120.1 287.6h1.0v1.0h-1.0zM116.5 280.7h1.0v1.0h-1.0zM139.3 272.2h1.0v1.0h-1.0zM138.0 274.4h1.0v1.0h-1.0zM139.3 245.5h1.0v1.0h-1.0zM122.3 285.8h1.0v1.0h-1.0zM112.1 268.6h1.0v1.0h-1.0zM134.7 295.5h1.0v1.0h-1.0zM115.2 295.4h1.0v1.0h-1.0zM134.0 256.9h1.0v1.0h-1.0zM139.3 276.6h1.0v1.0h-1.0zM126.8 309.1h1.0v1.0h-1.0zM123.9 262.8h1.0v1.0h-1.0zM138.2 277.7h1.0v1.0h-1.0zM137.5 269.8h1.0v1.0h-1.0zM129.0 269.7h1.0v1.0h-1.0zM108.9 269.2h1.0v1.0h-1.0zM100.5 272.5h1.0v1.0h-1.0zM139.8 282.3h1.0v1.0h-1.0zM131.9 262.6h1.0v1.0h-1.0zM139.6 279.1h1.0v1.0h-1.0zM131.1 263.8h1.0v1.0h-1.0zM139.9 279.3h1.0v1.0h-1.0zM117.3 276.7h1.0v1.0h-1.0zM139.6 262.9h1.0v1.0h-1.0zM138.0 274.5h1.0v1.0h-1.0zM133.7 263.4h1.0v1.0h-1.0zM139.4 262.1h1.0v1.0h-1.0zM138.9 287.4h1.0v1.0h-1.0zM128.4 249.8h1.0v1.0h-1.0zM137.7 279.8h1.0v1.0h-1.0zM132.2 281.6h1.0v1.0h-1.0zM112.5 265.2h1.0v1.0h-1.0zM124.1 286.4h1.0v1.0h-1.0zM130.9 284.2h1.0v1.0h-1.0zM118.8 256.4h1.0v1.0h-1.0zM138.4 279.3h1.0v1.0h-1.0zM136.7 278.6h1.0v1.0h-1.0zM88.0 263.4h1.0v1.0h-1.0zM134.7 280.0h1.0v1.0h-1.0zM136.0 282.2h1.0v1.0h-1.0zM136.7 263.6h1.0v1.0h-1.0zM122.7 247.6h1.0v1.0h-1.0zM132.6 277.8h1.0v1.0h-1.0zM115.2 263.4h1.0v1.0h-1.0zM133.7 251.0h1.0v1.0h-1.0zM128.1 267.9h1.0v1.0h-1.0zM130.6 268.5h1.0v1.0h-1.0zM129.6 291.7h1.0v1.0h-1.0zM124.3 278.5h1.0v1.0h-1.0zM138.5 261.1h1.0v1.0h-1.0zM133.6 267.5h1.0v1.0h-1.0zM137.1 261.2h1.0v1.0h-1.0zM138.5 280.8h1.0v1.0h-1.0zM139.0 272.6h1.0v1.0h-1.0zM116.2 262.9h1.0v1.0h-1.0zM137.3 256.2h1.0v1.0h-1.0zM115.7 267.3h1.0v1.0h-1.0zM128.8 287.3h1.0v1.0h-1.0zM127.5 278.0h1.0v1.0h-1.0zM124.1 277.0h1.0v1.0h-1.0zM130.1 247.5h1.0v1.0h-1.0zM135.4 286.7h1.0v1.0h-1.0zM119.7 272.2h1.0v1.0h-1.0zM138.4 300.9h1.0v1.0h-1.0zM135.1 294.7h1.0v1.0h-1.0zM140.4 269.6h1.0v1.0h-1.0zM113.9 270.8h1.0v1.0h-1.0zM136.0 260.0h1.0v1.0h-1.0zM129.8 255.3h1.0v1.0h-1.0zM125.9 282.8h1.0v1.0h-1.0zM111.7 269.5h1.0v1.0h-1.0zM135.9 267.6h1.0v1.0h-1.0zM97.8 270.6h1.0v1.0h-1.0zM134.2 281.3h1.0v1.0h-1.0zM133.3 284.7h1.0v1.0h-1.0zM139.9 272.7h1.0v1.0h-1.0zM122.6 270.3h1.0v1.0h-1.0zM135.2 274.0h1.0v1.0h-1.0zM107.1 299.0h1.0v1.0h-1.0zM135.3 246.4h1.0v1.0h-1.0zM125.7 258.0h1.0v1.0h-1.0zM130.0 278.8h1.0v1.0h-1.0zM140.4 274.6h1.0v1.0h-1.0zM133.5 288.4h1.0v1.0h-1.0zM137.3 289.4h1.0v1.0h-1.0zM138.9 297.9h1.0v1.0h-1.0zM139.5 262.6h1.0v1.0h-1.0zM136.5 280.6h1.0v1.0h-1.0zM124.6 269.7h1.0v1.0h-1.0zM111.5 285.1h1.0v1.0h-1.0zM138.4 275.1h1.0v1.0h-1.0zM129.8 284.0h1.0v1.0h-1.0zM130.7 263.3h1.0v1.0h-1.0zM140.4 274.9h1.0v1.0h-1.0zM135.1 266.2h1.0v1.0h-1.0zM125.0 269.5h1.0v1.0h-1.0zM118.2 267.0h1.0v1.0h-1.0zM127.4 259.7h1.0v1.0h-1.0zM109.4 287.0h1.0v1.0h-1.0zM126.9 276.6h1.0v1.0h-1.0zM127.2 286.7h1.0v1.0h-1.0zM139.4 260.1h1.0v1.0h-1.0zM140.3 247.9h1.0v1.0h-1.0zM124.0 264.6h1.0v1.0h-1.0zM134.3 270.9h1.0v1.0h-1.0zM114.3 282.9h1.0v1.0h-1.0zM95.7 286.3h1.0v1.0h-1.0zM100.3 288.4h1.0v1.0h-1.0zM128.1 292.4h1.0v1.0h-1.0zM138.3 282.1h1.0v1.0h-1.0zM118.6 274.2h1.0v1.0h-1.0zM117.9 263.1h1.0v1.0h-1.0zM88.3 281.6h1.0v1.0h-1.0zM135.5 266.4h1.0v1.0h-1.0zM134.3 262.6h1.0v1.0h-1.0zM140.0 280.3h1.0v1.0h-1.0zM111.7 275.6h1.0v1.0h-1.0zM118.0 283.7h1.0v1.0h-1.0zM133.6 263.7h1.0v1.0h-1.0zM136.0 287.8h1.0v1.0h-1.0zM139.0 277.4h1.0v1.0h-1.0zM131.5 270.7h1.0v1.0h-1.0zM128.6 263.2h1.0v1.0h-1.0zM127.7 259.1h1.0v1.0h-1.0zM137.7 255.4h1.0v1.0h-1.0zM136.0 290.7h1.0v1.0h-1.0zM134.5 254.7h1.0v1.0h-1.0zM135.3 280.9h1.0v1.0h-1.0zM137.0 269.7h1.0v1.0h-1.0zM130.2 265.5h1.0v1.0h-1.0zM100.1 266.8h1.0v1.0h-1.0zM139.6 271.6h1.0v1.0h-1.0zM114.9 284.4h1.0v1.0h-1.0zM121.8 280.0h1.0v1.0h-1.0zM116.8 272.8h1.0v1.0h-1.0zM127.8 255.3h1.0v1.0h-1.0zM123.9 250.1h1.0v1.0h-1.0zM139.6 296.7h1.0v1.0h-1.0zM118.6 260.0h1.0v1.0h-1.0zM102.9 252.8h1.0v1.0h-1.0zM138.9 287.2h1.0v1.0h-1.0zM127.6 253.7h1.0v1.0h-1.0zM114.2 282.3h1.0v1.0h-1.0zM88.9 284.7h1.0v1.0h-1.0zM129.6 276.0h1.0v1.0h-1.0zM93.3 285.1h1.0v1.0h-1.0zM136.6 255.1h1.0v1.0h-1.0zM135.7 257.2h1.0v1.0h-1.0zM82.2 270.3h1.0v1.0h-1.0zM140.1 272.8h1.0v1.0h-1.0zM109.0 271.7h1.0v1.0h-1.0zM117.1 278.8h1.0v1.0h-1.0zM137.9 263.4h1.0v1.0h-1.0zM117.3 245.6h1.0v1.0h-1.0zM136.5 278.0h1.0v1.0h-1.0zM130.2 269.9h1.0v1.0h-1.0zM133.8 283.2h1.0v1.0h-1.0zM135.3 299.3h1.0v1.0h-1.0zM138.7 273.8h1.0v1.0h-1.0zM133.2 280.2h1.0v1.0h-1.0zM136.5 261.4h1.0v1.0h-1.0zM137.4 284.4h1.0v1.0h-1.0zM133.0 277.1h1.0v1.0h-1.0zM139.1 276.0h1.0v1.0h-1.0zM139.1 284.5h1.0v1.0h-1.0zM139.2 258.3h1.0v1.0h-1.0zM140.3 280.0h1.0v1.0h-1.0zM133.0 278.6h1.0v1.0h-1.0zM134.5 293.1h1.0v1.0h-1.0zM137.2 249.7h1.0v1.0h-1.0zM139.2 271.6h1.0v1.0h-1.0zM139.2 300.8h1.0v1.0h-1.0zM127.8 267.6h1.0v1.0h-1.0zM129.6 267.2h1.0v1.0h-1.0zM128.5 295.5h1.0v1.0h-1.0z" fill="#c43c2e"/>
<clipPath id="cpB"><rect x="120" y="243.3" width="60" height="80"/></clipPath>
<g clip-path="url(#cpB)"><g filter="url(#bl)">
<path d="M136.9 240H160.6C161 262 160.5 290 156 301C152 309 142 309 139 300C136.8 290 136.4 262 136.9 240Z" fill="#c84a30" opacity="0.8"/>
<path d="M139.6 240H157.6C158 262 157.5 288 154 298C150.5 305 143 305 141 297C139.3 288 139.1 262 139.6 240Z" fill="#d5683a"/>
</g><g transform="translate(-0.5 0) rotate(10 148 279)" filter="url(#bl)">
<ellipse cx="148.0" cy="274" rx="9.2" ry="31" fill="#de8a3a"/>
<ellipse cx="148.0" cy="276" rx="8.2" ry="25" fill="#e3c23e"/>
<ellipse cx="148.0" cy="277.5" rx="7.4" ry="21" fill="#b4c63f"/>
<ellipse cx="148.0" cy="278.5" rx="6.7" ry="18" fill="#5aa870"/>
<ellipse cx="148.0" cy="279.5" rx="6.0" ry="15.6" fill="#3558a6"/>
<ellipse cx="148.0" cy="280" rx="5.3" ry="14.1" fill="#4a478d"/>
</g></g>
<path d="M153.4 254.7h1.0v1.0h-1.0zM146.2 246.0h1.0v1.0h-1.0zM146.0 251.5h1.0v1.0h-1.0zM143.8 245.6h1.0v1.0h-1.0zM156.8 246.5h1.0v1.0h-1.0zM145.2 251.5h1.0v1.0h-1.0zM140.3 257.4h1.0v1.0h-1.0zM140.2 258.4h1.0v1.0h-1.0zM137.1 243.3h1.0v1.0h-1.0zM148.4 252.9h1.0v1.0h-1.0zM147.0 260.0h1.0v1.0h-1.0zM153.8 258.2h1.0v1.0h-1.0zM154.4 258.2h1.0v1.0h-1.0zM155.1 259.4h1.0v1.0h-1.0zM153.9 246.3h1.0v1.0h-1.0zM148.3 256.0h1.0v1.0h-1.0zM148.2 252.3h1.0v1.0h-1.0zM143.9 246.1h1.0v1.0h-1.0zM157.3 249.7h1.0v1.0h-1.0zM137.1 249.6h1.0v1.0h-1.0zM159.5 243.3h1.0v1.0h-1.0zM159.2 246.4h1.0v1.0h-1.0zM137.3 261.4h1.0v1.0h-1.0zM142.5 261.0h1.0v1.0h-1.0zM142.4 249.5h1.0v1.0h-1.0zM159.1 247.7h1.0v1.0h-1.0zM155.4 258.5h1.0v1.0h-1.0zM145.6 245.2h1.0v1.0h-1.0zM155.1 245.8h1.0v1.0h-1.0zM145.0 246.6h1.0v1.0h-1.0zM157.2 248.1h1.0v1.0h-1.0zM149.1 255.4h1.0v1.0h-1.0zM142.6 253.5h1.0v1.0h-1.0zM153.0 261.2h1.0v1.0h-1.0zM146.4 249.3h1.0v1.0h-1.0zM144.5 253.3h1.0v1.0h-1.0zM143.8 250.5h1.0v1.0h-1.0zM151.2 256.6h1.0v1.0h-1.0zM153.1 255.1h1.0v1.0h-1.0zM139.7 255.4h1.0v1.0h-1.0zM141.5 258.7h1.0v1.0h-1.0zM157.1 248.0h1.0v1.0h-1.0zM158.4 254.7h1.0v1.0h-1.0zM153.3 256.4h1.0v1.0h-1.0zM151.8 245.5h1.0v1.0h-1.0zM150.0 261.1h1.0v1.0h-1.0zM155.5 251.3h1.0v1.0h-1.0zM159.1 259.7h1.0v1.0h-1.0zM146.7 258.7h1.0v1.0h-1.0zM142.6 245.6h1.0v1.0h-1.0zM148.0 258.0h1.0v1.0h-1.0zM152.6 248.7h1.0v1.0h-1.0zM147.8 257.2h1.0v1.0h-1.0zM153.3 260.6h1.0v1.0h-1.0zM139.9 256.6h1.0v1.0h-1.0zM151.8 248.2h1.0v1.0h-1.0zM158.5 252.1h1.0v1.0h-1.0zM151.2 261.4h1.0v1.0h-1.0zM148.9 255.3h1.0v1.0h-1.0zM149.9 258.5h1.0v1.0h-1.0zM152.0 245.6h1.0v1.0h-1.0zM137.8 259.7h1.0v1.0h-1.0zM153.9 245.3h1.0v1.0h-1.0zM156.5 255.2h1.0v1.0h-1.0zM150.5 256.9h1.0v1.0h-1.0zM157.8 248.5h1.0v1.0h-1.0zM137.8 255.5h1.0v1.0h-1.0zM143.7 256.3h1.0v1.0h-1.0zM152.2 255.5h1.0v1.0h-1.0zM155.2 245.8h1.0v1.0h-1.0zM140.7 252.6h1.0v1.0h-1.0zM140.3 252.3h1.0v1.0h-1.0zM142.7 261.2h1.0v1.0h-1.0zM155.8 257.6h1.0v1.0h-1.0zM156.5 247.5h1.0v1.0h-1.0zM148.7 254.3h1.0v1.0h-1.0zM137.6 247.5h1.0v1.0h-1.0zM155.5 247.7h1.0v1.0h-1.0zM157.3 251.7h1.0v1.0h-1.0zM148.0 245.2h1.0v1.0h-1.0zM156.1 250.5h1.0v1.0h-1.0zM141.6 246.0h1.0v1.0h-1.0zM140.3 257.3h1.0v1.0h-1.0zM144.9 253.9h1.0v1.0h-1.0zM144.5 260.1h1.0v1.0h-1.0zM148.3 251.5h1.0v1.0h-1.0zM158.2 258.0h1.0v1.0h-1.0zM159.1 257.2h1.0v1.0h-1.0zM141.8 251.5h1.0v1.0h-1.0zM154.7 247.2h1.0v1.0h-1.0zM146.8 245.3h1.0v1.0h-1.0zM146.7 253.2h1.0v1.0h-1.0zM140.5 254.0h1.0v1.0h-1.0zM139.9 252.1h1.0v1.0h-1.0zM152.4 256.5h1.0v1.0h-1.0zM146.5 246.1h1.0v1.0h-1.0zM159.0 253.0h1.0v1.0h-1.0zM147.7 243.6h1.0v1.0h-1.0zM153.9 257.5h1.0v1.0h-1.0zM153.0 251.4h1.0v1.0h-1.0zM147.2 258.2h1.0v1.0h-1.0zM157.9 253.9h1.0v1.0h-1.0zM151.2 258.5h1.0v1.0h-1.0zM144.3 246.2h1.0v1.0h-1.0zM153.8 254.4h1.0v1.0h-1.0zM144.3 258.6h1.0v1.0h-1.0zM153.8 243.5h1.0v1.0h-1.0zM148.1 256.0h1.0v1.0h-1.0zM157.4 256.1h1.0v1.0h-1.0zM141.9 245.7h1.0v1.0h-1.0zM158.7 258.9h1.0v1.0h-1.0zM146.2 250.6h1.0v1.0h-1.0zM154.1 254.9h1.0v1.0h-1.0zM142.6 251.9h1.0v1.0h-1.0zM159.0 251.3h1.0v1.0h-1.0zM137.0 244.9h1.0v1.0h-1.0zM140.0 255.0h1.0v1.0h-1.0zM145.0 255.2h1.0v1.0h-1.0zM143.1 257.6h1.0v1.0h-1.0zM147.9 260.3h1.0v1.0h-1.0zM154.1 251.8h1.0v1.0h-1.0zM158.9 248.9h1.0v1.0h-1.0zM147.3 249.5h1.0v1.0h-1.0zM137.2 248.7h1.0v1.0h-1.0zM138.1 245.0h1.0v1.0h-1.0zM139.2 249.8h1.0v1.0h-1.0zM149.3 253.4h1.0v1.0h-1.0zM151.1 246.4h1.0v1.0h-1.0zM143.2 245.3h1.0v1.0h-1.0zM157.3 245.8h1.0v1.0h-1.0z" fill="#c64030"/>
<path d="M151.0 252.1h1.0v1.0h-1.0zM138.2 258.3h1.0v1.0h-1.0zM148.2 253.3h1.0v1.0h-1.0zM153.8 248.6h1.0v1.0h-1.0zM145.4 245.6h1.0v1.0h-1.0zM156.7 250.0h1.0v1.0h-1.0zM156.0 258.7h1.0v1.0h-1.0zM145.8 254.0h1.0v1.0h-1.0zM142.0 251.8h1.0v1.0h-1.0zM143.7 260.2h1.0v1.0h-1.0zM151.9 259.6h1.0v1.0h-1.0zM142.2 246.7h1.0v1.0h-1.0zM136.5 253.8h1.0v1.0h-1.0zM143.3 248.0h1.0v1.0h-1.0zM146.9 253.5h1.0v1.0h-1.0zM153.8 259.4h1.0v1.0h-1.0zM141.0 252.1h1.0v1.0h-1.0zM157.6 248.8h1.0v1.0h-1.0zM149.3 251.2h1.0v1.0h-1.0zM153.7 256.4h1.0v1.0h-1.0zM145.7 247.8h1.0v1.0h-1.0zM151.0 260.3h1.0v1.0h-1.0zM145.7 252.2h1.0v1.0h-1.0zM142.2 259.4h1.0v1.0h-1.0zM137.7 250.0h1.0v1.0h-1.0zM138.6 251.1h1.0v1.0h-1.0zM150.3 244.9h1.0v1.0h-1.0zM151.8 247.8h1.0v1.0h-1.0zM141.3 249.2h1.0v1.0h-1.0zM157.9 259.3h1.0v1.0h-1.0zM143.4 243.5h1.0v1.0h-1.0zM138.8 251.3h1.0v1.0h-1.0zM137.1 255.7h1.0v1.0h-1.0zM150.3 250.6h1.0v1.0h-1.0zM139.9 260.7h1.0v1.0h-1.0zM145.0 247.5h1.0v1.0h-1.0zM159.2 256.9h1.0v1.0h-1.0zM149.0 249.4h1.0v1.0h-1.0zM155.1 256.0h1.0v1.0h-1.0zM156.8 261.1h1.0v1.0h-1.0zM149.8 258.3h1.0v1.0h-1.0zM157.5 246.7h1.0v1.0h-1.0zM150.9 258.7h1.0v1.0h-1.0zM154.9 256.7h1.0v1.0h-1.0zM147.1 259.0h1.0v1.0h-1.0zM147.8 248.4h1.0v1.0h-1.0zM146.7 258.2h1.0v1.0h-1.0zM138.3 243.1h1.0v1.0h-1.0zM138.0 245.4h1.0v1.0h-1.0zM141.8 245.4h1.0v1.0h-1.0zM136.9 247.9h1.0v1.0h-1.0zM150.4 256.7h1.0v1.0h-1.0zM147.4 260.1h1.0v1.0h-1.0zM137.5 259.3h1.0v1.0h-1.0zM137.6 254.1h1.0v1.0h-1.0zM141.2 256.2h1.0v1.0h-1.0zM153.7 258.0h1.0v1.0h-1.0zM143.3 245.8h1.0v1.0h-1.0zM154.0 255.7h1.0v1.0h-1.0zM147.0 250.9h1.0v1.0h-1.0zM148.0 260.7h1.0v1.0h-1.0zM139.4 254.0h1.0v1.0h-1.0zM156.2 244.8h1.0v1.0h-1.0zM153.6 258.1h1.0v1.0h-1.0zM142.2 249.3h1.0v1.0h-1.0zM146.3 261.3h1.0v1.0h-1.0zM157.4 260.2h1.0v1.0h-1.0zM144.9 259.4h1.0v1.0h-1.0zM147.9 254.0h1.0v1.0h-1.0zM151.7 256.6h1.0v1.0h-1.0zM144.2 249.8h1.0v1.0h-1.0zM139.4 259.1h1.0v1.0h-1.0zM146.9 260.8h1.0v1.0h-1.0zM142.6 254.6h1.0v1.0h-1.0zM159.4 255.9h1.0v1.0h-1.0zM157.1 260.3h1.0v1.0h-1.0zM148.8 246.3h1.0v1.0h-1.0zM151.0 255.0h1.0v1.0h-1.0zM143.9 246.3h1.0v1.0h-1.0zM144.5 257.4h1.0v1.0h-1.0zM143.8 257.7h1.0v1.0h-1.0zM144.8 257.8h1.0v1.0h-1.0zM150.5 260.4h1.0v1.0h-1.0zM141.7 257.2h1.0v1.0h-1.0zM146.8 246.7h1.0v1.0h-1.0zM140.3 247.5h1.0v1.0h-1.0zM152.1 258.7h1.0v1.0h-1.0zM143.5 249.2h1.0v1.0h-1.0zM139.3 252.7h1.0v1.0h-1.0zM139.0 248.7h1.0v1.0h-1.0zM157.3 252.5h1.0v1.0h-1.0zM143.6 256.9h1.0v1.0h-1.0zM136.5 256.6h1.0v1.0h-1.0zM155.1 252.0h1.0v1.0h-1.0zM141.4 247.1h1.0v1.0h-1.0zM157.2 256.2h1.0v1.0h-1.0zM158.9 246.5h1.0v1.0h-1.0zM146.2 257.4h1.0v1.0h-1.0zM150.0 251.9h1.0v1.0h-1.0zM139.6 260.4h1.0v1.0h-1.0zM141.4 256.3h1.0v1.0h-1.0zM150.4 257.5h1.0v1.0h-1.0zM154.2 251.5h1.0v1.0h-1.0zM148.9 244.4h1.0v1.0h-1.0zM153.8 248.1h1.0v1.0h-1.0zM139.2 243.7h1.0v1.0h-1.0zM143.2 245.3h1.0v1.0h-1.0zM140.4 250.4h1.0v1.0h-1.0zM144.5 247.9h1.0v1.0h-1.0zM140.6 254.3h1.0v1.0h-1.0zM148.9 250.2h1.0v1.0h-1.0zM141.0 257.5h1.0v1.0h-1.0zM138.8 250.0h1.0v1.0h-1.0zM141.3 256.4h1.0v1.0h-1.0zM148.8 259.8h1.0v1.0h-1.0zM151.8 254.9h1.0v1.0h-1.0zM138.3 243.1h1.0v1.0h-1.0zM151.2 257.5h1.0v1.0h-1.0zM156.3 261.3h1.0v1.0h-1.0zM156.7 253.2h1.0v1.0h-1.0zM152.3 249.5h1.0v1.0h-1.0zM159.0 261.0h1.0v1.0h-1.0zM152.8 247.2h1.0v1.0h-1.0zM149.4 255.6h1.0v1.0h-1.0zM155.2 254.9h1.0v1.0h-1.0zM154.9 257.3h1.0v1.0h-1.0zM151.5 245.1h1.0v1.0h-1.0zM153.5 251.6h1.0v1.0h-1.0zM154.9 244.9h1.0v1.0h-1.0zM147.8 248.8h1.0v1.0h-1.0z" fill="#e08a45"/>
<rect x="75.4" y="191.6" width="66.5" height="127.7" fill="none" stroke="#7a7a7a" stroke-width="0.65" stroke-dasharray="0.9 0.5"/>
<rect x="156.3" y="194.1" width="92.1" height="122.2" fill="none" stroke="#7a7a7a" stroke-width="0.65" stroke-dasharray="0.9 0.5"/>
<line x1="52.80" y1="163.30" x2="52.80" y2="325.80" stroke="#333" stroke-width="1.7" />
<line x1="50.80" y1="325.00" x2="252.70" y2="325.00" stroke="#333" stroke-width="1.7" />
<line x1="49.80" y1="324.80" x2="52.80" y2="324.80" stroke="#333" stroke-width="0.9" />
<text x="46.80" y="327.50" font-size="7.6" fill="#231f20" text-anchor="end" >0</text>
<line x1="49.80" y1="276.10" x2="52.80" y2="276.10" stroke="#333" stroke-width="0.9" />
<text x="46.80" y="278.80" font-size="7.6" fill="#231f20" text-anchor="end" >64</text>
<line x1="49.80" y1="227.40" x2="52.80" y2="227.40" stroke="#333" stroke-width="0.9" />
<text x="46.80" y="230.10" font-size="7.6" fill="#231f20" text-anchor="end" >128</text>
<line x1="49.80" y1="178.60" x2="52.80" y2="178.60" stroke="#333" stroke-width="0.9" />
<text x="46.80" y="181.30" font-size="7.6" fill="#231f20" text-anchor="end" >192</text>
<line x1="52.80" y1="325.00" x2="52.80" y2="327.60" stroke="#333" stroke-width="0.9" />
<text x="47.80" y="337.6" font-size="7.6" fill="#231f20">10<tspan dy="-3.0" font-size="5.6" style="stroke-width:0.05px">0</tspan></text>
<line x1="91.90" y1="325.00" x2="91.90" y2="327.60" stroke="#333" stroke-width="0.9" />
<text x="86.90" y="337.6" font-size="7.6" fill="#231f20">10<tspan dy="-3.0" font-size="5.6" style="stroke-width:0.05px">1</tspan></text>
<line x1="131.00" y1="325.00" x2="131.00" y2="327.60" stroke="#333" stroke-width="0.9" />
<text x="126.00" y="337.6" font-size="7.6" fill="#231f20">10<tspan dy="-3.0" font-size="5.6" style="stroke-width:0.05px">2</tspan></text>
<line x1="170.10" y1="325.00" x2="170.10" y2="327.60" stroke="#333" stroke-width="0.9" />
<text x="165.10" y="337.6" font-size="7.6" fill="#231f20">10<tspan dy="-3.0" font-size="5.6" style="stroke-width:0.05px">3</tspan></text>
<line x1="209.20" y1="325.00" x2="209.20" y2="327.60" stroke="#333" stroke-width="0.9" />
<text x="204.20" y="337.6" font-size="7.6" fill="#231f20">10<tspan dy="-3.0" font-size="5.6" style="stroke-width:0.05px">4</tspan></text>
<line x1="248.30" y1="325.00" x2="248.30" y2="327.60" stroke="#333" stroke-width="0.9" />
<text x="243.30" y="337.6" font-size="7.6" fill="#231f20">10<tspan dy="-3.0" font-size="5.6" style="stroke-width:0.05px">5</tspan></text>
<text x="134.60" y="351.20" font-size="9.2" fill="#231f20" text-anchor="start" textLength="36.40" lengthAdjust="spacingAndGlyphs" class="big">HbF-APC</text>
<text class="big" transform="translate(27.4 251.3) rotate(-90)" font-size="9.2" fill="#231f20" textLength="15" lengthAdjust="spacingAndGlyphs">SSC</text>
<text x="254.00" y="153.60" font-size="11.0" fill="#231f20" text-anchor="start" textLength="6.80" lengthAdjust="spacingAndGlyphs" >C</text>
<polygon points="453.2,202.5 448.2,205.8 443.2,207.5 437.4,209.1 433.2,211.6 429.9,213.3 424.9,215.8 420.7,216.6 417.4,219.1 414.9,222.5 411.6,224.9 406.6,228.3 401.6,231.6 398.3,234.9 395.0,239.9 390.0,243.0 385.0,245.5 380.0,248.5 377.0,252.5 377.5,258.3 380.3,264.6 385.6,267.3 391.9,267.3 398.2,264.1 406.5,260.0 413.3,256.0 417.4,250.5 421.6,245.7 426.6,243.2 430.7,239.9 433.2,235.8 436.5,233.3 439.9,230.8 443.2,227.4 446.5,225.0 449.9,220.0 454.8,213.3 456.5,205.0" fill="#a3a3a3"/>
<path d="M452.4 203.6h0M450.8 204.1h0M447.8 205.3h0M444.3 207.8h0M443.2 207.5h0M439.6 208.3h0M437.6 209.1h0M435.6 209.9h0M433.4 212.0h0M430.2 213.5h0M427.3 214.1h0M425.2 215.6h0M420.2 217.0h0M416.6 218.8h0M415.3 223.0h0M411.4 224.9h0M409.4 226.6h0M406.2 228.5h0M404.2 230.0h0M402.2 231.7h0M398.1 235.0h0M397.6 237.0h0M394.9 239.5h0M392.7 240.8h0M390.2 243.4h0M387.1 243.8h0M384.3 245.5h0M381.9 246.7h0M379.8 248.2h0M378.9 251.3h0M375.9 252.1h0M377.4 254.9h0M377.2 258.4h0M379.6 262.0h0M380.2 264.7h0M382.8 265.9h0M385.0 266.4h0M388.6 267.8h0M392.3 266.4h0M395.0 265.4h0M398.3 263.5h0M401.4 262.6h0M404.0 261.8h0M405.5 259.9h0M409.5 258.7h0M411.6 257.5h0M413.0 256.1h0M415.9 253.9h0M418.1 249.9h0M419.9 247.4h0M421.5 245.6h0M424.4 244.6h0M427.2 242.9h0M429.1 241.7h0M430.7 239.3h0M432.2 238.0h0M433.6 235.8h0M436.4 233.5h0M440.1 231.1h0M444.1 227.1h0M447.5 223.5h0M448.7 222.1h0M450.9 219.6h0M452.1 217.3h0M452.6 215.9h0M455.2 212.9h0M456.6 210.4h0M456.7 207.3h0M456.0 205.0h0M405.4 227.8h0M441.3 232.9h0M397.4 267.0h0M393.6 239.6h0M395.9 270.9h0M427.0 208.1h0M399.2 265.8h0M433.6 239.4h0M450.8 220.3h0M397.9 266.4h0M438.7 206.8h0M390.6 236.8h0M441.8 234.3h0M398.0 229.9h0M375.9 241.3h0M452.6 223.6h0M397.2 269.3h0M441.8 206.9h0M428.6 244.7h0M453.2 215.5h0M422.5 256.9h0M448.3 204.4h0M404.7 219.4h0M420.2 214.2h0M457.8 221.7h0M440.8 230.2h0M449.9 222.6h0M445.3 226.1h0M434.5 203.6h0M438.8 203.9h0M399.7 226.1h0M457.1 220.6h0M390.6 268.0h0M450.5 223.0h0M392.5 238.9h0M450.0 232.8h0M448.8 229.0h0M459.7 231.8h0M380.4 246.4h0M428.3 253.9h0M425.2 210.8h0M456.4 218.2h0M415.8 257.1h0M376.4 250.3h0M441.4 231.4h0M429.4 243.6h0M455.9 215.8h0M414.8 261.4h0M384.2 245.8h0M438.9 238.0h0M443.8 232.1h0M426.2 204.9h0M444.6 204.8h0M437.7 249.5h0M423.0 211.9h0M388.5 238.4h0M451.0 232.4h0M440.5 246.4h0M450.6 237.7h0M404.0 229.7h0M426.4 255.5h0M458.9 220.8h0M421.4 247.6h0M455.4 227.5h0M438.7 234.8h0M444.9 206.3h0M452.1 222.9h0M458.2 222.2h0M397.2 230.2h0M397.9 235.1h0M377.2 251.6h0M381.7 236.2h0M391.9 270.4h0M437.6 235.2h0M433.7 238.7h0M412.0 264.8h0M377.7 251.1h0M433.7 235.8h0M458.2 220.9h0M433.4 206.8h0M387.2 243.3h0M404.6 271.3h0M444.1 227.1h0M444.6 229.4h0M426.7 246.8h0M392.8 236.0h0M429.0 245.3h0M437.9 207.4h0M445.7 237.7h0M382.4 243.6h0M411.7 220.4h0M457.4 219.3h0M442.8 233.9h0M441.7 206.8h0M377.2 243.9h0M391.5 239.5h0M410.3 258.6h0M458.5 219.3h0M415.0 253.7h0M422.7 246.9h0M391.0 241.8h0M416.9 217.4h0M458.8 232.5h0M385.7 242.5h0M384.8 242.4h0M405.0 218.8h0M392.7 236.1h0M391.2 270.6h0M412.7 223.0h0M440.3 207.3h0M451.6 221.0h0M419.4 258.0h0M381.3 244.1h0M412.6 213.1h0M436.4 234.3h0M445.1 238.2h0M403.2 230.5h0M445.2 204.7h0M416.4 252.6h0M453.3 215.6h0M381.2 239.3h0M393.7 231.9h0M385.1 232.4h0M455.3 220.8h0M413.0 223.5h0M392.5 234.6h0M384.7 240.9h0M450.0 221.0h0M394.1 268.0h0M401.8 225.4h0M453.7 221.4h0M391.6 237.3h0M417.2 251.3h0M432.5 240.0h0M446.8 205.1h0M399.9 232.7h0M403.9 229.4h0M447.8 204.1h0M424.9 205.1h0M394.4 267.4h0M448.0 203.6h0M398.4 275.2h0M412.4 214.5h0M446.8 203.5h0M435.2 203.2h0M431.9 210.8h0M378.9 248.5h0M384.0 235.1h0M402.7 228.2h0M411.5 258.4h0M449.8 225.7h0M458.0 221.6h0M451.2 235.2h0M433.7 243.7h0M452.6 216.5h0M408.2 222.6h0M452.2 230.0h0M388.5 241.6h0M452.2 218.1h0M410.0 216.5h0M387.3 237.4h0M451.3 226.4h0M423.7 213.3h0M434.2 208.5h0M403.2 222.6h0M412.1 223.7h0M406.1 265.6h0M449.6 227.7h0M419.6 250.3h0M388.4 235.7h0M393.5 269.7h0M397.5 264.6h0M445.4 231.2h0M433.5 240.4h0M448.4 225.3h0M413.2 219.6h0M394.3 276.4h0M423.9 248.2h0M433.2 208.9h0M375.6 246.0h0M425.2 253.6h0M439.3 232.9h0M424.6 249.8h0M461.9 224.3h0M423.0 249.1h0M452.5 220.5h0M452.0 225.1h0M437.3 206.4h0M386.8 244.5h0M383.4 236.1h0M418.1 255.6h0M440.5 242.9h0M440.1 234.6h0M422.6 210.5h0M429.3 243.1h0M420.3 211.0h0M441.0 231.3h0M403.8 229.9h0M395.7 238.6h0M409.0 263.6h0M396.2 236.2h0M449.9 224.1h0M409.3 222.5h0M395.4 235.0h0M392.1 233.9h0M396.4 235.4h0M456.7 227.8h0M387.2 240.9h0M445.7 232.0h0M457.9 222.6h0M394.0 235.0h0M402.1 229.3h0M444.9 250.3h0M444.7 234.7h0M383.6 244.8h0M441.9 204.1h0M392.2 237.8h0M435.1 204.5h0M411.2 258.5h0M433.1 242.2h0M390.4 235.6h0M423.0 245.2h0M443.6 230.1h0M430.6 211.7h0M440.8 238.0h0M426.0 244.3h0M395.1 236.1h0M451.3 224.7h0M424.6 208.2h0M380.9 244.6h0M446.7 226.2h0M395.7 235.5h0M428.9 207.7h0M409.6 218.9h0M453.2 227.2h0M442.3 204.2h0M440.0 231.8h0M430.3 242.0h0M448.2 231.0h0M413.4 259.5h0M453.7 230.0h0M443.7 233.4h0M427.7 244.9h0M377.1 247.9h0M438.8 232.6h0M379.8 238.8h0M448.7 204.9h0M449.0 224.9h0M443.3 229.1h0M450.0 227.3h0M371.4 270.8h0M353.1 284.3h0M359.0 287.9h0M388.6 292.4h0M357.4 276.0h0M367.8 293.9h0M369.5 257.6h0M369.1 291.2h0M397.3 267.1h0M386.4 276.2h0M343.3 266.0h0M360.1 285.6h0M350.6 273.2h0M376.0 258.4h0M367.4 290.1h0M394.1 269.1h0M405.1 270.5h0M379.1 265.7h0M351.7 284.1h0M378.3 283.5h0M401.1 273.6h0M405.8 266.3h0M374.6 271.1h0M368.2 281.2h0M365.9 248.8h0M333.2 289.9h0M371.2 269.4h0M363.0 284.7h0M407.1 271.6h0M362.8 275.8h0M383.7 286.0h0M376.9 269.0h0M370.8 270.2h0M409.2 258.9h0M364.7 247.2h0M353.6 278.6h0M365.5 259.0h0M375.0 272.3h0M369.2 272.7h0M373.9 261.5h0M365.6 275.4h0M341.7 280.5h0M377.2 246.4h0M376.7 258.5h0M372.8 244.8h0M380.0 243.5h0M377.9 275.6h0M380.0 273.9h0M382.9 266.2h0M373.6 285.4h0M367.0 278.8h0M368.8 276.7h0M357.8 270.5h0M400.4 279.1h0M368.1 262.5h0M397.4 269.7h0M362.0 274.5h0M374.4 278.1h0M376.6 244.5h0M370.2 253.6h0M371.1 258.3h0M375.6 268.4h0M349.4 272.4h0M385.0 282.4h0M373.4 272.2h0M371.8 275.7h0M402.5 265.6h0M362.1 265.8h0M368.3 256.1h0M376.7 268.7h0M353.0 272.1h0M377.4 264.3h0M400.2 269.5h0M363.4 273.2h0M370.0 279.5h0M398.9 271.2h0M374.2 262.7h0M367.7 259.3h0M381.1 293.5h0M364.7 271.2h0M371.6 290.8h0M368.5 273.5h0M370.9 247.8h0M372.4 263.2h0M337.5 290.8h0M364.9 269.0h0M385.5 276.1h0M362.1 270.9h0M372.6 265.3h0M378.1 280.6h0M415.4 269.4h0M362.0 276.2h0M378.5 265.6h0M372.5 272.0h0M358.7 277.0h0M402.2 274.1h0M401.7 269.6h0M342.3 248.5h0M389.1 283.5h0M358.5 268.7h0M378.6 290.2h0M382.7 240.3h0M370.8 262.0h0M361.1 263.8h0M369.1 274.1h0M378.5 246.3h0M359.5 272.7h0M352.2 282.3h0M374.2 268.2h0M392.1 271.5h0M369.1 283.4h0M402.7 281.5h0M369.6 260.4h0M374.6 289.6h0M371.1 276.7h0M369.6 254.7h0M378.6 266.2h0M339.5 279.2h0M363.9 256.4h0M382.4 268.5h0M381.6 267.2h0M380.2 272.8h0M370.2 268.3h0M364.0 257.1h0M394.9 268.5h0M398.5 277.0h0M369.3 243.1h0M383.4 242.4h0M419.2 249.2h0M383.1 274.2h0M381.4 271.4h0M372.6 282.7h0M405.4 264.9h0M407.9 266.4h0M400.5 271.7h0M384.4 270.3h0M416.1 269.8h0M365.6 257.2h0M422.5 254.3h0M415.8 255.4h0M375.3 291.6h0M359.7 274.4h0M369.0 271.1h0M383.2 269.4h0M367.9 282.3h0M365.0 271.9h0M376.3 257.2h0M361.4 279.4h0M360.5 273.8h0M383.8 276.2h0M366.2 255.6h0M375.2 266.5h0M375.3 263.4h0M377.9 280.6h0M359.7 282.0h0M363.6 275.9h0M377.2 273.4h0M375.1 275.3h0M378.2 286.1h0M373.3 270.0h0M361.3 274.5h0M361.6 273.6h0M352.4 286.8h0M396.3 229.4h0M390.1 282.9h0M344.6 258.9h0M374.5 260.5h0M359.0 269.2h0M391.2 240.1h0M376.0 263.8h0M367.4 275.1h0M386.6 295.6h0M392.3 280.3h0M353.7 261.6h0M372.8 271.4h0M386.6 274.3h0M341.6 264.8h0M389.1 275.9h0M376.6 249.3h0M386.3 286.7h0M375.2 289.7h0M368.7 262.5h0M374.6 287.7h0M376.8 264.5h0M363.9 295.9h0M372.9 274.8h0M378.3 260.3h0M361.2 262.3h0M381.7 286.5h0M379.5 267.2h0M351.7 279.5h0M380.1 264.7h0M384.3 270.2h0M358.0 246.3h0M420.5 255.7h0M387.6 282.7h0M367.9 294.7h0M389.7 273.6h0M375.8 272.5h0M397.2 270.7h0M382.5 290.8h0M366.8 259.0h0M357.8 260.6h0M375.4 252.3h0M369.1 265.6h0M386.4 241.1h0M375.6 247.5h0M412.8 266.3h0M385.0 233.7h0M376.4 257.2h0M365.2 254.6h0M390.5 271.8h0M375.5 273.7h0M361.1 247.2h0M369.0 269.0h0M349.3 271.1h0M354.0 292.4h0M370.6 293.1h0M364.2 255.1h0M350.7 290.5h0M368.0 271.7h0M362.6 271.4h0M371.9 268.6h0M386.5 287.3h0M375.2 288.1h0M386.4 275.1h0M372.4 269.9h0M367.2 284.6h0M375.0 262.5h0M362.4 275.8h0M358.7 290.7h0M360.9 289.7h0M354.5 281.0h0M338.6 284.8h0M363.1 292.2h0M355.9 288.3h0M366.0 293.7h0M364.0 294.8h0M363.9 291.6h0M360.8 293.9h0M359.6 286.4h0M341.7 293.5h0M345.4 283.2h0M341.9 291.6h0M356.4 293.2h0M357.0 287.3h0M362.0 290.1h0M355.7 278.5h0M356.0 285.6h0M357.9 286.4h0M328.8 288.6h0M349.2 280.9h0M359.1 292.9h0M361.6 291.0h0M354.1 275.9h0M358.3 295.0h0M328.7 292.7h0M350.0 290.0h0M333.1 289.4h0M357.3 286.0h0M362.4 289.3h0M360.1 288.3h0M339.8 294.5h0M364.5 294.1h0M365.2 294.3h0M362.2 286.6h0M348.4 285.4h0M359.8 286.6h0M337.4 285.1h0M358.5 295.3h0M357.7 283.0h0M357.7 288.9h0M357.1 289.4h0M354.2 289.7h0M342.2 292.0h0M353.8 276.1h0M350.6 286.6h0M351.9 282.6h0M350.5 292.7h0M344.8 280.8h0M332.5 289.1h0M355.2 294.3h0M358.4 284.3h0M359.8 285.0h0M362.8 287.7h0M349.1 290.3h0M333.1 295.5h0M357.5 295.6h0M354.8 279.8h0M358.0 286.4h0M334.2 262.0h0M338.2 295.5h0M426.8 206.7h0M474.9 253.9h0M368.4 291.8h0M376.3 290.4h0M415.0 259.9h0M396.4 221.6h0M372.3 281.2h0M385.0 291.6h0M374.8 249.3h0M363.7 268.8h0M378.6 237.2h0M386.3 244.8h0M375.2 253.5h0M384.1 239.9h0M386.8 285.4h0M369.0 254.0h0M383.5 232.4h0M375.6 285.1h0M410.6 270.3h0M437.0 242.9h0M381.8 273.4h0M430.5 204.5h0M360.0 275.3h0M393.4 271.5h0M431.7 259.6h0M391.6 230.1h0M409.1 270.8h0M430.5 263.2h0M425.6 244.8h0M410.4 286.2h0M435.8 243.3h0M406.7 283.0h0M480.2 251.2h0M416.5 220.2h0M448.6 240.6h0M456.1 213.4h0M347.0 284.1h0M350.9 256.0h0M444.4 230.6h0M358.4 269.0h0M370.4 283.0h0M431.1 248.8h0M422.2 259.5h0M408.4 210.9h0M379.2 241.6h0M361.5 285.7h0M453.5 235.7h0M368.3 245.6h0M327.3 313.3h0M339.4 313.3h0M346.7 313.3h0M368.3 313.3h0M379.2 313.3h0M402.4 312.6h0M313.5 298.5h0M313.5 300.8h0M321.2 298.8h0M324.0 297.3h0M326.9 296.0h0M346.7 303.3h0M350.4 306.2h0M357.7 303.3h0M355.4 309.4h0M359.6 309.4h0M359.6 296.9h0M368.3 300.8h0M369.6 306.2h0M379.2 296.9h0M381.7 303.3h0M390.5 300.5h0M404.7 297.0h0M421.2 293.5h0M338.3 297.4h0M344.6 298.2h0M351.6 297.5h0M464.9 190.8h0M453.3 196.6h0M449.1 198.6h0M436.3 199.6h0M441.5 195.3h0M384.6 216.2h0M376.5 220.6h0M399.6 210.4h0M402.5 212.2h0" stroke="#a3a3a3" stroke-width="2.6" stroke-linecap="round" fill="none"/>
<path d="M312.5 323.9h0M315.6 323.9h0M318.7 323.9h0M321.8 323.9h0M324.9 323.9h0M328.0 323.9h0M331.1 323.9h0M334.2 323.9h0M337.3 323.9h0M340.4 323.9h0M343.5 323.9h0M346.6 323.9h0M349.7 323.9h0M352.8 323.9h0M355.9 323.9h0M359.0 323.9h0M362.1 323.9h0M365.2 323.9h0" stroke="#a3a3a3" stroke-width="2.0" stroke-linecap="round" fill="none"/>
<path d="M444.0 207.5h0M446.5 208.3h0M437.4 210.8h0M436.6 212.5h0M433.2 216.6h0M430.7 217.5h0M428.2 218.3h0M434.9 217.5h0M437.4 218.3h0M439.0 216.6h0M439.9 219.1h0M437.4 220.8h0M433.2 219.9h0M430.7 220.8h0M427.4 219.9h0M424.9 221.6h0M423.3 223.3h0M426.6 224.1h0M429.9 223.3h0M432.4 224.1h0M434.9 223.3h0M436.6 224.9h0M439.0 223.3h0M419.9 224.9h0M419.1 226.6h0M421.6 227.4h0M424.1 228.3h0M427.4 227.4h0M429.9 227.4h0M431.6 228.3h0M424.9 230.7h0M421.6 230.7h0M418.3 231.6h0M415.8 233.2h0M419.9 234.1h0M424.1 233.2h0M428.2 234.9h0M429.1 237.4h0M422.4 235.7h0M419.1 236.6h0M415.8 237.4h0M413.3 238.2h0M411.6 235.7h0M408.3 238.2h0M414.1 240.7h0M416.6 240.7h0M418.3 239.9h0M420.8 242.4h0M419.1 244.9h0M414.9 244.0h0M413.3 243.2h0M405.0 244.0h0M405.8 247.4h0M410.0 248.2h0M412.5 249.0h0M419.9 248.2h0M414.1 253.2h0M402.5 239.1h0M416.6 229.1h0M425.7 237.4h0M375.8 267.8h0M389.9 273.6h0M385.8 233.3h0M442.8 195.8h0" stroke="#cf4a32" stroke-width="2.6" stroke-linecap="round" fill="none"/>
<path d="M405.3 181.3h0M387.5 187.1h0M391.3 194.4h0M375.8 201.9h0M409.9 208.2h0" stroke="#6e4496" stroke-width="2.7" stroke-linecap="round" fill="none"/>
<path d="M390.2 210.4h0M395.0 219.1h0M401.3 223.7h0M417.5 207.5h0M434.4 229.2h0M349.2 242.1h0" stroke="#3d9ad8" stroke-width="2.7" stroke-linecap="round" fill="none"/>
<line x1="301.60" y1="324.40" x2="512.70" y2="159.10" stroke="#444" stroke-width="0.6" />
<line x1="301.50" y1="159.60" x2="301.50" y2="325.30" stroke="#333" stroke-width="1.5" />
<line x1="300.80" y1="324.50" x2="512.70" y2="324.50" stroke="#333" stroke-width="1.5" />
<line x1="298.20" y1="316.90" x2="301.50" y2="316.90" stroke="#333" stroke-width="0.9" />
<text x="295.30" y="319.50" font-size="7.4" fill="#231f20" text-anchor="end" >2.5</text>
<line x1="311.20" y1="324.50" x2="311.20" y2="327.40" stroke="#333" stroke-width="0.9" />
<text x="311.20" y="337.60" font-size="7.4" fill="#231f20" text-anchor="middle" >2.5</text>
<line x1="298.20" y1="281.27" x2="301.50" y2="281.27" stroke="#333" stroke-width="0.9" />
<text x="295.30" y="283.88" font-size="7.4" fill="#231f20" text-anchor="end" >5.0</text>
<line x1="356.82" y1="324.50" x2="356.82" y2="327.40" stroke="#333" stroke-width="0.9" />
<text x="356.82" y="337.60" font-size="7.4" fill="#231f20" text-anchor="middle" >5.0</text>
<line x1="298.20" y1="245.65" x2="301.50" y2="245.65" stroke="#333" stroke-width="0.9" />
<text x="295.30" y="248.25" font-size="7.4" fill="#231f20" text-anchor="end" >7.5</text>
<line x1="402.45" y1="324.50" x2="402.45" y2="327.40" stroke="#333" stroke-width="0.9" />
<text x="402.45" y="337.60" font-size="7.4" fill="#231f20" text-anchor="middle" >7.5</text>
<line x1="298.20" y1="210.02" x2="301.50" y2="210.02" stroke="#333" stroke-width="0.9" />
<text x="295.30" y="212.62" font-size="7.4" fill="#231f20" text-anchor="end" >10.0</text>
<line x1="448.07" y1="324.50" x2="448.07" y2="327.40" stroke="#333" stroke-width="0.9" />
<text x="448.07" y="337.60" font-size="7.4" fill="#231f20" text-anchor="middle" >10.0</text>
<line x1="298.20" y1="174.40" x2="301.50" y2="174.40" stroke="#333" stroke-width="0.9" />
<text x="295.30" y="177.00" font-size="7.4" fill="#231f20" text-anchor="end" >12.5</text>
<line x1="493.70" y1="324.50" x2="493.70" y2="327.40" stroke="#333" stroke-width="0.9" />
<text x="493.70" y="337.60" font-size="7.4" fill="#231f20" text-anchor="middle" >12.5</text>
<text class="big" x="334" y="350.9" font-size="9.2" fill="#231f20" textLength="146.5" lengthAdjust="spacingAndGlyphs">Normalized log<tspan dy="2.3" font-size="6.5">2</tspan><tspan dy="-2.3"> read count HbF low</tspan></text>
<text class="big" transform="translate(274.1 318) rotate(-90)" font-size="9.2" fill="#231f20" textLength="151.3" lengthAdjust="spacingAndGlyphs">Normalized log<tspan dy="2.3" font-size="6.5">2</tspan><tspan dy="-2.3"> read count HbF high</tspan></text>
<circle cx="434" cy="291.8" r="2.2" fill="#c4433a"/>
<text x="440.00" y="293.90" font-size="7.2" fill="#231f20" text-anchor="start" textLength="67.00" lengthAdjust="spacingAndGlyphs" >Non-targeting sgRNA</text>
<circle cx="434" cy="302.5" r="2.2" fill="#7d5a9f"/>
<text x="440.00" y="304.60" font-size="7.2" fill="#231f20" text-anchor="start" textLength="39.80" lengthAdjust="spacingAndGlyphs" >LRF(ZBTB7A)</text>
<circle cx="434" cy="313.7" r="2.2" fill="#6aaedb"/>
<text x="440.00" y="315.80" font-size="7.2" fill="#231f20" text-anchor="start" textLength="16.80" lengthAdjust="spacingAndGlyphs" >SPOP</text>
<text x="323.90" y="239.80" font-size="7.4" fill="#231f20" text-anchor="start" textLength="17.50" lengthAdjust="spacingAndGlyphs" >SPOP</text>
<text x="371.70" y="229.50" font-size="7.4" fill="#231f20" text-anchor="start" textLength="17.50" lengthAdjust="spacingAndGlyphs" >SPOP</text>
<text x="384.80" y="205.70" font-size="7.4" fill="#231f20" text-anchor="start" textLength="17.10" lengthAdjust="spacingAndGlyphs" >SPOP</text>
<text x="410.50" y="201.90" font-size="7.4" fill="#231f20" text-anchor="start" textLength="17.20" lengthAdjust="spacingAndGlyphs" >SPOP</text>
<text x="455.80" y="243.90" font-size="7.4" fill="#231f20" text-anchor="start" textLength="17.50" lengthAdjust="spacingAndGlyphs" >SPOP</text>
<line x1="341.60" y1="239.20" x2="348.40" y2="241.80" stroke="#555" stroke-width="0.5" />
<line x1="391.40" y1="225.60" x2="394.40" y2="224.40" stroke="#555" stroke-width="0.5" />
<line x1="394.40" y1="224.40" x2="395.00" y2="220.40" stroke="#555" stroke-width="0.5" />
<line x1="394.40" y1="224.40" x2="400.20" y2="223.70" stroke="#555" stroke-width="0.5" />
<line x1="391.50" y1="206.30" x2="390.40" y2="209.00" stroke="#555" stroke-width="0.5" />
<line x1="417.70" y1="202.40" x2="417.60" y2="206.30" stroke="#555" stroke-width="0.5" />
<line x1="438.10" y1="231.80" x2="452.50" y2="239.50" stroke="#555" stroke-width="0.5" />
<path d="M0 0.5H520" stroke="#111" stroke-width="1.2"/>
<path d="M0.8 0V361" stroke="#555" stroke-width="1.7"/>
<path d="M519.3 0V361" stroke="#555" stroke-width="1.5"/>
<path d="M0 359.9H520" stroke="#444" stroke-width="2.2"/>
</svg></body></html>
